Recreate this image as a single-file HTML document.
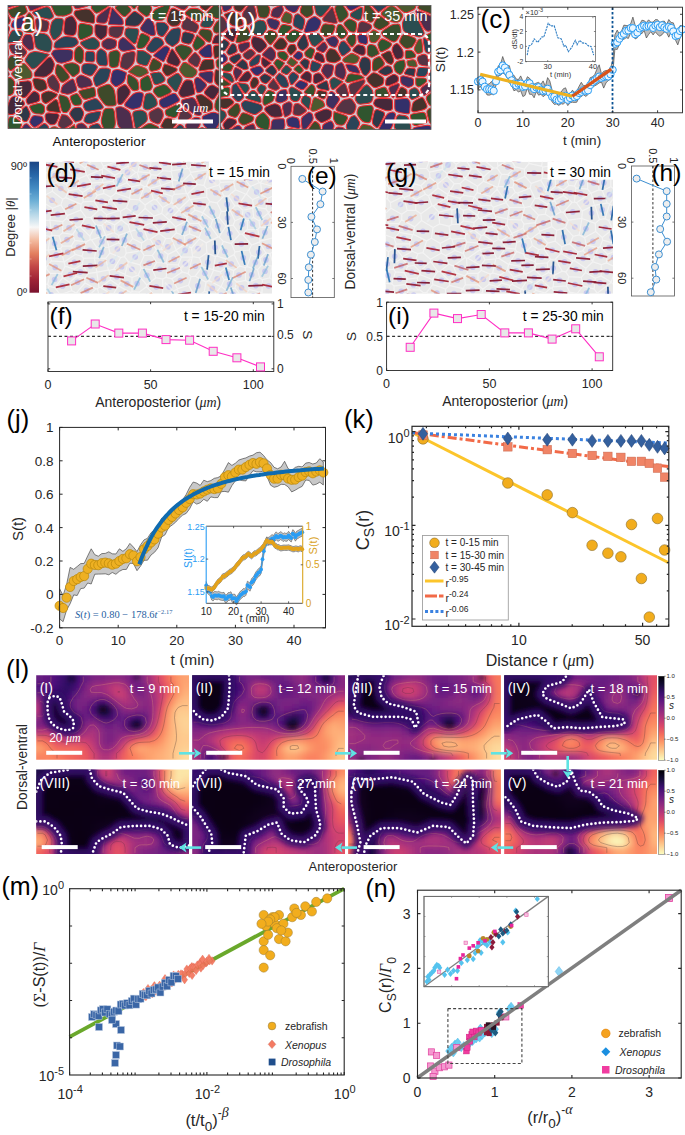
<!DOCTYPE html>
<html><head><meta charset="utf-8"><title>Figure</title>
<style>
html,body{margin:0;padding:0;background:#fff;width:685px;height:1135px;overflow:hidden}
svg{display:block}
</style></head><body>
<svg width="685" height="1135" viewBox="0 0 685 1135" font-family='"Liberation Sans", sans-serif'>
<rect width="685" height="1135" fill="#fff"/>
<clipPath id="cpa"><rect x="8" y="5.5" width="211" height="123"/></clipPath>
<g clip-path="url(#cpa)">
<rect x="8" y="5.5" width="211" height="123" fill="#d4c4cc"/>
<g stroke="#ee2a2e" stroke-width="1.05" stroke-linejoin="round"><path d="M96.1 86.3Q96.6 86.8 100 85.2L104.5 83.1Q107.9 81.5 108.8 78L110 73.3Q111 69.8 110 69.3L108.8 68.6Q107.9 68 105.4 68.1L102.1 68.1Q99.6 68.2 97.6 71.1L94.9 75.1Q92.9 78 93.5 80.2L94.3 83.1Q94.9 85.2 95.4 85.7Z" fill="#2a4458"/><path d="M92.2 83.7Q93 85.8 88.7 86.8L83.1 88Q78.9 89 77.8 85.9L76.5 81.7Q75.4 78.6 77.1 77.3L79.3 75.6Q80.9 74.3 83.8 75.7L87.7 77.4Q90.6 78.8 91.3 80.9Z" fill="#4d2e4e"/><path d="M115.9 100Q116.5 104.7 115.8 105L114.9 105.6Q114.2 106 111.6 105.9L108 105.9Q105.4 105.9 103.3 103L100.5 99.1Q98.4 96.2 98 93.8L97.6 90.6Q97.2 88.2 100.7 86.8L105.3 84.9Q108.8 83.5 110.5 85.1L112.7 87.4Q114.4 89 115 93.7Z" fill="#3e4a2a"/><path d="M93.4 74Q91.4 77 88.5 75.6L84.6 73.9Q81.7 72.5 81.8 70.4L81.8 67.7Q81.8 65.6 82.7 64.9L83.8 64Q84.7 63.4 87.7 63.5L91.7 63.7Q94.7 63.9 95.7 64.8L97.1 66.2Q98.1 67.2 96.1 70.1Z" fill="#2a4458"/><path d="M105.4 65.9Q107.9 66 107.5 61.9L107 56.4Q106.7 52.3 104.9 51.1L102.6 49.5Q100.8 48.2 99.6 49.3L97.9 50.8Q96.7 51.9 96.7 55L96.6 59.1Q96.5 62.1 97.5 63.2L98.7 64.7Q99.6 65.7 102.1 65.8Z" fill="#2a4458"/><path d="M113.6 48.5Q116 47.7 116.3 45.5L116.6 42.4Q116.8 40.2 114.3 39.4L110.8 38.4Q108.2 37.7 106.3 38.9L103.7 40.5Q101.8 41.7 101.9 43.2L101.9 45.1Q101.9 46.6 103.7 47.7L106.2 49.2Q108 50.3 110.4 49.5Z" fill="#4d2e4e"/><path d="M72.6 76.6Q72 76.5 69.1 73L65.1 68.4Q62.2 64.9 65.5 64.1L69.8 63.1Q73.1 62.3 75 63.3L77.5 64.6Q79.5 65.6 79.5 67.7L79.5 70.4Q79.5 72.5 77.9 73.8L75.7 75.5Q74 76.8 73.4 76.7Z" fill="#36502e"/><path d="M106.8 25.9Q106.6 25.7 103.5 25.3L99.3 24.8Q96.1 24.4 95.7 24.7L95.2 25.1Q94.9 25.4 94.9 28.3L94.9 32.1Q94.9 34.9 96.7 36.5L99 38.6Q100.8 40.2 102.6 38.8L105 37Q106.9 35.7 107 32.9L107.1 29.1Q107.3 26.3 107.1 26.1Z" fill="#45283a"/><path d="M55.4 60Q57 62.5 58.4 62.7L60.4 63.1Q61.8 63.4 65 62.4L69.3 61.1Q72.5 60.1 72.7 56.9L73 52.6Q73.2 49.3 67.4 49.4L59.6 49.6Q53.8 49.7 53.1 50.9L52.1 52.5Q51.4 53.6 51.5 53.8L51.5 54.1Q51.6 54.3 53.2 56.7Z" fill="#3d3060"/><path d="M87.5 99.1Q83.9 100.1 82.3 97.7L80.2 94.4Q78.6 92 78.8 91.6L79.1 91.1Q79.3 90.7 83.5 89.6L89.1 88.2Q93.3 87.1 93.8 87.5L94.5 88.1Q95 88.6 95.3 91L95.7 94.2Q96 96.6 92.4 97.6Z" fill="#3e4a2a"/><path d="M108 18.7Q106.9 23.6 103.7 23.3L99.5 22.9Q96.3 22.7 96.6 20.6L97 17.8Q97.3 15.8 101.1 13L106.1 9.4Q109.9 6.6 110.1 6.9L110.5 7.2Q110.7 7.4 109.6 12.2Z" fill="#4d2e4e"/><path d="M88.5 51.3Q85.7 51.1 85.5 54.2L85.1 58.4Q84.8 61.6 87.8 61.7L91.8 62Q94.8 62.1 94.9 59L94.9 54.9Q95 51.8 92.2 51.6Z" fill="#2a4458"/><path d="M119 26.5Q123.4 26.5 123.5 26.7L123.7 27Q123.8 27.2 123.2 29.5L122.5 32.6Q121.9 35 120.6 36L118.7 37.4Q117.4 38.5 114.8 37.7L111.4 36.6Q108.8 35.7 108.9 32.9L108.9 29.2Q109 26.4 113.3 26.4Z" fill="#553444"/><path d="M111.3 67.3Q112.2 67.8 114 67.5L116.5 67.1Q118.3 66.8 119 62.8L119.9 57.3Q120.5 53.3 119.4 52.2L117.8 50.7Q116.6 49.6 114.2 50.4L111 51.4Q108.6 52.2 108.8 56.3L109 61.8Q109.2 65.9 110.1 66.5Z" fill="#36502e"/><path d="M83.8 54.1Q84.1 50.9 82.6 49.2L80.7 47Q79.2 45.4 77.9 46.6L76.1 48.2Q74.7 49.4 74.5 52.7L74.4 57Q74.2 60.2 76.1 61.3L78.5 62.8Q80.4 63.9 81.2 63.2L82.3 62.2Q83.1 61.4 83.4 58.3Z" fill="#3e4a2a"/><path d="M119.4 49Q118.2 47.9 118.4 45.7L118.7 42.6Q118.9 40.4 120.2 39.3L122 37.8Q123.3 36.6 126.7 39.6L131.2 43.6Q134.6 46.7 134.9 47.4L135.2 48.4Q135.5 49.1 135.4 49.2L135.4 49.3Q135.3 49.3 131.3 50L126.1 50.9Q122.1 51.6 120.9 50.5Z" fill="#3d3060"/><path d="M138.3 29.6Q138 28.6 134.3 28.3L129.4 27.9Q125.8 27.6 125.3 30L124.8 33.1Q124.3 35.5 127.7 38.5L132.2 42.6Q135.5 45.6 136.6 41.5L138 35.9Q139.1 31.7 138.8 30.8Z" fill="#2b4d50"/><path d="M95.3 122.1Q98.4 121.2 99.4 118L100.7 113.7Q101.8 110.5 97.1 111.5L91 112.8Q86.4 113.8 85.5 116L84.2 118.9Q83.3 121.1 84.8 122.1L86.8 123.3Q88.3 124.3 91.3 123.4Z" fill="#2a4458"/><path d="M118.5 85.8Q116 87.4 114.2 85.8L111.9 83.6Q110.2 82 110.9 78.5L111.8 73.7Q112.5 70.2 114.4 69.9L116.9 69.5Q118.7 69.3 121 70.2L124 71.5Q126.3 72.4 126.3 72.6L126.4 72.9Q126.5 73 125.9 75.8L125 79.4Q124.4 82.1 121.8 83.7Z" fill="#33306a"/><path d="M123.1 21Q123 19.1 119.8 15.8L115.7 11.3Q112.5 7.9 112.3 7.8L112 7.7Q111.8 7.6 110.8 12.5L109.4 19Q108.4 23.9 108.6 24.1L108.8 24.3Q109 24.5 113.3 24.7L119.1 25Q123.4 25.2 123.3 23.4Z" fill="#3d3060"/><path d="M88.7 49.4Q85.9 49.2 84.3 47.7L82.1 45.6Q80.5 44.1 80.6 43.4L80.7 42.4Q80.8 41.7 84.6 40.2L89.6 38.2Q93.4 36.7 95.2 38.2L97.6 40.2Q99.4 41.7 99.5 43.2L99.5 45.2Q99.5 46.6 98.2 47.6L96.5 49Q95.1 49.9 92.4 49.7Z" fill="#2b4d50"/><path d="M62.8 93.3Q60.3 92.8 61 90.5L61.8 87.3Q62.5 85 65.3 83.2L69 80.8Q71.8 79 72.4 79L73.2 79.1Q73.8 79.1 74.8 82.3L76.1 86.4Q77 89.6 76.8 90L76.6 90.5Q76.4 90.9 74 92L70.9 93.5Q68.5 94.6 66.1 94.1Z" fill="#4d2e4e"/><path d="M55.3 70.3Q54.7 72.9 56.8 76.1L59.5 80.3Q61.5 83.5 64.3 81.7L68 79.3Q70.8 77.5 68 74L64.1 69.2Q61.2 65.6 59.8 65.2L58 64.6Q56.5 64.2 56 66.8Z" fill="#3e4a2a"/><path d="M70.2 111.9Q68.9 113.7 70.8 116.2L73.3 119.6Q75.2 122.1 75.3 122.1L75.3 122.2Q75.4 122.2 77.2 121.6L79.6 120.9Q81.5 120.4 82.3 118.1L83.4 115.1Q84.2 112.9 83.2 111.2L81.8 108.9Q80.8 107.2 78.6 107.3L75.6 107.5Q73.3 107.7 72 109.5Z" fill="#2e3848"/><path d="M121.7 57.7Q122.5 53.6 126.4 52.7L131.7 51.6Q135.6 50.7 135.2 54.4L134.7 59.3Q134.3 63 132.2 65.2L129.3 68.1Q127.2 70.3 124.9 69.3L121.9 68Q119.6 67.1 120.5 63.1Z" fill="#553444"/><path d="M92.8 32.1Q92.7 34.9 88.9 36.5L83.9 38.7Q80.2 40.4 79.5 39L78.5 37.3Q77.7 35.9 78.1 32L78.5 26.7Q78.8 22.7 83.1 23.5L88.7 24.6Q92.9 25.4 92.9 28.3Z" fill="#30552f"/><path d="M112.9 128.9Q115.8 127.2 115.3 121.5L114.7 113.9Q114.2 108.2 111.6 108.3L108 108.3Q105.4 108.3 104.7 109.1L103.8 110.1Q103.2 110.9 102.5 114.2L101.5 118.6Q100.8 121.8 102.2 125.2L104.1 129.6Q105.6 132.9 105.8 132.9L106 132.9Q106.2 132.9 109.1 131.2Z" fill="#36502e"/><path d="M94.1 22.8Q94.5 22.5 94.6 20.4L94.7 17.6Q94.8 15.5 93.1 13.4L90.9 10.6Q89.2 8.5 84.9 9.1L79.1 10.1Q74.8 10.7 74.5 11.8L74 13.1Q73.7 14.1 75.3 16.2L77.5 19Q79.1 21.1 83.4 21.8L89 22.8Q93.3 23.5 93.7 23.2Z" fill="#45322c"/><path d="M76.6 45Q78.1 43.9 78.1 43.2L78.2 42.2Q78.3 41.5 77.5 40.2L76.4 38.5Q75.6 37.2 71.9 36.9L67 36.6Q63.3 36.3 60.7 38.1L57.2 40.4Q54.6 42.1 54.4 44.1L54 46.7Q53.7 48.7 59.6 48.3L67.3 47.8Q73.1 47.5 74.6 46.4Z" fill="#2a4458"/><path d="M65.6 114.9Q67.2 115.1 69.1 117.5L71.7 120.8Q73.7 123.3 70.5 125.2L66.2 127.8Q63 129.8 61.4 128.3L59.1 126.4Q57.4 125 58.7 121.9L60.4 117.8Q61.6 114.7 61.7 114.7L61.7 114.6Q61.8 114.6 63.4 114.7Z" fill="#553444"/><path d="M125.5 20.9Q125.5 19.1 127.9 16.8L131.1 13.7Q133.5 11.4 134.1 11.4L134.9 11.3Q135.5 11.3 138.3 13.2L141.9 15.9Q144.7 17.9 142.8 20.5L140.1 23.9Q138.2 26.5 134.5 26.3L129.6 26Q125.9 25.8 125.8 25.6L125.6 25.3Q125.4 25.1 125.5 23.3Z" fill="#2e3848"/><path d="M59.6 94.6Q59.5 94.7 59.2 95.6L58.8 96.8Q58.5 97.7 59.5 102.1L60.9 107.9Q62 112.3 63.6 112.4L65.7 112.6Q67.4 112.7 68.6 110.8L70.2 108.2Q71.4 106.3 70.3 103.5L69 99.8Q67.9 97 65.5 96.3L62.3 95.3Q59.8 94.5 59.7 94.6Z" fill="#36502e"/><path d="M47.5 81.9Q46.7 79.2 48.7 77.6L51.4 75.4Q53.4 73.7 55.4 76.9L58.1 81.2Q60.1 84.4 59.6 86.8L59 90Q58.6 92.4 58.5 92.4L58.4 92.5Q58.3 92.5 55.6 91.3L52 89.5Q49.3 88.3 48.5 85.5Z" fill="#553444"/><path d="M140.4 28.7Q140 27.8 141.9 25.2L144.4 21.7Q146.2 19 147.2 18.8L148.4 18.5Q149.3 18.3 150.6 19.6L152.4 21.4Q153.8 22.7 154.4 26.4L155.1 31.3Q155.7 34.9 154.6 35.3L153 35.7Q151.8 36 148.7 34.5L144.5 32.4Q141.4 30.8 141 29.9Z" fill="#3d3060"/><path d="M138.2 6.5Q136.8 9.5 139.5 11.6L143 14.5Q145.7 16.6 146.6 16.4L147.8 16.1Q148.8 16 149.8 13.7L151.3 10.6Q152.4 8.3 150.4 5.5L147.8 1.8Q145.9 -1 144.5 -0.8L142.7 -0.6Q141.3 -0.4 139.9 2.5Z" fill="#36502e"/><path d="M129.1 4Q127.3 2 127.7 0.7L128.4 -1Q128.9 -2.3 130.9 -2.8L133.7 -3.5Q135.7 -4 136.9 -3.1L138.5 -2Q139.7 -1.1 138.4 1.9L136.7 5.8Q135.4 8.8 134.8 8.8L134 8.9Q133.3 8.9 131.5 6.8Z" fill="#30552f"/><path d="M121 106.8Q122.4 106.8 124.8 108.3L128 110.3Q130.4 111.8 131.4 117L132.7 123.9Q133.6 129 132.8 129.8L131.8 130.8Q131 131.5 129.8 131.5L128.3 131.5Q127.2 131.5 124.4 130.1L120.6 128.3Q117.8 127 117.1 121.3L116.2 113.8Q115.5 108.1 116.1 107.7L117 107.2Q117.7 106.8 119.1 106.8Z" fill="#4d2e4e"/><path d="M34.3 33.9Q33.6 34.5 34.2 38.8L35 44.5Q35.5 48.8 39.7 49.9L45.3 51.4Q49.4 52.5 50.1 51.3L51 49.7Q51.6 48.5 51.8 46.5L52 43.9Q52.2 41.9 50.7 39.5L48.7 36.3Q47.2 33.9 43.9 33.4L39.4 32.9Q36.1 32.5 35.3 33.1Z" fill="#2b4d50"/><path d="M72.1 102.9Q73.2 105.6 75.5 105.5L78.5 105.3Q80.7 105.2 81.2 104L81.8 102.4Q82.3 101.1 80.8 98.6L78.8 95.3Q77.3 92.8 74.9 93.9L71.8 95.3Q69.4 96.4 70.5 99.2Z" fill="#30552f"/><path d="M96 -0.2Q95.4 0 93.9 2.2L92 5.1Q90.5 7.4 92.2 9.4L94.6 12.2Q96.3 14.3 100.2 11.8L105.4 8.4Q109.3 5.8 109 5.2L108.7 4.5Q108.4 3.9 105.1 2.6L100.7 0.9Q97.4 -0.4 96.8 -0.3Z" fill="#30552f"/><path d="M120.9 104.4Q122.3 104.3 125 100.6L128.6 95.7Q131.3 92 129.5 89.5L127.1 86.2Q125.3 83.6 122.8 85.2L119.4 87.2Q116.8 88.8 117.1 93.5L117.4 99.8Q117.6 104.6 119 104.5Z" fill="#45283a"/><path d="M45.2 117.4Q44.8 115.7 45.4 114.8L46.2 113.5Q46.9 112.6 50.8 113L56.2 113.6Q60.2 114.1 58.8 117.1L57.1 121.2Q55.7 124.2 54.2 124.5L52.1 124.8Q50.5 125 49.2 123.8L47.4 122.3Q46 121.1 45.6 119.5Z" fill="#45283a"/><path d="M130.9 88.6Q132.6 91.1 134.6 90.7L137.3 90.2Q139.3 89.8 138.9 86.8L138.3 82.7Q137.8 79.7 134.9 77.8L130.9 75.2Q128 73.3 127.6 76.1L127.2 79.8Q126.8 82.6 128.5 85.1Z" fill="#36502e"/><path d="M169.9 6Q170.4 6.6 168.6 10.6L166.3 15.9Q164.6 19.9 161.8 20.2L158.2 20.6Q155.4 20.9 154 19.7L152 18.1Q150.6 16.9 151.8 14.6L153.4 11.6Q154.5 9.4 158.4 7.8L163.6 5.7Q167.4 4.1 167.9 4.3L168.4 4.5Q168.8 4.7 169.3 5.2Z" fill="#30552f"/><path d="M29.8 13Q30.2 13.2 31.3 14.6L32.7 16.4Q33.7 17.7 34 21.6L34.3 26.7Q34.5 30.6 33.8 31.2L32.8 32Q32 32.7 29.9 32.5L27.1 32.3Q25 32.1 24.5 31.3L23.7 30.3Q23.2 29.5 24.1 25.4L25.4 19.9Q26.3 15.7 27.1 14.8L28.1 13.5Q28.8 12.5 29.2 12.7Z" fill="#3e4a2a"/><path d="M166.2 23.7Q164.7 22.1 162 22.2L158.3 22.3Q155.5 22.4 156.1 26.1L156.9 31Q157.4 34.7 159.1 35.5L161.3 36.5Q163 37.3 165 34.4L167.6 30.5Q169.6 27.6 168.2 26Z" fill="#2a4458"/><path d="M131.8 73.8Q128.7 72.2 128.6 72L128.5 71.7Q128.4 71.6 130.7 69.5L133.7 66.8Q136 64.7 139.1 65.8L143.3 67.3Q146.4 68.4 147 69.6L147.8 71.3Q148.4 72.5 148.3 72.7L148.2 73Q148.1 73.3 145.4 74.6L141.7 76.4Q139 77.7 135.9 76Z" fill="#4c5a30"/><path d="M83.3 104.9Q82.8 106.1 83.8 107.8L85.1 110.1Q86 111.8 90.7 111.1L96.9 110.1Q101.5 109.3 102.3 108.6L103.2 107.7Q103.9 107 101.7 104.2L98.7 100.5Q96.4 97.7 92.9 99L88.1 100.8Q84.5 102.1 84 103.3Z" fill="#2a4458"/><path d="M121.1 14.6Q124.3 17.9 126.6 15.5L129.8 12.4Q132.1 10 130.2 8L127.7 5.3Q125.8 3.3 122.1 4.3L117.3 5.8Q113.6 6.9 116.8 10.2Z" fill="#36502e"/><path d="M72 35.4Q75.7 35.7 76.1 31.8L76.7 26.5Q77.1 22.6 75.6 20.4L73.7 17.4Q72.2 15.2 70 16.2L67.1 17.6Q64.9 18.6 64.5 23.4L63.9 29.7Q63.4 34.5 67.1 34.9Z" fill="#45283a"/><path d="M26.9 34.4Q24.8 34.3 23.7 36.7L22.2 40Q21 42.5 23.3 44.9L26.4 48.1Q28.7 50.6 30.4 50.1L32.6 49.4Q34.3 49 33.6 44.7L32.6 39Q31.9 34.8 29.8 34.6Z" fill="#4d2e4e"/><path d="M37.5 76.8Q34.2 76.5 34.3 75.2L34.3 73.3Q34.4 72 39 67L45.2 60.4Q49.8 55.4 51.4 57.9L53.4 61.3Q54.9 63.8 54.1 66.3L53.1 69.7Q52.3 72.3 50.2 73.8L47.4 75.8Q45.3 77.4 42 77.1Z" fill="#45283a"/><path d="M87.4 -6.1Q84.6 -8.2 80.9 -6.2L76 -3.5Q72.3 -1.5 73 1.8L73.9 6.2Q74.6 9.5 78.8 8.5L84.5 7.1Q88.7 6.1 90.2 3.9L92.3 1.1Q93.8 -1.1 91.1 -3.2Z" fill="#553444"/><path d="M42.9 117.8Q42.6 116.2 39.6 115.9L35.6 115.6Q32.6 115.3 31.5 117.4L30.1 120.2Q29 122.3 30.6 124.1L32.7 126.4Q34.3 128.2 37.1 126.2L40.8 123.6Q43.6 121.6 43.3 120Z" fill="#33306a"/><path d="M155.3 37.3Q156.4 36.9 158.1 37.6L160.4 38.6Q162.1 39.3 162.8 40.8L163.8 42.7Q164.6 44.2 160.9 47L156.1 50.9Q152.5 53.7 150.4 52.3L147.6 50.4Q145.4 49 147.6 45.8L150.5 41.6Q152.6 38.4 153.8 37.9Z" fill="#2a4458"/><path d="M143.8 33.7Q140.7 32.2 139.5 36.3L137.9 41.8Q136.7 46 136.9 46.7L137.2 47.7Q137.4 48.5 139.4 48.4L142.2 48.3Q144.2 48.2 146.3 45L149.1 40.6Q151.1 37.4 148 35.8Z" fill="#30552f"/><path d="M151.9 4.5Q153.8 7.4 157.7 5.9L162.9 4Q166.9 2.6 165.6 0.4L163.9 -2.5Q162.7 -4.6 159.2 -5.5L154.5 -6.6Q151 -7.5 149.9 -5.9L148.6 -3.7Q147.5 -2.1 149.4 0.8Z" fill="#553444"/><path d="M146.3 52.2Q144.3 50.7 142.2 50.6L139.5 50.6Q137.4 50.5 137.4 50.6L137.3 50.7Q137.2 50.8 137 54.5L136.7 59.5Q136.5 63.2 139.7 64.2L143.9 65.6Q147 66.7 148.3 63.7L150.1 59.7Q151.4 56.8 151.4 56.4L151.2 56Q151.2 55.6 149.1 54.1Z" fill="#2b4d50"/><path d="M173.8 28.5Q171.3 28.9 169.2 31.7L166.4 35.4Q164.3 38.2 165 39.7L166 41.7Q166.7 43.1 168.2 44.1L170.2 45.4Q171.7 46.4 172.1 46.4L172.7 46.4Q173.1 46.5 174.9 45.2L177.4 43.4Q179.3 42.1 179.8 38.7L180.5 34.2Q181 30.8 180.5 29.8L179.9 28.5Q179.4 27.5 177 27.9Z" fill="#2a4458"/><path d="M36 26.6Q36.4 30.4 39.7 31L44.1 31.7Q47.4 32.2 48.1 28.9L49 24.5Q49.6 21.2 45.3 20.2L39.5 18.7Q35.2 17.6 35.5 21.4Z" fill="#553444"/><path d="M126.3 101.6Q123.3 105.1 125.8 106.5L129.2 108.3Q131.7 109.7 134.5 109L138.2 108.1Q141 107.5 141.8 103.3L143 97.8Q143.8 93.6 142.6 93.1L141 92.4Q139.8 91.9 137.8 92.3L135.1 93Q133.1 93.5 130.2 97Z" fill="#33306a"/><path d="M41.4 95.8Q41.2 93.6 43.4 92.7L46.2 91.5Q48.4 90.6 51.2 91.6L54.9 92.9Q57.7 93.9 57.3 94.8L56.7 96Q56.3 96.9 53.1 99L48.9 102Q45.7 104.2 44.6 103.2L43.1 102Q42 101 41.8 98.8Z" fill="#45322c"/><path d="M87.7 129.8Q86.9 126.4 85.5 125.3L83.6 123.8Q82.1 122.7 80.3 123.2L77.9 123.9Q76 124.4 76.8 128.5L77.7 133.9Q78.5 138 81.8 138L86.3 137.8Q89.7 137.8 88.9 134.3Z" fill="#4d2e4e"/><path d="M38 66Q33.2 70.9 30.8 67.9L27.5 63.9Q25.1 60.9 25.1 60.4L25.1 59.8Q25.1 59.4 26.4 57.4L28.1 54.8Q29.4 52.9 31.1 52.4L33.3 51.7Q35 51.2 39.2 52L44.8 53.2Q49.1 54.1 49.1 54.3L49.2 54.5Q49.2 54.7 44.4 59.6Z" fill="#2b4d50"/><path d="M182.3 34.5Q182.8 31.1 186.6 32L191.6 33.3Q195.4 34.2 194 37.4L192 41.5Q190.6 44.7 187.7 44L183.9 43.1Q181.1 42.4 181.6 39Z" fill="#2e3848"/><path d="M22.6 25Q21.5 29.1 18.7 28.7L14.9 28.2Q12.1 27.8 11.8 27.1L11.3 26.1Q11 25.3 11.6 23.9L12.4 22Q13 20.6 16.6 19L21.5 17Q25.2 15.4 24.1 19.5Z" fill="#33306a"/><path d="M31 77.9Q30.5 78.5 26.4 79L20.9 79.6Q16.8 80 15.3 78.5L13.2 76.4Q11.7 74.9 11.7 74.3L11.6 73.5Q11.6 72.8 15.2 69.6L20.1 65.3Q23.7 62 26.2 65L29.4 69Q31.9 72 31.9 73.3L32 75.2Q32.1 76.5 31.6 77.1Z" fill="#4c5a30"/><path d="M26.7 12.3Q27.6 11.4 26.7 9.5L25.6 6.9Q24.8 4.9 24.3 4.7L23.6 4.3Q23.1 4.1 18.3 5.9L11.9 8.3Q7.1 10.2 7.1 10.2L7 10.2Q7 10.2 8.6 12.8L10.7 16.2Q12.3 18.8 16 17.4L21 15.7Q24.8 14.4 25.6 13.5Z" fill="#3e4a2a"/><path d="M27.6 104Q27.3 103.8 26.8 102.6L26.2 101Q25.7 99.7 28.1 96.9L31.4 93.2Q33.8 90.4 35.4 91.4L37.6 92.8Q39.2 93.8 39.5 96L39.8 99Q40 101.2 36.5 102.2L31.9 103.5Q28.5 104.5 28.1 104.3Z" fill="#45283a"/><path d="M30.8 10.9Q31.2 11.1 36.3 9L43.1 6.2Q48.1 4 48.3 3.5L48.4 2.7Q48.6 2.1 45.6 -1L41.7 -5.1Q38.7 -8.2 35.2 -4.5L30.5 0.3Q27 4 27.8 5.9L29 8.5Q29.8 10.5 30.2 10.7Z" fill="#4d2e4e"/><path d="M119.7 130.3Q116.9 129 114 130.7L110.1 132.9Q107.2 134.5 110.2 137.8L114.2 142.1Q117.1 145.3 119.9 141.7L123.6 136.9Q126.4 133.3 123.5 132Z" fill="#33306a"/><path d="M69.2 14.2Q71.4 13.4 71.7 12.3L72.1 11Q72.5 10 71.7 6.7L70.7 2.3Q69.9 -1 68.1 -2.6L65.7 -4.8Q63.8 -6.4 60 -3.7L54.8 -0.1Q51 2.6 50.9 3.2L50.7 4Q50.6 4.6 52.1 7.9L54.1 12.4Q55.6 15.8 58.1 15.9L61.5 16.1Q64 16.3 66.2 15.4Z" fill="#30552f"/><path d="M143 110.6Q141.5 109.8 138.7 110.3L134.9 111Q132 111.5 133 116.7L134.2 123.6Q135.1 128.7 136 128.6L137.1 128.5Q137.9 128.4 140.9 126.1L144.8 123.2Q147.8 121 147.4 118.5L147 115.1Q146.6 112.6 145.1 111.8Z" fill="#2b4d50"/><path d="M190.7 53.7Q192.9 51.2 192.1 49.8L190.9 48Q190.1 46.7 187.2 45.9L183.5 44.9Q180.6 44.2 178.7 45.4L176.1 46.9Q174.1 48.1 176.6 51.8L180 56.8Q182.5 60.5 183.3 60.3L184.5 60Q185.4 59.8 187.7 57.2Z" fill="#36502e"/><path d="M161.5 65.3Q162.2 63.4 159.5 61.6L155.8 59.2Q153 57.4 151.7 60.4L150 64.4Q148.7 67.4 149.2 68.7L149.9 70.3Q150.4 71.6 153.2 71L157 70.2Q159.8 69.6 160.5 67.7Z" fill="#3e4a2a"/><path d="M144.1 108.6Q142.6 107.8 143.4 103.6L144.4 98Q145.2 93.9 147 93.5L149.4 93Q151.2 92.6 152.9 94.8L155.2 97.7Q156.9 99.8 157 101.6L157.3 103.9Q157.4 105.6 154.5 107.1L150.6 109Q147.7 110.5 146.2 109.7Z" fill="#2b4d50"/><path d="M-4.3 21.1Q-3.2 22.2 0.5 22.9L5.4 23.9Q9.1 24.6 9.6 23.1L10.2 21.2Q10.7 19.7 9.2 17.1L7.2 13.6Q5.7 11 2 13.3L-2.9 16.4Q-6.6 18.8 -5.6 19.8Z" fill="#45322c"/><path d="M21.8 31.8Q21.2 31 18.4 30.6L14.6 30Q11.8 29.6 10.3 33.3L8.2 38.2Q6.7 42 7.1 42.3L7.8 42.7Q8.3 43.1 11.6 42.7L16 42.1Q19.3 41.7 20.4 39.2L22 35.9Q23.1 33.5 22.5 32.7Z" fill="#2b4d50"/><path d="M163.4 61.8Q163.2 61.9 160.4 60.1L156.6 57.8Q153.8 56.1 153.7 55.8L153.6 55.3Q153.5 55 157 52L161.8 48.1Q165.4 45.2 166.9 46.1L168.9 47.4Q170.5 48.3 168.5 52.3L165.9 57.5Q164 61.5 163.8 61.6Z" fill="#33306a"/><path d="M59.5 108.2Q60.5 112.6 60.4 112.6L60.4 112.7Q60.3 112.7 56.3 112.2L51 111.6Q47 111.2 46.9 109.5L46.8 107.3Q46.8 105.7 49.9 103.4L54 100.3Q57.2 98 58.2 102.4Z" fill="#45322c"/><path d="M62.4 29.6Q61.8 34.3 59.4 36.3L56.2 39Q53.7 41 52.4 38.5L50.7 35.1Q49.3 32.6 50 29.3L50.9 24.9Q51.6 21.6 52.8 20.6L54.4 19.3Q55.5 18.2 58 18.3L61.4 18.4Q63.9 18.4 63.3 23.2Z" fill="#2b4d50"/><path d="M71.4 126.6Q74.5 124.5 74.5 124.5L74.6 124.6Q74.7 124.6 75.3 128.7L76.2 134.2Q76.8 138.3 76.3 138.8L75.7 139.4Q75.2 139.9 71.8 139.8L67.2 139.7Q63.8 139.7 63.9 137.2L64 133.9Q64.1 131.4 67.2 129.3Z" fill="#30552f"/><path d="M25.1 49.4Q27.6 51.7 26.3 53.6L24.5 56.1Q23.2 58 19.6 56.6L14.9 54.6Q11.3 53.1 10.5 50.6L9.3 47.2Q8.5 44.6 11.8 44.4L16.2 44.2Q19.5 44 21.9 46.3Z" fill="#553444"/><path d="M156.9 96.3Q158.7 98.3 162.9 96.4L168.5 93.9Q172.8 91.9 170.5 89.4L167.5 86.1Q165.3 83.7 162.2 84.7L158.1 86.2Q155 87.3 154.3 88.5L153.4 90.2Q152.7 91.4 154.5 93.5Z" fill="#30552f"/><path d="M169.2 63.7Q165.6 62.2 167.4 58.2L169.7 52.8Q171.5 48.8 171.9 48.9L172.4 48.9Q172.9 49 175.3 52.7L178.5 57.7Q181 61.5 179.9 63.1L178.6 65.3Q177.6 67 174 65.6Z" fill="#45283a"/><path d="M112.9 5.6Q113.2 5.7 116.8 4.3L121.5 2.5Q125.1 1.2 125.6 -0.1L126.2 -1.8Q126.7 -3.1 123.9 -7.5L120.1 -13.2Q117.3 -17.5 115.3 -11.4L112.6 -3.3Q110.6 2.9 110.9 3.4L111.3 4.2Q111.5 4.8 111.8 5L112.1 5.3Q112.4 5.5 112.6 5.6Z" fill="#45283a"/><path d="M32.3 104.9Q28.8 105.8 30 108.1L31.6 111.1Q32.8 113.3 35.8 113.7L39.8 114.1Q42.8 114.5 43.4 113.5L44.2 112.2Q44.8 111.3 44.6 109.7L44.5 107.5Q44.4 105.8 43.2 105L41.6 103.8Q40.5 102.9 37 103.8Z" fill="#30552f"/><path d="M95.8 123.7Q98.8 122.7 100.4 126L102.6 130.3Q104.2 133.6 101.7 135.8L98.3 138.7Q95.8 140.9 94.4 139.8L92.6 138.5Q91.2 137.4 90.5 134L89.5 129.4Q88.8 125.9 91.8 125Z" fill="#2a4458"/><path d="M38.7 90.8Q40.4 91.7 42.6 90.8L45.5 89.6Q47.6 88.8 46.9 86L45.8 82.4Q45 79.7 41.7 79.2L37.3 78.5Q34 78.1 33.6 78.7L33 79.5Q32.5 80.1 33.2 82.6L34.1 86.1Q34.8 88.7 36.5 89.6Z" fill="#45322c"/><path d="M0.1 24.4Q-3.5 23.6 -3 28.9L-2.3 36Q-1.7 41.4 0.4 41.4L3.2 41.4Q5.3 41.4 6.7 37.6L8.5 32.6Q9.8 28.8 9.5 28L9.1 27Q8.7 26.3 5.1 25.5Z" fill="#2e3848"/><path d="M179.4 10.9Q182.9 12.6 182.9 13.3L183.1 14.4Q183.1 15.1 181.9 18.3L180.3 22.5Q179.1 25.7 176.7 25.9L173.5 26.2Q171 26.5 169.7 24.7L167.8 22.4Q166.5 20.6 167.9 16.5L169.9 11.1Q171.3 7 174.8 8.6Z" fill="#45322c"/><path d="M164.4 64Q164.2 64.1 163.5 66L162.6 68.5Q161.9 70.4 163.4 72.4L165.3 75Q166.7 77 169.8 75.2L174 72.8Q177.1 71 177.1 70.2L177.1 69Q177.1 68.2 173.5 66.9L168.6 65.1Q165 63.8 164.8 63.9Z" fill="#45322c"/><path d="M157.5 84.4Q154.4 85.6 153.2 82.1L151.7 77.5Q150.5 74 150.5 73.8L150.6 73.5Q150.7 73.2 153.5 72.8L157.4 72.2Q160.2 71.7 161.7 73.6L163.7 76.2Q165.3 78.1 165.1 79.2L164.8 80.7Q164.6 81.8 161.6 82.9Z" fill="#2b4d50"/><path d="M156.7 130.7Q158.7 127.7 158.6 127.4L158.4 126.9Q158.3 126.6 155.5 125.4L151.8 123.8Q149 122.7 146 124.8L141.9 127.6Q138.8 129.7 142.5 132.1L147.5 135.4Q151.2 137.9 151.5 137.8L151.8 137.8Q152 137.7 154 134.7Z" fill="#36502e"/><path d="M182.4 23.2Q181.3 26.5 181.9 27.4L182.6 28.7Q183.2 29.6 187 30.5L192 31.8Q195.8 32.7 195.9 32.7L196 32.6Q196.1 32.6 196.9 31.1L198 29.1Q198.8 27.5 198.6 26.6L198.3 25.4Q198 24.4 194.1 21.8L188.9 18.4Q184.9 15.8 183.8 19Z" fill="#553444"/><path d="M30 92.1Q32.4 89.3 31.9 86.6L31.2 83.1Q30.7 80.5 26.6 80.9L21.1 81.5Q17 81.9 16.6 85.5L16.1 90.3Q15.8 93.8 18.4 95.3L21.9 97.2Q24.5 98.7 26.9 95.9Z" fill="#45283a"/><path d="M212.1 33Q212.7 34.4 212 36.7L211.2 39.9Q210.5 42.2 209.6 42.2L208.4 42.1Q207.5 42 204.7 39.5L200.9 36.2Q198.1 33.7 198.9 32.2L200.1 30.2Q200.9 28.7 203.8 29.1L207.6 29.6Q210.5 29.9 211.2 31.3Z" fill="#3e4a2a"/><path d="M151.5 110.8Q148.6 112.3 149 114.8L149.6 118.1Q149.9 120.6 152.7 121.9L156.3 123.6Q159.1 124.9 160.4 122.3L162.2 118.8Q163.6 116.2 163.3 114.5L162.9 112.3Q162.6 110.7 161.3 109.6L159.6 108.3Q158.3 107.2 155.4 108.7Z" fill="#553444"/><path d="M164.6 142.4Q163 146.1 160.2 143.9L156.5 141Q153.7 138.8 155.6 135.7L158.1 131.6Q160.1 128.6 162.6 130.1L165.9 132.2Q168.4 133.7 166.8 137.4Z" fill="#33306a"/><path d="M60 129.9Q61.7 131.4 61.7 133.9L61.8 137.2Q61.9 139.7 61.7 139.9L61.4 140.2Q61.2 140.5 57.6 140.2L52.8 139.9Q49.2 139.7 48.7 139.3L48.1 138.9Q47.6 138.6 48.6 135.2L49.9 130.6Q50.8 127.2 52.4 127.1L54.5 126.8Q56 126.6 57.7 128Z" fill="#4c5a30"/><path d="M174.9 91.1Q174.1 90.8 171.9 88.2L169.1 84.8Q166.9 82.2 167.2 81.2L167.5 79.7Q167.7 78.6 170.8 76.7L174.8 74.2Q177.9 72.4 179.4 74.3L181.4 76.9Q183 78.9 181.1 82.8L178.6 88Q176.8 91.9 176 91.5Z" fill="#2b4d50"/><path d="M159.4 101.4Q159.3 99.6 163.5 97.7L169.1 95Q173.3 93 174.1 93.3L175.2 93.6Q176 93.9 177.1 95.5L178.5 97.6Q179.6 99.1 179.4 99.9L179.2 101Q179 101.7 174.5 103.8L168.6 106.7Q164.1 108.8 162.8 107.8L161 106.4Q159.7 105.4 159.6 103.7Z" fill="#33306a"/><path d="M179.6 70.2Q179.6 71 181.1 73L183.2 75.6Q184.7 77.5 187.1 77.6L190.2 77.7Q192.5 77.7 193.6 76.8L195.1 75.6Q196.2 74.7 196.5 73.9L196.9 72.7Q197.2 71.9 197 71.2L196.7 70.3Q196.4 69.6 193.3 67.4L189.1 64.4Q185.9 62.2 185 62.4L183.8 62.6Q182.9 62.7 181.9 64.4L180.6 66.6Q179.6 68.2 179.6 69.1Z" fill="#4c5a30"/><path d="M20.5 127.5Q22.9 123.3 20.2 121.3L16.7 118.7Q14.1 116.7 12.6 116.7L10.5 116.7Q9 116.7 8.4 119.8L7.7 123.9Q7.1 127.1 9.5 130.1L12.7 134.2Q15.1 137.3 17.4 133.1Z" fill="#30552f"/><path d="M170.1 131.7Q170.4 131.7 172.5 129.1L175.4 125.6Q177.6 123 177.1 122.1L176.4 120.9Q175.9 120 172.8 119.2L168.7 118.1Q165.6 117.3 164.1 119.8L162.2 123.2Q160.7 125.8 160.8 126.1L160.9 126.6Q161.1 126.9 163.6 128.4L167 130.3Q169.5 131.8 169.8 131.8Z" fill="#45322c"/><path d="M14.2 68.5Q10.7 71.8 9.1 69.7L7 66.8Q5.5 64.6 7 61.7L9.1 57.7Q10.7 54.7 14.3 56.1L19.1 57.9Q22.7 59.3 22.7 59.7L22.6 60.3Q22.6 60.8 19 64.1Z" fill="#3e4a2a"/><path d="M32.8 13.3Q31.6 12 36.7 10.1L43.6 7.4Q48.7 5.4 50.3 8.8L52.5 13.2Q54.1 16.5 52.9 17.5L51.2 18.7Q50 19.7 45.7 18.6L39.9 17.2Q35.5 16.1 34.4 14.9Z" fill="#2b4d50"/><path d="M10.5 -6.6Q13.4 -9.9 16.2 -6L19.9 -0.8Q22.7 3 17.9 4.7L11.4 6.9Q6.5 8.6 5.6 6.4L4.5 3.5Q3.6 1.4 6.5 -2Z" fill="#3d3060"/><path d="M24.5 103.5Q25 104.7 21.7 107.6L17.3 111.4Q14 114.3 12.5 114.4L10.4 114.6Q8.9 114.7 8 113.7L6.9 112.3Q6 111.3 7.3 107.4L9 102.1Q10.3 98.2 11.6 97.4L13.4 96.4Q14.7 95.6 17.3 97.1L20.8 99.1Q23.4 100.6 23.9 101.8Z" fill="#45283a"/><path d="M26.3 106.1Q26 105.8 22.7 108.7L18.3 112.6Q15 115.4 17.7 117.3L21.3 119.8Q24 121.6 25 121.6L26.3 121.5Q27.2 121.4 28.3 119.3L29.7 116.5Q30.7 114.4 29.7 112L28.2 108.9Q27.1 106.6 26.8 106.4Z" fill="#2e3848"/><path d="M212 25.6Q210.8 27.9 207.9 27.6L204 27.3Q201.1 27 200.9 26.1L200.7 24.8Q200.5 23.9 202.2 21.3L204.4 17.8Q206.1 15.1 208.8 16.7L212.4 18.8Q215 20.4 213.7 22.6Z" fill="#2b4d50"/><path d="M169.2 108Q164.8 110.2 165.2 111.9L165.6 114.1Q166 115.7 169.1 116.5L173.2 117.5Q176.4 118.3 177.6 114.7L179.2 109.9Q180.5 106.2 180.2 105.2L179.8 103.9Q179.6 102.8 175.1 105.1Z" fill="#30552f"/><path d="M195.5 50.2Q194.8 50 194 48.6L193 46.8Q192.2 45.4 193.6 42.3L195.5 38.1Q196.9 34.9 197 34.9L197.1 34.8Q197.1 34.8 200 37.3L203.7 40.7Q206.5 43.2 203.6 45.4L199.8 48.3Q197 50.5 196.3 50.3Z" fill="#30552f"/><path d="M41.7 124.8Q44.5 122.8 45.9 124L47.7 125.6Q49 126.8 48.2 130.2L47 134.7Q46.1 138.2 43.2 138.3L39.4 138.6Q36.5 138.8 36.1 138.5L35.6 138Q35.2 137.7 35.2 135.2L35.2 131.9Q35.2 129.5 38 127.5Z" fill="#2a4458"/><path d="M14.1 90Q13.6 93.6 12.3 94.3L10.5 95.3Q9.1 96 7 94.9L4.1 93.4Q1.9 92.3 1.4 89.3L0.8 85.4Q0.3 82.5 3.2 80.7L7.1 78.3Q10.1 76.5 11.6 78.1L13.6 80.1Q15.1 81.7 14.6 85.3Z" fill="#3e4a2a"/><path d="M176.8 136.7Q179 138.4 181.9 137.9L185.8 137.3Q188.7 136.8 186.9 133.4L184.6 128.8Q182.8 125.3 181.6 125L180.1 124.5Q178.9 124.1 176.8 126.7L173.8 130.2Q171.7 132.8 173.9 134.5Z" fill="#2a4458"/><path d="M31.2 127.8Q32.8 129.6 33 132L33.2 135.3Q33.4 137.8 28.3 138.3L21.5 139Q16.4 139.5 16.2 139L16.1 138.3Q16 137.8 18.5 133.7L21.8 128.2Q24.3 124.1 25.3 124L26.5 123.8Q27.5 123.7 29 125.5Z" fill="#3d3060"/><path d="M180.8 122.2Q179.6 121.9 179.2 121L178.6 119.8Q178.1 118.9 179.2 115.2L180.7 110.3Q181.8 106.7 185.3 109.5L189.9 113.3Q193.4 116.1 190.4 118.2L186.5 120.9Q183.5 123 182.3 122.6Z" fill="#553444"/><path d="M186.2 128Q184.6 124.5 187.5 122.3L191.4 119.5Q194.3 117.3 196 117.3L198.4 117.4Q200.1 117.4 200.3 119.7L200.4 122.9Q200.6 125.3 197.5 128.6L193.5 133.1Q190.5 136.4 190.3 136.3L190.1 136.3Q190 136.2 188.3 132.7Z" fill="#4d2e4e"/><path d="M180.5 96.3Q181.5 97.9 185.2 96.9L190.2 95.7Q193.9 94.7 194.2 94.3L194.7 93.8Q195 93.4 194.3 89.4L193.2 84Q192.5 79.9 190.1 79.9L187 79.8Q184.7 79.8 182.7 83.6L180.1 88.7Q178.1 92.5 179.1 94.1Z" fill="#45283a"/><path d="M9.2 74.5Q9.3 75.1 6.3 76.7L2.2 78.8Q-0.9 80.4 -2 80.2L-3.5 79.9Q-4.6 79.7 -6.6 75.8L-9.3 70.7Q-11.3 66.8 -9.5 65.9L-7.1 64.8Q-5.4 63.9 -2.7 64.5L0.9 65.4Q3.5 66.1 5.2 68.2L7.4 71Q9.1 73 9.2 73.7Z" fill="#2a4458"/><path d="M181.6 101.4Q181.4 102.2 181.8 103.2L182.3 104.5Q182.7 105.5 186.2 108.3L190.9 112.1Q194.4 114.9 196.1 115.1L198.5 115.4Q200.2 115.5 200.7 115L201.3 114.3Q201.8 113.8 199.6 108.7L196.6 102Q194.4 96.9 190.6 97.7L185.7 98.8Q181.9 99.6 181.8 100.4Z" fill="#4d2e4e"/><path d="M227.1 44.3Q227.2 44.3 227.5 42.1L227.9 39.1Q228.3 36.9 227.3 36L226.1 34.9Q225.2 34 222.1 34.3L218 34.7Q214.9 35.1 214.1 37.4L213 40.5Q212.2 42.8 212.5 43L212.8 43.4Q213 43.6 217.2 43.8L222.9 44.1Q227.1 44.3 227.1 44.3Z" fill="#45283a"/><path d="M3.2 43.8Q5.3 43.9 5.8 44.2L6.4 44.7Q6.9 45.1 7.5 47.7L8.3 51.2Q8.9 53.8 7.5 56.9L5.5 60.9Q4.1 63.9 1.4 63.3L-2.2 62.5Q-4.8 61.8 -4.5 56.7L-4 49.8Q-3.6 44.6 -3 44.4L-2.3 44Q-1.8 43.7 0.4 43.8Z" fill="#2e3848"/><path d="M186.6 11.1Q185.1 12.2 185.3 13L185.4 14Q185.6 14.8 189.6 17.2L195 20.5Q199 22.9 200.7 20.3L203 16.8Q204.7 14.2 204.6 13.9L204.5 13.5Q204.4 13.2 202.5 11.8L200 9.8Q198.1 8.4 195.7 8.4L192.5 8.4Q190 8.4 188.6 9.5Z" fill="#3e4a2a"/><path d="M196.6 77.5Q197.7 76.5 200.7 78.9L204.6 82.2Q207.6 84.6 205.9 86.8L203.6 89.7Q201.8 91.9 200.3 92.3L198.1 92.8Q196.6 93.1 195.8 89.1L194.8 83.7Q194.1 79.6 195.2 78.7Z" fill="#3d3060"/><path d="M207.7 -2.6Q204.6 -1.9 203 0.7L201 4.1Q199.4 6.7 201.3 8.2L203.8 10.1Q205.7 11.5 208.5 8.5L212.4 4.5Q215.2 1.6 215.2 -0.2L215.1 -2.5Q215.1 -4.2 211.9 -3.5Z" fill="#45322c"/><path d="M185.2 9.4Q183.8 10.7 180.3 9L175.7 6.7Q172.3 5 171.8 4.4L171.2 3.7Q170.7 3.1 173.8 -0.8L178.1 -6.2Q181.2 -10.1 183.5 -8.7L186.5 -6.9Q188.7 -5.5 188.6 -1.9L188.5 2.9Q188.4 6.5 187 7.7Z" fill="#553444"/><path d="M224.6 52.2Q223.6 54.9 221 56L217.7 57.4Q215.1 58.5 214.8 58.2L214.4 57.8Q214.1 57.5 213.8 53.8L213.3 48.8Q212.9 45.1 217.2 45.3L222.8 45.5Q227 45.7 226 48.5Z" fill="#45322c"/><path d="M190.2 3Q190 6.5 192.4 6.3L195.6 6.1Q198 5.9 199.5 3.3L201.5 -0.2Q203 -2.8 200.9 -4.4L198.2 -6.5Q196.1 -8.1 194.5 -7.3L192.4 -6.2Q190.8 -5.4 190.6 -1.8Z" fill="#2b4d50"/><path d="M200.7 94.6Q202.3 94.4 205.3 96.6L209.4 99.5Q212.5 101.8 212.6 104.1L212.8 107.2Q212.9 109.6 209.9 110.7L205.9 112.2Q202.9 113.3 200.7 108.2L197.9 101.5Q195.7 96.4 196.1 96L196.5 95.5Q196.9 95.1 198.5 94.9Z" fill="#45322c"/><path d="M213.2 60Q213.5 60.3 213.7 62.6L214 65.6Q214.2 67.9 213.9 68.3L213.5 68.7Q213.2 69.1 209 69.8L203.5 70.6Q199.3 71.3 199.2 70.6L198.9 69.6Q198.8 68.9 200 66.1L201.6 62.4Q202.8 59.5 205.7 59.5L209.6 59.4Q212.5 59.3 212.8 59.6Z" fill="#45322c"/><path d="M14.2 140.2Q14.2 140.1 14.1 139.6L13.9 138.9Q13.7 138.4 11.2 135.4L7.9 131.4Q5.4 128.4 2.8 129.3L-0.6 130.5Q-3.2 131.4 -3.7 132.1L-4.2 133Q-4.6 133.7 -3.8 136.4L-2.7 140.1Q-1.8 142.9 2.9 142.2L9.3 141.2Q14 140.5 14.1 140.4Z" fill="#45283a"/><path d="M140.2 82.5Q139.9 79.4 142.6 78L146.1 76Q148.8 74.6 150 78L151.6 82.7Q152.8 86.1 152.2 87.4L151.4 89.1Q150.8 90.4 148.9 90.7L146.5 91.1Q144.7 91.5 143.6 90.9L142 90.2Q140.8 89.6 140.5 86.6Z" fill="#30552f"/><path d="M212.1 130.4Q210.3 131.1 208.1 129.3L205.2 126.9Q203.1 125.1 202.8 122.7L202.4 119.6Q202.1 117.2 202.5 116.7L203.2 116Q203.7 115.5 206.7 114.3L210.7 112.8Q213.7 111.6 216.4 112.9L220 114.7Q222.7 116 220.8 119.8L218.4 124.9Q216.5 128.7 214.6 129.4Z" fill="#33306a"/><path d="M223 21.7Q224 22.4 224.3 25.4L224.7 29.4Q225 32.5 221.9 32.7L217.8 33.1Q214.8 33.4 214.1 32L213.3 30.2Q212.6 28.9 213.8 26.6L215.4 23.6Q216.6 21.3 217.8 20.9L219.4 20.4Q220.6 20 221.6 20.7Z" fill="#3e4a2a"/><path d="M210.8 134.7Q211 133 212.9 132.4L215.4 131.5Q217.3 130.8 218.9 132.5L220.9 134.7Q222.5 136.3 221.5 138.9L220.3 142.2Q219.3 144.7 216.7 142.9L213.2 140.5Q210.5 138.7 210.6 137Z" fill="#36502e"/><path d="M212.1 53.9Q212.5 57.7 209.6 57.6L205.7 57.4Q202.9 57.3 201.4 55.6L199.4 53.4Q197.9 51.7 200.8 49.5L204.6 46.6Q207.5 44.5 208.4 44.4L209.5 44.4Q210.4 44.4 210.7 44.7L210.9 45Q211.2 45.3 211.6 49Z" fill="#33306a"/><path d="M5.6 106.9Q4.4 110.8 2.7 110.5L0.3 110.1Q-1.5 109.8 -3.8 106.4L-6.8 101.8Q-9.1 98.4 -6.1 97.2L-2.1 95.7Q0.9 94.5 3.2 95.4L6.1 96.6Q8.4 97.6 7.2 101.5Z" fill="#30552f"/><path d="M205 90.9Q203.3 93.1 206.3 95.3L210.3 98.4Q213.3 100.7 215.4 97.3L218.3 92.8Q220.5 89.5 218.2 88.1L215.2 86.3Q213 84.9 211.8 85.1L210.2 85.5Q209.1 85.7 207.3 87.9Z" fill="#45283a"/><path d="M208.6 134.5Q208.8 132.8 206.7 130.9L203.9 128.4Q201.8 126.4 198.8 129.7L194.7 134.1Q191.6 137.4 193.3 140.5L195.5 144.5Q197.2 147.5 200.5 144.8L204.9 141.2Q208.1 138.4 208.3 136.7Z" fill="#3d3060"/><path d="M214.8 74.3Q215 70.7 215.3 70.3L215.7 69.8Q216 69.4 219.5 70.5L224.2 71.9Q227.7 72.9 227.9 74.8L228.2 77.2Q228.4 79.1 226.4 81.7L223.6 85.3Q221.5 87.9 221.5 87.9L221.5 87.9Q221.5 87.9 219.3 86.4L216.5 84.4Q214.3 82.8 214.5 79.2Z" fill="#45322c"/><path d="M218.7 18.2Q219.9 17.8 220.2 15.4L220.5 12.1Q220.8 9.7 219.4 7.5L217.5 4.6Q216.1 2.4 213.3 5.5L209.6 9.5Q206.8 12.6 206.9 12.9L207 13.3Q207.1 13.6 209.7 15.1L213.3 17.3Q215.9 18.9 217.1 18.6Z" fill="#36502e"/><path d="M194.9 52.5Q194.3 52.4 192 54.9L189 58.4Q186.8 61 189.9 63.2L194.2 66.1Q197.3 68.3 198.4 65.5L200 61.7Q201.1 58.8 199.7 57L197.8 54.7Q196.4 52.9 195.8 52.7Z" fill="#553444"/><path d="M217.4 110.9Q214.8 109.5 214.8 107.2L214.9 104.1Q215 101.7 217 98.3L219.8 93.8Q221.9 90.4 221.9 90.4L221.9 90.4Q221.9 90.4 225.2 93L229.6 96.4Q232.9 99 230.8 103.5L228.1 109.4Q226.1 113.9 225.3 113.9L224.4 114Q223.7 114 221 112.7Z" fill="#36502e"/><path d="M224.3 19.7Q225.4 20.3 228.1 19.7L231.7 18.9Q234.4 18.4 233.9 15.2L233.2 11Q232.7 7.9 229.8 8.5L226 9.4Q223.1 10 222.7 12.4L222.2 15.7Q221.8 18.1 222.9 18.8Z" fill="#2b4d50"/><path d="M226 58.5Q224.4 57.1 221.8 58L218.3 59.2Q215.7 60 216 62.3L216.3 65.4Q216.5 67.7 220 68.7L224.7 70.1Q228.2 71.2 228.8 70.5L229.5 69.5Q230.1 68.8 230 66.7L229.8 63.9Q229.7 61.8 228.1 60.4Z" fill="#30552f"/><path d="M201.6 77.8Q198.6 75.5 198.9 74.7L199.2 73.5Q199.5 72.7 203.7 72.1L209.2 71.2Q213.4 70.6 213.2 74.2L212.8 79.1Q212.6 82.7 211.4 82.9L209.8 83.1Q208.6 83.2 205.6 80.9Z" fill="#3d3060"/><path d="M222.3 133.3Q223.9 134.9 225.7 134.6L228 134.1Q229.7 133.7 229.5 129.1L229.3 123Q229 118.4 228.2 117.8L227 117Q226.2 116.4 225.4 116.4L224.5 116.5Q223.8 116.5 222.2 120.4L220.1 125.7Q218.6 129.6 220.2 131.2Z" fill="#45283a"/><path d="M223 -15.3Q225.5 -19.9 227.6 -12.1L230.4 -1.7Q232.5 6.1 232.4 6.1L232.4 6.2Q232.3 6.2 229.5 6.9L225.6 7.7Q222.7 8.4 221.2 6.3L219.2 3.5Q217.6 1.4 217.4 -0.3L217.2 -2.6Q217 -4.3 219.6 -9Z" fill="#2a4458"/></g>
</g>
<rect x="8" y="5.5" width="211" height="123" fill="none" stroke="#555" stroke-width="0.8"/>
<clipPath id="cpb"><rect x="220.5" y="5.5" width="210.5" height="124"/></clipPath>
<g clip-path="url(#cpb)">
<rect x="220.5" y="5.5" width="210.5" height="124" fill="#d4c4cc"/>
<g stroke="#ee2a2e" stroke-width="1.05" stroke-linejoin="round"><path d="M428.5 119.3Q429.3 122.7 430.4 123.5L432 124.4Q433.1 125.1 436.2 122.2L440.4 118.2Q443.6 115.3 441.9 113.1L439.6 110.3Q437.8 108.2 435.3 108.2L431.9 108.2Q429.3 108.2 428.5 109.2L427.4 110.4Q426.5 111.3 427.4 114.8Z" fill="#3e4a2a"/><path d="M423.7 125.7Q428.1 124.9 429.3 125.5L430.9 126.3Q432.1 127 432.7 129.8L433.5 133.6Q434.1 136.5 434 136.7L433.8 137Q433.7 137.3 433 137.8L432 138.5Q431.3 139 427.9 139L423.4 139.1Q420 139.1 417.8 136.6L414.9 133.3Q412.6 130.8 412.9 129.8L413.2 128.5Q413.4 127.4 417.8 126.7Z" fill="#33306a"/><path d="M410.1 123.7Q411 126.9 410.8 127.9L410.5 129.3Q410.3 130.3 409.2 130.8L407.8 131.5Q406.7 132 402.7 131.1L397.4 129.9Q393.4 129.1 394.5 124.6L396 118.8Q397.1 114.3 400.4 114.9L404.8 115.6Q408 116.2 408.9 119.4Z" fill="#2b4d50"/><path d="M426.9 119.7Q427.7 123.1 423.3 124.1L417.5 125.3Q413.2 126.3 412.3 123.1L411 118.8Q410.1 115.6 410.5 115.1L411.1 114.5Q411.6 114 415.6 113.3L421.1 112.4Q425.1 111.7 425.9 115.1Z" fill="#30552f"/><path d="M435.3 106Q437.8 106.1 438.5 103.9L439.4 101.1Q440.1 98.9 439.7 97.6L439.2 95.9Q438.8 94.6 437.6 93.2L435.9 91.4Q434.7 90.1 431.9 92.2L428.2 95Q425.4 97.1 426.6 99.7L428.2 103.2Q429.4 105.9 431.9 105.9Z" fill="#36502e"/><path d="M393 124.2Q391.7 128.6 389.3 130.3L386.1 132.5Q383.7 134.2 382.3 133.1L380.4 131.6Q379 130.4 378.9 130.1L378.7 129.7Q378.6 129.4 381.2 124.6L384.7 118.2Q387.2 113.5 389 113L391.4 112.3Q393.2 111.8 394 112.5L395.1 113.4Q396 114 394.7 118.4Z" fill="#33306a"/><path d="M420.7 110.5Q424.7 109.6 425.6 108.7L426.8 107.6Q427.7 106.7 426.4 104.1L424.7 100.6Q423.4 98 422.9 97.8L422.1 97.5Q421.6 97.2 418.9 98.6L415.4 100.4Q412.7 101.7 412.3 105L411.7 109.3Q411.3 112.5 415.3 111.7Z" fill="#45322c"/><path d="M407.1 91.7Q407.3 89.7 405.4 88.7L402.8 87.2Q400.9 86.1 399.1 89.8L396.6 94.7Q394.7 98.4 398.4 97.8L403.2 96.9Q406.9 96.3 407 94.4Z" fill="#45322c"/><path d="M422.4 86.8Q420.1 88.5 420.9 90.5L421.9 93Q422.6 94.9 423.1 95.2L423.9 95.5Q424.4 95.8 427.2 93.7L431 90.9Q433.8 88.8 433.7 88.3L433.7 87.5Q433.6 87 431.9 85.8L429.6 84.1Q427.8 82.9 425.5 84.6Z" fill="#4d2e4e"/><path d="M358.5 130.6Q357 133.4 359 135.3L361.5 137.7Q363.5 139.6 367.5 137.1L372.8 133.8Q376.8 131.3 376.7 131L376.5 130.6Q376.4 130.3 374.5 128.8L372 126.8Q370.1 125.2 367.7 124.9L364.5 124.4Q362.1 124 360.6 126.8Z" fill="#4c5a30"/><path d="M413.6 80.4Q413.6 78.3 410.5 77.5L406.4 76.4Q403.3 75.6 402.5 75.9L401.4 76.3Q400.5 76.6 400.6 78.3L400.6 80.5Q400.7 82.1 401 82.8L401.5 83.7Q401.8 84.4 403.8 85.4L406.4 86.8Q408.3 87.8 409.9 87.1L412 86.1Q413.6 85.4 413.6 83.2Z" fill="#3d3060"/><path d="M378.3 109.8Q375 108.6 374 113L372.7 118.9Q371.8 123.4 373.5 125L375.9 127.2Q377.7 128.9 380.2 124.1L383.5 117.6Q386 112.8 382.7 111.5Z" fill="#2e3848"/><path d="M391.1 98.9Q390.5 98.5 386.1 98.5L380.1 98.5Q375.6 98.4 374.9 100L373.9 102.1Q373.2 103.7 374 104.6L374.9 105.9Q375.7 106.8 379 108.1L383.4 109.8Q386.7 111.1 388.5 110.7L390.9 110.3Q392.7 109.9 392.6 106.8L392.5 102.7Q392.4 99.6 391.8 99.3Z" fill="#45283a"/><path d="M408.8 113.6Q408.4 114.1 405.1 113.5L400.8 112.7Q397.5 112.1 396.7 111.4L395.5 110.5Q394.7 109.9 394.7 106.8L394.7 102.7Q394.7 99.6 394.8 99.6L394.8 99.5Q394.9 99.5 398.5 99.1L403.4 98.5Q407.1 98 408.1 99.1L409.3 100.5Q410.3 101.5 410.2 104.8L409.9 109.1Q409.8 112.4 409.4 112.9Z" fill="#33306a"/><path d="M428.5 78.6Q428.2 77.5 429.1 74.8L430.2 71.2Q431.1 68.6 433.3 68.7L436.3 68.9Q438.5 69.1 439.1 70.7L439.9 72.8Q440.5 74.4 440.3 76L440 78.2Q439.8 79.9 438.3 81.6L436.3 83.8Q434.7 85.5 433.1 84.1L430.9 82.4Q429.3 81 428.9 80Z" fill="#2a4458"/><path d="M415.9 78Q416.1 77.9 419 78L423 78.1Q425.9 78.2 426.2 79.2L426.6 80.6Q427 81.7 424.6 83.4L421.6 85.6Q419.2 87.3 418.2 86.7L416.8 85.9Q415.7 85.3 415.7 83.2L415.7 80.4Q415.7 78.3 415.8 78.2Z" fill="#30552f"/><path d="M386.9 85.8Q387.6 86.1 390.8 84.9L395 83.3Q398.2 82.1 398.3 80.4L398.4 78.3Q398.4 76.6 397.1 75.8L395.2 74.6Q393.9 73.8 391.6 75.1L388.5 76.9Q386.2 78.2 385.9 80.2L385.6 82.9Q385.3 84.9 386 85.3Z" fill="#45283a"/><path d="M385.7 87.8Q386.3 88.2 387.6 90.9L389.3 94.5Q390.5 97.2 386.1 97.2L380.1 97.2Q375.6 97.2 375.4 95L375.1 92.1Q374.9 89.8 377.7 88.9L381.4 87.7Q384.2 86.8 384.8 87.2Z" fill="#36502e"/><path d="M426.3 67.7Q429.4 67.9 429.5 67.9L429.5 68Q429.6 68 428.5 70.6L427 74.1Q426 76.7 423 76.6L419.1 76.5Q416.1 76.4 416.6 74.2L417.2 71.1Q417.7 68.9 418.1 68.4L418.6 67.8Q419.1 67.3 422.2 67.5Z" fill="#2a4458"/><path d="M358.2 116.3Q356.5 113.9 357.1 111.7L358 108.8Q358.6 106.6 362.5 106.1L367.6 105.4Q371.5 104.9 372.1 105.9L373 107.3Q373.7 108.3 372.7 112.7L371.4 118.6Q370.5 123.1 368 122.7L364.8 122.2Q362.4 121.8 360.6 119.4Z" fill="#30552f"/><path d="M372.9 92.3Q372.7 90 370.7 88L368.2 85.3Q366.2 83.3 362.6 87.7L357.8 93.7Q354.2 98.1 355.4 100.1L357.1 102.7Q358.4 104.7 362.2 104.1L367.3 103.4Q371.2 102.8 371.8 101.2L372.7 99.1Q373.3 97.5 373.1 95.2Z" fill="#2b4d50"/><path d="M417 88.8Q418 89.4 418.9 91.3L420 93.8Q420.8 95.7 418.2 97L414.6 98.8Q411.9 100.2 411 99L409.8 97.6Q409 96.4 409.1 94.5L409.2 91.8Q409.3 89.9 410.9 89.1L413 88.1Q414.6 87.3 415.6 87.9Z" fill="#2b4d50"/><path d="M414.3 76.2Q414.4 76.1 414.8 73.8L415.3 70.8Q415.7 68.5 413.3 68.3L410 68Q407.6 67.7 406.4 69.6L404.8 72.2Q403.6 74.1 406.8 74.8L410.9 75.8Q414 76.5 414.1 76.4Z" fill="#2e3848"/><path d="M353.5 132.8Q355.3 132.4 356.8 129.7L358.9 126Q360.5 123.2 358.8 120.7L356.6 117.5Q354.9 115 353.5 115.7L351.6 116.5Q350.3 117.2 348.9 119.9L347.1 123.6Q345.7 126.3 346.8 128.5L348.4 131.4Q349.5 133.5 351.2 133.2Z" fill="#2a4458"/><path d="M383.6 82.6Q383.4 84.7 380.7 85.8L377.1 87.2Q374.4 88.3 372.4 86.4L369.7 83.8Q367.7 81.9 367.4 80.9L367 79.5Q366.8 78.5 366.8 78.4L366.8 78.1Q366.8 77.9 368.5 76.3L370.7 74.3Q372.4 72.7 373.6 72.8L375.3 73Q376.5 73.2 378.8 74.6L381.8 76.5Q384.1 77.9 383.9 79.9Z" fill="#45322c"/><path d="M396.5 72.6Q395.2 71.7 394.7 70L394 67.6Q393.5 65.9 394.3 64.6L395.5 63Q396.3 61.7 398.5 61.1L401.4 60.3Q403.6 59.7 404 60L404.5 60.5Q404.8 60.8 405 62.5L405.3 64.8Q405.5 66.6 404.5 68.6L403.2 71.3Q402.3 73.4 401.5 73.8L400.4 74.3Q399.7 74.7 398.3 73.8Z" fill="#30552f"/><path d="M346.6 132.3Q347.9 134.4 347.5 135.1L346.9 135.9Q346.5 136.5 343.6 137.3L339.8 138.3Q337 139 335.8 137.5L334.2 135.4Q333 133.9 334 131.8L335.4 128.9Q336.4 126.8 338.6 127L341.5 127.3Q343.7 127.5 345 129.6Z" fill="#4d2e4e"/><path d="M364.7 80.1Q364.5 79.1 359.6 80.7L353 82.8Q348.1 84.3 348.9 87.9L349.9 92.6Q350.7 96.1 351.5 96.5L352.4 96.9Q353.1 97.3 356.8 92.8L361.6 86.9Q365.2 82.5 365 81.5Z" fill="#553444"/><path d="M387.5 75Q385.1 76.1 382.8 74.8L379.7 73.1Q377.3 71.8 380 69.9L383.6 67.3Q386.3 65.4 387.7 65.7L389.7 66.2Q391.1 66.6 391.7 68.3L392.5 70.6Q393.1 72.4 390.7 73.5Z" fill="#2e3848"/><path d="M390.3 64.2Q391.7 64.8 392.5 63.5L393.5 61.7Q394.2 60.4 393 57.3L391.4 53.1Q390.3 50 387.6 51.3L384.2 53.1Q381.5 54.4 381.4 54.6L381.3 54.9Q381.2 55.1 382.9 57.5L385.3 60.6Q387 63 388.4 63.5Z" fill="#45322c"/><path d="M415.8 61.3Q415.1 59.4 412.5 59.7L409.2 60.2Q406.7 60.5 407 62.2L407.4 64.5Q407.7 66.3 410.2 66.5L413.4 66.9Q415.9 67.2 416.4 66.7L417 66.1Q417.4 65.7 416.7 63.8Z" fill="#4c5a30"/><path d="M382.8 66.2Q385.4 64.1 383.8 61.7L381.6 58.4Q380 55.9 377.8 57L374.8 58.5Q372.6 59.6 372.6 63L372.5 67.5Q372.5 70.9 373.7 70.9L375.4 70.9Q376.6 70.9 379.3 68.9Z" fill="#3e4a2a"/><path d="M352.1 73.8Q348.5 73.3 347.5 75.6L346.3 78.6Q345.3 80.9 345.3 81L345.3 81Q345.4 81 346.1 81.6L347 82.4Q347.7 83 352.7 81.6L359.3 79.7Q364.3 78.3 364.3 78.1L364.3 77.9Q364.3 77.7 363.3 76.9L361.8 75.8Q360.7 75 357 74.5Z" fill="#30552f"/><path d="M392.8 52.6Q391.5 49.5 392.3 48L393.3 46.1Q394.1 44.6 395.1 44.2L396.5 43.5Q397.6 43.1 399.3 45.2L401.5 48.1Q403.2 50.3 403.2 52.6L403.2 55.6Q403.2 57.9 400.9 58.4L398 59.2Q395.8 59.8 394.5 56.7Z" fill="#45283a"/><path d="M415.7 41.6Q417.3 38.9 413.1 37.3L407.4 35.1Q403.1 33.5 401.8 36.1L400.1 39.5Q398.8 42 400.7 44L403.2 46.7Q405.1 48.6 407.1 48.4L409.8 48.1Q411.9 47.9 413.5 45.2Z" fill="#3e4a2a"/><path d="M383.2 51.3Q380.6 52.7 379.6 50.2L378.3 46.8Q377.2 44.3 378.6 42.4L380.5 39.9Q381.8 38 385 39.7L389.2 41.9Q392.4 43.6 391.5 45L390.3 46.8Q389.4 48.2 386.7 49.5Z" fill="#30552f"/><path d="M347.3 119.1Q348.8 116.4 344.4 115L338.5 113Q334 111.5 334 111.5L334 111.5Q334 111.5 333.8 113.8L333.5 116.9Q333.3 119.1 334.3 120.8L335.6 123.1Q336.6 124.7 338.8 124.9L341.7 125.2Q343.9 125.4 345.4 122.7Z" fill="#36502e"/><path d="M402.4 132.5Q406.4 133.3 404.5 136.4L402 140.6Q400.1 143.8 395.5 141.5L389.3 138.5Q384.7 136.2 384.6 136L384.6 135.7Q384.5 135.5 387.1 134.1L390.5 132.2Q393 130.7 397 131.5Z" fill="#4c5a30"/><path d="M350.8 114.4Q349.3 114.9 344.9 113.5L338.9 111.7Q334.4 110.3 336.8 107.2L339.9 103.1Q342.2 100.1 344.5 99.6L347.5 98.9Q349.7 98.4 350.4 98.7L351.4 99.1Q352.1 99.4 353.4 101.4L355.2 104Q356.5 105.9 355.8 108.1L354.8 111Q354.1 113.2 352.7 113.7Z" fill="#553444"/><path d="M330.5 91.7Q330.9 91.4 331.6 91.6L332.6 91.8Q333.4 92 335.5 94.1L338.4 96.8Q340.5 98.9 338.3 102L335.4 106.2Q333.1 109.3 333.1 109.3L333.1 109.3Q333.1 109.3 331.3 108.4L328.9 107.1Q327 106.2 326.7 104.5L326.3 102.3Q326 100.7 327.1 98.2L328.5 95Q329.6 92.6 330 92.2Z" fill="#3d3060"/><path d="M379.2 53.5Q379.3 53.3 378.1 50.8L376.5 47.6Q375.3 45.1 373.6 44.9L371.3 44.5Q369.7 44.2 369 44.9L368.1 45.8Q367.4 46.5 367.3 49L367.2 52.3Q367 54.8 368.4 55.6L370.2 56.8Q371.6 57.7 373.8 56.6L376.8 55.1Q379 53.9 379.1 53.7Z" fill="#36502e"/><path d="M358.5 54.1Q361.1 55.4 362.3 55.2L364.1 54.9Q365.3 54.7 365.3 52.3L365.2 49Q365.2 46.5 363 45.8L360.1 44.9Q357.8 44.2 356.4 45.7L354.5 47.6Q353.1 49.1 353 49.7L352.8 50.5Q352.7 51.1 355.2 52.4Z" fill="#45283a"/><path d="M359.6 62.5Q358.7 64.5 359.7 67.2L361.1 70.7Q362 73.4 363 74.3L364.4 75.5Q365.4 76.4 367 74.8L369.1 72.6Q370.7 70.9 370.6 67.5L370.5 63Q370.4 59.6 369 58.8L367.2 57.7Q365.7 56.8 364.5 57.1L362.8 57.5Q361.5 57.8 360.7 59.8Z" fill="#2e3848"/><path d="M371.9 30.8Q373.3 29.3 375 30.3L377.3 31.6Q379.1 32.5 379.5 33.9L380.1 35.7Q380.6 37 379.1 38.8L377.1 41.2Q375.6 43 373.9 42.7L371.6 42.5Q369.9 42.3 369.6 39.9L369 36.7Q368.6 34.3 370 32.8Z" fill="#4c5a30"/><path d="M415.6 55.9Q416 55.2 414.8 53.7L413.2 51.7Q412 50.2 410 50.2L407.2 50.2Q405.2 50.3 405.2 52.6L405.2 55.6Q405.2 57.9 405.6 58.2L406.1 58.6Q406.4 58.9 409 58.5L412.3 58Q414.8 57.6 415.2 56.9Z" fill="#36502e"/><path d="M387.3 20.8Q391 23.2 387.8 25.4L383.4 28.2Q380.2 30.4 378.4 29.5L376.1 28.3Q374.3 27.4 374.1 26.4L373.8 25.1Q373.6 24.1 375.1 21.3L377.1 17.7Q378.7 15 378.7 15L378.7 15Q378.7 15 382.4 17.4Z" fill="#3e4a2a"/><path d="M342.8 60Q342.7 60.7 343.4 61.4L344.4 62.2Q345.1 62.9 348.6 63.1L353.3 63.4Q356.8 63.6 357.8 61.7L359.1 59.1Q360.1 57.2 357.6 55.8L354.3 54Q351.9 52.6 349.3 54.4L345.8 56.7Q343.3 58.5 343.1 59.1Z" fill="#4c5a30"/><path d="M430 58.6Q429.5 55.3 431.4 54.2L433.8 52.7Q435.6 51.5 437.5 53.5L439.9 56Q441.8 57.9 441.1 60.2L440.3 63.3Q439.6 65.7 439.3 66L438.9 66.4Q438.6 66.8 436.4 66.6L433.4 66.4Q431.2 66.3 431.2 66.2L431.1 66.2Q431.1 66.2 430.6 62.9Z" fill="#36502e"/><path d="M360.3 34.5Q357.4 34.5 357.7 36.9L358.1 40.1Q358.4 42.5 360.6 43.2L363.5 44.1Q365.7 44.8 366.4 44.2L367.3 43.2Q367.9 42.6 367.6 40.2L367.2 37Q366.9 34.6 364.1 34.6Z" fill="#33306a"/><path d="M425 54.5Q423.9 54 422.2 54.6L419.9 55.6Q418.1 56.2 417.8 57L417.4 57.9Q417 58.7 417.7 60.6L418.6 63.1Q419.3 65 422.4 65.5L426.5 66Q429.6 66.4 428.9 63.2L428.1 58.9Q427.4 55.7 426.4 55.2Z" fill="#553444"/><path d="M421.4 52.7Q423.2 52 422.7 48.1L422.1 42.8Q421.7 38.8 420.7 39L419.3 39.2Q418.3 39.4 416.9 42.3L415.1 46.1Q413.7 48.9 414.8 50.5L416.3 52.6Q417.4 54.2 419.1 53.5Z" fill="#4c5a30"/><path d="M398 38.4Q396.7 40.9 395.6 41.3L394.2 41.9Q393.1 42.3 390 40.5L386 38Q382.9 36.2 382.4 34.8L381.6 33.1Q381.1 31.8 384.3 29.6L388.6 26.7Q391.9 24.5 394.2 24.3L397.4 24Q399.8 23.7 400.2 26.4L400.8 29.9Q401.2 32.5 399.9 35Z" fill="#36502e"/><path d="M423.5 34.8Q423 35.5 422.5 35.8L421.9 36.3Q421.4 36.6 420.4 36.7L419 36.9Q418 37 413.7 35.5L408 33.5Q403.7 32.1 403.1 29.5L402.5 26Q401.9 23.4 403.1 21.1L404.6 18.1Q405.7 15.8 408.3 14.7L411.8 13.2Q414.4 12.1 417.5 18.4L421.6 26.7Q424.6 33 424.2 33.8Z" fill="#2b4d50"/><path d="M342.1 41.2Q341 41.4 340 43.5L338.7 46.3Q337.7 48.4 339.1 51L340.9 54.4Q342.3 57 344.7 55.1L348 52.6Q350.5 50.7 350.5 50.1L350.6 49.3Q350.7 48.7 348.9 46.3L346.4 43.1Q344.6 40.7 343.5 40.9Z" fill="#2a4458"/><path d="M332.4 121.9Q331.5 120.1 328.7 121.5L325.1 123.3Q322.3 124.7 322.4 127.3L322.6 130.8Q322.7 133.4 325.2 133.3L328.6 133.2Q331.2 133 332.2 130.9L333.5 128Q334.5 125.9 333.6 124.2Z" fill="#3d3060"/><path d="M316.8 86.2Q316.4 85.2 319.3 83.9L323.1 82.1Q326 80.7 326.4 80.8L326.9 80.9Q327.3 81 328 83.6L328.8 87Q329.5 89.6 329 89.9L328.5 90.4Q328 90.7 325 90L320.9 89.2Q317.9 88.6 317.4 87.6Z" fill="#2e3848"/><path d="M426.1 52.3Q425 51.8 424.4 47.9L423.5 42.6Q422.9 38.7 423.3 38.3L424 37.9Q424.5 37.5 427.6 40.6L431.8 44.7Q435 47.8 434.8 48.4L434.6 49.2Q434.5 49.7 432.7 50.9L430.3 52.5Q428.5 53.6 427.4 53.1Z" fill="#2a4458"/><path d="M310.7 84.7Q310.2 84.9 308.4 87L306 89.7Q304.2 91.8 304.3 92.1L304.4 92.6Q304.5 92.9 306.8 93.9L309.9 95.2Q312.2 96.2 312.8 95.9L313.6 95.4Q314.2 95.1 314.6 93.4L315.1 91.2Q315.5 89.5 315.2 88.4L314.7 87Q314.4 86 313.6 85.5L312.6 84.7Q311.8 84.2 311.3 84.4Z" fill="#36502e"/><path d="M312.6 123.3Q314.7 120.3 316.3 121.7L318.5 123.5Q320.1 124.9 320.3 127.5L320.7 131Q321 133.6 321 133.6L321 133.6Q321 133.6 318.5 133.9L315.3 134.3Q312.8 134.6 311.2 133.3L309.1 131.5Q307.5 130.2 309.7 127.3Z" fill="#3e4a2a"/><path d="M382.2 9.8Q378.5 12.6 378.5 12.6L378.5 12.6Q378.5 12.6 375.2 9.1L370.8 4.5Q367.6 1.1 367.6 0.9L367.6 0.6Q367.5 0.4 373.5 -0.1L381.5 -0.8Q387.5 -1.3 388.3 -0.7L389.4 0Q390.2 0.6 390.4 1.4L390.7 2.5Q390.9 3.3 387.2 6.1Z" fill="#2a4458"/><path d="M371.4 25.6Q371.1 24.6 368.6 23.6L365.2 22.1Q362.6 21.1 361.5 21.5L360 22.2Q358.9 22.6 358.4 25.6L357.7 29.6Q357.2 32.5 357.3 32.6L357.4 32.7Q357.4 32.7 360.3 32.7L364.1 32.6Q366.9 32.6 368.4 31.2L370.4 29.4Q372 28 371.7 27Z" fill="#553444"/><path d="M341.1 85.1Q343.8 82.8 344.5 83.4L345.4 84.2Q346 84.8 347 88.3L348.4 93Q349.4 96.5 347.1 96.8L344 97.3Q341.7 97.6 339.7 95.5L336.9 92.7Q334.8 90.6 337.5 88.3Z" fill="#553444"/><path d="M353.1 65Q356.6 65.5 357.9 68L359.6 71.4Q360.9 73.9 357.2 73.2L352.4 72.3Q348.7 71.6 347.6 69.3L346.1 66.2Q345 63.8 348.5 64.3Z" fill="#3d3060"/><path d="M327.2 41.8Q325.9 40 325.9 39.7L325.9 39.4Q325.9 39.1 328.4 38L331.7 36.5Q334.2 35.4 335.7 36.9L337.6 39Q339.1 40.5 338.2 42.7L337 45.5Q336.1 47.7 334.3 47.2L331.9 46.6Q330 46.1 328.8 44.3Z" fill="#3d3060"/><path d="M369.4 21.9Q371.8 23.1 373.4 20.4L375.4 16.7Q376.9 14 373.8 10.4L369.7 5.6Q366.5 2 365.9 3.2L365 4.8Q364.3 6 364.1 9.9L363.8 15.1Q363.6 19 366 20.3Z" fill="#3e4a2a"/><path d="M308.9 112.1Q309.1 112.1 310.1 112.6L311.4 113.3Q312.4 113.9 312.7 115.6L313.2 117.8Q313.5 119.5 311.4 122.4L308.5 126.4Q306.3 129.3 305.1 129.3L303.5 129.2Q302.3 129.2 302.2 129.1L302.1 129Q302.1 128.9 301.7 125.6L301.2 121.3Q300.8 118 303.2 116.2L306.3 113.8Q308.6 112.1 308.8 112.1Z" fill="#3d3060"/><path d="M324.5 64.7Q323.7 65.1 322.9 67L321.7 69.5Q320.9 71.3 322.6 73.4L324.9 76.3Q326.6 78.4 327 78.5L327.5 78.7Q327.9 78.8 329.2 77.7L331 76.2Q332.3 75.1 332.8 72.1L333.5 68.1Q334 65.1 331.6 64.7L328.5 64.1Q326.2 63.7 325.5 64.1Z" fill="#4d2e4e"/><path d="M314 98Q313.4 98.4 312.4 101.8L311.2 106.5Q310.2 109.9 311.2 110.5L312.6 111.2Q313.6 111.7 317 110.2L321.7 108.1Q325.2 106.6 324.7 105L324 102.9Q323.6 101.2 321.1 100L317.8 98.4Q315.4 97.2 314.8 97.6Z" fill="#4c5a30"/><path d="M305.1 108.5Q307.7 110.7 305.2 112.3L301.9 114.5Q299.5 116.1 297.4 115.6L294.6 115Q292.5 114.5 293 111.3L293.6 107.1Q294.1 104 295.6 103.8L297.5 103.6Q299 103.4 301.6 105.6Z" fill="#553444"/><path d="M339.6 63Q341.4 62 342 62.7L342.9 63.7Q343.6 64.4 344.4 66.9L345.6 70.1Q346.5 72.6 345.6 74.9L344.5 78Q343.7 80.3 341 78.8L337.3 76.9Q334.6 75.4 334.9 72.4L335.3 68.4Q335.6 65.3 337.3 64.3Z" fill="#4d2e4e"/><path d="M314.8 115Q314.3 113.4 317.8 111.9L322.4 109.9Q325.9 108.4 327.8 109.2L330.3 110.4Q332.2 111.3 331.8 113.5L331.2 116.5Q330.8 118.8 328 120.1L324.3 121.8Q321.5 123.1 319.9 121.8L317.6 120.1Q316 118.8 315.5 117.2Z" fill="#45283a"/><path d="M355.6 34.5Q355.6 34.4 353.8 34.4L351.5 34.4Q349.8 34.3 348.6 36L347.1 38.1Q345.9 39.7 347.7 42.2L350 45.4Q351.8 47.9 353.1 46.3L354.8 44.2Q356.1 42.7 356 40.2L355.9 37Q355.8 34.6 355.7 34.6Z" fill="#36502e"/><path d="M359.1 20Q358 20.5 355.7 19.3L352.6 17.8Q350.3 16.7 350.4 15.6L350.5 14.1Q350.7 13 354.4 10.9L359.4 8Q363.1 5.9 362.7 9.8L362.1 15Q361.7 18.9 360.6 19.4Z" fill="#2b4d50"/><path d="M330.7 86.6Q331.4 89.2 332.1 89.3L333.2 89.5Q333.9 89.6 336.6 87.3L340.3 84.2Q343 81.8 343 81.8L343 81.7Q343 81.7 340.2 80.3L336.5 78.4Q333.8 76.9 332.4 78L330.6 79.4Q329.3 80.5 329.9 83.1Z" fill="#2b4d50"/><path d="M309.1 96.8Q311.4 97.9 310.7 101.4L309.8 106.1Q309.1 109.6 309 109.6L308.8 109.6Q308.7 109.6 306.2 107.3L302.9 104.2Q300.4 101.8 301.4 99.6L302.8 96.6Q303.8 94.4 306.1 95.4Z" fill="#2b4d50"/><path d="M326.3 59.2Q326.7 61.3 329 61.9L332.1 62.6Q334.4 63.2 336.2 62.2L338.6 61Q340.3 60.1 340.5 59.4L340.7 58.5Q340.9 57.9 339.3 55.4L337.2 52.1Q335.6 49.6 333.8 49.3L331.3 48.7Q329.5 48.3 328.3 50.1L326.7 52.4Q325.5 54.2 325.9 56.3Z" fill="#45322c"/><path d="M425.6 36.1Q425.1 36.8 428.4 39.8L432.7 43.7Q436 46.7 437.7 45.4L439.9 43.6Q441.6 42.2 441.7 40.9L441.9 39.2Q442 37.9 441.2 35.5L440.2 32.4Q439.5 30.1 439.2 29.9L438.7 29.8Q438.4 29.6 434.9 31L430.2 32.9Q426.7 34.4 426.2 35.1Z" fill="#30552f"/><path d="M356.1 29.3Q355.7 32.3 353.9 32.2L351.6 32Q349.9 31.9 347.8 29.4L345 26Q342.9 23.5 344.9 21.9L347.5 19.8Q349.4 18.2 351.7 19.5L354.7 21.1Q357 22.4 356.6 25.3Z" fill="#36502e"/><path d="M364.4 2.3Q365.2 1.1 365.2 0.9L365.2 0.7Q365.2 0.5 365.1 0.4L365.1 0.3Q365.1 0.2 362.7 -0.7L359.6 -1.8Q357.3 -2.7 353.5 -1.8L348.4 -0.7Q344.6 0.1 344.2 0.8L343.7 1.8Q343.3 2.6 345.2 5.3L347.9 8.9Q349.9 11.6 353.7 9.6L358.7 6.9Q362.5 4.9 363.3 3.8Z" fill="#33306a"/><path d="M339.7 22Q338.8 22.1 337.4 17.5L335.4 11.3Q334 6.7 336.4 5.8L339.6 4.5Q342 3.5 343.8 6.3L346.3 10Q348.2 12.8 348.1 13.9L348 15.4Q348 16.5 346.1 18.1L343.5 20.3Q341.7 22 340.8 22Z" fill="#36502e"/><path d="M298.2 81.5Q300.1 79.7 302.7 80.9L306.2 82.5Q308.9 83.7 307.1 85.8L304.7 88.6Q302.9 90.7 300.2 89.2L296.6 87.1Q293.9 85.6 295.8 83.9Z" fill="#33306a"/><path d="M341.6 38.9Q340.6 39.1 339.1 37.6L337.1 35.6Q335.6 34 336.1 31.5L336.8 28.1Q337.3 25.5 337.8 25.2L338.4 24.8Q338.9 24.5 339.7 24.5L340.9 24.5Q341.7 24.5 343.7 27.1L346.3 30.6Q348.3 33.2 347 34.7L345.3 36.8Q344.1 38.3 343 38.6Z" fill="#36502e"/><path d="M401.3 10.3Q404.8 13.6 407.4 12.5L410.9 11Q413.5 9.9 414 9.4L414.8 8.6Q415.3 8 415.6 7.1L415.9 5.8Q416.2 4.8 413.6 -1.4L410.2 -9.7Q407.6 -15.9 403.1 -11.1L397.1 -4.8Q392.5 0 392.8 0.7L393.1 1.8Q393.3 2.6 396.7 5.9Z" fill="#4c5a30"/><path d="M321 42Q323.5 39.9 323.5 39.7L323.5 39.3Q323.5 39 321.9 37.2L319.9 34.7Q318.3 32.8 314.9 33.3L310.4 34Q307 34.5 308.3 37.7L310 41.8Q311.3 45 312.4 45.6L314 46.3Q315.1 46.9 317.6 44.8Z" fill="#2b4d50"/><path d="M304.9 131.7Q306.1 131.8 307.7 133.2L309.8 135Q311.4 136.4 310.7 138.4L309.9 141Q309.3 143 304.7 144.7L298.4 146.9Q293.7 148.6 296.3 143.4L299.6 136.6Q302.1 131.4 303.3 131.6Z" fill="#4c5a30"/><path d="M333 4.7Q333.1 4.7 335.5 3.7L338.7 2.4Q341.1 1.4 341.5 0.7L342 -0.3Q342.4 -1.1 341.8 -2.8L341 -5.2Q340.3 -7 338.4 -7.8L335.9 -9Q334 -9.9 332.4 -9.1L330.2 -8Q328.6 -7.1 328.6 -4.7L328.6 -1.4Q328.6 1.1 329.8 2.2L331.4 3.5Q332.6 4.6 332.7 4.6Z" fill="#33306a"/><path d="M429.5 31Q425.9 32.4 422.7 26.2L418.5 17.9Q415.3 11.7 415.8 11.1L416.5 10.3Q417.1 9.8 422.2 12.1L429.1 15.1Q434.3 17.4 435.3 20.5L436.7 24.7Q437.7 27.8 434.2 29.2Z" fill="#4d2e4e"/><path d="M299.4 121.5Q299 118.2 296.9 117.7L294.1 117Q292 116.5 290.3 117.2L288.1 118.2Q286.3 119 286.7 121.2L287.2 124.2Q287.5 126.4 291.4 127.2L296.7 128.3Q300.6 129.1 300.1 125.8Z" fill="#33306a"/><path d="M323.6 35.7Q325.2 37.6 327.6 36.3L330.9 34.7Q333.3 33.5 334 31L335 27.6Q335.7 25.1 332 24.6L327 23.9Q323.3 23.3 322.3 25.8L320.9 29Q319.9 31.4 321.5 33.3Z" fill="#3e4a2a"/><path d="M319.3 63.2Q322 64.3 321.1 66.1L319.8 68.5Q318.8 70.3 317.1 70.9L314.8 71.7Q313 72.2 312 71.4L310.6 70.3Q309.6 69.5 310.2 67L311 63.6Q311.7 61.1 312 61L312.5 60.8Q312.9 60.7 315.6 61.7Z" fill="#2a4458"/><path d="M321.8 52.2Q323.9 53 325.1 51.3L326.8 49Q328.1 47.3 327 45.4L325.5 42.9Q324.4 41 321.9 43.2L318.7 46Q316.2 48.2 316.5 48.8L316.8 49.6Q317.1 50.2 319.1 51Z" fill="#4d2e4e"/><path d="M300.8 77.6Q300.7 78.4 303.3 79.6L306.8 81.3Q309.4 82.6 309.9 82.4L310.6 82.3Q311.1 82.1 311.2 79.7L311.4 76.5Q311.6 74.1 310.5 73.3L309.1 72.2Q308.1 71.4 307.3 71.5L306.2 71.6Q305.4 71.7 304.1 72.9L302.4 74.5Q301.1 75.7 300.9 76.5Z" fill="#45283a"/><path d="M304.2 31.6Q304.3 31.8 305 32.1L306 32.5Q306.7 32.8 310.1 32.1L314.5 31.2Q317.9 30.6 318.9 28.2L320.3 24.9Q321.3 22.5 320.9 21.6L320.4 20.4Q320.1 19.6 318.4 18.5L316.2 17Q314.5 16 312.4 17.2L309.7 18.9Q307.6 20.1 306.6 23.5L305.1 27.9Q304.1 31.3 304.1 31.4Z" fill="#33306a"/><path d="M309.9 -1.2Q308.2 -2.7 309.6 -7.2L311.5 -13.1Q312.9 -17.6 316.9 -14.4L322.3 -10.2Q326.4 -7.1 326.5 -4.6L326.7 -1.3Q326.9 1.2 323 1.5L317.8 2Q314 2.3 312.2 0.8Z" fill="#3d3060"/><path d="M291.5 87.1Q290.8 87.2 290.2 87.8L289.3 88.7Q288.7 89.3 289.1 92.3L289.8 96.3Q290.2 99.3 291.3 100L292.8 101Q293.8 101.7 295.3 101.5L297.2 101.3Q298.7 101.1 299.7 98.8L301.1 95.8Q302.1 93.6 302 93.2L301.9 92.8Q301.8 92.5 299.2 90.8L295.7 88.6Q293.1 87 292.4 87Z" fill="#2b4d50"/><path d="M300.5 130.6Q300.5 130.7 298.2 135.9L295.1 142.9Q292.8 148.1 290.8 150.1L288.1 152.8Q286.2 154.8 284.6 150L282.5 143.6Q281 138.8 282.8 135.5L285.4 131.1Q287.3 127.9 291.2 128.6L296.4 129.7Q300.3 130.4 300.4 130.5Z" fill="#36502e"/><path d="M429.8 13.4Q435.1 15.4 436.9 13.3L439.3 10.4Q441.1 8.3 439.2 4.5L436.6 -0.6Q434.7 -4.4 429.8 -1.4L423.4 2.5Q418.6 5.5 418.2 6.5L417.8 7.8Q417.5 8.7 422.8 10.7Z" fill="#3e4a2a"/><path d="M314.6 6.9Q314.1 3.9 318 3.6L323.2 3.3Q327 3 328.3 4L330 5.3Q331.2 6.2 328.2 9.7L324.3 14.3Q321.3 17.7 319.6 16.6L317.4 15.1Q315.8 14 315.3 11Z" fill="#2b4d50"/><path d="M308.5 66.6Q307.9 69.1 307.1 69.1L306 69.2Q305.2 69.2 303.6 67.4L301.5 64.9Q300 63.1 300 62.9L300 62.5Q300 62.3 301.3 61L303 59.4Q304.3 58.2 306 58.9L308.2 59.9Q309.9 60.7 309.3 63.2Z" fill="#2e3848"/><path d="M302.4 3.6Q303.7 0 304.6 -0.4L305.9 -0.9Q306.9 -1.3 308.5 0.3L310.6 2.5Q312.3 4.1 312.6 7.2L313.2 11.3Q313.6 14.3 311.4 15.5L308.6 17Q306.5 18.2 304.4 16.3L301.5 13.9Q299.4 12.1 300.7 8.5Z" fill="#3e4a2a"/><path d="M298.4 77.3Q298.3 78.1 296.7 80L294.5 82.6Q292.8 84.6 292.1 84.7L291.2 84.8Q290.5 85 289.9 82.4L288.9 78.9Q288.2 76.3 289.6 74.8L291.5 72.8Q292.9 71.3 294.6 72.6L296.9 74.2Q298.6 75.4 298.5 76.2Z" fill="#2a4458"/><path d="M313.9 82.8Q313 82.3 313.2 79.8L313.5 76.6Q313.6 74.2 315.4 73.7L317.7 73Q319.5 72.5 321.3 74.5L323.6 77.3Q325.3 79.4 322.5 80.7L318.6 82.6Q315.8 83.9 314.9 83.4Z" fill="#45283a"/><path d="M394.2 22.2Q391.8 22.2 388.1 19.7L383.1 16.3Q379.4 13.8 383.1 11L388 7.2Q391.7 4.3 395.3 7.4L400.1 11.6Q403.7 14.8 402.5 17L400.9 20Q399.7 22.2 397.3 22.2Z" fill="#4c5a30"/><path d="M290 102Q288.9 101.2 286.8 102.4L284 103.9Q282 105.1 282.6 108.5L283.6 113.1Q284.3 116.5 284.6 116.7L285.1 117Q285.5 117.2 287.1 116.3L289.3 115.1Q291 114.2 291.4 111.1L292 106.9Q292.5 103.7 291.4 103Z" fill="#4d2e4e"/><path d="M283.9 119.1Q284.3 119.3 284.6 121.5L284.9 124.5Q285.2 126.8 283.5 130.1L281.3 134.7Q279.6 138 277 136.3L273.6 133.9Q271 132.2 270.8 131.8L270.6 131.4Q270.4 131.1 270.9 127.5L271.4 122.8Q271.9 119.3 275.2 119.1L279.7 118.8Q283.1 118.7 283.4 118.8Z" fill="#3d3060"/><path d="M301.9 50.2Q303.1 50.9 304.9 49.3L307.3 47.3Q309.1 45.8 308.1 42.5L306.7 38.2Q305.7 35 305 34.7L304.1 34.2Q303.4 33.9 301.4 36.8L298.8 40.7Q296.9 43.6 297.5 45.1L298.4 47.2Q299.1 48.8 300.3 49.4Z" fill="#2e3848"/><path d="M312.8 56.2Q311.9 58.4 311.6 58.5L311.1 58.7Q310.7 58.9 309.1 58.1L306.9 57Q305.3 56.2 305 55L304.7 53.5Q304.4 52.3 306.1 50.7L308.5 48.6Q310.2 47.1 311.4 47.7L312.9 48.4Q314.1 49 314.3 49.6L314.6 50.4Q314.8 51.1 313.9 53.3Z" fill="#36502e"/><path d="M290.2 71.6Q291.5 70.1 291.5 69.7L291.4 69.2Q291.4 68.8 289.8 67.5L287.7 65.7Q286.1 64.4 284.4 66.6L282 69.5Q280.3 71.6 282.3 72.7L285 74.1Q287 75.2 288.3 73.7Z" fill="#2b4d50"/><path d="M316.6 93.9Q316.2 95.6 318.6 96.9L321.8 98.6Q324.3 99.9 325.3 97.5L326.7 94.2Q327.8 91.8 324.7 91.3L320.7 90.5Q317.6 90 317.2 91.6Z" fill="#45322c"/><path d="M288.4 10.4Q286.2 9.3 285.5 7.8L284.6 5.9Q283.9 4.4 286.4 2.4L289.8 -0.3Q292.3 -2.2 295.3 -1.7L299.4 -1Q302.4 -0.5 300.9 3L298.8 7.7Q297.2 11.2 296.1 11.8L294.6 12.5Q293.5 13 291.3 11.9Z" fill="#3d3060"/><path d="M300.2 29.7Q302.7 30.9 303.5 27.5L304.6 22.9Q305.4 19.5 303.2 17.7L300.4 15.2Q298.2 13.4 297.1 13.9L295.6 14.6Q294.5 15.2 294 17.9L293.3 21.6Q292.9 24.3 293.3 25.1L293.9 26Q294.4 26.8 296.9 28Z" fill="#2a4458"/><path d="M278.7 32.4Q278.2 31 279.3 28.9L280.7 26.1Q281.7 24 284.5 24.5L288.1 25.2Q290.8 25.7 291.3 26.4L291.9 27.3Q292.4 28 289.8 30.4L286.4 33.5Q283.8 35.9 282.6 35.8L281 35.6Q279.8 35.5 279.4 34.2Z" fill="#30552f"/><path d="M286.3 38.7Q284.9 37.1 287.4 34.7L290.8 31.5Q293.3 29 295.9 30.1L299.4 31.5Q301.9 32.6 302 32.7L302.1 32.9Q302.2 33 300 35.8L297.1 39.4Q294.9 42.2 293.3 42.2L291.1 42.3Q289.5 42.3 288.1 40.8Z" fill="#30552f"/><path d="M337.1 22.8Q337.5 22.5 336.1 17.9L334.2 11.7Q332.7 7.1 332.6 7.1L332.3 7.1Q332.2 7 329.2 10.5L325.3 15.1Q322.3 18.6 322.7 19.5L323.2 20.7Q323.6 21.5 327.3 22.1L332.2 22.9Q336 23.4 336.4 23.2Z" fill="#553444"/><path d="M274.8 43.3Q272.7 45.7 274.1 47L276 48.8Q277.4 50.1 279.6 49.8L282.6 49.4Q284.8 49.1 285.7 47.5L286.9 45.3Q287.9 43.7 286.5 42.1L284.8 40Q283.4 38.3 282.3 38.1L280.7 37.9Q279.5 37.7 277.5 40.1Z" fill="#45322c"/><path d="M295.2 51.2Q296.9 49.6 296.3 48L295.6 45.9Q295 44.3 293.4 44.4L291.2 44.6Q289.6 44.7 288.7 46.3L287.5 48.5Q286.7 50.1 287.8 51.6L289.3 53.6Q290.4 55.2 290.7 55.1L291.1 55.1Q291.4 55 293 53.4Z" fill="#45322c"/><path d="M277.8 55.6Q278 57.3 280.2 58.5L283.2 60.2Q285.4 61.5 286.4 59.9L287.8 57.9Q288.9 56.4 287.7 54.9L286.2 52.9Q285 51.4 282.8 51.5L279.8 51.7Q277.6 51.8 277.7 53.4Z" fill="#30552f"/><path d="M287.3 92.5Q286.9 89.5 285.3 89.6L283.1 89.7Q281.4 89.7 280.1 90.7L278.5 91.9Q277.2 92.8 276.6 95.4L275.8 98.9Q275.3 101.5 277 102L279.2 102.7Q280.9 103.2 283.1 102.1L285.9 100.7Q288 99.6 287.7 96.6Z" fill="#3d3060"/><path d="M268.7 133Q268.8 133.3 265.7 135.8L261.6 139.1Q258.5 141.6 257.1 140.2L255.3 138.2Q253.9 136.8 254.9 134.5L256.3 131.4Q257.3 129.1 260.6 130.1L265 131.3Q268.3 132.2 268.4 132.5Z" fill="#3e4a2a"/><path d="M267.9 106.1Q265 107.2 264.9 108.2L264.7 109.5Q264.6 110.5 266.7 112.5L269.6 115.3Q271.8 117.3 275.1 117.2L279.6 117Q283 116.8 282.1 113.4L281 108.9Q280.2 105.5 278.5 104.9L276.3 104Q274.6 103.4 271.7 104.5Z" fill="#45283a"/><path d="M271.8 80.6Q273.5 78.6 273.5 78.5L273.6 78.5Q273.6 78.5 275.6 81.4L278.3 85.2Q280.2 88 278.9 88.9L277.2 89.9Q275.8 90.8 273.7 89.9L270.9 88.8Q268.7 88 268.5 87.2L268.1 86.1Q267.8 85.3 269.5 83.3Z" fill="#553444"/><path d="M297.9 72.8Q299.6 74.1 300.9 72.9L302.7 71.4Q304 70.2 302.4 68.4L300.3 66.1Q298.7 64.3 297.2 65.6L295.3 67.3Q293.9 68.6 293.9 69L294 69.5Q294 69.9 295.7 71.1Z" fill="#30552f"/><path d="M323.3 62.5Q322.6 62.9 319.9 61.7L316.3 60.2Q313.6 59 314.4 56.8L315.6 53.9Q316.4 51.7 318.4 52.6L321.1 53.8Q323.2 54.7 323.7 56.8L324.5 59.6Q325.1 61.7 324.4 62Z" fill="#45283a"/><path d="M269.9 44.6Q269.3 44.5 267.6 42.3L265.3 39.2Q263.6 36.9 265.1 34.7L267.3 31.8Q268.9 29.7 271 30.3L273.8 31.3Q275.9 31.9 276.5 33.2L277.3 35Q277.8 36.3 275.9 38.8L273.3 42.1Q271.4 44.6 270.7 44.6Z" fill="#3e4a2a"/><path d="M267.9 72.9Q265.7 71.6 265.7 70.9L265.8 70Q265.8 69.4 267.7 67.9L270.2 65.8Q272.1 64.3 273.8 66.5L276 69.4Q277.6 71.6 276.3 73L274.6 74.8Q273.3 76.1 273.2 76.1L273.1 76.1Q273.1 76.1 270.9 74.7Z" fill="#2e3848"/><path d="M261.2 113.4Q263.3 111.7 265.3 113.9L268 116.9Q270 119.1 269.6 122.6L269.1 127.3Q268.7 130.9 265.4 129.8L261.1 128.4Q257.9 127.3 257.1 125.8L256 123.8Q255.2 122.3 255.5 120.8L256 118.8Q256.3 117.3 258.4 115.6Z" fill="#30552f"/><path d="M391.3 86.1Q388.1 87.4 389.2 90.2L390.7 93.9Q391.8 96.6 392.3 97L393 97.6Q393.5 98 393.6 97.9L393.6 97.9Q393.7 97.9 395.4 94.1L397.8 89.2Q399.6 85.5 399.3 84.7L398.9 83.8Q398.6 83.1 395.4 84.4Z" fill="#4d2e4e"/><path d="M288.2 82.9Q289.1 85.4 288.5 86L287.6 86.9Q287 87.5 285.3 87.4L283.1 87.3Q281.4 87.2 279.4 84.4L276.8 80.5Q274.9 77.7 276.2 76.3L277.9 74.5Q279.2 73.2 279.3 73.1L279.4 73.1Q279.4 73.1 281.4 74.3L284 75.9Q285.9 77.1 286.9 79.6Z" fill="#2a4458"/><path d="M267 74.5Q264.7 73.2 263.1 74.4L261 76.1Q259.3 77.3 260 78.8L260.9 80.6Q261.5 82.1 263 82.7L264.9 83.5Q266.4 84.1 268.2 82.1L270.5 79.5Q272.3 77.5 270 76.2Z" fill="#2e3848"/><path d="M250 92.1Q251.5 90.5 252.6 90.6L253.9 90.6Q254.9 90.7 256.7 92.7L259 95.3Q260.7 97.3 260.9 99.1L261.1 101.5Q261.2 103.3 256.6 101.8L250.3 99.9Q245.6 98.4 245.8 97.7L246.1 96.6Q246.3 95.9 247.9 94.3Z" fill="#2b4d50"/><path d="M293.3 58.9Q291.5 57.5 291.2 57.5L290.9 57.5Q290.6 57.5 289.5 59.1L288.1 61.1Q287.1 62.6 287.1 62.8L287.1 63Q287.1 63.1 288.8 64.3L291 66Q292.6 67.2 294.1 65.9L296 64.2Q297.5 62.9 297.5 62.7L297.5 62.3Q297.5 62.1 295.7 60.7Z" fill="#4c5a30"/><path d="M264.6 95Q263.1 97.3 263 99.1L262.9 101.4Q262.9 103.2 263.3 104L263.9 105Q264.3 105.7 267.1 104.4L270.8 102.5Q273.6 101.1 274.1 98.5L274.7 95Q275.2 92.4 273.1 91.6L270.2 90.6Q268.1 89.8 266.6 92Z" fill="#30552f"/><path d="M245.9 113.3Q242.4 111.8 241.2 114L239.6 116.9Q238.3 119 238.6 120.1L238.9 121.6Q239.1 122.7 240.4 123.5L242 124.7Q243.2 125.5 246.1 124.4L249.9 122.8Q252.7 121.7 253.2 120.2L253.8 118.2Q254.2 116.8 250.6 115.3Z" fill="#3e4a2a"/><path d="M258 79.6Q257.5 78.1 256.2 77.7L254.6 77.2Q253.3 76.9 252.3 78.7L250.9 81.2Q249.8 83.1 250.3 84.6L251 86.7Q251.6 88.3 252.6 88.3L253.9 88.2Q255 88.2 256.3 86.7L258 84.6Q259.3 83 258.8 81.5Z" fill="#45322c"/><path d="M261.4 105.2Q260.9 104.5 256.2 103.1L249.9 101.3Q245.2 99.9 243.9 100.9L242.2 102.4Q240.9 103.4 241.5 105.4L242.4 108.1Q243.1 110.1 246.6 111.7L251.3 113.8Q254.8 115.3 257 113.8L259.9 111.7Q262.1 110.1 262.2 109.2L262.4 107.9Q262.5 106.9 262 106.2Z" fill="#2a4458"/><path d="M240.6 81.5Q237.5 81.4 239.7 78.7L242.5 75.1Q244.7 72.4 245.9 71.9L247.4 71.3Q248.6 70.9 249.6 72.4L251 74.5Q252 76 250.8 77.8L249.1 80.1Q247.9 81.9 244.8 81.7Z" fill="#45283a"/><path d="M283 65.5Q284.6 63.3 284.6 63.2L284.6 63Q284.6 62.8 282.4 61.6L279.4 59.9Q277.2 58.6 276.1 60L274.7 61.8Q273.7 63.1 273.7 63.1L273.7 63.2Q273.7 63.2 275.2 65.5L277.3 68.5Q278.9 70.7 278.9 70.7L279 70.7Q279.1 70.7 280.8 68.5Z" fill="#30552f"/><path d="M263.8 33.8Q262.3 36 259.6 35.5L256 34.9Q253.3 34.4 252.2 32L250.7 28.9Q249.5 26.5 252.2 24.5L255.8 21.8Q258.6 19.8 260.5 20.1L263 20.4Q264.9 20.7 265.6 23L266.5 26.2Q267.2 28.5 265.7 30.8Z" fill="#2b4d50"/><path d="M300.9 52.2Q302.1 52.8 302.4 54L302.8 55.5Q303 56.7 301.7 57.9L299.9 59.5Q298.6 60.7 296.8 59.4L294.3 57.6Q292.5 56.2 294.2 54.6L296.4 52.4Q298.1 50.8 299.3 51.4Z" fill="#33306a"/><path d="M238.6 86.8Q236.3 83.1 236.2 83.1L236 83.1Q235.8 83.1 234.9 83.7L233.7 84.4Q232.9 85 232.6 85.5L232.2 86.1Q231.9 86.6 231.8 89.5L231.7 93.4Q231.7 96.3 233 97.7L234.8 99.6Q236.1 101 237.1 101.2L238.4 101.5Q239.4 101.8 240.7 100.6L242.3 99.1Q243.5 98 243.7 97.2L243.8 96.2Q243.9 95.4 241.7 91.7Z" fill="#2a4458"/><path d="M269.9 47Q269.2 47 267.1 49.2L264.2 52.1Q262 54.3 262.2 54.7L262.4 55.2Q262.6 55.5 265.4 57.4L269.2 59.9Q272 61.8 273 60.5L274.4 58.7Q275.5 57.3 275.5 55.7L275.6 53.5Q275.6 51.8 274.3 50.4L272.6 48.5Q271.3 47.1 270.7 47.1Z" fill="#4d2e4e"/><path d="M261.6 61.7Q261.4 64 262.4 65.2L263.8 66.8Q264.8 68.1 266.7 66.6L269.2 64.6Q271.2 63.1 271.2 63.1L271.2 63Q271.2 63 268.4 61L264.7 58.4Q261.9 56.5 261.8 58.7Z" fill="#45283a"/><path d="M266.2 17.6Q265.2 18.3 263.3 18.1L260.7 17.8Q258.9 17.6 258.1 13.7L257.1 8.6Q256.3 4.8 258.1 3.5L260.6 1.7Q262.5 0.4 264.9 2.7L268 5.7Q270.4 7.9 269.9 10.3L269.2 13.5Q268.6 15.8 267.6 16.6Z" fill="#3e4a2a"/><path d="M259.5 61.4Q259.1 63.7 256.4 64.8L252.9 66.3Q250.3 67.5 249.9 65.7L249.5 63.4Q249.2 61.6 251.6 59.5L254.8 56.7Q257.2 54.5 258.1 54.7L259.2 54.8Q260.1 54.9 260.2 55.3L260.4 55.9Q260.5 56.3 260.1 58.5Z" fill="#2a4458"/><path d="M261.8 72.8Q263.4 71.5 263.4 70.9L263.3 70Q263.3 69.3 262.3 68.2L260.8 66.6Q259.8 65.4 257 66.3L253.4 67.6Q250.7 68.6 250.6 68.9L250.4 69.3Q250.3 69.7 251.4 71.2L252.9 73.1Q254 74.6 255.2 75L256.9 75.5Q258.1 75.8 259.7 74.5Z" fill="#33306a"/><path d="M251.6 42.8Q251.3 41.1 251.8 39.6L252.5 37.6Q253 36.2 255.6 36.8L259.1 37.7Q261.8 38.4 263.6 40.5L266 43.5Q267.9 45.7 265.7 47.8L262.7 50.6Q260.5 52.7 259.6 52.5L258.5 52.3Q257.6 52.1 256 50.5L253.9 48.4Q252.4 46.8 252.1 45.1Z" fill="#45283a"/><path d="M264.1 85.5Q265.6 86.1 265.8 86.9L266.2 88Q266.4 88.7 265 91.1L263.2 94.1Q261.8 96.5 260.2 94.3L258 91.5Q256.4 89.4 257.7 87.8L259.4 85.7Q260.7 84.1 262.2 84.7Z" fill="#2b4d50"/><path d="M233.5 78.8Q234.6 81.1 233.7 81.7L232.5 82.4Q231.6 82.9 228.5 80.8L224.4 77.9Q221.4 75.8 221.7 74.7L222.1 73.3Q222.4 72.2 224.9 72.6L228.3 73Q230.9 73.3 232 75.7Z" fill="#2b4d50"/><path d="M280.6 16.1Q279.3 18.6 276.6 17.9L273.1 17Q270.4 16.3 271.1 14L271.9 10.8Q272.6 8.5 275.3 7.4L278.8 6.1Q281.5 5.1 281.7 5.1L281.9 5.1Q282 5.2 282.6 6.7L283.3 8.7Q283.9 10.3 282.5 12.8Z" fill="#4d2e4e"/><path d="M236.4 80.6Q236.5 80.6 238.5 77.8L241.2 74.1Q243.2 71.3 240.8 69.9L237.5 68.1Q235 66.7 234.5 68.4L233.7 70.7Q233.1 72.4 233.9 74.9L235 78.2Q235.8 80.7 236 80.7L236.2 80.6Q236.4 80.6 236.4 80.6Z" fill="#4d2e4e"/><path d="M247.4 24.7Q248.4 25 251 22.9L254.5 20Q257.1 17.9 256.3 14.1L255.3 9Q254.5 5.2 252.9 4.9L250.8 4.4Q249.2 4.1 247 7L244.1 10.8Q241.9 13.7 242.9 16.8L244.3 20.9Q245.3 24.1 246.2 24.3Z" fill="#553444"/><path d="M234.6 126.8Q237.8 124.5 239 125.4L240.6 126.6Q241.8 127.4 242 130L242.3 133.4Q242.5 135.9 238.9 135.9L234.2 135.8Q230.6 135.7 229.6 134.6L228.3 133.2Q227.3 132.2 230.4 129.9Z" fill="#3d3060"/><path d="M241.5 68.6Q244 70 245.2 69.7L246.8 69.3Q248 69 248.1 68.7L248.2 68.2Q248.3 67.9 247.9 66.2L247.3 63.9Q246.9 62.2 245.5 61.2L243.7 59.9Q242.4 58.9 240.4 60.9L237.7 63.4Q235.7 65.3 235.7 65.4L235.8 65.4Q235.8 65.4 238.2 66.8Z" fill="#2e3848"/><path d="M241.2 52.3Q241.8 52.8 244.2 51.1L247.5 48.8Q249.9 47.2 249.8 45.4L249.5 43.1Q249.3 41.4 245.8 42.3L241.1 43.5Q237.6 44.4 238.3 46.5L239.1 49.3Q239.8 51.3 240.4 51.7Z" fill="#4d2e4e"/><path d="M250.6 124.4Q253.4 123.2 254.1 124.7L255 126.8Q255.7 128.4 254.6 130.7L253.2 133.7Q252.2 136 250 136.2L247.1 136.4Q244.9 136.5 244.8 136.3L244.5 136Q244.4 135.8 244.2 133.3L244.1 129.9Q244 127.3 246.8 126.1Z" fill="#4d2e4e"/><path d="M236.2 120.7Q236 119.6 233.7 119L230.6 118.2Q228.3 117.6 226.5 119.6L224.1 122.3Q222.3 124.4 223.3 126.3L224.6 128.9Q225.6 130.9 225.9 131L226.2 131.1Q226.5 131.2 229.6 128.8L233.7 125.6Q236.8 123.2 236.6 122.1Z" fill="#45283a"/><path d="M278.2 4.3Q281 3.5 279.2 0.8L276.9 -2.8Q275.1 -5.4 271.8 -4.7L267.5 -3.8Q264.2 -3.2 264 -2.4L263.7 -1.5Q263.5 -0.7 266 1.4L269.3 4.2Q271.8 6.4 274.6 5.5Z" fill="#33306a"/><path d="M225 118.4Q226.7 116.2 226.3 114.8L225.8 112.9Q225.4 111.5 222 110L217.4 108.2Q214 106.7 213.2 108.1L212.2 109.9Q211.4 111.3 213.1 114.3L215.2 118.4Q216.8 121.4 218.1 122L219.8 122.8Q221.1 123.4 222.8 121.2Z" fill="#2b4d50"/><path d="M221.4 98.8Q217.8 99.1 216.8 100.2L215.5 101.8Q214.5 103 214.4 103.8L214.4 104.8Q214.4 105.6 217.9 106.7L222.6 108.2Q226.2 109.3 228.7 107.2L232.2 104.5Q234.8 102.4 233.3 101.1L231.4 99.4Q229.9 98.1 226.3 98.4Z" fill="#45322c"/><path d="M274.4 29.4Q276.5 30.2 277.6 28.1L279 25.2Q280 23.1 279.6 22.4L279.1 21.4Q278.7 20.6 276.1 19.8L272.6 18.7Q270 17.9 268.9 18.6L267.5 19.5Q266.4 20.1 267.3 22.4L268.6 25.5Q269.5 27.7 271.6 28.5Z" fill="#3d3060"/><path d="M221.8 88.1Q218.2 88.7 218 91.4L217.8 94.9Q217.7 97.6 221.3 97.2L226.1 96.6Q229.7 96.2 229.8 93.3L230 89.5Q230.1 86.6 226.5 87.2Z" fill="#30552f"/><path d="M222.7 130Q223.8 131.9 221.1 134L217.5 136.7Q214.8 138.8 213.4 137.8L211.5 136.4Q210.1 135.4 209.9 133.6L209.5 131.3Q209.3 129.5 211.2 127.7L213.9 125.4Q215.8 123.6 217.1 124.2L218.8 124.9Q220.1 125.5 221.2 127.4Z" fill="#2a4458"/><path d="M239.5 106Q239 104 238 103.8L236.6 103.6Q235.6 103.4 233.2 105.6L229.9 108.6Q227.5 110.9 227.9 112.3L228.5 114.2Q228.9 115.6 231.2 116.3L234.2 117.2Q236.4 117.9 237.7 115.8L239.4 113Q240.7 110.8 240.2 108.8Z" fill="#3e4a2a"/><path d="M281.8 21.3Q282.1 22 284.8 22.6L288.4 23.4Q291.1 24 291.5 21.3L292.1 17.6Q292.5 14.8 290.4 13.7L287.5 12.2Q285.3 11 284 13.6L282.2 16.9Q280.9 19.5 281.2 20.3Z" fill="#4c5a30"/><path d="M245.1 52.4Q242.7 54 243 55L243.4 56.2Q243.7 57.1 245 58.1L246.8 59.4Q248.1 60.4 250.6 58.3L253.8 55.6Q256.3 53.5 254.6 52L252.4 49.9Q250.8 48.4 248.4 50.1Z" fill="#553444"/><path d="M242.2 25.2Q243.8 24.6 242.6 21.6L240.9 17.6Q239.6 14.6 237.5 13.5L234.7 12.2Q232.5 11.1 230.1 12.1L226.8 13.3Q224.3 14.3 224.3 14.4L224.2 14.6Q224.1 14.7 226.1 17.9L228.8 22.1Q230.7 25.3 233.1 25.7L236.2 26.2Q238.5 26.5 240.1 26Z" fill="#45322c"/><path d="M229.2 10Q231.6 8.9 232.2 5.6L233 1.3Q233.6 -2 230.1 -1.9L225.4 -1.6Q221.9 -1.5 221.5 -0.6L220.9 0.6Q220.4 1.5 221.4 4.8L222.7 9.3Q223.6 12.6 226 11.5Z" fill="#3d3060"/><path d="M232.7 67.7Q233.4 66.1 233.4 66.1L233.4 66Q233.4 66 231.9 64.9L230 63.4Q228.5 62.2 226.4 63.7L223.6 65.7Q221.5 67.2 221.8 68.4L222.2 69.9Q222.5 71 225.1 71.2L228.5 71.4Q231 71.6 231.7 70Z" fill="#36502e"/><path d="M239.8 54.3Q240.5 54.7 240.7 55.7L241.1 56.9Q241.4 57.9 239.4 59.8L236.7 62.3Q234.7 64.3 233.2 63.2L231.2 61.7Q229.8 60.6 229.7 59.5L229.7 58.1Q229.7 57.1 232.3 55.9L235.8 54.5Q238.4 53.4 239 53.8Z" fill="#2e3848"/><path d="M240.8 42.2Q237.3 43 236.8 42.7L236.1 42.2Q235.6 41.8 236.7 37.9L238.3 32.7Q239.4 28.8 241 28.1L243 27.2Q244.6 26.4 245.5 26.7L246.7 27.1Q247.6 27.3 248.7 29.8L250.1 33Q251.1 35.4 250.5 36.9L249.6 38.7Q249 40.2 245.5 41Z" fill="#3e4a2a"/><path d="M242.8 9.8Q240.5 12.6 238.4 11.6L235.6 10.3Q233.4 9.2 234 5.9L234.7 1.6Q235.3 -1.7 235.8 -2.3L236.6 -3.1Q237.1 -3.7 238.7 -3.6L240.8 -3.5Q242.3 -3.5 244 -1.5L246.3 1.2Q248 3.2 245.8 6Z" fill="#45322c"/><path d="M237.4 82.5Q237.4 82.5 240.5 82.9L244.6 83.5Q247.7 83.9 248.3 85.4L249.2 87.4Q249.8 88.9 248.4 90.7L246.5 93Q245 94.7 242.7 91.1L239.6 86.2Q237.3 82.5 237.3 82.5Z" fill="#2b4d50"/><path d="M219.1 49.5Q219.4 50.4 221 50.7L223.2 51Q224.9 51.3 226.4 48.8L228.6 45.5Q230.2 43.1 228.2 41.6L225.5 39.7Q223.6 38.3 222 41.1L219.9 44.7Q218.3 47.5 218.6 48.4Z" fill="#2e3848"/><path d="M227 28.4Q229 26.3 227.2 23.1L224.7 18.7Q222.8 15.5 219.7 16.8L215.6 18.5Q212.5 19.7 212.4 22.5L212.3 26.1Q212.2 28.9 212.4 29.1L212.5 29.4Q212.7 29.7 215.6 30.7L219.5 32.1Q222.4 33.1 224.4 31.1Z" fill="#553444"/><path d="M237.1 49.8Q237.7 51.9 235.1 53L231.7 54.5Q229.1 55.6 228.2 54.6L227.1 53.2Q226.2 52.2 227.8 49.7L229.9 46.4Q231.4 43.9 232.3 43.8L233.4 43.7Q234.2 43.7 234.6 44.1L235.3 44.6Q235.8 45 236.4 47.1Z" fill="#2e3848"/><path d="M235.3 37.5Q234.1 41.3 233.2 41.4L232.2 41.4Q231.3 41.4 229.3 40L226.7 38.1Q224.7 36.7 224.4 36.1L224 35.2Q223.7 34.5 225.8 32.4L228.4 29.7Q230.4 27.7 232.8 27.9L235.9 28.2Q238.2 28.4 237 32.3Z" fill="#45283a"/><path d="M218.5 44Q216.9 46.7 215.4 45.8L213.3 44.7Q211.7 43.8 211.2 42.5L210.6 40.7Q210.2 39.4 210.7 37L211.5 33.8Q212 31.4 214.9 32.5L218.7 34.1Q221.6 35.2 221.8 36L222.1 36.9Q222.3 37.6 220.7 40.3Z" fill="#4d2e4e"/><path d="M227.3 59.6Q227.4 60.7 225.3 62.2L222.5 64.2Q220.4 65.8 219.9 65.5L219.3 65Q218.8 64.7 217.8 62.6L216.4 59.8Q215.5 57.7 216.5 56.1L217.9 54Q219 52.5 220.6 52.8L222.8 53.3Q224.4 53.7 225.3 54.7L226.4 56.1Q227.3 57.1 227.3 58.2Z" fill="#33306a"/><path d="M216.9 50.5Q217.3 51.3 216.2 52.8L214.7 54.8Q213.6 56.4 212 56.4L209.9 56.5Q208.3 56.6 207.2 55L205.7 52.9Q204.5 51.4 206.4 49.7L208.8 47.5Q210.6 45.8 212.2 46.6L214.4 47.7Q216 48.5 216.4 49.3Z" fill="#45322c"/><path d="M219.5 68.9Q219.2 67.8 218.7 67.5L218 67.2Q217.5 66.9 214.7 68L210.9 69.4Q208 70.4 208.4 73.2L208.9 76.9Q209.2 79.7 210.4 80L212 80.3Q213.2 80.6 215 79L217.3 76.8Q219.1 75.2 219.4 74.1L219.8 72.7Q220.1 71.6 219.9 70.4Z" fill="#45322c"/><path d="M205.4 -4.7Q207.6 -7.8 210.6 -8.3L214.6 -9Q217.6 -9.5 218.3 -7.4L219.1 -4.6Q219.8 -2.5 219.3 -1.7L218.7 -0.5Q218.3 0.4 212.8 1L205.6 1.8Q200.2 2.4 202.4 -0.7Z" fill="#33306a"/><path d="M216.9 85.7Q218 87.4 221.5 86.7L226.3 85.9Q229.9 85.3 230.2 84.8L230.6 84.2Q231 83.8 227.8 81.7L223.7 79Q220.6 77 218.7 78.5L216.2 80.4Q214.3 81.9 215.4 83.6Z" fill="#3e4a2a"/><path d="M205.1 66.8Q204 65.8 205.3 63.7L207.1 61Q208.4 58.9 210 58.8L212.1 58.6Q213.7 58.6 214.7 60.7L216 63.5Q217 65.6 214.2 66.6L210.3 68Q207.5 69.1 206.5 68.1Z" fill="#4d2e4e"/><path d="M222 13.3Q222 13.5 218.9 14.8L214.8 16.5Q211.7 17.8 207 14.4L200.6 9.7Q195.8 6.2 197.2 5.3L198.9 4.2Q200.3 3.3 205.7 2.9L213 2.5Q218.4 2.1 219.5 5.4L221.1 9.8Q222.2 13 222.1 13.2Z" fill="#36502e"/></g>
</g>
<rect x="220.5" y="5.5" width="210.5" height="124" fill="none" stroke="#555" stroke-width="0.8"/>
<text x="12.5" y="30.5" font-size="25" text-anchor="start" fill="#fff">(a)</text>
<text x="213.5" y="21" font-size="14.4" text-anchor="end" fill="#fff">t = 15 min</text>
<text x="21.7" y="124.6" font-size="13.6" text-anchor="start" fill="#fff" transform="rotate(-90 21.7 124.6)">Dorsal-ventral</text>
<text x="192" y="111.5" font-size="12.5" text-anchor="middle" fill="#fff">20 <tspan font-family='"Liberation Serif", serif' font-style="italic">&#956;m</tspan></text>
<rect x="172" y="119.5" width="41" height="4" fill="#fff"/>
<text x="225.5" y="30.5" font-size="25" text-anchor="start" fill="#fff">(b)</text>
<text x="427.5" y="21" font-size="14.4" text-anchor="end" fill="#fff">t = 35 min</text>
<rect x="385" y="119.5" width="41" height="4" fill="#fff"/>
<path d="M222 34H419Q429 34 429 44V85Q429 95 419 95H232Q222 95 222 85Z" fill="none" stroke="#fff" stroke-width="2.2" stroke-dasharray="4 3"/>
<text x="99" y="145.5" font-size="13.6" text-anchor="middle" fill="#111">Anteroposterior</text>
<path d="M478 77.7 480.2 75.5 482.5 74.5 484.7 82.9 487 84.3 489.2 84 491.5 81.4 493.7 85.6 496 76.8 498.2 65.9 500.4 64.6 502.7 56.5 504.9 62.9 507.2 65.4 509.4 65.7 511.7 75.2 513.9 75.2 516.2 79 518.4 79.6 520.7 75.9 522.9 81.1 525.1 82.4 527.4 76.7 529.6 78.3 531.9 81.8 534.1 84.1 536.4 83 538.6 82.4 540.9 84.3 543.1 80.9 545.4 86.3 547.6 77.6 549.8 80.9 552.1 90.2 554.3 92.2 556.6 95.1 558.8 93.2 561.1 92 563.3 88.8 565.6 87.8 567.8 94 570 94 572.3 90.3 574.5 92.1 576.8 91.1 579 86.4 581.3 82.3 583.5 85.8 585.8 85.2 588 84.1 590.2 77.7 592.5 76.8 594.7 74.6 597 68.9 599.2 64.8 601.5 73.9 603.7 71.3 606 70.5 608.2 70.4 610.5 67.8 612.7 61 614.9 34.7 617.2 30.1 619.4 34.2 621.7 30.5 623.9 25.1 626.2 25.5 628.4 25.5 630.7 23.7 632.9 17.1 635.1 25 637.4 27.8 639.6 24.6 641.9 20.2 644.1 20.7 646.4 22.6 648.6 19.8 650.9 22.2 653.1 22.1 655.4 19.6 657.6 19.7 659.8 22.5 662.1 21.4 664.3 21.1 666.6 24.6 668.8 19.5 671.1 22.6 673.3 22.8 675.6 29.1 677.8 29.3 680 25.6 682.3 25.6 682.3 33.9 680 38.1 677.8 44.9 675.6 40.4 673.3 36.4 671.1 31.8 668.8 37.2 666.6 32.8 664.3 31.9 662.1 34.7 659.8 36.2 657.6 34.6 655.4 31.8 653.1 34.9 650.9 31.6 648.6 34.5 646.4 38 644.1 30.4 641.9 33.7 639.6 32.9 637.4 37.8 635.1 39 632.9 32.3 630.7 32.9 628.4 38.4 626.2 37.7 623.9 39.3 621.7 39.6 619.4 44.6 617.2 49.5 614.9 49 612.7 74.4 610.5 79.2 608.2 80.6 606 82.9 603.7 88.1 601.5 82.3 599.2 82.9 597 84.6 594.7 85.9 592.5 86.8 590.2 89 588 94.6 585.8 96.4 583.5 94.8 581.3 96.6 579 97.4 576.8 102.2 574.5 102.5 572.3 102.2 570 102.8 567.8 105.6 565.6 101.8 563.3 104.2 561.1 103.7 558.8 105.4 556.6 104 554.3 104.4 552.1 101.9 549.8 96.9 547.6 94.2 545.4 94.9 543.1 96.7 540.9 94.2 538.6 95.2 536.4 91.4 534.1 97.8 531.9 94.3 529.6 94.3 527.4 87.9 525.1 95.3 522.9 96.6 520.7 90.7 518.4 92.1 516.2 89.7 513.9 90.8 511.7 85.4 509.4 79.4 507.2 78.2 504.9 74.2 502.7 72.9 500.4 75.4 498.2 76 496 85.1 493.7 94.9 491.5 94.3 489.2 95.2 487 94.9 484.7 90.5 482.5 90.1 480.2 86.1 478 89.3Z" fill="#bdbdbd" stroke="#333" stroke-width="0.6"/>
<g fill="#eaf6ff" stroke="#2a9df4" stroke-width="1"><circle cx="478" cy="81.5" r="3.6"/><circle cx="480.2" cy="80.2" r="3.6"/><circle cx="482.5" cy="81.6" r="3.6"/><circle cx="484.7" cy="86.7" r="3.6"/><circle cx="487" cy="89.2" r="3.6"/><circle cx="489.2" cy="89.2" r="3.6"/><circle cx="491.5" cy="89.7" r="3.6"/><circle cx="493.7" cy="90.8" r="3.6"/><circle cx="496" cy="81.3" r="3.6"/><circle cx="498.2" cy="71.7" r="3.6"/><circle cx="500.4" cy="70.3" r="3.6"/><circle cx="502.7" cy="65.5" r="3.6"/><circle cx="504.9" cy="67.5" r="3.6"/><circle cx="507.2" cy="71.4" r="3.6"/><circle cx="509.4" cy="75" r="3.6"/><circle cx="511.7" cy="80.3" r="3.6"/><circle cx="513.9" cy="83.6" r="3.6"/><circle cx="516.2" cy="85.5" r="3.6"/><circle cx="518.4" cy="83.8" r="3.6"/><circle cx="520.7" cy="83.6" r="3.6"/><circle cx="522.9" cy="86.9" r="3.6"/><circle cx="525.1" cy="86.3" r="3.6"/><circle cx="527.4" cy="83.3" r="3.6"/><circle cx="529.6" cy="83.3" r="3.6"/><circle cx="531.9" cy="87.2" r="3.6"/><circle cx="534.1" cy="89" r="3.6"/><circle cx="536.4" cy="87.4" r="3.6"/><circle cx="538.6" cy="87.2" r="3.6"/><circle cx="540.9" cy="89.6" r="3.6"/><circle cx="543.1" cy="91" r="3.6"/><circle cx="545.4" cy="90.4" r="3.6"/><circle cx="547.6" cy="88.8" r="3.6"/><circle cx="549.8" cy="92.7" r="3.6"/><circle cx="552.1" cy="96.7" r="3.6"/><circle cx="554.3" cy="96.7" r="3.6"/><circle cx="556.6" cy="99.6" r="3.6"/><circle cx="558.8" cy="100.4" r="3.6"/><circle cx="561.1" cy="98.9" r="3.6"/><circle cx="563.3" cy="96.6" r="3.6"/><circle cx="565.6" cy="95.8" r="3.6"/><circle cx="567.8" cy="99.8" r="3.6"/><circle cx="570" cy="98" r="3.6"/><circle cx="572.3" cy="95.6" r="3.6"/><circle cx="574.5" cy="97.2" r="3.6"/><circle cx="576.8" cy="96" r="3.6"/><circle cx="579" cy="93" r="3.6"/><circle cx="581.3" cy="91.8" r="3.6"/><circle cx="583.5" cy="90.1" r="3.6"/><circle cx="585.8" cy="90.9" r="3.6"/><circle cx="588" cy="90.4" r="3.6"/><circle cx="590.2" cy="85.1" r="3.6"/><circle cx="592.5" cy="82.1" r="3.6"/><circle cx="594.7" cy="80.5" r="3.6"/><circle cx="597" cy="78.6" r="3.6"/><circle cx="599.2" cy="76.6" r="3.6"/><circle cx="601.5" cy="77.9" r="3.6"/><circle cx="603.7" cy="77" r="3.6"/><circle cx="606" cy="76.3" r="3.6"/><circle cx="608.2" cy="76.5" r="3.6"/><circle cx="610.5" cy="74.3" r="3.6"/><circle cx="612.7" cy="69.9" r="3.6"/><circle cx="614.9" cy="43.7" r="3.6"/><circle cx="617.2" cy="42.3" r="3.6"/><circle cx="619.4" cy="38.7" r="3.6"/><circle cx="621.7" cy="35.5" r="3.6"/><circle cx="623.9" cy="33.9" r="3.6"/><circle cx="626.2" cy="30.8" r="3.6"/><circle cx="628.4" cy="30.4" r="3.6"/><circle cx="630.7" cy="28" r="3.6"/><circle cx="632.9" cy="28.2" r="3.6"/><circle cx="635.1" cy="34.3" r="3.6"/><circle cx="637.4" cy="32.6" r="3.6"/><circle cx="639.6" cy="28.4" r="3.6"/><circle cx="641.9" cy="26.9" r="3.6"/><circle cx="644.1" cy="25.7" r="3.6"/><circle cx="646.4" cy="26.8" r="3.6"/><circle cx="648.6" cy="26.2" r="3.6"/><circle cx="650.9" cy="26" r="3.6"/><circle cx="653.1" cy="27.9" r="3.6"/><circle cx="655.4" cy="25.6" r="3.6"/><circle cx="657.6" cy="24.9" r="3.6"/><circle cx="659.8" cy="27.1" r="3.6"/><circle cx="662.1" cy="25.3" r="3.6"/><circle cx="664.3" cy="27.4" r="3.6"/><circle cx="666.6" cy="28.8" r="3.6"/><circle cx="668.8" cy="26.9" r="3.6"/><circle cx="671.1" cy="27.9" r="3.6"/><circle cx="673.3" cy="31.4" r="3.6"/><circle cx="675.6" cy="36" r="3.6"/><circle cx="677.8" cy="35.1" r="3.6"/><circle cx="680" cy="31" r="3.6"/><circle cx="682.3" cy="29.4" r="3.6"/></g>
<path d="M480.2 74.3L572.3 96.2" stroke="#edb120" stroke-width="3.2"/>
<path d="M572.3 96.2L611.4 69.1" stroke="#d95319" stroke-width="3.2"/>
<path d="M612.5 7.5V112.5" stroke="#0b5394" stroke-width="1.8" stroke-dasharray="2.5 2"/>
<rect x="478" y="7.2" width="204.5" height="105.6" fill="none" stroke="#262626" stroke-width="0.9"/><path d="M478 112.8v-2.5M478 7.2v2.5M522.9 112.8v-2.5M522.9 7.2v2.5M567.8 112.8v-2.5M567.8 7.2v2.5M612.7 112.8v-2.5M612.7 7.2v2.5M657.6 112.8v-2.5M657.6 7.2v2.5M478 89.9h2.5M682.5 89.9h-2.5M478 52.1h2.5M682.5 52.1h-2.5M478 14.3h2.5M682.5 14.3h-2.5" stroke="#262626" stroke-width="0.9" fill="none"/>
<text x="478" y="127" font-size="12.5" text-anchor="middle" fill="#262626">0</text>
<text x="522.9" y="127" font-size="12.5" text-anchor="middle" fill="#262626">10</text>
<text x="567.8" y="127" font-size="12.5" text-anchor="middle" fill="#262626">20</text>
<text x="612.7" y="127" font-size="12.5" text-anchor="middle" fill="#262626">30</text>
<text x="657.6" y="127" font-size="12.5" text-anchor="middle" fill="#262626">40</text>
<text x="474" y="94.4" font-size="12.5" text-anchor="end" fill="#262626">1.15</text>
<text x="474" y="56.6" font-size="12.5" text-anchor="end" fill="#262626">1.2</text>
<text x="474" y="18.8" font-size="12.5" text-anchor="end" fill="#262626">1.25</text>
<text x="582" y="144.5" font-size="13.5" text-anchor="middle" fill="#262626">t (min)</text>
<text x="444.5" y="59.5" font-size="13.5" text-anchor="middle" fill="#262626" transform="rotate(-90 444.5 59.5)">SI(t)</text>
<text x="480.5" y="27.5" font-size="26" text-anchor="start" fill="#000">(c)</text>
<rect x="525.4" y="16.6" width="70.1" height="45.1" fill="#fff"/>
<path d="M527.2 55.2L528.9 45.9L531.5 44.7L534.2 38.9L537.7 42.4L542 36.8L543.8 37.1L548.2 23.3L550.8 25.9L554.3 25.9L557.8 37.7L561.3 38.9L563.9 46.4L565.7 45.2L568.3 51.7L571.8 47.3L575.3 40.3L577.1 44.7L579.7 40.3L582.3 42.9L585.8 43.4L588.5 45.9L591.1 46.4L593.7 55.2" fill="none" stroke="#2f7ec4" stroke-width="1.1" stroke-dasharray="2.2 0.8"/>
<rect x="525.4" y="16.6" width="70.1" height="45.1" fill="none" stroke="#3a3a3a" stroke-width="0.6"/><path d="M547.7 61.7v-1.6M547.7 16.6v1.6M592.9 61.7v-1.6M592.9 16.6v1.6M525.4 16.6h1.6M595.5 16.6h-1.6M525.4 31.5h1.6M595.5 31.5h-1.6M525.4 46.4h1.6M595.5 46.4h-1.6M525.4 61.7h1.6M595.5 61.7h-1.6" stroke="#3a3a3a" stroke-width="0.6" fill="none"/>
<text x="523.4" y="19.1" font-size="6.8" text-anchor="end" fill="#333">4</text>
<text x="523.4" y="34" font-size="6.8" text-anchor="end" fill="#333">2</text>
<text x="523.4" y="48.9" font-size="6.8" text-anchor="end" fill="#333">0</text>
<text x="523.4" y="64.2" font-size="6.8" text-anchor="end" fill="#333">-2</text>
<text x="547.7" y="69" font-size="7.5" text-anchor="middle" fill="#333">30</text>
<text x="592.9" y="69" font-size="7.5" text-anchor="middle" fill="#333">40</text>
<text x="560.5" y="77" font-size="7.5" text-anchor="middle" fill="#333">t (min)</text>
<text x="516.5" y="39" font-size="7.5" text-anchor="middle" fill="#333" transform="rotate(-90 516.5 39)">dS/dt)</text>
<text x="525.5" y="14.5" font-size="7.5" fill="#333">&#215;10<tspan dy="-3" font-size="5.5">-3</tspan></text>
<linearGradient id="cbg" x1="0" y1="0" x2="0" y2="1"><stop offset="0.00" stop-color="#1a4585"/><stop offset="0.10" stop-color="#2766a7"/><stop offset="0.20" stop-color="#438ac2"/><stop offset="0.30" stop-color="#6eb0d6"/><stop offset="0.40" stop-color="#b5d7e8"/><stop offset="0.50" stop-color="#f7f7f7"/><stop offset="0.60" stop-color="#f3bba0"/><stop offset="0.70" stop-color="#e37f5f"/><stop offset="0.80" stop-color="#c24746"/><stop offset="0.90" stop-color="#9f2336"/><stop offset="1.00" stop-color="#7a122e"/></linearGradient>
<rect x="29.5" y="161.7" width="9.5" height="131" fill="url(#cbg)"/>
<path d="M29.5 178H31.5M29.5 194H31.5M29.5 210H31.5M29.5 227H31.5M29.5 243H31.5M29.5 259H31.5M29.5 276H31.5" stroke="#fff" stroke-width="0.6" opacity="0.6"/>
<text x="27" y="170" font-size="11" text-anchor="end" fill="#262626">90º</text>
<text x="27" y="296" font-size="11" text-anchor="end" fill="#262626">0º</text>
<text x="0" y="0" font-size="13" text-anchor="middle" fill="#262626" transform="translate(15 227) rotate(-90)">Degree  |<tspan font-family='"Liberation Serif", serif' font-style="italic">&#952;</tspan>|</text>
<clipPath id="cpd"><rect x="46" y="161.7" width="226" height="132"/></clipPath>
<g clip-path="url(#cpd)">
<rect x="46" y="161.7" width="226" height="132" fill="#e9e9e9"/>
<path d="M189 169 190.7 172.3 190.6 173.8 182.8 181.5 173 179.9 171.2 171.3 171.6 170.8 187.7 168.4ZM157.4 175.3 162.8 170.7 171.2 171.3 173 179.9 172.2 181.3 161 185.5 160.8 185.4ZM162.8 170.7 171.2 171.3 171.6 170.8 172.3 159 169.3 154.9 157.8 161.4ZM161 185.5 172.2 181.3 174.3 194.4 172.3 196.4 163.2 193.2ZM151.2 174.7 149.7 172.8 151.1 161 153.4 159.9 157.8 161.4 162.8 170.7 157.4 175.3ZM156.3 199.8 162.8 207.6 171.7 202.5 172.3 196.4 163.2 193.2ZM151.1 161 141.2 158.9 138.6 155.5 138.4 153.4 142.3 147.7 153.5 147.6 154.6 149.1 153.4 159.9ZM153.4 159.9 154.6 149.1 166.9 149.2 169.1 151.4 169.3 154.9 157.8 161.4ZM186.6 150.8 182.3 158.5 172.3 159 169.3 154.9 169.1 151.4 178.4 145.7 186.4 149.8ZM207.1 169.8 190.7 172.3 190.6 173.8 197.7 184.5 203.8 185.5 208.3 171.8ZM187.4 194 189.7 199.3 190.4 199.7 206.8 197.1 206.7 188.8 203.8 185.5 197.7 184.5ZM149.7 172.8 138 171.7 141.2 158.9 151.1 161ZM150.1 188.4 160.8 185.4 157.4 175.3 151.2 174.7 146.3 186.3ZM187.4 194 189.7 199.3 178.9 209.5 171.7 202.5 172.3 196.4 174.3 194.4 186.5 193.5ZM189.7 199.3 178.9 209.5 179 210 186.9 217.2 195.1 210.1 190.4 199.7ZM119 153.9 118.9 153.2 128.2 146.8 138.4 153.4 138.6 155.5 128.5 160.8ZM162.8 207.6 171.7 202.5 178.9 209.5 179 210 169.4 220.2 161.7 213.4ZM120.8 169.8 119.9 172.7 126.9 179.6 135.8 172.4 127.9 166.2ZM126.9 179.6 135.8 172.4 137.2 172.3 140.8 184.6 131 187.2 126.8 182.7ZM186.9 217.2 187 220.6 175.7 226.8 169.5 220.6 169.4 220.2 179 210ZM156.3 199.8 162.8 207.6 161.7 213.4 154.1 216.1 145.1 208.3 145.1 204.9 153.5 199.4ZM186.5 193.5 174.3 194.4 172.2 181.3 173 179.9 182.8 181.5ZM207.2 169.1 199.2 157.4 196.4 158.1 189 169 190.7 172.3 207.1 169.8ZM129.5 198.1 130.1 199.1 139.2 199.8 144.3 186.5 140.8 184.6 131 187.2ZM127.9 166.2 135.8 172.4 137.2 172.3 138 171.7 141.2 158.9 138.6 155.5 128.5 160.8ZM182.3 158.5 172.3 159 171.6 170.8 187.7 168.4ZM146.3 186.3 144.3 186.5 140.8 184.6 137.2 172.3 138 171.7 149.7 172.8 151.2 174.7ZM150.1 188.4 153.5 199.4 145.1 204.9 139.2 199.8 144.3 186.5 146.3 186.3ZM150.1 188.4 153.5 199.4 156.3 199.8 163.2 193.2 161 185.5 160.8 185.4ZM115.9 161.8 120.8 169.8 127.9 166.2 128.5 160.8 119 153.9ZM195.1 210.1 202.8 212.7 198.6 223.2 189.9 223.3 187 220.6 186.9 217.2ZM208.3 171.8 203.8 185.5 206.7 188.8 219 185 220.3 182.3 218.2 175.2ZM169.5 220.6 175.7 226.8 176.3 232.9 171.1 238.4 165.7 238.5 159.1 233.5 159 230.8ZM161.7 213.4 169.4 220.2 169.5 220.6 159 230.8 151.8 222.8 154.1 216.1ZM206.7 188.8 219 185 223.8 196.2 217.1 202.9 209.9 201.6 206.8 197.1ZM190.4 199.7 206.8 197.1 209.9 201.6 202.8 212.7 202.8 212.7 195.1 210.1ZM156.3 249.8 161.1 249 165.7 238.5 159.1 233.5 150.2 239.3ZM220.3 182.3 233.7 181.7 235.4 189.8 228.4 196.1 223.8 196.2 219 185ZM171.1 238.4 165.7 238.5 161.1 249 168.1 254.4 176.1 250.4 176.2 249.9ZM212.7 219.9 202.8 212.7 209.9 201.6 217.1 202.9 221.3 211.3 218.9 217.4ZM103.1 182.5 113 181.5 114.9 175.2 103.4 167.4 102.4 169.1 102.7 182.1ZM214.9 159.3 207.2 169.1 207.1 169.8 208.3 171.8 218.2 175.2 223.7 169.2 221.4 158.5ZM196.4 158.1 189 169 187.7 168.4 182.3 158.5 186.6 150.8ZM232.6 171.5 235.6 178.1 233.7 181.7 220.3 182.3 218.2 175.2 223.7 169.2ZM126.8 182.7 131 187.2 129.5 198.1 115.8 193.2 116.8 187.4ZM175.7 226.8 176.3 232.9 184.6 236 189.6 233.9 189.9 223.3 187 220.6ZM187.4 194 197.7 184.5 190.6 173.8 182.8 181.5 186.5 193.5ZM178.3 264.9 167.2 264.5 166.1 263 168.1 254.4 176.1 250.4 181.4 257.1ZM145.1 208.3 137.9 215.5 137.1 215.6 126.4 207.8 130.1 199.1 139.2 199.8 145.1 204.9ZM126.4 207.8 120.4 211.3 121.4 220 128.3 225.3 137.1 215.6ZM103.9 193.5 103.1 182.5 102.7 182.1 91.6 183 90.7 187.4 97.3 195.3ZM103.9 193.5 110.8 197.1 115.8 193.2 116.8 187.4 113 181.5 103.1 182.5ZM115.9 161.8 103.4 166.2 99.6 159.1 102.2 152.1 113.5 149.2 118.9 153.2 119 153.9ZM141.1 250.8 141.6 243.1 147.6 239 150.2 239.3 156.3 249.8 152.3 255.4 144.2 255.5ZM152.4 270 156.7 262.5 166.1 263 167.2 264.5 166.2 277.3 162.7 279.1 155.9 277.7ZM115.8 193.2 129.5 198.1 130.1 199.1 126.4 207.8 120.4 211.3 118.9 210.7 110.8 198.5 110.8 197.1ZM146.8 285 155.9 277.7 162.7 279.1 162.7 294 154.8 295.2 146.5 286.8ZM144.2 255.5 140 264.8 141.2 268 152.4 270 156.7 262.5 152.3 255.4ZM250.4 186.5 246.4 194.1 245.9 194.2 235.4 189.8 233.7 181.7 235.6 178.1 243.2 177ZM228.4 196.1 223.8 196.2 217.1 202.9 221.3 211.3 230.3 211.1 234.8 205.9ZM218.9 217.4 221.3 211.3 230.3 211.1 235 220.8 233.2 225.1 226 226.1ZM144.5 225.6 151.8 222.8 159 230.8 159.1 233.5 150.2 239.3 147.6 239 143.4 227.6ZM184.6 236 176.3 232.9 171.1 238.4 176.2 249.9 184.8 244.4ZM130.2 231.4 132.7 238.5 141.6 243.1 147.6 239 143.4 227.6ZM232.6 171.5 235.6 178.1 243.2 177 250.1 168.1 243.9 162.7 236.9 163.2ZM250.1 168.1 243.9 162.7 246 151.2 255.1 151.4 258.2 163.5 250.6 168.1ZM245.9 194.2 237.9 205.7 243.1 210.4 252.7 208.1 253.6 206.8 252.5 199.6 246.4 194.1ZM167.6 302.5 165.2 295.6 162.7 294 154.8 295.2 150.9 303.1 152.1 307.4 164.5 308ZM242.4 234.2 239.7 234.1 233.2 225.1 235 220.8 241.9 217.8 247.3 220.9 247.5 229.3ZM259.4 242.1 251.6 245 242.4 234.2 247.5 229.3 257.8 229.6 260 241.2ZM221.4 158.4 221.4 158.5 223.7 169.2 232.6 171.5 236.9 163.2 231.4 156.6ZM103.4 166.2 99.6 159.1 93.4 159.3 84.9 167.9 86.5 175.3 87.1 175.5 102.4 169.1 103.4 167.4ZM199 237.6 202.2 228.6 210.6 226.5 218.2 236.9 206.2 242.9 199.6 238.8ZM154.1 216.1 151.8 222.8 144.5 225.6 137.9 215.5 145.1 208.3ZM119.9 172.7 126.9 179.6 126.8 182.7 116.8 187.4 113 181.5 114.9 175.2ZM212.7 219.9 210.6 226.5 218.2 236.9 219.1 237 226 226.1 218.9 217.4ZM199.6 238.8 206.2 242.9 206.9 252.7 199.6 257.8 192.6 256.7 191.4 248ZM226 226.1 233.2 225.1 239.7 234.1 231.3 243.6 223.3 241.4 219.1 237ZM252.7 208.1 253.7 217.5 247.3 220.9 241.9 217.8 243.1 210.4ZM184.6 236 184.8 244.4 191.4 248 199.6 238.8 199 237.6 189.6 233.9ZM184.8 244.4 176.2 249.9 176.1 250.4 181.4 257.1 192.4 256.9 192.6 256.7 191.4 248ZM237.9 205.7 234.8 205.9 230.3 211.1 235 220.8 241.9 217.8 243.1 210.4ZM115.9 161.8 103.4 166.2 103.4 167.4 114.9 175.2 119.9 172.7 120.8 169.8ZM91.6 183 87.1 175.5 102.4 169.1 102.7 182.1ZM188.2 273.7 192.4 256.9 192.6 256.7 199.6 257.8 202.3 266.7 195.2 276.2 191.1 276.7ZM152.3 255.4 156.7 262.5 166.1 263 168.1 254.4 161.1 249 156.3 249.8ZM182.1 303.1 180.2 304.9 167.6 302.5 165.2 295.6 177.3 289.1ZM132.7 238.5 141.6 243.1 141.1 250.8 126.2 253.1 125.5 248ZM218.2 236.9 206.2 242.9 206.9 252.7 215.4 256.8 217.1 256.2 223.3 241.4 219.1 237ZM182.3 272 171.9 278.8 166.2 277.3 167.2 264.5 178.3 264.9ZM212.7 219.9 202.8 212.7 202.8 212.7 198.6 223.2 202.2 228.6 210.6 226.5ZM84.9 167.9 76.4 161.5 68.8 169.6 72.9 176.7 79.1 178.5 86.5 175.3ZM177.3 289.1 165.2 295.6 162.7 294 162.7 279.1 166.2 277.3 171.9 278.8 177.5 288.7ZM188.2 273.7 182.3 272 171.9 278.8 177.5 288.7 188.5 285.3 191.1 276.7ZM191.1 276.7 188.5 285.3 192.7 292.6 200.9 294.2 204.4 291.3 206 282.1 195.2 276.2ZM220.9 286.7 214.3 294.8 204.4 291.3 206 282.1 208.9 280.6ZM103.9 193.5 110.8 197.1 110.8 198.5 101.2 209.9 99.4 209.8 93.9 201.2 97.3 195.3ZM141.1 250.8 126.2 253.1 124.6 256.6 128.3 261.7 140 264.8 144.2 255.5ZM259.3 182.6 260.4 182.8 267 172.7 258.5 163.6 258.2 163.5 250.6 168.1ZM91.6 183 87.1 175.5 86.5 175.3 79.1 178.5 78.2 188.9 82.6 192.5 90.7 187.4ZM245.9 194.2 235.4 189.8 228.4 196.1 234.8 205.9 237.9 205.7ZM259.3 182.6 250.6 168.1 250.1 168.1 243.2 177 250.4 186.5ZM186.2 302.3 195.8 309 202.1 301.6 200.9 294.2 192.7 292.6ZM231.3 243.6 223.3 241.4 217.1 256.2 225.7 258.9 234.1 254.6 235 251.9ZM202.3 266.7 213.3 269.7 215.4 256.8 206.9 252.7 199.6 257.8ZM118.9 210.7 106.6 214.8 106.6 221.2 114.6 224.9 121.4 220 120.4 211.3ZM251.6 245 249.2 250 235 251.9 231.3 243.6 239.7 234.1 242.4 234.2ZM188.2 273.7 182.3 272 178.3 264.9 181.4 257.1 192.4 256.9ZM259.3 182.6 260.4 182.8 260.6 183 262.3 195.5 252.5 199.6 246.4 194.1 250.4 186.5ZM118.6 242.7 108.9 247.2 108.7 247.5 109.9 253 120.8 257.5 124.6 256.6 126.2 253.1 125.5 248ZM97.3 195.3 93.9 201.2 83.1 201.9 82.6 192.5 90.7 187.4ZM259.4 242.1 265.7 252.9 260 258.3 251.1 255.3 249.2 250 251.6 245ZM108.4 270.1 109.1 270.5 113.8 269.1 120.8 257.5 109.9 253 105.7 258.4ZM257.8 229.6 259.8 226.8 259 220.8 253.7 217.5 247.3 220.9 247.5 229.3ZM259.4 242.1 265.7 252.9 270.1 253.8 275.9 249 272.3 238.1 260 241.2ZM130.1 231.3 118.8 235.4 114.2 232.4 114.6 224.9 121.4 220 128.3 225.3ZM118.8 235.4 114.2 232.4 106.3 235.4 108.9 247.2 118.6 242.7ZM99.4 209.8 90.8 217.7 85.8 217 80.6 210.1 81.1 204.2 83.1 201.9 93.9 201.2ZM106.3 235.4 105.7 235 91.5 239.9 96.4 246.9 108.7 247.5 108.9 247.2ZM93.4 159.3 81.2 149.7 80.8 149.6 76 154.7 76.4 161.5 84.9 167.9ZM189.6 233.9 189.9 223.3 198.6 223.2 202.2 228.6 199 237.6ZM101.2 209.9 106.6 214.8 106.6 221.2 101.8 225.5 95.8 224.8 90.8 217.7 99.4 209.8ZM82.6 192.5 83.1 201.9 81.1 204.2 65.6 197.6 68.7 190.9 78.2 188.9ZM253.6 206.8 265.9 208.8 268.3 212.4 268.2 213.3 259 220.8 253.7 217.5 252.7 208.1ZM76.4 161.5 68.8 169.6 61.8 168.9 59.9 167.3 57.9 160 67 152.8 76 154.7ZM146.8 285 155.9 277.7 152.4 270 141.2 268 138.3 275.1ZM137.9 215.5 144.5 225.6 143.4 227.6 130.2 231.4 130.1 231.3 128.3 225.3 137.1 215.6ZM186.2 302.3 192.7 292.6 188.5 285.3 177.5 288.7 177.3 289.1 182.1 303.1ZM249.2 250 235 251.9 234.1 254.6 239.8 266.1 245.2 267.5 247 266.6 251.1 255.3ZM220.2 271.9 226.1 267.6 225.7 258.9 217.1 256.2 215.4 256.8 213.3 269.7 213.6 270.2ZM226.1 267.6 225.7 258.9 234.1 254.6 239.8 266.1 233.7 270.5ZM81.1 204.2 80.6 210.1 67.4 215.5 60.9 204.9 62.8 199.2 65.6 197.6ZM105.7 235 101.8 225.5 95.8 224.8 89.9 236.3 90.3 239.4 91.5 239.9ZM146.8 285 138.3 275.1 132 277.4 132 291.7 139 292.2 146.5 286.8ZM61.8 168.9 68.8 169.6 72.9 176.7 66.4 184.5 59.2 181.5ZM125.1 274.5 128.3 261.7 140 264.8 141.2 268 138.3 275.1 132 277.4 125.4 275.1ZM258.2 163.5 255.1 151.4 257.8 148.3 269.6 151.4 268.2 158.4 258.5 163.6ZM207 152.2 202.6 152.9 199.2 157.4 207.2 169.1 214.9 159.3ZM252.5 199.6 262.3 195.5 267.7 198.3 265.9 208.8 253.6 206.8ZM258.5 163.6 268.2 158.4 274.9 164.5 269.8 172.3 267 172.7ZM94.3 257.9 83.5 258.3 82 256.3 86.1 241.9 90.3 239.4 91.5 239.9 96.4 246.9 94.5 257.8ZM275.9 249 282.9 250.6 290.5 238.2 281.8 233.7 274.2 235.2 272.3 238.1ZM85.8 217 90.8 217.7 95.8 224.8 89.9 236.3 80.2 226.6ZM259.7 278 248.1 282.3 245.5 280.3 245.2 267.5 247 266.6 257.5 269.7ZM113.8 269.1 120.8 257.5 124.6 256.6 128.3 261.7 125.1 274.5ZM268.2 158.4 274.9 164.5 282 163.4 282.9 160.2 277.3 149.5 272.4 149.2 269.6 151.4ZM195.2 276.2 206 282.1 208.9 280.6 213.6 270.2 213.3 269.7 202.3 266.7ZM251.1 255.3 247 266.6 257.5 269.7 261.6 265.2 260 258.3ZM80.2 226.6 89.9 236.3 90.3 239.4 86.1 241.9 74.8 240.4 72.7 234.5 77 227.5ZM65.6 197.6 62.8 199.2 52.3 191.2 53.2 184.2 59.2 181.5 66.4 184.5 68.7 190.9ZM105.7 258.4 109.9 253 108.7 247.5 96.4 246.9 94.5 257.8ZM101.2 209.9 106.6 214.8 118.9 210.7 110.8 198.5ZM79.1 178.5 72.9 176.7 66.4 184.5 68.7 190.9 78.2 188.9ZM221.1 286.6 224.1 279.8 220.2 271.9 213.6 270.2 208.9 280.6 220.9 286.7ZM276.6 189 272.9 196 267.7 198.3 262.3 195.5 260.6 183 276.3 187.3ZM59.9 167.3 47.2 173.2 47.5 178.8 53.2 184.2 59.2 181.5 61.8 168.9ZM96.9 272.2 96.8 272.3 88.1 273.5 82.3 264.3 83.5 258.3 94.3 257.9ZM80.6 210.1 67.4 215.5 66.5 218.4 77 227.5 80.2 226.6 85.8 217ZM232.8 278 236.7 282.1 245.5 280.3 245.2 267.5 239.8 266.1 233.7 270.5ZM114.2 232.4 114.6 224.9 106.6 221.2 101.8 225.5 105.7 235 106.3 235.4ZM221.1 286.6 226.6 290.8 235 287.9 236.7 282.1 232.8 278 224.1 279.8ZM146.5 286.8 154.8 295.2 150.9 303.1 142.1 300.9 139 292.2ZM221.1 286.6 226.6 290.8 227.9 303.3 227.7 303.7 227.4 303.9 216 301.5 214.3 294.8 220.9 286.7ZM260.4 182.8 260.6 183 276.3 187.3 279.3 180.6 269.8 172.3 267 172.7ZM112.8 294.9 118.4 285.9 130.7 292.4 126.4 302.5 114.4 301.5 113.4 300.4ZM82.3 264.3 74.2 269.1 65.1 266.1 64 262 75.3 254.5 82 256.3 83.5 258.3ZM139 292.2 142.1 300.9 137.2 307.2 128 305.2 126.4 302.5 130.7 292.4 132 291.7ZM130.2 231.4 132.7 238.5 125.5 248 118.6 242.7 118.8 235.4 130.1 231.3ZM118.3 285.3 118.4 285.9 130.7 292.4 132 291.7 132 277.4 125.4 275.1ZM66.5 218.4 62.8 221.6 62.6 232.8 72.7 234.5 77 227.5ZM260 241.2 272.3 238.1 274.2 235.2 270.3 227.8 259.8 226.8 257.8 229.6ZM280 204.9 272.9 196 276.6 189 285.6 193.5 286.8 201ZM200.9 294.2 202.1 301.6 211.3 305.7 216 301.5 214.3 294.8 204.4 291.3ZM235 287.9 236.7 282.1 245.5 280.3 248.1 282.3 249.1 289.5 244 296.6 241.2 296ZM273.4 265 270.1 253.8 275.9 249 282.9 250.6 284.8 254.2 282 265.2ZM113.8 269.1 125.1 274.5 125.4 275.1 118.3 285.3 110.5 279.8 109.1 270.5ZM67.4 215.5 60.9 204.9 52.7 208.2 49.9 220.2 62.8 221.6 66.5 218.4ZM269.7 277.9 262.4 279.7 259.7 278 257.5 269.7 261.6 265.2 272.1 266ZM53.2 184.2 52.3 191.2 43.1 196.2 34.9 187.1 35.8 184.7 47.5 178.8ZM96.9 272.2 96.8 272.3 99 287.5 100.5 287.5 110.5 279.8 109.1 270.5 108.4 270.1ZM56.4 159.1 40.5 162.3 37.8 155 48.6 148.1 51.9 148.8ZM59.1 235.9 62.6 232.8 72.7 234.5 74.8 240.4 71.3 245.8 62.2 246.2ZM96.9 272.2 94.3 257.9 94.5 257.8 105.7 258.4 108.4 270.1ZM279.4 207.6 268.3 212.4 268.2 213.3 272.8 220.2 283.5 220.4 283.7 220.2 284.8 214.9ZM110.5 279.8 100.5 287.5 112.8 294.9 118.4 285.9 118.3 285.3ZM226.6 290.8 235 287.9 241.2 296 227.9 303.3ZM75.3 254.5 82 256.3 86.1 241.9 74.8 240.4 71.3 245.8ZM279.4 207.6 268.3 212.4 265.9 208.8 267.7 198.3 272.9 196 280 204.9ZM265.7 252.9 270.1 253.8 273.4 265 272.1 266 261.6 265.2 260 258.3ZM52 235.2 49.8 220.2 49.9 220.2 62.8 221.6 62.6 232.8 59.1 235.9ZM60.9 204.9 62.8 199.2 52.3 191.2 43.1 196.2 42 201.9 52.7 208.2ZM39.1 213.9 42 201.9 42 201.9 52.7 208.2 49.9 220.2 49.8 220.2 46 220.3ZM98.7 304.8 100.4 302.6 97.5 288.7 96 288.9 87.9 296.6 90.3 306 90.4 306.1ZM85.1 283 96 288.9 97.5 288.7 99 287.5 96.8 272.3 88.1 273.5 84.6 278.7ZM272.8 220.2 270.3 227.8 274.2 235.2 281.8 233.7 283.5 220.4ZM76.6 292.6 87.9 296.6 90.3 306 78.6 308.1 75.3 303.7 75.9 292.9ZM47.2 173.2 39.9 165.9 31.4 171.7 35.8 184.7 47.5 178.8ZM62.2 246.2 71.3 245.8 75.3 254.5 64 262 63.9 261.9 60.7 248.4ZM59.9 167.3 57.9 160 56.4 159.1 40.5 162.3 39.9 165.9 47.2 173.2ZM97.5 288.7 99 287.5 100.5 287.5 112.8 294.9 113.4 300.4 100.4 302.6ZM50 273.2 46.4 268.8 46.4 267 51.5 260.8 63.9 261.9 64 262 65.1 266.1 61.5 273.8ZM76.6 292.6 85.1 283 84.6 278.7 76.1 276.5 69.7 282.5 71.7 290.6 75.9 292.9ZM282 163.4 274.9 164.5 269.8 172.3 279.3 180.6 281 179.7 284.5 167.2ZM224.1 279.8 232.8 278 233.7 270.5 226.1 267.6 220.2 271.9ZM254.7 303.3 259.6 301.4 262.8 293.9 262 292.7 249.1 289.5 244 296.6 245.2 298.9ZM69.7 282.5 62.7 277.6 61.5 273.8 65.1 266.1 74.2 269.1 76.1 276.5ZM32.6 215.4 39.1 213.9 46 220.3 38 228.1 36 227.8 30.3 220ZM269.7 277.9 272.1 266 273.4 265 282 265.2 285.3 268.6 283.2 278.7 276.8 282.4ZM38 228.1 42.6 235.3 50.1 236.3 52 235.2 49.8 220.2 46 220.3ZM50.1 236.3 42.6 235.3 34.9 244.8 35.8 248.2 39 250.4 48.3 250.1ZM234.1 150.9 244.7 150 246 151.2 243.9 162.7 236.9 163.2 231.4 156.6ZM48.3 250.1 39 250.4 38.5 261.2 46.4 267 51.5 260.8 48.4 250.2ZM262 292.7 262.4 279.7 259.7 278 248.1 282.3 249.1 289.5ZM266.8 310.7 276.6 305 276.2 294.8 275.9 294.4 262.8 293.9 259.6 301.4ZM269.7 277.9 262.4 279.7 262 292.7 262.8 293.9 275.9 294.4 276.8 282.4ZM50.1 236.3 48.3 250.1 48.4 250.2 60.7 248.4 62.2 246.2 59.1 235.9 52 235.2ZM71.7 290.6 60.3 294.8 54.8 287.6 62.7 277.6 69.7 282.5ZM76.1 276.5 74.2 269.1 82.3 264.3 88.1 273.5 84.6 278.7ZM49.2 286.3 54.8 287.6 62.7 277.6 61.5 273.8 50 273.2 47.7 284.3ZM47.7 284.3 35.9 282.5 36.4 274.7 46.4 268.8 50 273.2ZM49.2 286.3 44 296.6 36.4 296.1 35.7 282.6 35.9 282.5 47.7 284.3ZM75.9 292.9 75.3 303.7 64.6 306.3 59.2 302.6 58.5 300.5 60.3 294.8 71.7 290.6ZM268.2 213.3 272.8 220.2 270.3 227.8 259.8 226.8 259 220.8ZM58.5 300.5 46.9 300.4 44 296.6 49.2 286.3 54.8 287.6 60.3 294.8ZM76.6 292.6 87.9 296.6 96 288.9 85.1 283ZM44 296.6 36.4 296.1 30.8 300.3 43 313.7 46.9 300.4ZM241.1 312.6 227.7 303.7 227.9 303.3 241.2 296 244 296.6 245.2 298.9ZM60.7 248.4 63.9 261.9 51.5 260.8 48.4 250.2ZM46.4 267 46.4 268.8 36.4 274.7 27.5 266.4 38.5 261.2Z" fill="none" stroke="#f4f4f4" stroke-width="1.2" opacity="0.9"/>
<g fill="#c9c9ef"><circle cx="180.7" cy="175" r="2.8"/><circle cx="164" cy="178.4" r="2.8"/><circle cx="165" cy="163.3" r="2.8"/><circle cx="167.9" cy="188.8" r="2.8"/><circle cx="155.4" cy="168.3" r="2.8"/><circle cx="164.1" cy="199.5" r="2.8"/><circle cx="148.2" cy="153" r="2.8"/><circle cx="160" cy="154.3" r="2.8"/><circle cx="178.6" cy="153.2" r="2.8"/><circle cx="200.2" cy="176.6" r="2.8"/><circle cx="197.8" cy="192.9" r="2.8"/><circle cx="145.2" cy="167.1" r="2.8"/><circle cx="154" cy="181.8" r="2.8"/><circle cx="179.7" cy="201" r="2.8"/><circle cx="187.5" cy="209.2" r="2.8"/><circle cx="128.7" cy="154.5" r="2.8"/><circle cx="170.5" cy="210.5" r="2.8"/><circle cx="127.5" cy="172.4" r="2.8"/><circle cx="134.1" cy="180.5" r="2.8"/><circle cx="179.1" cy="218.5" r="2.8"/><circle cx="154.6" cy="207.5" r="2.8"/><circle cx="178.7" cy="187.1" r="2.8"/><circle cx="198.5" cy="165.4" r="2.8"/><circle cx="136.9" cy="191.4" r="2.8"/><circle cx="133.8" cy="164.3" r="2.8"/><circle cx="179.1" cy="164.2" r="2.8"/><circle cx="144.2" cy="177.6" r="2.8"/><circle cx="146.6" cy="195.2" r="2.8"/><circle cx="156.9" cy="192" r="2.8"/><circle cx="122.6" cy="162.9" r="2.8"/><circle cx="194.8" cy="217.8" r="2.8"/><circle cx="211.9" cy="180.5" r="2.8"/><circle cx="167.4" cy="230.2" r="2.8"/><circle cx="159.8" cy="222.4" r="2.8"/><circle cx="215.7" cy="192.7" r="2.8"/><circle cx="199.5" cy="203.9" r="2.8"/><circle cx="158.2" cy="242.5" r="2.8"/><circle cx="226.9" cy="187.9" r="2.8"/><circle cx="167.9" cy="246.7" r="2.8"/><circle cx="212.3" cy="212" r="2.8"/><circle cx="108.1" cy="176.8" r="2.8"/><circle cx="216.4" cy="167.1" r="2.8"/><circle cx="188.8" cy="158.8" r="2.8"/><circle cx="226.4" cy="176.2" r="2.8"/><circle cx="124.1" cy="189.7" r="2.8"/><circle cx="184.5" cy="228.4" r="2.8"/><circle cx="189.4" cy="183.8" r="2.8"/><circle cx="174.1" cy="259.2" r="2.8"/><circle cx="135.6" cy="207.8" r="2.8"/><circle cx="129.2" cy="216.6" r="2.8"/><circle cx="97.8" cy="188" r="2.8"/><circle cx="109.1" cy="187.1" r="2.8"/><circle cx="110.3" cy="158.1" r="2.8"/><circle cx="149.1" cy="247.8" r="2.8"/><circle cx="159.9" cy="269.3" r="2.8"/><circle cx="120" cy="201.1" r="2.8"/><circle cx="156.3" cy="287" r="2.8"/><circle cx="149.1" cy="263.2" r="2.8"/><circle cx="242.4" cy="184.6" r="2.8"/><circle cx="227.2" cy="204.4" r="2.8"/><circle cx="227.5" cy="218" r="2.8"/><circle cx="150.5" cy="230.7" r="2.8"/><circle cx="179.5" cy="241.6" r="2.8"/><circle cx="140" cy="234.5" r="2.8"/><circle cx="240.2" cy="170" r="2.8"/><circle cx="250.4" cy="158" r="2.8"/><circle cx="245.2" cy="204.5" r="2.8"/><circle cx="158.7" cy="302.6" r="2.8"/><circle cx="242.3" cy="224.3" r="2.8"/><circle cx="252.2" cy="234.8" r="2.8"/><circle cx="229.5" cy="164.4" r="2.8"/><circle cx="92.9" cy="167.3" r="2.8"/><circle cx="207.8" cy="233.2" r="2.8"/><circle cx="145.7" cy="217.8" r="2.8"/><circle cx="119.6" cy="180.3" r="2.8"/><circle cx="217.8" cy="225.9" r="2.8"/><circle cx="198.1" cy="248.6" r="2.8"/><circle cx="229.7" cy="233.5" r="2.8"/><circle cx="247.7" cy="214.8" r="2.8"/><circle cx="190" cy="241.4" r="2.8"/><circle cx="185.1" cy="250.4" r="2.8"/><circle cx="237.4" cy="213.1" r="2.8"/><circle cx="113.9" cy="168.3" r="2.8"/><circle cx="97" cy="177.1" r="2.8"/><circle cx="195.4" cy="266.2" r="2.8"/><circle cx="160.6" cy="256" r="2.8"/><circle cx="174.5" cy="297" r="2.8"/><circle cx="133.6" cy="246.8" r="2.8"/><circle cx="215" cy="247.4" r="2.8"/><circle cx="173.6" cy="270.4" r="2.8"/><circle cx="205.1" cy="221.9" r="2.8"/><circle cx="77.4" cy="170.6" r="2.8"/><circle cx="169.1" cy="287" r="2.8"/><circle cx="180.4" cy="280.6" r="2.8"/><circle cx="197.9" cy="285.9" r="2.8"/><circle cx="212.3" cy="288.4" r="2.8"/><circle cx="101.6" cy="201.3" r="2.8"/><circle cx="135.2" cy="257" r="2.8"/><circle cx="259.5" cy="173" r="2.8"/><circle cx="83.9" cy="185.1" r="2.8"/><circle cx="236.5" cy="198.4" r="2.8"/><circle cx="250.7" cy="178.2" r="2.8"/><circle cx="194.9" cy="300.7" r="2.8"/><circle cx="224.8" cy="251.5" r="2.8"/><circle cx="207.8" cy="262.3" r="2.8"/><circle cx="113" cy="218.4" r="2.8"/><circle cx="241.4" cy="244" r="2.8"/><circle cx="185.4" cy="263.7" r="2.8"/><circle cx="256.6" cy="192" r="2.8"/><circle cx="117.4" cy="249" r="2.8"/><circle cx="89.9" cy="194.5" r="2.8"/><circle cx="258.8" cy="252.3" r="2.8"/><circle cx="112.4" cy="261.2" r="2.8"/><circle cx="252.6" cy="224" r="2.8"/><circle cx="268.5" cy="246.5" r="2.8"/><circle cx="120.2" cy="228.4" r="2.8"/><circle cx="113" cy="239.5" r="2.8"/><circle cx="90.8" cy="208.3" r="2.8"/><circle cx="102" cy="241.8" r="2.8"/><circle cx="85.5" cy="160" r="2.8"/><circle cx="194.9" cy="228.7" r="2.8"/><circle cx="100.2" cy="218.4" r="2.8"/><circle cx="75.6" cy="195.1" r="2.8"/><circle cx="259" cy="213.6" r="2.8"/><circle cx="67.1" cy="161" r="2.8"/><circle cx="146.9" cy="275.3" r="2.8"/><circle cx="136.9" cy="223.5" r="2.8"/><circle cx="184.4" cy="293.7" r="2.8"/><circle cx="243.3" cy="257.9" r="2.8"/><circle cx="220.8" cy="264.4" r="2.8"/><circle cx="231.2" cy="264" r="2.8"/><circle cx="70.8" cy="206.5" r="2.8"/><circle cx="98.6" cy="232" r="2.8"/><circle cx="137.2" cy="283.6" r="2.8"/><circle cx="65.4" cy="177.7" r="2.8"/><circle cx="131.9" cy="269.3" r="2.8"/><circle cx="262.3" cy="155" r="2.8"/><circle cx="207" cy="159.6" r="2.8"/><circle cx="260.9" cy="202.1" r="2.8"/><circle cx="267.8" cy="165.1" r="2.8"/><circle cx="89.7" cy="250.4" r="2.8"/><circle cx="280.3" cy="242.6" r="2.8"/><circle cx="88.3" cy="226.7" r="2.8"/><circle cx="251.7" cy="274.8" r="2.8"/><circle cx="121.6" cy="266.7" r="2.8"/><circle cx="275" cy="157.4" r="2.8"/><circle cx="204.8" cy="273.2" r="2.8"/><circle cx="255.4" cy="262.4" r="2.8"/><circle cx="80.3" cy="234.7" r="2.8"/><circle cx="60.8" cy="188.5" r="2.8"/><circle cx="101.5" cy="252.5" r="2.8"/><circle cx="109.6" cy="208" r="2.8"/><circle cx="73.4" cy="184.2" r="2.8"/><circle cx="217.2" cy="278.8" r="2.8"/><circle cx="266.9" cy="190.5" r="2.8"/><circle cx="55.1" cy="175.6" r="2.8"/><circle cx="90.2" cy="265.7" r="2.8"/><circle cx="76.1" cy="219.5" r="2.8"/><circle cx="239" cy="275" r="2.8"/><circle cx="108.7" cy="227.9" r="2.8"/><circle cx="229.6" cy="284.1" r="2.8"/><circle cx="146.6" cy="296.6" r="2.8"/><circle cx="221" cy="295.4" r="2.8"/><circle cx="269.8" cy="179.7" r="2.8"/><circle cx="121.3" cy="294.2" r="2.8"/><circle cx="74.4" cy="262.4" r="2.8"/><circle cx="135.9" cy="300.4" r="2.8"/><circle cx="124.4" cy="239.9" r="2.8"/><circle cx="126.9" cy="283.7" r="2.8"/><circle cx="69.1" cy="227.8" r="2.8"/><circle cx="264.9" cy="232.4" r="2.8"/><circle cx="281" cy="197.8" r="2.8"/><circle cx="208.7" cy="298.5" r="2.8"/><circle cx="241.6" cy="287.7" r="2.8"/><circle cx="277" cy="256.6" r="2.8"/><circle cx="116.8" cy="276.7" r="2.8"/><circle cx="57.8" cy="214.4" r="2.8"/><circle cx="265" cy="271.2" r="2.8"/><circle cx="44.7" cy="186.5" r="2.8"/><circle cx="103.5" cy="278.7" r="2.8"/><circle cx="48.4" cy="155.4" r="2.8"/><circle cx="67" cy="239.6" r="2.8"/><circle cx="100.9" cy="263.8" r="2.8"/><circle cx="277.3" cy="214.6" r="2.8"/><circle cx="109.8" cy="286.9" r="2.8"/><circle cx="233" cy="294.2" r="2.8"/><circle cx="78.6" cy="247.2" r="2.8"/><circle cx="272.9" cy="204.3" r="2.8"/><circle cx="265.9" cy="259.9" r="2.8"/><circle cx="56.3" cy="227.5" r="2.8"/><circle cx="52.1" cy="200.2" r="2.8"/><circle cx="45.4" cy="211.5" r="2.8"/><circle cx="94.2" cy="298" r="2.8"/><circle cx="92.2" cy="280.3" r="2.8"/><circle cx="277.1" cy="225.9" r="2.8"/><circle cx="83.1" cy="300.8" r="2.8"/><circle cx="39.6" cy="176.5" r="2.8"/><circle cx="67.6" cy="252.3" r="2.8"/><circle cx="50.5" cy="165.6" r="2.8"/><circle cx="104.3" cy="296" r="2.8"/><circle cx="55.2" cy="267.4" r="2.8"/><circle cx="77.6" cy="282.3" r="2.8"/><circle cx="277.1" cy="171.3" r="2.8"/><circle cx="227.4" cy="273.7" r="2.8"/><circle cx="253.2" cy="296.1" r="2.8"/><circle cx="70.4" cy="274.6" r="2.8"/><circle cx="37.2" cy="220.3" r="2.8"/><circle cx="276.6" cy="273.5" r="2.8"/><circle cx="45.7" cy="229.1" r="2.8"/><circle cx="43.9" cy="242.1" r="2.8"/><circle cx="239.4" cy="156" r="2.8"/><circle cx="44.3" cy="258.4" r="2.8"/><circle cx="255.8" cy="285.6" r="2.8"/><circle cx="267.9" cy="302.3" r="2.8"/><circle cx="268.6" cy="286" r="2.8"/><circle cx="54.6" cy="243.5" r="2.8"/><circle cx="62.6" cy="285.9" r="2.8"/><circle cx="80.3" cy="272.1" r="2.8"/><circle cx="54.6" cy="279.5" r="2.8"/><circle cx="43.2" cy="277.1" r="2.8"/><circle cx="41.3" cy="289.7" r="2.8"/><circle cx="67.8" cy="300" r="2.8"/><circle cx="266" cy="222.2" r="2.8"/><circle cx="51.1" cy="294.7" r="2.8"/><circle cx="86.7" cy="290.4" r="2.8"/><circle cx="40.5" cy="303.1" r="2.8"/><circle cx="238.3" cy="303.9" r="2.8"/><circle cx="56.2" cy="254.9" r="2.8"/><circle cx="37.6" cy="267.5" r="2.8"/></g>
<g stroke-width="1.75" stroke-linecap="butt"><path d="M178.7 181.4L182.6 168.5" stroke="#3d84be" opacity="0.65"/><path d="M157 177.7L171 179.2" stroke="#921d33" opacity="0.95"/><path d="M158.9 162.3L171 164.2" stroke="#9d2235" opacity="0.95"/><path d="M161 188.3L174.8 189.4" stroke="#8e1b32" opacity="0.95"/><path d="M149.3 167.8L161.5 168.9" stroke="#901c32" opacity="0.95"/><path d="M158.7 195.8L169.6 203.2" stroke="#f0af92" opacity="0.65"/><path d="M142.2 153.5L154.2 152.5" stroke="#8d1b32" opacity="0.95"/><path d="M153.1 152.7L166.8 155.9" stroke="#b12b39" opacity="0.95"/><path d="M172.5 151.8L184.7 154.6" stroke="#b02b39" opacity="0.95"/><path d="M194.7 180L205.8 173.2" stroke="#eb9f81" opacity="0.65"/><path d="M191.4 194.1L204.1 191.7" stroke="#a52637" opacity="0.95"/><path d="M139.4 165L151 169.2" stroke="#c9554c" opacity="0.65"/><path d="M148 185.8L160 177.7" stroke="#efae91" opacity="0.65"/><path d="M173.6 205L185.7 197.1" stroke="#eea78a" opacity="0.65"/><path d="M181.2 213.1L193.7 205.4" stroke="#eba082" opacity="0.65"/><path d="M121.5 156.1L135.8 152.8" stroke="#af2a39" opacity="0.95"/><path d="M165.6 215.5L175.4 205.4" stroke="#f2f4f5" opacity="0.65"/><path d="M122.1 177.2L132.9 167.6" stroke="#f7e2d7" opacity="0.65"/><path d="M128 179.7L140.2 181.4" stroke="#9c2135" opacity="0.95"/><path d="M172.2 217.2L185.9 219.9" stroke="#a82738" opacity="0.95"/><path d="M149.6 202.2L159.6 212.8" stroke="#e9f0f4" opacity="0.65"/><path d="M172.8 189.7L184.5 184.5" stroke="#d76c57" opacity="0.65"/><path d="M191.1 164.8L205.9 166" stroke="#8d1a32" opacity="0.95"/><path d="M131.5 194.2L142.3 188.7" stroke="#e07c5e" opacity="0.65"/><path d="M129.1 168.2L138.5 160.3" stroke="#f7d6c4" opacity="0.65"/><path d="M172.1 164.7L186 163.6" stroke="#8d1a32" opacity="0.95"/><path d="M138.8 180.6L149.6 174.6" stroke="#e68b6c" opacity="0.65"/><path d="M141.2 198.5L152 191.8" stroke="#eb9f81" opacity="0.65"/><path d="M151 190.6L162.8 193.3" stroke="#af2a39" opacity="0.95"/><path d="M116.2 163.4L128.9 162.4" stroke="#8d1a32" opacity="0.95"/><path d="M188.2 214.4L201.4 221.3" stroke="#e38263" opacity="0.65"/><path d="M207.1 175.9L216.7 185.1" stroke="#f7eeea" opacity="0.65"/><path d="M160.2 231.1L174.7 229.4" stroke="#961f34" opacity="0.95"/><path d="M152.8 222.8L166.8 221.9" stroke="#8a1931" opacity="0.95"/><path d="M210.4 189.4L221 196" stroke="#eb9f81" opacity="0.65"/><path d="M193.2 203.1L205.8 204.7" stroke="#982034" opacity="0.95"/><path d="M153.4 238.3L162.9 246.6" stroke="#f7ded0" opacity="0.65"/><path d="M220.6 191.6L233.2 184.1" stroke="#e99879" opacity="0.65"/><path d="M162.7 251.2L173 242.3" stroke="#f7daca" opacity="0.65"/><path d="M209.2 205.9L215.3 218.1" stroke="#6dafd5" opacity="0.65"/><path d="M101.2 175.6L115 178.1" stroke="#a52637" opacity="0.95"/><path d="M212.3 161.9L220.5 172.4" stroke="#c6e0ec" opacity="0.65"/><path d="M182.8 161.2L194.8 156.5" stroke="#ce5d50" opacity="0.65"/><path d="M220.4 176.8L232.5 175.7" stroke="#8f1b32" opacity="0.95"/><path d="M117.2 190.8L131 188.6" stroke="#a02336" opacity="0.95"/><path d="M182 235L187 221.8" stroke="#5196c8" opacity="0.65"/><path d="M183.1 183.4L195.8 184.1" stroke="#861730" opacity="0.95"/><path d="M168.5 262.1L179.6 256.2" stroke="#e48565" opacity="0.65"/><path d="M131.5 212.8L139.7 202.7" stroke="#cee3ee" opacity="0.65"/><path d="M122.7 217.4L135.7 215.8" stroke="#971f34" opacity="0.95"/><path d="M92.2 191.9L103.5 184" stroke="#f2b69a" opacity="0.65"/><path d="M102.9 188.4L115.4 185.7" stroke="#ac2938" opacity="0.95"/><path d="M104.3 157.1L116.2 159" stroke="#9f2336" opacity="0.95"/><path d="M143.3 250.5L154.8 245" stroke="#de775c" opacity="0.65"/><path d="M153.3 270.1L166.5 268.5" stroke="#951e33" opacity="0.95"/><path d="M112.8 200.6L127.3 201.6" stroke="#891931" opacity="0.95"/><path d="M149.4 285.9L163.2 288.2" stroke="#a02436" opacity="0.95"/><path d="M143.4 265.4L154.9 261" stroke="#cc594e" opacity="0.65"/><path d="M236.6 181.5L248.2 187.6" stroke="#e38262" opacity="0.65"/><path d="M226.4 197.4L228.1 211.5" stroke="#245f9f" opacity="0.95"/><path d="M227.1 211.3L227.9 224.6" stroke="#1f5191" opacity="0.95"/><path d="M143.5 229.2L157.5 232.2" stroke="#ab2838" opacity="0.95"/><path d="M172.9 238.1L186 245.1" stroke="#e58768" opacity="0.65"/><path d="M136 228.6L144 240.4" stroke="#a5cee4" opacity="0.65"/><path d="M234.9 174.7L245.5 165.3" stroke="#f7e0d3" opacity="0.65"/><path d="M243.1 158.2L257.8 157.8" stroke="#81152f" opacity="0.95"/><path d="M238.5 203.3L252 205.7" stroke="#a32536" opacity="0.95"/><path d="M153.6 298.2L163.9 306.9" stroke="#f7d6c4" opacity="0.65"/><path d="M240.6 230.2L243.9 218.4" stroke="#3880bc" opacity="0.95"/><path d="M245 233.1L259.5 236.6" stroke="#b32e3b" opacity="0.95"/><path d="M226.6 171.3L232.3 157.4" stroke="#589ccb" opacity="0.65"/><path d="M87.1 164.8L98.6 169.7" stroke="#d56855" opacity="0.65"/><path d="M204.9 227.6L210.7 238.8" stroke="#70b1d6" opacity="0.65"/><path d="M138.5 217.5L152.9 218" stroke="#83162f" opacity="0.95"/><path d="M116.5 186.3L122.8 174.2" stroke="#71b1d6" opacity="0.65"/><path d="M215.7 218.8L219.9 233" stroke="#3d85be" opacity="0.65"/><path d="M193.1 253.5L203.2 243.7" stroke="#f7efea" opacity="0.65"/><path d="M228.4 226.9L231 240.1" stroke="#2b70b0" opacity="0.95"/><path d="M243.3 209.9L252 219.6" stroke="#e2edf2" opacity="0.65"/><path d="M183.8 244.8L196.1 238" stroke="#e68c6d" opacity="0.65"/><path d="M180.9 255.5L189.2 245.3" stroke="#cee3ee" opacity="0.65"/><path d="M231.7 209.4L243 216.9" stroke="#eeaa8d" opacity="0.65"/><path d="M107.4 166.7L120.4 169.9" stroke="#b22c3a" opacity="0.95"/><path d="M90.9 176.9L103.1 177.3" stroke="#80152f" opacity="0.95"/><path d="M189.9 268.8L200.8 263.5" stroke="#dd775b" opacity="0.65"/><path d="M157.4 249.6L163.8 262.5" stroke="#6badd4" opacity="0.65"/><path d="M171.9 290.8L177.2 303.3" stroke="#5b9fcd" opacity="0.65"/><path d="M127 243.8L140.3 249.8" stroke="#d96f58" opacity="0.65"/><path d="M214.8 240.5L215.3 254.3" stroke="#1d4c8c" opacity="0.95"/><path d="M167.1 273L180.1 267.7" stroke="#d26252" opacity="0.65"/><path d="M201.9 216.2L208.3 227.6" stroke="#80b9da" opacity="0.65"/><path d="M70.1 169.4L84.8 171.8" stroke="#a02336" opacity="0.95"/><path d="M164.8 282.5L173.5 291.4" stroke="#f3f5f6" opacity="0.65"/><path d="M174.1 283.5L186.6 277.8" stroke="#da7159" opacity="0.65"/><path d="M195.7 293L200.1 278.8" stroke="#4087c0" opacity="0.65"/><path d="M207.3 284.3L217.3 292.5" stroke="#f7d3be" opacity="0.65"/><path d="M95.4 200.3L107.9 202.4" stroke="#a22436" opacity="0.95"/><path d="M130.3 262.5L140 251.4" stroke="#dae9f0" opacity="0.65"/><path d="M253.5 177.1L265.4 168.8" stroke="#f1b296" opacity="0.65"/><path d="M77 186.4L90.8 183.8" stroke="#a42537" opacity="0.95"/><path d="M231.2 193.8L241.7 202.9" stroke="#f7dbcb" opacity="0.65"/><path d="M243.8 179.7L257.6 176.7" stroke="#ac2938" opacity="0.95"/><path d="M189.2 304.1L200.6 297.3" stroke="#e9987a" opacity="0.65"/><path d="M221.9 245.4L227.8 257.5" stroke="#69acd3" opacity="0.65"/><path d="M207.1 269.6L208.6 255.1" stroke="#235b9b" opacity="0.95"/><path d="M106.4 218.6L119.7 218.3" stroke="#7e132e" opacity="0.95"/><path d="M234.7 244.2L248.1 243.8" stroke="#81152f" opacity="0.95"/><path d="M180.1 268.8L190.7 258.5" stroke="#f7f2ef" opacity="0.65"/><path d="M252.1 186.5L261.1 197.5" stroke="#cde3ee" opacity="0.65"/><path d="M112.6 253.4L122.2 244.6" stroke="#f7e5db" opacity="0.65"/><path d="M83.8 198L95.9 191.1" stroke="#e89273" opacity="0.65"/><path d="M258 258.6L259.5 246" stroke="#245f9f" opacity="0.95"/><path d="M107.6 266.7L117.2 255.7" stroke="#dae9f0" opacity="0.65"/><path d="M249.3 218.9L255.9 229.2" stroke="#9ac8e1" opacity="0.65"/><path d="M262 243.3L275.1 249.8" stroke="#e07b5e" opacity="0.65"/><path d="M116.2 233L124.1 223.8" stroke="#d8e8f0" opacity="0.65"/><path d="M106.6 239.3L119.4 239.7" stroke="#81152f" opacity="0.95"/><path d="M84.4 207.2L97.2 209.4" stroke="#a22436" opacity="0.95"/><path d="M99 247.3L104.9 236.4" stroke="#7ab6d9" opacity="0.65"/><path d="M79.6 163.4L91.3 156.5" stroke="#e99779" opacity="0.65"/><path d="M188.8 226.1L201.1 231.3" stroke="#d46654" opacity="0.65"/><path d="M93.8 218.3L106.6 218.5" stroke="#7e142f" opacity="0.95"/><path d="M68.7 194.1L82.6 196.1" stroke="#9c2135" opacity="0.95"/><path d="M255.8 207.2L262.2 220" stroke="#6dafd5" opacity="0.65"/><path d="M60.2 159.9L74 162.1" stroke="#9f2336" opacity="0.95"/><path d="M143.6 268.8L150.2 281.7" stroke="#71b1d6" opacity="0.65"/><path d="M129.5 222.1L144.2 224.9" stroke="#a72737" opacity="0.95"/><path d="M177.9 294.6L190.9 292.7" stroke="#9c2135" opacity="0.95"/><path d="M241.6 250.9L244.9 264.9" stroke="#2f78b8" opacity="0.95"/><path d="M214.8 265.6L226.8 263.3" stroke="#a62637" opacity="0.95"/><path d="M225.7 260.1L236.7 267.9" stroke="#f2b99d" opacity="0.65"/><path d="M65.2 209.3L76.4 203.7" stroke="#e17d5e" opacity="0.65"/><path d="M95.9 225.5L101.2 238.4" stroke="#579ccb" opacity="0.65"/><path d="M134.1 289.7L140.2 277.6" stroke="#6dafd5" opacity="0.65"/><path d="M58.7 177.3L72.1 178.1" stroke="#881831" opacity="0.95"/><path d="M127.3 264.7L136.6 273.8" stroke="#f7f0ed" opacity="0.65"/><path d="M256.8 152.1L267.9 157.9" stroke="#e48565" opacity="0.65"/><path d="M201.5 163.1L212.4 156.2" stroke="#eca285" opacity="0.65"/><path d="M255.3 206.1L266.4 198.1" stroke="#f3bb9f" opacity="0.65"/><path d="M260.6 166.5L274.9 163.8" stroke="#a62637" opacity="0.95"/><path d="M82.6 249.8L96.7 251" stroke="#8e1b32" opacity="0.95"/><path d="M278 248.8L282.6 236.5" stroke="#4f94c7" opacity="0.65"/><path d="M81.9 225.3L94.7 228.1" stroke="#ad2938" opacity="0.95"/><path d="M249.5 281.3L254 268.3" stroke="#488ec4" opacity="0.65"/><path d="M115.8 270.9L127.3 262.5" stroke="#f3bb9f" opacity="0.65"/><path d="M269 158L281 156.8" stroke="#911c33" opacity="0.95"/><path d="M201.4 266.9L208.1 279.5" stroke="#77b5d8" opacity="0.65"/><path d="M252.8 268.7L258 256" stroke="#589dcb" opacity="0.65"/><path d="M76.4 229.1L84.2 240.4" stroke="#a8cfe4" opacity="0.65"/><path d="M54.9 184.3L66.7 192.8" stroke="#f3ba9e" opacity="0.65"/><path d="M99.2 258.1L103.8 246.9" stroke="#599dcc" opacity="0.65"/><path d="M102.2 206.8L116.9 209.2" stroke="#a12436" opacity="0.95"/><path d="M67.8 187.8L78.9 180.6" stroke="#eda487" opacity="0.65"/><path d="M212.1 283.2L222.3 274.3" stroke="#f7ddce" opacity="0.65"/><path d="M260.3 193.7L273.5 187.3" stroke="#de795c" opacity="0.65"/><path d="M49.8 179.2L60.3 171.9" stroke="#f1b598" opacity="0.65"/><path d="M82.8 266.1L97.6 265.4" stroke="#851730" opacity="0.95"/><path d="M69.5 220L82.8 219.1" stroke="#891831" opacity="0.95"/><path d="M232.3 278.2L245.7 271.8" stroke="#dd755b" opacity="0.65"/><path d="M103.5 223.3L113.9 232.4" stroke="#f7decf" opacity="0.65"/><path d="M226.4 290.8L232.7 277.4" stroke="#65a8d1" opacity="0.65"/><path d="M141 300.4L152.1 292.8" stroke="#f0b194" opacity="0.65"/><path d="M215.3 297.8L226.7 293.1" stroke="#d26453" opacity="0.65"/><path d="M265 184.2L274.6 175.3" stroke="#f7e9e1" opacity="0.65"/><path d="M116.1 297.7L126.6 290.6" stroke="#f0b093" opacity="0.65"/><path d="M68.4 263.7L80.4 261.1" stroke="#ac2938" opacity="0.95"/><path d="M131.1 304.8L140.8 296" stroke="#f7e3d7" opacity="0.65"/><path d="M121.8 246L127 233.7" stroke="#5a9ecc" opacity="0.65"/><path d="M120.6 280.4L133.2 286.9" stroke="#e38061" opacity="0.65"/><path d="M63.5 231.2L74.6 224.3" stroke="#eba082" opacity="0.65"/><path d="M262.4 238.8L267.5 226" stroke="#559aca" opacity="0.65"/><path d="M274.3 195.3L287.6 200.3" stroke="#cc594e" opacity="0.65"/><path d="M208 305.6L209.3 291.4" stroke="#225999" opacity="0.95"/><path d="M236.1 283.2L247.1 292.1" stroke="#f7d0ba" opacity="0.65"/><path d="M273.9 250.5L280.1 262.7" stroke="#6dafd5" opacity="0.65"/><path d="M109.6 275.8L124 277.6" stroke="#981f34" opacity="0.95"/><path d="M50.7 215.1L64.9 213.6" stroke="#931d33" opacity="0.95"/><path d="M261.8 276.8L268.2 265.6" stroke="#86bddc" opacity="0.65"/><path d="M37.6 186.9L51.7 186" stroke="#881831" opacity="0.95"/><path d="M98.4 282.2L108.6 275.1" stroke="#f1b397" opacity="0.65"/><path d="M41.6 155L55.2 155.8" stroke="#871830" opacity="0.95"/><path d="M60.8 243.3L73.3 236" stroke="#e99778" opacity="0.65"/><path d="M95.4 267.6L106.3 260.1" stroke="#f1b396" opacity="0.65"/><path d="M270.6 212L284 217.2" stroke="#cd5a4f" opacity="0.65"/><path d="M103.3 286.1L116.2 287.7" stroke="#982034" opacity="0.95"/><path d="M230.8 287.4L235.3 301" stroke="#468dc3" opacity="0.65"/><path d="M72.1 250.4L85.1 244.1" stroke="#dd775c" opacity="0.65"/><path d="M265.6 203.6L280.2 204.9" stroke="#8e1b32" opacity="0.95"/><path d="M263.7 265.6L268.1 254.1" stroke="#5196c8" opacity="0.65"/><path d="M50.2 230.3L62.4 224.7" stroke="#da7259" opacity="0.65"/><path d="M46.8 195.9L57.3 204.5" stroke="#f7d1bb" opacity="0.65"/><path d="M39.2 212.4L51.6 210.7" stroke="#992034" opacity="0.95"/><path d="M88.5 300.8L99.8 295.3" stroke="#e07b5d" opacity="0.65"/><path d="M86.4 277.7L98 282.9" stroke="#d86d57" opacity="0.65"/><path d="M270.9 222.2L283.3 229.7" stroke="#eb9d7f" opacity="0.65"/><path d="M76.8 299.4L89.4 302.2" stroke="#ad2a39" opacity="0.95"/><path d="M33.4 176.4L45.9 176.6" stroke="#7d132e" opacity="0.95"/><path d="M61.7 255.5L73.6 249" stroke="#e68b6b" opacity="0.65"/><path d="M43.6 164.3L57.4 166.9" stroke="#a62637" opacity="0.95"/><path d="M99.1 300.2L109.4 291.7" stroke="#f7d1bc" opacity="0.65"/><path d="M49 264L61.4 270.8" stroke="#e5896a" opacity="0.65"/><path d="M71 285.2L84.1 279.3" stroke="#d96f58" opacity="0.65"/><path d="M271.4 167.6L282.9 175" stroke="#eda588" opacity="0.65"/><path d="M225.8 267.6L229.1 279.9" stroke="#377fbb" opacity="0.95"/><path d="M246.3 298.7L260.1 293.4" stroke="#cd5b4f" opacity="0.65"/><path d="M63.5 276.3L77.2 273" stroke="#b12b39" opacity="0.95"/><path d="M32.6 225.8L41.8 214.9" stroke="#d7e7f0" opacity="0.65"/><path d="M275.3 266.7L277.9 280.3" stroke="#2a6eae" opacity="0.95"/><path d="M39.2 227.6L52.2 230.6" stroke="#af2a39" opacity="0.95"/><path d="M38.3 246L49.5 238.2" stroke="#f1b598" opacity="0.65"/><path d="M236.8 162.9L241.9 149.1" stroke="#4e93c6" opacity="0.65"/><path d="M38.9 262.7L49.7 254.1" stroke="#f7cbb2" opacity="0.65"/><path d="M248.3 285.9L263.2 285.3" stroke="#841630" opacity="0.95"/><path d="M267.6 295.7L268.2 308.9" stroke="#1d4e8e" opacity="0.95"/><path d="M262.2 284.6L275 287.3" stroke="#ac2938" opacity="0.95"/><path d="M52.7 236.7L56.5 250.3" stroke="#3880bc" opacity="0.95"/><path d="M55.8 287.4L69.5 284.4" stroke="#ac2938" opacity="0.95"/><path d="M72.8 271.6L87.7 272.7" stroke="#8b1a31" opacity="0.95"/><path d="M51.6 285.1L57.7 274" stroke="#7cb7d9" opacity="0.65"/><path d="M36.7 280.2L49.7 274.1" stroke="#dc755b" opacity="0.65"/><path d="M35.2 285.6L47.4 293.9" stroke="#efae92" opacity="0.65"/><path d="M62.5 295L73.1 305" stroke="#f7ece6" opacity="0.65"/><path d="M261.1 226.1L270.8 218.3" stroke="#f7ccb4" opacity="0.65"/><path d="M47.2 288.7L55 300.8" stroke="#9cc9e1" opacity="0.65"/><path d="M80.6 293.1L92.9 287.6" stroke="#d76c57" opacity="0.65"/><path d="M34.9 299.1L46.1 307" stroke="#f2b79b" opacity="0.65"/><path d="M236.7 297.6L240 310.2" stroke="#337bba" opacity="0.95"/><path d="M49.1 256.4L63.4 253.4" stroke="#ab2838" opacity="0.95"/><path d="M33.5 272.3L41.7 262.8" stroke="#d9e8f0" opacity="0.65"/></g>
</g>
<rect x="209" y="161.7" width="63" height="18" fill="#fff"/>
<text x="270" y="177.2" font-size="13.8" text-anchor="end" fill="#000">t = 15 min</text>
<text x="46.5" y="182" font-size="25" text-anchor="start" fill="#000">(d)</text>
<clipPath id="cpg"><rect x="385.5" y="161.7" width="227.5" height="132"/></clipPath>
<g clip-path="url(#cpg)">
<rect x="385.5" y="161.7" width="227.5" height="132" fill="#e9e9e9"/>
<path d="M573.3 261 560.9 253.4 561.8 246.9 569.6 243.8 578.2 252.1 574.4 260.6ZM582.8 250.7 578.2 252.1 569.6 243.8 573.2 236.3 579.2 234.9 584.7 237.6 586.2 245ZM586.2 245 584.7 237.6 595.7 231.5 602.2 237.5 602.7 240.1 600 246.7 598.2 247.7ZM582.8 250.7 578.2 252.1 574.4 260.6 585.9 268.3 592.8 261.8 592.7 261ZM579.2 234.9 581.9 218.5 581.8 218.4 568.4 220.2 565.4 227.7 573.2 236.3ZM560.9 253.4 555.5 259 550.6 259.3 544 248.9 547.8 243.2 555.1 241.1 561.8 246.9ZM573.3 261 565.9 272.1 562.2 271.2 555.5 259 560.9 253.4ZM616.3 244.1 619.2 233.8 617.3 231.1 612.6 229.6 602.2 237.5 602.7 240.1ZM605 218.7 599.4 219.6 595.3 223.4 595.7 231.5 602.2 237.5 612.6 229.6 608.6 220.4ZM569.6 243.8 573.2 236.3 565.4 227.7 556.6 230.3 555.1 241.1 561.8 246.9ZM566.4 285.8 568.8 276.6 565.9 272.1 562.2 271.2 554.4 275.2 553.1 286.9ZM592.7 261 592.8 261.8 601.3 264.7 606.3 262.9 607.5 254.2 600 246.7 598.2 247.7ZM539.7 231.2 539.2 232.7 547.8 243.2 555.1 241.1 556.6 230.3 551.9 226.6ZM544 248.9 538.6 249.6 534.9 261.7 536.1 263.8 547.3 262.8 550.6 259.3ZM544 248.9 538.6 249.6 532.3 245.6 530.6 239 539.2 232.7 547.8 243.2ZM592.8 261.8 585.9 268.3 585.5 272.5 595.3 278.2 601.1 275.9 601.3 264.7ZM550.5 217.5 560.9 211.9 563.4 212.4 568.4 220.2 565.4 227.7 556.6 230.3 551.9 226.6ZM535.2 222.6 524 224.1 523 228.2 528.5 238 530.6 239 539.2 232.7 539.7 231.2ZM579.2 234.9 581.9 218.5 595.3 223.4 595.7 231.5 584.7 237.6ZM582.3 210.9 581.8 218.4 581.9 218.5 595.3 223.4 599.4 219.6 594.9 205.3 594.4 205.1ZM582.8 250.7 592.7 261 598.2 247.7 586.2 245ZM601.3 264.7 601.1 275.9 611 282 616.3 268.5 615.6 267.2 606.3 262.9ZM600 246.7 602.7 240.1 616.3 244.1 618.8 249.3 607.5 254.2ZM555.5 259 562.2 271.2 554.4 275.2 548.5 272.5 547.3 262.8 550.6 259.3ZM573.3 261 565.9 272.1 568.8 276.6 581.3 277.3 585.5 272.5 585.9 268.3 574.4 260.6ZM559.9 301.9 562.2 302.3 569.8 292.2 566.4 285.8 553.1 286.9 551.9 288ZM572.1 202.3 574.5 202 576.5 202.8 582.3 210.9 581.8 218.4 568.4 220.2 563.4 212.4ZM606.3 262.9 615.6 267.2 621.3 253.6 619.5 249.7 618.8 249.3 607.5 254.2ZM535.2 222.6 538.4 215.2 545.3 214.2 550.5 217.5 551.9 226.6 539.7 231.2ZM538.4 215.2 530.3 206.3 534.9 198.3 538.1 198.1 547.4 204.2 545.3 214.2ZM559.9 301.9 551.9 288 550.3 288.3 545.2 293 544.5 301.6 549.7 306.2ZM569.8 292.2 577.2 293.5 583 285.9 581.3 277.3 568.8 276.6 566.4 285.8ZM550.3 288.3 541.2 279.3 541.5 276.6 548.5 272.5 554.4 275.2 553.1 286.9 551.9 288ZM596.9 292.7 586.8 302 581.9 301.7 577.2 293.5 583 285.9 594.1 289.1ZM625.3 283.5 627.7 279.1 624.3 270.1 616.3 268.5 611 282 611.1 282.4 615.8 286.4ZM617.3 298.4 607.7 303 605.6 302.8 597.7 292.9 611.1 282.4 615.8 286.4ZM548.5 272.5 541.5 276.6 534.6 269.5 536.1 263.8 547.3 262.8ZM554.5 200.6 560.9 211.9 563.4 212.4 572.1 202.3 563.3 195.6 554.6 200.4ZM594.1 289.1 595.3 278.2 585.5 272.5 581.3 277.3 583 285.9ZM605 218.7 609.6 204.1 617.5 208.1 619 216.2 608.6 220.4ZM590.8 193 576.5 202.8 574.5 202 575.8 187.8 587.7 189.2ZM562.2 302.3 569.8 292.2 577.2 293.5 581.9 301.7 576.3 309.5 563.4 304.2ZM525.2 257.9 534.9 261.7 538.6 249.6 532.3 245.6 523.4 254ZM596.9 292.7 597.7 292.9 605.6 302.8 595.3 313.4 586.8 302ZM535.2 222.6 524 224.1 521.4 220 524.7 207.5 530.3 206.3 538.4 215.2ZM516.8 242.5 515.3 249.1 516.6 251.5 523.4 254 532.3 245.6 530.6 239 528.5 238ZM596.9 292.7 597.7 292.9 611.1 282.4 611 282 601.1 275.9 595.3 278.2 594.1 289.1ZM590.8 193 591.1 193.1 594.4 205.1 582.3 210.9 576.5 202.8ZM507 224.9 511.9 233.5 523 228.2 524 224.1 521.4 220 507.8 219.3ZM511.8 234 516.8 242.5 528.5 238 523 228.2 511.9 233.5ZM547 190.6 538.1 198.1 534.9 198.3 530.1 188.1 531.2 183.5 540.8 180.1ZM544.5 301.6 533 304.4 532 303.5 531.6 294 535.7 290.4 545.2 293ZM564.8 176.1 570.1 169.3 578.9 176.8 574.4 186.1 568.8 185.3ZM550.5 217.5 560.9 211.9 554.5 200.6 547.4 204.2 545.3 214.2ZM531.6 294 521.5 289.2 521.2 289.3 516.8 301.1 519.1 303.4 532 303.5ZM524.5 273.5 525.9 274.2 534.6 269.5 536.1 263.8 534.9 261.7 525.2 257.9 521.1 266.5ZM590.8 193 591.1 193.1 598.9 189.9 598.5 177.6 587.6 175.4 587.7 189.2ZM535.7 290.4 535.3 283.9 527.1 280.1 521.5 289.2 531.6 294ZM501.1 240.6 505.6 247.9 515.3 249.1 516.8 242.5 511.8 234ZM513.3 277.2 524.5 273.5 521.1 266.5 508.9 264.2 508.5 264.4 507.6 270.1ZM512.2 284.4 521.2 289.3 516.8 301.1 513.7 301.2 506.5 295.4 510 285.5ZM541.2 279.3 541.5 276.6 534.6 269.5 525.9 274.2 527.1 280.1 535.3 283.9ZM515.3 249.1 516.6 251.5 508.9 264.2 508.5 264.4 498.7 258.2 505.6 247.9ZM508.9 264.2 516.6 251.5 523.4 254 525.2 257.9 521.1 266.5ZM591.1 193.1 598.9 189.9 602.3 190.7 607.4 203 594.9 205.3 594.4 205.1ZM542.2 178.1 542.6 167.2 541.6 166.2 529.1 163.5 524.4 169.2 524.9 176.3 531.2 183.5 540.8 180.1ZM610.8 179 610.8 186.7 602.3 190.7 598.9 189.9 598.5 177.6 602.2 175.3ZM492.1 226.6 487.6 227.4 483.7 234.9 493.7 241.8 498.2 239.7 497.3 230.2ZM498.2 239.7 493.7 241.8 491.5 247 496.6 258.3 498.7 258.2 505.6 247.9 501.1 240.6ZM602.3 190.7 607.4 203 609.5 204 618.2 191.9 610.8 186.7ZM613.9 162.9 613.7 176.7 610.8 179 602.2 175.3 602.7 163.9 608.8 161.3ZM517.4 193 530.1 188.1 534.9 198.3 530.3 206.3 524.7 207.5 524.3 207.2ZM563.6 189.9 563.3 195.6 572.1 202.3 574.5 202 575.8 187.8 574.4 186.1 568.8 185.3ZM500.2 275 492.7 273 495.8 258.9 496.6 258.3 498.7 258.2 508.5 264.4 507.6 270.1ZM481.3 270.5 490.2 274.1 492.7 273 495.8 258.9 484.9 259.8 480.8 265.6ZM512.2 284.4 513.3 277.2 507.6 270.1 500.2 275 501.6 283 510 285.5ZM512.2 284.4 521.2 289.3 521.5 289.2 527.1 280.1 525.9 274.2 524.5 273.5 513.3 277.2ZM547 190.6 538.1 198.1 547.4 204.2 554.5 200.6 554.6 200.4 549.7 191.2ZM482.7 292.5 485.8 298.1 498.9 295.3 497.3 286.7 489 284.4 482.8 289.3ZM506.5 295.4 513.7 301.2 505.6 310 499.7 306.4 500.5 296.3ZM497.3 286.7 501.6 283 510 285.5 506.5 295.4 500.5 296.3 498.9 295.3ZM489 284.4 490.2 274.1 492.7 273 500.2 275 501.6 283 497.3 286.7ZM515.3 192.4 512.9 187.6 514.3 181.4 524.9 176.3 531.2 183.5 530.1 188.1 517.4 193ZM555.8 185.9 563.6 189.9 563.3 195.6 554.6 200.4 549.7 191.2ZM555.2 179.4 557.6 176.6 553.2 165.5 542.6 167.2 542.2 178.1ZM555.2 179.4 557.6 176.6 564.8 176.1 568.8 185.3 563.6 189.9 555.8 185.9ZM495.9 216.5 492.1 226.6 497.3 230.2 507 224.9 507.8 219.3 507.6 219ZM550.3 288.3 541.2 279.3 535.3 283.9 535.7 290.4 545.2 293ZM605 218.7 599.4 219.6 594.9 205.3 607.4 203 609.5 204 609.6 204.1ZM483.7 234.9 493.7 241.8 491.5 247 480.2 249.5 477.5 243.1 481.3 235.8ZM509.5 207.7 524.3 207.2 524.7 207.5 521.4 220 507.8 219.3 507.6 219ZM515.3 192.4 512.9 187.6 498.1 186.4 497.2 187.3 497 189.2 506.1 201.9ZM506.1 202.6 506.1 201.9 515.3 192.4 517.4 193 524.3 207.2 509.5 207.7ZM482.8 289.3 489 284.4 490.2 274.1 481.3 270.5 478 273.3 478 284.7ZM482.7 292.5 485.8 298.1 485.8 298.4 476.8 308.9 469.5 301.3 470.1 296.9ZM617.5 208.1 625.5 203.5 625.7 203.1 619.5 191.9 618.2 191.9 609.5 204 609.6 204.1ZM482.7 292.5 470.1 296.9 462.8 288.5 465.3 284.8 478 284.7 482.8 289.3ZM511.5 153.9 510.5 159.1 515.3 166.9 524.4 169.2 529.1 163.5 527.7 155.8 525.6 153.6 514.2 151.4ZM465.3 284.8 464.7 275.9 467.4 273.1 478 273.3 478 284.7ZM481.3 235.8 477.5 243.1 466.9 241.8 464.8 238.1 465.5 235 473.8 229.8ZM527.7 155.8 540.1 149.4 543.8 151.6 541.6 166.2 529.1 163.5ZM456.1 273 453.2 265.9 465.3 257.6 466.6 258.2 467.4 273.1 464.7 275.9ZM493 212.7 495.9 216.5 507.6 219 509.5 207.7 506.1 202.6 493.2 207.2ZM480.2 249.5 480.2 249.6 484.9 259.8 495.8 258.9 496.6 258.3 491.5 247ZM490.4 196.3 477.1 192.7 477.5 186.2 483.5 181.2 497.2 187.3 497 189.2ZM464.8 238.1 452 239.3 454.9 250.4 463.2 253.5 466.9 241.8ZM587.7 189.2 587.6 175.4 587.5 175.2 578.9 176.8 574.4 186.1 575.8 187.8ZM553.2 165.5 557.1 161.1 570.1 167.8 570.1 169.3 564.8 176.1 557.6 176.6ZM481.3 270.5 478 273.3 467.4 273.1 466.6 258.2 467.7 258.2 480.8 265.6ZM445.8 255.6 448.9 264.3 453.2 265.9 465.3 257.6 463.2 253.5 454.9 250.4ZM501.4 174.2 496.9 167.9 493.5 168 483.9 176.8 483.5 181.2 497.2 187.3 498.1 186.4ZM514.3 181.4 507.9 174.5 515.3 166.9 524.4 169.2 524.9 176.3ZM487.6 227.4 483.7 234.9 481.3 235.8 473.8 229.8 474 222.4 478.6 218.1 479.9 218.5ZM493 212.7 479.9 218.5 478.6 218.1 477.7 215.3 481.2 205.5 491.1 205 493.2 207.2ZM555.2 179.4 542.2 178.1 540.8 180.1 547 190.6 549.7 191.2 555.8 185.9ZM462.8 288.5 462.7 288.6 449.4 285.4 449.3 280.9 456.1 273 464.7 275.9 465.3 284.8ZM471.6 168.9 476 168.7 483.9 176.8 483.5 181.2 477.5 186.2 465.3 178.8 465.3 178.6ZM512.9 187.6 498.1 186.4 501.4 174.2 507.9 174.5 514.3 181.4ZM497.3 230.2 498.2 239.7 501.1 240.6 511.8 234 511.9 233.5 507 224.9ZM608.8 161.3 607.5 149.3 604.3 146.5 594.5 150.7 594.5 161.2 602.7 163.9ZM542.6 167.2 541.6 166.2 543.8 151.6 553.7 149.8 557.3 153.4 557.1 161.1 553.2 165.5ZM587.5 175.2 588.1 164.5 579.8 160.2 575.2 161.5 570.1 167.8 570.1 169.3 578.9 176.8ZM477.5 243.1 466.9 241.8 463.2 253.5 465.3 257.6 466.6 258.2 467.7 258.2 480.2 249.6 480.2 249.5ZM610.8 179 610.8 186.7 618.2 191.9 619.5 191.9 626.1 186.9 621.2 177.4 613.7 176.7ZM462.8 288.5 462.7 288.6 455.3 302.3 456.3 304.2 460.2 306.2 469.5 301.3 470.1 296.9ZM557.1 161.1 570.1 167.8 575.2 161.5 566.7 151 557.3 153.4ZM439.9 271.4 448.9 264.3 445.8 255.6 441.3 253.2 430.4 259.2 430.5 261.5 437.8 271.6ZM507.9 174.5 515.3 166.9 510.5 159.1 497.8 166.3 496.9 167.9 501.4 174.2ZM474.4 196.7 474.3 196.8 463.6 195.3 460.1 183.5 465.3 178.8 477.5 186.2 477.1 192.7ZM493 212.7 479.9 218.5 487.6 227.4 492.1 226.6 495.9 216.5ZM440.2 243.4 450.2 238.1 452 239.3 454.9 250.4 445.8 255.6 441.3 253.2ZM474 222.4 463.3 221 463.3 210.3 468.5 209 477.7 215.3 478.6 218.1ZM473.8 229.8 465.5 235 459.6 224.2 463.3 221 474 222.4ZM602.7 163.9 594.5 161.2 588.1 164.5 587.5 175.2 587.6 175.4 598.5 177.6 602.2 175.3ZM480.8 265.6 467.7 258.2 480.2 249.6 484.9 259.8ZM493.2 207.2 491.1 205 490.4 196.3 497 189.2 506.1 201.9 506.1 202.6ZM445.6 289.1 449.4 285.4 462.7 288.6 455.3 302.3 445.3 297.2ZM613.9 162.9 617.1 162.2 625.8 171 621.2 177.4 613.7 176.7ZM439.9 271.4 448.9 264.3 453.2 265.9 456.1 273 449.3 280.9ZM463.6 195.3 460.1 183.5 454.3 183.9 447.5 194.3 447.7 195.1 460.1 198.3ZM490.4 196.3 477.1 192.7 474.4 196.7 481.2 205.5 491.1 205ZM463.3 221 463.3 210.3 459.6 208 451.9 210 451.8 224.5 459.6 224.2ZM474.4 196.7 474.3 196.8 468.5 209 477.7 215.3 481.2 205.5ZM451 209.4 451.9 210 459.6 208 460.1 198.3 447.7 195.1 446.8 197.5ZM465.5 235 464.8 238.1 452 239.3 450.2 238.1 449.1 226.3 451.8 224.5 459.6 224.2ZM496.5 149.5 483.6 152.2 482.3 155.1 483.1 159.3 493.5 168 496.9 167.9 497.8 166.3ZM590.3 147.3 581.7 149.4 579.8 160.2 588.1 164.5 594.5 161.2 594.5 150.7ZM464.9 158.7 465.5 156.5 482.3 155.1 483.1 159.3 476 168.7 471.6 168.9ZM451 209.4 451.9 210 451.8 224.5 449.1 226.3 439.6 223.9 438.7 212.2ZM483.9 176.8 493.5 168 483.1 159.3 476 168.7ZM581.7 149.4 578.8 146.4 569.1 147.1 566.7 151 575.2 161.5 579.8 160.2ZM445.6 289.1 432.8 284.5 426.7 292.3 433.8 300.5 440.8 300.9 445.3 297.2ZM613.9 162.9 617.1 162.2 623.5 155.2 623.2 152.3 617.3 146.8 607.5 149.3 608.8 161.3ZM432.8 284.5 432.2 279.5 420.2 274.6 417.3 277.8 419.7 289.8 423.4 292.8 426.7 292.3ZM447 176.4 454.3 183.9 460.1 183.5 465.3 178.8 465.3 178.6 455.5 167.7 447 173.6ZM445.6 289.1 449.4 285.4 449.3 280.9 439.9 271.4 437.8 271.6 432.2 279.5 432.8 284.5ZM426.6 240.9 422.9 252.7 430.4 259.2 441.3 253.2 440.2 243.4 431.4 238.2ZM456.3 164.2 445.2 155.2 446.1 153.2 458.6 148.8 464.3 152.5 465.5 156.5 464.9 158.7ZM433.1 227.6 431.4 238.2 440.2 243.4 450.2 238.1 449.1 226.3 439.6 223.9ZM485.8 298.1 485.8 298.4 492.7 308.6 499.7 306.4 500.5 296.3 498.9 295.3ZM455.5 167.7 465.3 178.6 471.6 168.9 464.9 158.7 456.3 164.2ZM446.8 197.5 447.7 195.1 447.5 194.3 438 188 428.5 195.9 432 205.7 433.2 206.1ZM405.4 284.4 408.4 289.9 419.7 289.8 417.3 277.8 407.7 279.1ZM405.4 284.4 394 286 394.2 293.8 405.2 300.6 408.4 289.9ZM438.7 212.2 439.6 223.9 433.1 227.6 421.5 220.5 420.9 213.8 432 205.7 433.2 206.1ZM423.4 292.8 419.7 289.8 408.4 289.9 405.2 300.6 405.6 301.7 414.7 304.6 416.8 303.8ZM511.5 153.9 496.5 149.4 496.5 149.5 497.8 166.3 510.5 159.1ZM437.8 271.6 430.5 261.5 420 271.4 420.2 274.6 432.2 279.5ZM421.5 220.5 414.8 226.9 413.4 234.4 426.6 240.9 431.4 238.2 433.1 227.6ZM433.8 300.5 428.1 310.4 416.8 303.8 423.4 292.8 426.7 292.3ZM415.7 210.3 420.9 213.8 421.5 220.5 414.8 226.9 401.7 219.8 401.8 214.3 407.2 210.4ZM383.8 214.9 390.9 208.2 401.8 214.3 401.7 219.8 398.8 223.7 388.7 223.6ZM447 176.4 454.3 183.9 447.5 194.3 438 188 437.7 183.9ZM447 173.6 455.5 167.7 456.3 164.2 445.2 155.2 441.9 157.3 442.3 169.4ZM387.5 198.9 377.5 198.3 374.7 200.3 374.4 208.1 383.2 215 383.8 214.9 390.9 208.2 390.5 202.6ZM407.2 210.4 401.8 214.3 390.9 208.2 390.5 202.6 402.7 196.7 404.1 197.3ZM468.5 209 474.3 196.8 463.6 195.3 460.1 198.3 459.6 208 463.3 210.3ZM422.9 252.7 417.8 253.7 413.9 265.4 420 271.4 430.5 261.5 430.4 259.2ZM437.7 183.9 438 188 428.5 195.9 425.5 194.3 420.8 185.7 429.9 177.4ZM409.2 243.7 412.3 251.3 417.8 253.7 422.9 252.7 426.6 240.9 413.4 234.4 412.8 234.8ZM396.1 244.1 395.2 247.3 402.5 256.8 412.3 251.3 409.2 243.7ZM396.1 244.1 409.2 243.7 412.8 234.8 399.4 232.3 394.1 238.3ZM447 176.4 437.7 183.9 429.9 177.4 429.5 172.2 442.3 169.4 447 173.6ZM415.7 210.3 420.9 213.8 432 205.7 428.5 195.9 425.5 194.3 416 199.5ZM442.3 169.4 441.9 157.3 430.7 156.3 426.6 168.4 429.5 172.2ZM412.3 251.3 417.8 253.7 413.9 265.4 408 266.3 402.2 258.1 402.5 256.8ZM405.4 284.4 394 286 391.8 283.8 395.4 271.8 404.1 272.7 407.7 279.1ZM407.7 279.1 404.1 272.7 408 266.3 413.9 265.4 420 271.4 420.2 274.6 417.3 277.8ZM413.4 172.9 418.1 168.5 426.6 168.4 429.5 172.2 429.9 177.4 420.8 185.7 414.2 183.8 413.5 183ZM394.1 238.3 385.3 235 384.8 232.7 388.7 223.6 398.8 223.7 399.4 232.3ZM451 209.4 438.7 212.2 433.2 206.1 446.8 197.5ZM393.5 269.2 381.8 270.1 377.3 265.4 377.3 262.9 387.9 257.2 394.3 263.3ZM394.2 293.8 386.1 300.6 379.6 297.8 377.8 294.9 385.8 283.4 391.8 283.8 394 286ZM395.4 271.8 404.1 272.7 408 266.3 402.2 258.1 394.3 263.3 393.5 269.2ZM608.6 220.4 612.6 229.6 617.3 231.1 624.4 220.1 624.2 219.4 619 216.2ZM399.4 232.3 398.8 223.7 401.7 219.8 414.8 226.9 413.4 234.4 412.8 234.8ZM415.7 210.3 416 199.5 409.8 195.4 404.1 197.3 407.2 210.4ZM401.5 183.4 399.2 187.3 402.7 196.7 404.1 197.3 409.8 195.4 414.2 183.8 413.5 183ZM416 199.5 425.5 194.3 420.8 185.7 414.2 183.8 409.8 195.4ZM405.2 300.6 405.6 301.7 401.1 307.4 388.9 307.7 386.1 300.6 394.2 293.8ZM387.1 185.7 375.4 183.9 377.5 198.3 387.5 198.9 389.1 188.5ZM390.3 175.8 387.9 171.8 382.3 169.9 375.3 174.8 374.8 183.4 375.4 183.9 387.1 185.7ZM374 223.1 383.2 215 383.8 214.9 388.7 223.6 384.8 232.7 374.1 225ZM381.6 279 381.8 270.1 393.5 269.2 395.4 271.8 391.8 283.8 385.8 283.4ZM399.2 187.3 402.7 196.7 390.5 202.6 387.5 198.9 389.1 188.5ZM401.5 183.4 399.2 187.3 389.1 188.5 387.1 185.7 390.3 175.8 398.9 177.4ZM377.9 241.8 366.1 236.1 374.1 225 384.8 232.7 385.3 235ZM418.1 168.5 412 154.7 415.9 151.1 429.2 154.1 430.7 156.3 426.6 168.4ZM401.1 163.8 411.8 154.8 398.3 146.3 391.6 154.2 397.5 162.6ZM401.5 183.4 413.5 183 413.4 172.9 403.7 169.4 398.9 177.4ZM378.3 246.2 372.3 255.3 377.3 262.9 387.9 257.2 388.8 251.6ZM396.1 244.1 395.2 247.3 388.8 251.6 378.3 246.2 377.9 241.8 385.3 235 394.1 238.3ZM403.7 169.4 401.1 163.8 411.8 154.8 412 154.7 418.1 168.5 413.4 172.9ZM370.9 281.6 361.3 276.3 377.3 265.4 381.8 270.1 381.6 279ZM395.2 247.3 388.8 251.6 387.9 257.2 394.3 263.3 402.2 258.1 402.5 256.8ZM397.5 162.6 387.9 171.8 382.3 169.9 380.6 157 385.5 154.1 391.6 154.2ZM375.2 293.8 370.9 281.6 381.6 279 385.8 283.4 377.8 294.9ZM398.9 177.4 390.3 175.8 387.9 171.8 397.5 162.6 401.1 163.8 403.7 169.4Z" fill="none" stroke="#f4f4f4" stroke-width="1.2" opacity="0.9"/>
<g fill="#c9c9ef"><circle cx="570" cy="252.7" r="2.8"/><circle cx="578.6" cy="244" r="2.8"/><circle cx="592.9" cy="241.2" r="2.8"/><circle cx="583.1" cy="258.5" r="2.8"/><circle cx="574.8" cy="227" r="2.8"/><circle cx="552.3" cy="250.2" r="2.8"/><circle cx="564.5" cy="261.9" r="2.8"/><circle cx="612.2" cy="237.3" r="2.8"/><circle cx="605.2" cy="228" r="2.8"/><circle cx="563.8" cy="237.1" r="2.8"/><circle cx="559.5" cy="280.3" r="2.8"/><circle cx="601" cy="255.7" r="2.8"/><circle cx="547.9" cy="234.9" r="2.8"/><circle cx="541.7" cy="257" r="2.8"/><circle cx="539.7" cy="241.7" r="2.8"/><circle cx="595.5" cy="271.7" r="2.8"/><circle cx="559" cy="220.8" r="2.8"/><circle cx="530.9" cy="229.6" r="2.8"/><circle cx="585.9" cy="228.8" r="2.8"/><circle cx="591.5" cy="213.1" r="2.8"/><circle cx="590.6" cy="251.4" r="2.8"/><circle cx="606.8" cy="271.8" r="2.8"/><circle cx="609.1" cy="247.6" r="2.8"/><circle cx="553.2" cy="268.1" r="2.8"/><circle cx="575.9" cy="269.5" r="2.8"/><circle cx="560.5" cy="292.5" r="2.8"/><circle cx="572.8" cy="211.9" r="2.8"/><circle cx="613.4" cy="257.5" r="2.8"/><circle cx="543.3" cy="223.1" r="2.8"/><circle cx="541" cy="206.2" r="2.8"/><circle cx="551.5" cy="297.6" r="2.8"/><circle cx="575.1" cy="284.5" r="2.8"/><circle cx="548.3" cy="279" r="2.8"/><circle cx="586.5" cy="293.1" r="2.8"/><circle cx="621" cy="277.5" r="2.8"/><circle cx="608" cy="293.1" r="2.8"/><circle cx="542.8" cy="269.4" r="2.8"/><circle cx="562.5" cy="203" r="2.8"/><circle cx="589.7" cy="281.7" r="2.8"/><circle cx="612.4" cy="213.1" r="2.8"/><circle cx="580.5" cy="193.8" r="2.8"/><circle cx="572.1" cy="301.2" r="2.8"/><circle cx="531.9" cy="254" r="2.8"/><circle cx="595.6" cy="303.1" r="2.8"/><circle cx="529.2" cy="217" r="2.8"/><circle cx="523.9" cy="245.5" r="2.8"/><circle cx="600" cy="282.8" r="2.8"/><circle cx="586.3" cy="202.3" r="2.8"/><circle cx="515.4" cy="225.8" r="2.8"/><circle cx="520.1" cy="235.6" r="2.8"/><circle cx="540.1" cy="189.8" r="2.8"/><circle cx="538.2" cy="296.5" r="2.8"/><circle cx="572.1" cy="178.5" r="2.8"/><circle cx="552.4" cy="208.7" r="2.8"/><circle cx="525.2" cy="297.2" r="2.8"/><circle cx="527.5" cy="265.2" r="2.8"/><circle cx="593.6" cy="183" r="2.8"/><circle cx="529.9" cy="287.1" r="2.8"/><circle cx="509.2" cy="242" r="2.8"/><circle cx="516.2" cy="270.7" r="2.8"/><circle cx="513" cy="292.6" r="2.8"/><circle cx="534.3" cy="277.7" r="2.8"/><circle cx="507.7" cy="254.4" r="2.8"/><circle cx="518.1" cy="260.7" r="2.8"/><circle cx="600" cy="198.5" r="2.8"/><circle cx="534.1" cy="173.1" r="2.8"/><circle cx="603.8" cy="182.7" r="2.8"/><circle cx="491.6" cy="233.8" r="2.8"/><circle cx="498.7" cy="248.5" r="2.8"/><circle cx="609.5" cy="194.6" r="2.8"/><circle cx="608.6" cy="171.3" r="2.8"/><circle cx="525" cy="196.9" r="2.8"/><circle cx="570.2" cy="192.8" r="2.8"/><circle cx="499.2" cy="268" r="2.8"/><circle cx="488.9" cy="265.7" r="2.8"/><circle cx="506.3" cy="278.7" r="2.8"/><circle cx="519.5" cy="280.7" r="2.8"/><circle cx="546.7" cy="197.5" r="2.8"/><circle cx="492.8" cy="291.1" r="2.8"/><circle cx="505.2" cy="302.4" r="2.8"/><circle cx="503.2" cy="289.2" r="2.8"/><circle cx="495.7" cy="280.5" r="2.8"/><circle cx="520.5" cy="185" r="2.8"/><circle cx="556.7" cy="192.3" r="2.8"/><circle cx="550.7" cy="173.7" r="2.8"/><circle cx="561.5" cy="183" r="2.8"/><circle cx="498.6" cy="223.7" r="2.8"/><circle cx="541" cy="286.4" r="2.8"/><circle cx="602.2" cy="209.8" r="2.8"/><circle cx="485.4" cy="242.8" r="2.8"/><circle cx="516.1" cy="213.6" r="2.8"/><circle cx="506.4" cy="192.3" r="2.8"/><circle cx="515.7" cy="201.4" r="2.8"/><circle cx="483.3" cy="279.2" r="2.8"/><circle cx="476.3" cy="300.4" r="2.8"/><circle cx="618.4" cy="201" r="2.8"/><circle cx="472.7" cy="290.4" r="2.8"/><circle cx="518.8" cy="160.3" r="2.8"/><circle cx="472.7" cy="279.1" r="2.8"/><circle cx="473.2" cy="236.4" r="2.8"/><circle cx="537.6" cy="156.8" r="2.8"/><circle cx="461.4" cy="267.9" r="2.8"/><circle cx="501.3" cy="211.1" r="2.8"/><circle cx="487.8" cy="253.4" r="2.8"/><circle cx="487.1" cy="190.1" r="2.8"/><circle cx="459.1" cy="244.6" r="2.8"/><circle cx="581.8" cy="183.1" r="2.8"/><circle cx="560.6" cy="169.7" r="2.8"/><circle cx="472.9" cy="267.3" r="2.8"/><circle cx="454.3" cy="257.5" r="2.8"/><circle cx="492.5" cy="177.9" r="2.8"/><circle cx="515.3" cy="174.4" r="2.8"/><circle cx="480.1" cy="227.7" r="2.8"/><circle cx="484.9" cy="210.7" r="2.8"/><circle cx="549.7" cy="184.1" r="2.8"/><circle cx="457.2" cy="280.2" r="2.8"/><circle cx="475.3" cy="176.2" r="2.8"/><circle cx="507.2" cy="181.9" r="2.8"/><circle cx="503.5" cy="232.6" r="2.8"/><circle cx="601.5" cy="154.4" r="2.8"/><circle cx="548.2" cy="158.5" r="2.8"/><circle cx="579.5" cy="169.9" r="2.8"/><circle cx="471.7" cy="248.5" r="2.8"/><circle cx="617.8" cy="182.8" r="2.8"/><circle cx="463.3" cy="298.6" r="2.8"/><circle cx="566.2" cy="158.9" r="2.8"/><circle cx="440.4" cy="262.4" r="2.8"/><circle cx="507.8" cy="167" r="2.8"/><circle cx="467.6" cy="188.8" r="2.8"/><circle cx="489" cy="220" r="2.8"/><circle cx="448.5" cy="247.4" r="2.8"/><circle cx="469.2" cy="215.8" r="2.8"/><circle cx="467.7" cy="227.5" r="2.8"/><circle cx="596.1" cy="170.8" r="2.8"/><circle cx="478.1" cy="257.9" r="2.8"/><circle cx="497" cy="199.1" r="2.8"/><circle cx="454" cy="293.6" r="2.8"/><circle cx="618.8" cy="171.5" r="2.8"/><circle cx="448.8" cy="273.1" r="2.8"/><circle cx="456.7" cy="192" r="2.8"/><circle cx="484.4" cy="200" r="2.8"/><circle cx="457.5" cy="215.8" r="2.8"/><circle cx="475.1" cy="207.2" r="2.8"/><circle cx="454.1" cy="202.2" r="2.8"/><circle cx="458" cy="232.7" r="2.8"/><circle cx="491.9" cy="158.2" r="2.8"/><circle cx="587.5" cy="154.4" r="2.8"/><circle cx="474.5" cy="161.3" r="2.8"/><circle cx="446.3" cy="215.8" r="2.8"/><circle cx="483.5" cy="168.1" r="2.8"/><circle cx="574.6" cy="152.1" r="2.8"/><circle cx="436.9" cy="293.1" r="2.8"/><circle cx="614.5" cy="153.1" r="2.8"/><circle cx="423.5" cy="282.7" r="2.8"/><circle cx="455.5" cy="175.6" r="2.8"/><circle cx="441.5" cy="280.4" r="2.8"/><circle cx="433" cy="249.1" r="2.8"/><circle cx="455.3" cy="155.9" r="2.8"/><circle cx="441.6" cy="234.3" r="2.8"/><circle cx="495" cy="301.6" r="2.8"/><circle cx="463.4" cy="168.5" r="2.8"/><circle cx="438.2" cy="196.5" r="2.8"/><circle cx="413.5" cy="284.7" r="2.8"/><circle cx="401.3" cy="291.3" r="2.8"/><circle cx="431.8" cy="216.9" r="2.8"/><circle cx="413.6" cy="295" r="2.8"/><circle cx="502.3" cy="157.4" r="2.8"/><circle cx="428.2" cy="271.1" r="2.8"/><circle cx="422.9" cy="231.3" r="2.8"/><circle cx="426.1" cy="302.5" r="2.8"/><circle cx="410.7" cy="218.6" r="2.8"/><circle cx="392.7" cy="218.4" r="2.8"/><circle cx="445.9" cy="184.9" r="2.8"/><circle cx="448" cy="164.9" r="2.8"/><circle cx="380.8" cy="205.8" r="2.8"/><circle cx="400.6" cy="204.5" r="2.8"/><circle cx="465.7" cy="202.7" r="2.8"/><circle cx="420.7" cy="263.1" r="2.8"/><circle cx="429.7" cy="186.2" r="2.8"/><circle cx="416.7" cy="244" r="2.8"/><circle cx="404" cy="249.1" r="2.8"/><circle cx="403.6" cy="238.6" r="2.8"/><circle cx="438.5" cy="175.7" r="2.8"/><circle cx="421.3" cy="202.5" r="2.8"/><circle cx="436.3" cy="165.3" r="2.8"/><circle cx="409.8" cy="259.5" r="2.8"/><circle cx="399.6" cy="278.9" r="2.8"/><circle cx="411.8" cy="272.2" r="2.8"/><circle cx="421.1" cy="176.9" r="2.8"/><circle cx="392.7" cy="228.9" r="2.8"/><circle cx="444" cy="205.7" r="2.8"/><circle cx="387.2" cy="264" r="2.8"/><circle cx="387" cy="291.6" r="2.8"/><circle cx="401" cy="265.7" r="2.8"/><circle cx="616.4" cy="223" r="2.8"/><circle cx="405.6" cy="228" r="2.8"/><circle cx="410.5" cy="202.2" r="2.8"/><circle cx="406.2" cy="189.5" r="2.8"/><circle cx="416.4" cy="193.4" r="2.8"/><circle cx="395.1" cy="301.4" r="2.8"/><circle cx="381.6" cy="191.3" r="2.8"/><circle cx="383.6" cy="178.7" r="2.8"/><circle cx="382.1" cy="224.4" r="2.8"/><circle cx="388" cy="275.4" r="2.8"/><circle cx="395.3" cy="193.5" r="2.8"/><circle cx="394" cy="182.1" r="2.8"/><circle cx="376.1" cy="232.7" r="2.8"/><circle cx="420.8" cy="160.1" r="2.8"/><circle cx="401.5" cy="154.8" r="2.8"/><circle cx="405.7" cy="177" r="2.8"/><circle cx="381.9" cy="254.1" r="2.8"/><circle cx="386.8" cy="244.4" r="2.8"/><circle cx="410.1" cy="164.9" r="2.8"/><circle cx="375.3" cy="275.2" r="2.8"/><circle cx="394.7" cy="256.2" r="2.8"/><circle cx="388.8" cy="163.8" r="2.8"/><circle cx="377.7" cy="285.2" r="2.8"/><circle cx="396" cy="171.2" r="2.8"/></g>
<g stroke-width="1.75" stroke-linecap="butt"><path d="M563.2 251.4L576.9 254" stroke="#a62637" opacity="0.95"/><path d="M572.1 242.1L585.1 245.9" stroke="#bd3f42" opacity="0.65"/><path d="M587 244.6L598.8 237.8" stroke="#e79173" opacity="0.65"/><path d="M576.1 257.9L590.2 259.2" stroke="#8f1c32" opacity="0.95"/><path d="M570 222.8L579.6 231.2" stroke="#f7e0d2" opacity="0.65"/><path d="M545.2 248.4L559.5 252" stroke="#b32f3b" opacity="0.95"/><path d="M558.3 260.9L570.6 262.9" stroke="#a12436" opacity="0.95"/><path d="M610.9 230.4L613.4 244.1" stroke="#296aaa" opacity="0.95"/><path d="M598.7 227L611.6 229" stroke="#9e2235" opacity="0.95"/><path d="M562.4 230L565.1 244.1" stroke="#2a6dad" opacity="0.95"/><path d="M553.2 279.6L565.8 281" stroke="#941e33" opacity="0.95"/><path d="M594.6 254.5L607.3 256.9" stroke="#a62637" opacity="0.95"/><path d="M541.4 234.6L554.3 235.3" stroke="#861730" opacity="0.95"/><path d="M534.9 256.7L548.4 257.3" stroke="#841630" opacity="0.95"/><path d="M533.8 238.2L545.6 245.1" stroke="#e89576" opacity="0.65"/><path d="M589.3 272.1L601.8 271.3" stroke="#881831" opacity="0.95"/><path d="M552.6 218.7L565.4 222.9" stroke="#c24947" opacity="0.65"/><path d="M524.6 233.2L537.1 225.9" stroke="#e89476" opacity="0.65"/><path d="M582.8 235.2L588.9 222.5" stroke="#68aad3" opacity="0.65"/><path d="M591.3 206.7L591.8 219.5" stroke="#1d4d8d" opacity="0.95"/><path d="M584.1 255L597.1 247.7" stroke="#e79172" opacity="0.65"/><path d="M599.6 271.2L613.9 272.5" stroke="#8f1b32" opacity="0.95"/><path d="M603 248.2L615.1 247.1" stroke="#8f1c32" opacity="0.95"/><path d="M552.9 274.7L553.5 261.5" stroke="#1e4f8f" opacity="0.95"/><path d="M569.8 268.4L581.9 270.5" stroke="#a22436" opacity="0.95"/><path d="M553.7 291.9L567.3 293" stroke="#8d1a32" opacity="0.95"/><path d="M565.9 212.5L579.8 211.4" stroke="#8b1a31" opacity="0.95"/><path d="M607.9 260.9L618.9 254.2" stroke="#eb9e80" opacity="0.65"/><path d="M536.3 225.4L550.4 220.7" stroke="#c34a47" opacity="0.65"/><path d="M534.7 205.4L547.3 207.1" stroke="#9a2134" opacity="0.95"/><path d="M545.2 296.8L557.8 298.4" stroke="#971f34" opacity="0.95"/><path d="M567.9 283L582.4 286" stroke="#aa2838" opacity="0.95"/><path d="M543 284L553.7 274" stroke="#f7e8e0" opacity="0.65"/><path d="M583.7 298.4L589.3 287.7" stroke="#72b2d7" opacity="0.65"/><path d="M614.4 277.2L627.6 277.8" stroke="#851730" opacity="0.95"/><path d="M607.9 286.7L608.2 299.5" stroke="#1c4b8b" opacity="0.95"/><path d="M535.8 269.6L549.8 269.2" stroke="#81152f" opacity="0.95"/><path d="M556.1 205.7L568.9 200.2" stroke="#d56855" opacity="0.65"/><path d="M583.1 281.2L596.4 282.2" stroke="#8b1931" opacity="0.95"/><path d="M611.3 220.4L613.5 205.7" stroke="#2765a5" opacity="0.95"/><path d="M573.6 192.5L587.3 195.1" stroke="#a62637" opacity="0.95"/><path d="M566 303.7L578.3 298.7" stroke="#d16152" opacity="0.65"/><path d="M524.9 252.7L538.9 255.4" stroke="#a72737" opacity="0.95"/><path d="M595.5 295.8L595.7 310.3" stroke="#1b4888" opacity="0.95"/><path d="M523.3 214.6L535.1 219.5" stroke="#d36553" opacity="0.65"/><path d="M522.1 238.5L525.6 252.5" stroke="#317ab9" opacity="0.95"/><path d="M593.7 282.4L606.3 283.3" stroke="#8b1931" opacity="0.95"/><path d="M580.9 207.4L591.7 197.3" stroke="#f7eae3" opacity="0.65"/><path d="M510.6 221.3L520.3 230.4" stroke="#f7e8e0" opacity="0.65"/><path d="M513.5 237.9L526.6 233.3" stroke="#c64f49" opacity="0.65"/><path d="M535.4 185.8L544.8 193.7" stroke="#f7d7c4" opacity="0.65"/><path d="M532.3 293.2L544.2 299.9" stroke="#e79071" opacity="0.65"/><path d="M565.9 177.9L578.3 179" stroke="#8e1b32" opacity="0.95"/><path d="M550.2 201.8L554.7 215.6" stroke="#448bc2" opacity="0.65"/><path d="M525.1 303.9L525.2 290.5" stroke="#1a4686" opacity="0.95"/><path d="M521.3 265.3L533.7 265.1" stroke="#7e142f" opacity="0.95"/><path d="M587.7 181.2L599.4 184.7" stroke="#bd3f43" opacity="0.65"/><path d="M526 292L533.9 282.3" stroke="#cee3ee" opacity="0.65"/><path d="M502.7 242.4L515.7 241.7" stroke="#861730" opacity="0.95"/><path d="M509.7 269.6L522.7 271.8" stroke="#a22436" opacity="0.95"/><path d="M506.3 291.4L519.8 293.9" stroke="#a62637" opacity="0.95"/><path d="M526.9 277.3L541.7 278.2" stroke="#871830" opacity="0.95"/><path d="M501.3 256.6L514.1 252.3" stroke="#c34a47" opacity="0.65"/><path d="M511.2 260.9L525 260.5" stroke="#81152f" opacity="0.95"/><path d="M593.8 198.6L606.2 198.5" stroke="#7b122e" opacity="0.95"/><path d="M527.1 172.9L541.2 173.2" stroke="#7f142f" opacity="0.95"/><path d="M602.5 189.8L605.1 175.6" stroke="#296bab" opacity="0.95"/><path d="M485.6 233.1L497.7 234.4" stroke="#911d33" opacity="0.95"/><path d="M492.2 248.4L505.2 248.6" stroke="#7d132e" opacity="0.95"/><path d="M605 199.9L614 189.3" stroke="#d7e8f0" opacity="0.65"/><path d="M601.9 170.9L615.4 171.7" stroke="#881831" opacity="0.95"/><path d="M518.8 197.4L531.3 196.4" stroke="#8d1a32" opacity="0.95"/><path d="M562.9 191.9L577.4 193.8" stroke="#992034" opacity="0.95"/><path d="M492.7 264.6L505.7 271.4" stroke="#e48465" opacity="0.65"/><path d="M481.9 265.4L495.8 266" stroke="#851730" opacity="0.95"/><path d="M499.3 276.9L513.3 280.4" stroke="#b32e3b" opacity="0.95"/><path d="M512 281.1L527 280.3" stroke="#871830" opacity="0.95"/><path d="M540 196.2L553.4 198.9" stroke="#a92838" opacity="0.95"/><path d="M486 290.9L499.5 291.4" stroke="#82162f" opacity="0.95"/><path d="M498.1 301.5L512.3 303.2" stroke="#961f34" opacity="0.95"/><path d="M496.5 288.8L509.9 289.6" stroke="#881831" opacity="0.95"/><path d="M489.6 280.9L501.9 280.1" stroke="#881831" opacity="0.95"/><path d="M514.3 181.9L526.6 188.1" stroke="#e17e5f" opacity="0.65"/><path d="M550.7 191.9L562.8 192.6" stroke="#871830" opacity="0.95"/><path d="M543.8 172.3L557.6 175" stroke="#a72737" opacity="0.95"/><path d="M556.2 186L566.8 180" stroke="#e78e6f" opacity="0.65"/><path d="M492.2 222.7L505.1 224.6" stroke="#9c2135" opacity="0.95"/><path d="M534.8 285.3L547.1 287.6" stroke="#a62637" opacity="0.95"/><path d="M600.8 203.9L603.5 215.8" stroke="#2d74b4" opacity="0.95"/><path d="M478.2 241.9L492.7 243.7" stroke="#961f34" opacity="0.95"/><path d="M509.8 216L522.4 211.2" stroke="#cd5a4e" opacity="0.65"/><path d="M505.1 198.5L507.6 186.1" stroke="#2b6eae" opacity="0.95"/><path d="M509.5 199.6L521.9 203.3" stroke="#bd3f42" opacity="0.65"/><path d="M477.9 283.9L488.8 274.5" stroke="#f7dbcb" opacity="0.65"/><path d="M470.4 303.5L482.1 297.3" stroke="#e48767" opacity="0.65"/><path d="M617.5 207.4L619.3 194.7" stroke="#2662a2" opacity="0.95"/><path d="M465.8 290.7L479.6 290.1" stroke="#851730" opacity="0.95"/><path d="M512.4 160.9L525.2 159.7" stroke="#901c32" opacity="0.95"/><path d="M466.4 275.9L478.9 282.4" stroke="#e48363" opacity="0.65"/><path d="M467.9 232L478.6 240.8" stroke="#f7d4c0" opacity="0.65"/><path d="M532.4 161.9L542.7 151.8" stroke="#f7f4f2" opacity="0.65"/><path d="M454.4 265.7L468.4 270" stroke="#bf4344" opacity="0.65"/><path d="M495 213.4L507.6 208.9" stroke="#c7514a" opacity="0.65"/><path d="M481.8 253.7L493.9 253.1" stroke="#851730" opacity="0.95"/><path d="M481.2 193.6L493 186.5" stroke="#ea997b" opacity="0.65"/><path d="M452.8 246.6L465.4 242.7" stroke="#bf4344" opacity="0.65"/><path d="M579.5 189.4L584.1 176.7" stroke="#4d92c6" opacity="0.65"/><path d="M554.2 169.9L567.1 169.6" stroke="#7f142f" opacity="0.95"/><path d="M466.2 267.7L479.5 266.9" stroke="#881831" opacity="0.95"/><path d="M447.7 257.8L460.9 257.3" stroke="#82152f" opacity="0.95"/><path d="M487.3 180.9L497.7 175" stroke="#e79173" opacity="0.65"/><path d="M510 177.5L520.7 171.3" stroke="#e99678" opacity="0.65"/><path d="M473 228.3L487.2 227.2" stroke="#8b1a31" opacity="0.95"/><path d="M477.8 210L492 211.3" stroke="#8e1b32" opacity="0.95"/><path d="M547.7 191.2L551.6 177" stroke="#3880bc" opacity="0.95"/><path d="M451.3 282.4L463 277.9" stroke="#ce5c4f" opacity="0.65"/><path d="M468.9 175.3L481.7 177.1" stroke="#9a2034" opacity="0.95"/><path d="M504.4 187.7L510 176.2" stroke="#69acd4" opacity="0.65"/><path d="M497.3 228.9L509.7 236.4" stroke="#eb9c7e" opacity="0.65"/><path d="M594.6 154.3L608.3 154.5" stroke="#7e132e" opacity="0.95"/><path d="M542.6 155.4L553.8 161.6" stroke="#e68d6e" opacity="0.65"/><path d="M577.7 162.9L581.2 176.8" stroke="#327ab9" opacity="0.95"/><path d="M464.9 251.2L478.5 245.8" stroke="#cf5e51" opacity="0.65"/><path d="M615.2 188.8L620.4 176.9" stroke="#5fa3cf" opacity="0.65"/><path d="M457.3 299.1L469.3 298.1" stroke="#8e1b32" opacity="0.95"/><path d="M559.3 157.7L573.1 160.2" stroke="#a42537" opacity="0.95"/><path d="M433.3 261.5L447.4 263.3" stroke="#982034" opacity="0.95"/><path d="M501.8 164.8L513.7 169.3" stroke="#cc594e" opacity="0.65"/><path d="M461.6 187.5L473.5 190.1" stroke="#ad2939" opacity="0.95"/><path d="M482.8 220.2L495.3 219.9" stroke="#7e142f" opacity="0.95"/><path d="M441.9 248L455 246.7" stroke="#901c32" opacity="0.95"/><path d="M463.1 215.6L475.2 216" stroke="#81152f" opacity="0.95"/><path d="M460.5 225.8L474.8 229.2" stroke="#b12b39" opacity="0.95"/><path d="M593.4 176.9L598.7 164.7" stroke="#5ca0cd" opacity="0.65"/><path d="M473.6 262.4L482.6 253.5" stroke="#f7f3f1" opacity="0.65"/><path d="M490.9 198.3L503.1 199.9" stroke="#992034" opacity="0.95"/><path d="M446.8 293.7L461.3 293.5" stroke="#7d132e" opacity="0.95"/><path d="M618.2 178.6L619.5 164.4" stroke="#215797" opacity="0.95"/><path d="M441.6 271.3L456.1 274.8" stroke="#b22d3a" opacity="0.95"/><path d="M450.1 191.1L463.3 192.9" stroke="#9b2135" opacity="0.95"/><path d="M478.3 199.3L490.5 200.8" stroke="#961f34" opacity="0.95"/><path d="M457.1 208.4L457.9 223.2" stroke="#1f5191" opacity="0.95"/><path d="M468.1 205.5L482.2 208.9" stroke="#b12b39" opacity="0.95"/><path d="M447.9 201.2L460.3 203.2" stroke="#a02336" opacity="0.95"/><path d="M451.1 231.4L464.9 234.1" stroke="#a62637" opacity="0.95"/><path d="M486.1 156.7L497.7 159.7" stroke="#b5313c" opacity="0.95"/><path d="M580.3 154.7L594.7 154.1" stroke="#831630" opacity="0.95"/><path d="M468.8 159L480.2 163.6" stroke="#d06051" opacity="0.65"/><path d="M439 215L453.5 216.5" stroke="#921d33" opacity="0.95"/><path d="M476.4 166.8L490.6 169.5" stroke="#a52637" opacity="0.95"/><path d="M567.3 150.9L581.8 153.3" stroke="#a02336" opacity="0.95"/><path d="M431.1 290.1L442.6 296.1" stroke="#e48364" opacity="0.65"/><path d="M612.2 159.3L616.9 146.8" stroke="#4e94c7" opacity="0.65"/><path d="M417.1 282.5L429.8 282.8" stroke="#7e142f" opacity="0.95"/><path d="M448.3 174.5L462.7 176.7" stroke="#9e2235" opacity="0.95"/><path d="M434.2 279.3L448.7 281.5" stroke="#9e2235" opacity="0.95"/><path d="M426.4 247.9L439.7 250.3" stroke="#a42537" opacity="0.95"/><path d="M449.7 158.1L461 153.7" stroke="#ce5d50" opacity="0.65"/><path d="M434.9 233.4L448.3 235.2" stroke="#982034" opacity="0.95"/><path d="M487.8 300.4L502.1 302.8" stroke="#a12436" opacity="0.95"/><path d="M457.3 168L469.5 169.1" stroke="#901c32" opacity="0.95"/><path d="M432.3 195.2L444.1 197.8" stroke="#ad2a39" opacity="0.95"/><path d="M406.3 283.8L420.6 285.6" stroke="#971f34" opacity="0.95"/><path d="M395.5 293.3L407.2 289.3" stroke="#c54d49" opacity="0.65"/><path d="M427.1 221.7L436.4 212" stroke="#eef2f5" opacity="0.65"/><path d="M406.7 294.5L420.4 295.5" stroke="#8a1931" opacity="0.95"/><path d="M495.7 157.4L508.9 157.4" stroke="#7a122e" opacity="0.95"/><path d="M421.4 270.6L435.1 271.7" stroke="#8d1a32" opacity="0.95"/><path d="M416.7 231.2L429.2 231.3" stroke="#7c122e" opacity="0.95"/><path d="M419.6 300L432.6 305" stroke="#cd5a4e" opacity="0.65"/><path d="M405 222.1L416.5 215" stroke="#eca183" opacity="0.65"/><path d="M386.9 220.3L398.6 216.6" stroke="#c14645" opacity="0.65"/><path d="M441.3 180.5L450.6 189.3" stroke="#f7ece7" opacity="0.65"/><path d="M443.8 170.1L452.2 159.6" stroke="#cae2ed" opacity="0.65"/><path d="M375.2 202.4L386.4 209.1" stroke="#ea997b" opacity="0.65"/><path d="M396 209.6L405.1 199.4" stroke="#deebf1" opacity="0.65"/><path d="M458.4 202.6L473 202.8" stroke="#7d132e" opacity="0.95"/><path d="M414.7 263L426.7 263.3" stroke="#80152f" opacity="0.95"/><path d="M423.1 189.7L436.2 182.7" stroke="#e58868" opacity="0.65"/><path d="M410.6 247.3L422.9 240.6" stroke="#e68b6b" opacity="0.65"/><path d="M397 248.6L411 249.6" stroke="#8a1931" opacity="0.95"/><path d="M396.4 237.1L410.8 240.1" stroke="#ac2938" opacity="0.95"/><path d="M434.4 180.5L442.6 170.8" stroke="#d2e5ef" opacity="0.65"/><path d="M414.6 203L428.1 202" stroke="#8a1931" opacity="0.95"/><path d="M430.2 167.4L442.4 163.2" stroke="#c54d49" opacity="0.65"/><path d="M403.2 258.6L416.5 260.3" stroke="#971f34" opacity="0.95"/><path d="M393.5 278.6L405.8 279.1" stroke="#83162f" opacity="0.95"/><path d="M404.7 270.6L418.8 273.8" stroke="#b02b39" opacity="0.95"/><path d="M415.4 174.1L426.9 179.6" stroke="#dc755b" opacity="0.65"/><path d="M386.3 227.7L399.1 230.1" stroke="#a62637" opacity="0.95"/><path d="M437.7 204.2L450.4 207.2" stroke="#b22c3a" opacity="0.95"/><path d="M386.4 270.8L388 257.2" stroke="#245f9f" opacity="0.95"/><path d="M379.9 291.1L394 292.1" stroke="#891931" opacity="0.95"/><path d="M394.2 267.8L407.7 263.7" stroke="#bd4043" opacity="0.65"/><path d="M614.3 215.9L618.5 230.1" stroke="#3d84be" opacity="0.65"/><path d="M398.6 225.9L412.6 230.1" stroke="#bd3f42" opacity="0.65"/><path d="M403.5 201.2L417.5 203.1" stroke="#9a2034" opacity="0.95"/><path d="M399.1 188.7L413.3 190.2" stroke="#921d33" opacity="0.95"/><path d="M410.5 196.6L422.2 190.1" stroke="#e78e6f" opacity="0.65"/><path d="M394.2 308.3L396 294.4" stroke="#2560a0" opacity="0.95"/><path d="M375.2 190.2L388.1 192.5" stroke="#a42537" opacity="0.95"/><path d="M377.2 181.6L390.1 175.9" stroke="#d76c57" opacity="0.65"/><path d="M375.8 223.4L388.3 225.4" stroke="#a02336" opacity="0.95"/><path d="M386.4 268.5L389.7 282.2" stroke="#2f78b8" opacity="0.95"/><path d="M388.3 192.9L402.4 194.2" stroke="#901c32" opacity="0.95"/><path d="M388.2 184.1L399.8 180.2" stroke="#c44b48" opacity="0.65"/><path d="M371.8 228.4L380.3 237" stroke="#f4f5f6" opacity="0.65"/><path d="M413.7 159.7L427.9 160.6" stroke="#881831" opacity="0.95"/><path d="M395.3 154.5L407.8 155.2" stroke="#871830" opacity="0.95"/><path d="M399.8 180.4L411.6 173.7" stroke="#e79173" opacity="0.65"/><path d="M380.7 261.5L383.1 246.8" stroke="#2868a8" opacity="0.95"/><path d="M380 242.3L393.6 246.6" stroke="#c14645" opacity="0.65"/><path d="M404 165.1L416.1 164.6" stroke="#841730" opacity="0.95"/><path d="M368.9 274.3L381.7 276" stroke="#9a2034" opacity="0.95"/><path d="M394.4 263.3L394.9 249.1" stroke="#1d4c8c" opacity="0.95"/><path d="M382.3 164.2L395.3 163.3" stroke="#8b1a31" opacity="0.95"/><path d="M371.2 285.6L384.2 284.8" stroke="#881831" opacity="0.95"/><path d="M390.1 170L401.9 172.5" stroke="#ab2838" opacity="0.95"/></g>
</g>
<rect x="547.5" y="161.7" width="65.5" height="18" fill="#fff"/>
<text x="611" y="177.2" font-size="13.8" text-anchor="end" fill="#000">t = 30 min</text>
<text x="386" y="182" font-size="25" text-anchor="start" fill="#000">(g)</text>
<rect x="291" y="166.3" width="43.3" height="131.3" fill="none" stroke="#555" stroke-width="0.8"/><path d="M312.6 297.6v-2M312.6 166.3v2M291 222.4h2M334.3 222.4h-2M291 278.5h2M334.3 278.5h-2" stroke="#555" stroke-width="0.8" fill="none"/>
<path d="M312.6 166.3V297.6" stroke="#333" stroke-width="1" stroke-dasharray="2.5 2"/>
<path d="M302.3 178.9L322.6 191.5L320.4 204.2L311.4 216.8L317 229.4L314.8 242L310.9 254.7L308.8 267.3L308.3 279.9L308.3 292.5" fill="none" stroke="#3d8fd1" stroke-width="1"/>
<g fill="#eeeeee" stroke="#3d8fd1" stroke-width="1"><circle cx="302.3" cy="178.9" r="3.5"/><circle cx="322.6" cy="191.5" r="3.5"/><circle cx="320.4" cy="204.2" r="3.5"/><circle cx="311.4" cy="216.8" r="3.5"/><circle cx="317" cy="229.4" r="3.5"/><circle cx="314.8" cy="242" r="3.5"/><circle cx="310.9" cy="254.7" r="3.5"/><circle cx="308.8" cy="267.3" r="3.5"/><circle cx="308.3" cy="279.9" r="3.5"/><circle cx="308.3" cy="292.5" r="3.5"/></g>
<text x="287" y="163.8" font-size="11" text-anchor="end" fill="#262626" transform="rotate(90 287 163.8)">0</text>
<text x="308.6" y="163.8" font-size="11" text-anchor="end" fill="#262626" transform="rotate(90 308.6 163.8)">0.5</text>
<text x="330.3" y="163.8" font-size="11" text-anchor="end" fill="#262626" transform="rotate(90 330.3 163.8)">1</text>
<text x="277.5" y="166.3" font-size="11" text-anchor="middle" fill="#262626" transform="rotate(90 277.5 166.3)">0</text>
<text x="277.5" y="222.4" font-size="11" text-anchor="middle" fill="#262626" transform="rotate(90 277.5 222.4)">30</text>
<text x="277.5" y="278.5" font-size="11" text-anchor="middle" fill="#262626" transform="rotate(90 277.5 278.5)">60</text>
<text x="306.8" y="184.3" font-size="24.5" text-anchor="start" fill="#000">(e)</text>
<rect x="631.4" y="166" width="43" height="130" fill="none" stroke="#555" stroke-width="0.8"/><path d="M652.9 296v-2M652.9 166v2M631.4 222.1h2M674.4 222.1h-2M631.4 278.2h2M674.4 278.2h-2" stroke="#555" stroke-width="0.8" fill="none"/>
<path d="M652.9 166V296" stroke="#333" stroke-width="1" stroke-dasharray="2.5 2"/>
<path d="M636.6 178.6L666.7 191.2L666.7 203.9L666.7 216.5L660.2 229.1L667.1 241.7L658.9 254.4L655 267L656.3 279.6L650.8 292.2" fill="none" stroke="#3d8fd1" stroke-width="1"/>
<g fill="#eeeeee" stroke="#3d8fd1" stroke-width="1"><circle cx="636.6" cy="178.6" r="3.5"/><circle cx="666.7" cy="191.2" r="3.5"/><circle cx="666.7" cy="203.9" r="3.5"/><circle cx="666.7" cy="216.5" r="3.5"/><circle cx="660.2" cy="229.1" r="3.5"/><circle cx="667.1" cy="241.7" r="3.5"/><circle cx="658.9" cy="254.4" r="3.5"/><circle cx="655" cy="267" r="3.5"/><circle cx="656.3" cy="279.6" r="3.5"/><circle cx="650.8" cy="292.2" r="3.5"/></g>
<text x="627.4" y="163.5" font-size="11" text-anchor="end" fill="#262626" transform="rotate(90 627.4 163.5)">0</text>
<text x="648.9" y="163.5" font-size="11" text-anchor="end" fill="#262626" transform="rotate(90 648.9 163.5)">0.5</text>
<text x="670.4" y="163.5" font-size="11" text-anchor="end" fill="#262626" transform="rotate(90 670.4 163.5)">1</text>
<text x="617.9" y="166" font-size="11" text-anchor="middle" fill="#262626" transform="rotate(90 617.9 166)">0</text>
<text x="617.9" y="222.1" font-size="11" text-anchor="middle" fill="#262626" transform="rotate(90 617.9 222.1)">30</text>
<text x="617.9" y="278.2" font-size="11" text-anchor="middle" fill="#262626" transform="rotate(90 617.9 278.2)">60</text>
<text x="651.4" y="180.5" font-size="24.5" text-anchor="start" fill="#000">(h)</text>
<rect x="48" y="302" width="225.8" height="69.5" fill="none" stroke="#262626" stroke-width="0.9"/><path d="M48 371.5v-2.2M48 302v2.2M150.6 371.5v-2.2M150.6 302v2.2M253.3 371.5v-2.2M253.3 302v2.2M48 368.8h2.2M273.8 368.8h-2.2M48 336.4h2.2M273.8 336.4h-2.2M48 303.9h2.2M273.8 303.9h-2.2" stroke="#262626" stroke-width="0.9" fill="none"/>
<path d="M48 336.4H273.8" stroke="#333" stroke-width="1.2" stroke-dasharray="3 2.5"/>
<path d="M71.6 340.9L95.2 324L118.8 333.1L142.4 333.1L166 339.6L189.6 340.2L213.2 351.3L236.9 357.8L260.5 366.9" fill="none" stroke="#ff2ec4" stroke-width="1.1"/>
<g fill="#e8e8e8" stroke="#ff2ec4" stroke-width="1"><rect x="67.6" y="336.9" width="8" height="8"/><rect x="91.2" y="320" width="8" height="8"/><rect x="114.8" y="329.1" width="8" height="8"/><rect x="138.4" y="329.1" width="8" height="8"/><rect x="162" y="335.6" width="8" height="8"/><rect x="185.6" y="336.2" width="8" height="8"/><rect x="209.2" y="347.3" width="8" height="8"/><rect x="232.9" y="353.8" width="8" height="8"/><rect x="256.5" y="362.9" width="8" height="8"/></g>
<text x="48" y="388.5" font-size="12.5" text-anchor="middle" fill="#262626">0</text>
<text x="150.6" y="388.5" font-size="12.5" text-anchor="middle" fill="#262626">50</text>
<text x="253.3" y="388.5" font-size="12.5" text-anchor="middle" fill="#262626">100</text>
<text x="158.2" y="406.5" font-size="14" text-anchor="middle" fill="#262626">Anteroposterior (<tspan font-family='"Liberation Serif", serif' font-style="italic">&#956;m</tspan>)</text>
<text x="264.8" y="320.5" font-size="13.8" text-anchor="end" fill="#000">t = 15-20 min</text>
<text x="49.5" y="324" font-size="24.5" text-anchor="start" fill="#000">(f)</text>
<text x="277" y="308" font-size="12" text-anchor="start" fill="#262626">1</text>
<text x="277" y="339" font-size="12" text-anchor="start" fill="#262626">0.5</text>
<text x="277" y="373" font-size="12" text-anchor="start" fill="#262626">0</text>
<text x="302.5" y="334.7" font-size="13.5" text-anchor="middle" fill="#262626" transform="rotate(90 302.5 334.7)">S</text>
<rect x="386.6" y="302.2" width="226.1" height="68.3" fill="none" stroke="#262626" stroke-width="0.9"/><path d="M386.6 370.5v-2.2M386.6 302.2v2.2M489.4 370.5v-2.2M489.4 302.2v2.2M592.1 370.5v-2.2M592.1 302.2v2.2M386.6 370.5h2.2M612.7 370.5h-2.2M386.6 336.4h2.2M612.7 336.4h-2.2M386.6 302.2h2.2M612.7 302.2h-2.2" stroke="#262626" stroke-width="0.9" fill="none"/>
<path d="M386.6 336.4H612.7" stroke="#333" stroke-width="1.2" stroke-dasharray="3 2.5"/>
<path d="M410.2 347.3L433.9 313.1L457.5 318.6L481.2 314.5L504.8 332.9L528.4 332.9L552.1 339.1L575.7 328.8L599.3 356.8" fill="none" stroke="#ff2ec4" stroke-width="1.1"/>
<g fill="#e8e8e8" stroke="#ff2ec4" stroke-width="1"><rect x="406.2" y="343.3" width="8" height="8"/><rect x="429.9" y="309.1" width="8" height="8"/><rect x="453.5" y="314.6" width="8" height="8"/><rect x="477.2" y="310.5" width="8" height="8"/><rect x="500.8" y="328.9" width="8" height="8"/><rect x="524.4" y="328.9" width="8" height="8"/><rect x="548.1" y="335.1" width="8" height="8"/><rect x="571.7" y="324.8" width="8" height="8"/><rect x="595.3" y="352.8" width="8" height="8"/></g>
<text x="386.6" y="387.5" font-size="12.5" text-anchor="middle" fill="#262626">0</text>
<text x="489.4" y="387.5" font-size="12.5" text-anchor="middle" fill="#262626">50</text>
<text x="592.1" y="387.5" font-size="12.5" text-anchor="middle" fill="#262626">100</text>
<text x="505.2" y="405.5" font-size="14" text-anchor="middle" fill="#262626">Anteroposterior (<tspan font-family='"Liberation Serif", serif' font-style="italic">&#956;m</tspan>)</text>
<text x="603.7" y="320.7" font-size="13.8" text-anchor="end" fill="#000">t = 25-30 min</text>
<text x="388.1" y="324.2" font-size="24.5" text-anchor="start" fill="#000">(i)</text>
<text x="383" y="307" font-size="12" text-anchor="end" fill="#262626">1</text>
<text x="383" y="340.5" font-size="12" text-anchor="end" fill="#262626">0.5</text>
<text x="383" y="374.5" font-size="12" text-anchor="end" fill="#262626">0</text>
<text x="355.5" y="336.5" font-size="13.5" text-anchor="middle" fill="#262626" transform="rotate(-90 355.5 336.5)">S</text>
<text x="0" y="0" font-size="13.8" text-anchor="middle" fill="#262626" transform="translate(355 231.5) rotate(-90)">Dorsal-ventral (<tspan font-family='"Liberation Serif", serif' font-style="italic">&#956;m</tspan>)</text>
<path d="M59.6 588.8 63.1 595.4 66.6 584.5 70.1 567.4 73.7 569.3 77.2 566.5 80.7 563.6 84.2 563.4 87.7 555.9 91.2 548.8 94.8 554.7 98.3 556.2 101.8 553.6 105.3 553.4 108.8 551.8 112.3 553.8 115.9 554 119.4 548.8 122.9 551.3 126.4 548.7 129.9 543.4 133.4 547.1 137 551.6 140.5 544.9 144 539.9 147.5 538.3 151 532.7 154.5 530 158 525.7 161.6 518.3 165.1 517.5 168.6 510.9 172.1 508.8 175.6 504.9 179.1 502.2 182.7 499.7 186.2 494.4 189.7 487.3 193.2 482 196.7 483.1 200.2 485.4 203.8 480.2 207.3 481.7 210.8 480.6 214.3 478.3 217.8 477.6 221.3 475.7 224.9 469.2 228.4 462.6 231.9 465.4 235.4 463.2 238.9 460 242.4 458.8 245.9 457.9 249.5 456.1 253 455.1 256.5 452.7 260 452.2 263.5 455.4 267 459.9 270.6 462.6 274.1 467.3 277.6 468.8 281.1 467 284.6 461.3 288.1 468.6 291.7 470.7 295.2 467.4 298.7 466.3 302.2 466.9 305.7 463.1 309.2 462.5 312.8 464 316.3 463 319.8 458.7 323.3 462 323.3 485 319.8 482.2 316.3 484.2 312.8 485.1 309.2 480.4 305.7 480 302.2 486.3 298.7 488.1 295.2 490.2 291.7 491.9 288.1 486.8 284.6 484.5 281.1 484.3 277.6 486.4 274.1 487.3 270.6 485.2 267 476.5 263.5 471 260 471.9 256.5 471.8 253 470.7 249.5 475.4 245.9 480.9 242.4 480.6 238.9 479.8 235.4 480.8 231.9 485.6 228.4 492.2 224.9 491.4 221.3 491.7 217.8 497.6 214.3 497.6 210.8 496.9 207.3 501.3 203.8 499.3 200.2 502.8 196.7 504.1 193.2 501.8 189.7 508.7 186.2 513.4 182.7 515.1 179.1 518.3 175.6 522.2 172.1 525.1 168.6 527.5 165.1 534.7 161.6 537 158 547.9 154.5 552.3 151 555 147.5 560.2 144 560.3 140.5 566.2 137 570.7 133.4 563.5 129.9 563.2 126.4 569.4 122.9 569.5 119.4 571.3 115.9 574.3 112.3 572.5 108.8 574.8 105.3 573.8 101.8 574 98.3 574.1 94.8 574.2 91.2 584 87.7 583 84.2 588.1 80.7 588.6 77.2 595.5 73.7 594.9 70.1 603.8 66.6 610.1 63.1 621.7 59.6 618.9Z" fill="#c8c8c8" stroke="#333" stroke-width="0.6"/>
<g fill="#eeb022" stroke="#b8860b" stroke-width="0.7"><circle cx="59.6" cy="605.8" r="4.6"/><circle cx="63.1" cy="608" r="4.6"/><circle cx="66.6" cy="597.7" r="4.6"/><circle cx="70.1" cy="587" r="4.6"/><circle cx="73.7" cy="581" r="4.6"/><circle cx="77.2" cy="579.2" r="4.6"/><circle cx="80.7" cy="576.9" r="4.6"/><circle cx="84.2" cy="576.1" r="4.6"/><circle cx="87.7" cy="568.9" r="4.6"/><circle cx="91.2" cy="563.7" r="4.6"/><circle cx="94.8" cy="564.9" r="4.6"/><circle cx="98.3" cy="565.2" r="4.6"/><circle cx="101.8" cy="563.2" r="4.6"/><circle cx="105.3" cy="562.6" r="4.6"/><circle cx="108.8" cy="563.3" r="4.6"/><circle cx="112.3" cy="564.7" r="4.6"/><circle cx="115.9" cy="563.7" r="4.6"/><circle cx="119.4" cy="561" r="4.6"/><circle cx="122.9" cy="558.9" r="4.6"/><circle cx="126.4" cy="558.3" r="4.6"/><circle cx="129.9" cy="554.2" r="4.6"/><circle cx="133.4" cy="555.5" r="4.6"/><circle cx="137" cy="561.3" r="4.6"/><circle cx="140.5" cy="557.1" r="4.6"/><circle cx="144" cy="549.3" r="4.6"/><circle cx="147.5" cy="546" r="4.6"/><circle cx="151" cy="542.5" r="4.6"/><circle cx="154.5" cy="539.4" r="4.6"/><circle cx="158" cy="533.7" r="4.6"/><circle cx="161.6" cy="527.5" r="4.6"/><circle cx="165.1" cy="525.6" r="4.6"/><circle cx="168.6" cy="519.9" r="4.6"/><circle cx="172.1" cy="516.9" r="4.6"/><circle cx="175.6" cy="513.5" r="4.6"/><circle cx="179.1" cy="510" r="4.6"/><circle cx="182.7" cy="507.4" r="4.6"/><circle cx="186.2" cy="502.8" r="4.6"/><circle cx="189.7" cy="499" r="4.6"/><circle cx="193.2" cy="494.2" r="4.6"/><circle cx="196.7" cy="494.5" r="4.6"/><circle cx="200.2" cy="493.6" r="4.6"/><circle cx="203.8" cy="491.4" r="4.6"/><circle cx="207.3" cy="489.7" r="4.6"/><circle cx="210.8" cy="488.4" r="4.6"/><circle cx="214.3" cy="489.1" r="4.6"/><circle cx="217.8" cy="488.3" r="4.6"/><circle cx="221.3" cy="483.8" r="4.6"/><circle cx="224.9" cy="477.1" r="4.6"/><circle cx="228.4" cy="475.2" r="4.6"/><circle cx="231.9" cy="476.5" r="4.6"/><circle cx="235.4" cy="472.5" r="4.6"/><circle cx="238.9" cy="469.6" r="4.6"/><circle cx="242.4" cy="469.6" r="4.6"/><circle cx="245.9" cy="467.1" r="4.6"/><circle cx="249.5" cy="464.8" r="4.6"/><circle cx="253" cy="463" r="4.6"/><circle cx="256.5" cy="463.8" r="4.6"/><circle cx="260" cy="462.2" r="4.6"/><circle cx="263.5" cy="463.3" r="4.6"/><circle cx="267" cy="468.5" r="4.6"/><circle cx="270.6" cy="474.9" r="4.6"/><circle cx="274.1" cy="478.7" r="4.6"/><circle cx="277.6" cy="478.7" r="4.6"/><circle cx="281.1" cy="474.7" r="4.6"/><circle cx="284.6" cy="475.3" r="4.6"/><circle cx="288.1" cy="478.6" r="4.6"/><circle cx="291.7" cy="479.8" r="4.6"/><circle cx="295.2" cy="479.6" r="4.6"/><circle cx="298.7" cy="477.1" r="4.6"/><circle cx="302.2" cy="475.7" r="4.6"/><circle cx="305.7" cy="472.1" r="4.6"/><circle cx="309.2" cy="471.4" r="4.6"/><circle cx="312.8" cy="473.3" r="4.6"/><circle cx="316.3" cy="471.6" r="4.6"/><circle cx="319.8" cy="470.3" r="4.6"/><circle cx="323.3" cy="472.5" r="4.6"/></g>
<path d="M139.3 564.3L142.2 556.5L145.2 549.5L148.1 543.3L151 537.6L153.9 532.5L156.9 527.9L159.8 523.8L162.7 519.9L165.7 516.4L168.6 513.3L171.5 510.3L174.5 507.6L177.4 505.1L180.3 502.8L183.2 500.7L186.2 498.7L189.1 496.9L192 495.2L195 493.6L197.9 492.1L200.8 490.7L203.8 489.4L206.7 488.2L209.6 487L212.5 485.9L215.5 484.9L218.4 484L221.3 483.1L224.3 482.2L227.2 481.4L230.1 480.7L233.1 479.9L236 479.3L238.9 478.6L241.8 478L244.8 477.4L247.7 476.9L250.6 476.3L253.6 475.8L256.5 475.3L259.4 474.9L262.4 474.4L265.3 474L268.2 473.6L271.1 473.2L274.1 472.9L277 472.5L279.9 472.2L282.9 471.9L285.8 471.6L288.7 471.3L291.7 471L294.6 470.7L297.5 470.4L300.4 470.2L303.4 469.9L306.3 469.7L309.2 469.5L312.2 469.3L315.1 469.1L318 468.9L321 468.7L323.9 468.5" fill="none" stroke="#0f6bb0" stroke-width="4"/>
<rect x="59.6" y="427.4" width="265.9" height="200.4" fill="none" stroke="#262626" stroke-width="1"/><path d="M59.6 627.8v-3M59.6 427.4v3M118.2 627.8v-3M118.2 427.4v3M176.8 627.8v-3M176.8 427.4v3M235.4 627.8v-3M235.4 427.4v3M294 627.8v-3M294 427.4v3M59.6 627.8h3M325.5 627.8h-3M59.6 594.4h3M325.5 594.4h-3M59.6 561h3M325.5 561h-3M59.6 527.6h3M325.5 527.6h-3M59.6 494.2h3M325.5 494.2h-3M59.6 460.8h3M325.5 460.8h-3M59.6 427.4h3M325.5 427.4h-3" stroke="#262626" stroke-width="1" fill="none"/>
<text x="59.6" y="644.8" font-size="13.5" text-anchor="middle" fill="#262626">0</text>
<text x="118.2" y="644.8" font-size="13.5" text-anchor="middle" fill="#262626">10</text>
<text x="176.8" y="644.8" font-size="13.5" text-anchor="middle" fill="#262626">20</text>
<text x="235.4" y="644.8" font-size="13.5" text-anchor="middle" fill="#262626">30</text>
<text x="294" y="644.8" font-size="13.5" text-anchor="middle" fill="#262626">40</text>
<text x="53.6" y="632.8" font-size="13.5" text-anchor="end" fill="#262626">-0.2</text>
<text x="53.6" y="599.4" font-size="13.5" text-anchor="end" fill="#262626">0</text>
<text x="53.6" y="566" font-size="13.5" text-anchor="end" fill="#262626">0.2</text>
<text x="53.6" y="532.6" font-size="13.5" text-anchor="end" fill="#262626">0.4</text>
<text x="53.6" y="499.2" font-size="13.5" text-anchor="end" fill="#262626">0.6</text>
<text x="53.6" y="465.8" font-size="13.5" text-anchor="end" fill="#262626">0.8</text>
<text x="53.6" y="432.4" font-size="13.5" text-anchor="end" fill="#262626">1</text>
<text x="192.5" y="665" font-size="15.5" text-anchor="middle" fill="#262626">t (min)</text>
<text x="23" y="529" font-size="15" text-anchor="middle" fill="#262626" transform="rotate(-90 23 529)">S(t)</text>
<text x="6.5" y="428" font-size="25.5" text-anchor="start" fill="#000">(j)</text>
<text x="75" y="617.5" font-size="10.5" fill="#1f5f9f" font-family='"Liberation Serif", serif'><tspan font-style="italic">S</tspan>(<tspan font-style="italic">t</tspan>) = 0.80 &#8722; 178.6<tspan font-style="italic">t</tspan><tspan dy="-4" font-size="6.5">&#8722;2.17</tspan></text>
<rect x="206.2" y="526.2" width="96.5" height="77.1" fill="#fff"/>
<path d="M206.2 581.6 207.6 585.7 208.9 586.8 210.3 587.9 211.7 592.2 213.1 593.1 214.4 591.4 215.8 591.6 217.2 591.9 218.6 591.3 219.9 592 221.3 592.4 222.7 592.6 224 592.3 225.4 595 226.8 594.6 228.2 592.6 229.5 592.5 230.9 591.7 232.3 594.6 233.6 594.2 235 594.3 236.4 597.2 237.8 595 239.1 593 240.5 591.1 241.9 590.2 243.3 588.6 244.6 588.7 246 587.3 247.4 581.2 248.7 582.1 250.1 583.3 251.5 578.6 252.9 577.3 254.2 575.4 255.6 572.3 257 570.5 258.4 568.7 259.7 568 261.1 565.6 262.5 555.2 263.8 547.3 265.2 540.8 266.6 536.9 268 537.6 269.3 536.9 270.7 535.7 272.1 534.5 273.5 535.6 274.8 533.4 276.2 531.8 277.6 533.4 278.9 533.2 280.3 531.7 281.7 532.3 283.1 533.7 284.4 532.8 285.8 533.4 287.2 533.3 288.6 531.3 289.9 533.1 291.3 534.1 292.7 529.7 294 530.6 295.4 533.3 296.8 531.1 298.2 530.5 299.5 529.6 300.9 528.9 302.3 528.2 302.3 536.1 300.9 536.8 299.5 537.5 298.2 538.4 296.8 539 295.4 541.2 294 538.5 292.7 537.6 291.3 542 289.9 541 288.6 539.2 287.2 541.2 285.8 541.3 284.4 540.7 283.1 541.6 281.7 540.2 280.3 539.6 278.9 541.1 277.6 541.2 276.2 539.7 274.8 541.3 273.5 543.5 272.1 542.4 270.7 543.6 269.3 544.8 268 545.5 266.6 544.8 265.2 548.7 263.8 555.2 262.5 563.1 261.1 573.5 259.7 575.9 258.4 576.6 257 578.4 255.6 580.2 254.2 583.3 252.9 585.2 251.5 586.5 250.1 591.2 248.7 590 247.4 589.1 246 595.2 244.6 596.6 243.3 596.5 241.9 598.1 240.5 599 239.1 600.9 237.8 602.9 236.4 605.1 235 602.2 233.6 602.1 232.3 602.5 230.9 599.6 229.5 600.4 228.2 600.5 226.8 602.5 225.4 602.9 224 600.2 222.7 600.5 221.3 600.3 219.9 599.9 218.6 599.2 217.2 599.8 215.8 599.5 214.4 599.3 213.1 601 211.7 600.1 210.3 595.8 208.9 594.7 207.6 593.6 206.2 589.5Z" fill="#c0c0c0" stroke="#444" stroke-width="0.5"/>
<path d="M206.2 585.5L207.6 589.7L208.9 590.8L210.3 591.9L211.7 596.1L213.1 597L214.4 595.4L215.8 595.5L217.2 595.8L218.6 595.2L219.9 595.9L221.3 596.3L222.7 596.5L224 596.2L225.4 598.9L226.8 598.6L228.2 596.5L229.5 596.5L230.9 595.6L232.3 598.5L233.6 598.2L235 598.3L236.4 601.2L237.8 598.9L239.1 597L240.5 595L241.9 594.1L243.3 592.6L244.6 592.6L246 591.3L247.4 585.1L248.7 586.1L250.1 587.2L251.5 582.5L252.9 581.3L254.2 579.4L255.6 576.2L257 574.4L258.4 572.6L259.7 572L261.1 569.5L262.5 559.2L263.8 551.2L265.2 544.8L266.6 540.9L268 541.6L269.3 540.8L270.7 539.6L272.1 538.5L273.5 539.6L274.8 537.3L276.2 535.8L277.6 537.3L278.9 537.1L280.3 535.6L281.7 536.2L283.1 537.7L284.4 536.8L285.8 537.3L287.2 537.2L288.6 535.3L289.9 537L291.3 538.1L292.7 533.6L294 534.6L295.4 537.2L296.8 535.1L298.2 534.4L299.5 533.5L300.9 532.8L302.3 532.2" fill="none" stroke="#2a9df4" stroke-width="1"/>
<g fill="#2a9df4"><circle cx="206.2" cy="585.5" r="1.9"/><circle cx="207.6" cy="589.7" r="1.9"/><circle cx="208.9" cy="590.8" r="1.9"/><circle cx="210.3" cy="591.9" r="1.9"/><circle cx="211.7" cy="596.1" r="1.9"/><circle cx="213.1" cy="597" r="1.9"/><circle cx="214.4" cy="595.4" r="1.9"/><circle cx="215.8" cy="595.5" r="1.9"/><circle cx="217.2" cy="595.8" r="1.9"/><circle cx="218.6" cy="595.2" r="1.9"/><circle cx="219.9" cy="595.9" r="1.9"/><circle cx="221.3" cy="596.3" r="1.9"/><circle cx="222.7" cy="596.5" r="1.9"/><circle cx="224" cy="596.2" r="1.9"/><circle cx="225.4" cy="598.9" r="1.9"/><circle cx="226.8" cy="598.6" r="1.9"/><circle cx="228.2" cy="596.5" r="1.9"/><circle cx="229.5" cy="596.5" r="1.9"/><circle cx="230.9" cy="595.6" r="1.9"/><circle cx="232.3" cy="598.5" r="1.9"/><circle cx="233.6" cy="598.2" r="1.9"/><circle cx="235" cy="598.3" r="1.9"/><circle cx="236.4" cy="601.2" r="1.9"/><circle cx="237.8" cy="598.9" r="1.9"/><circle cx="239.1" cy="597" r="1.9"/><circle cx="240.5" cy="595" r="1.9"/><circle cx="241.9" cy="594.1" r="1.9"/><circle cx="243.3" cy="592.6" r="1.9"/><circle cx="244.6" cy="592.6" r="1.9"/><circle cx="246" cy="591.3" r="1.9"/><circle cx="247.4" cy="585.1" r="1.9"/><circle cx="248.7" cy="586.1" r="1.9"/><circle cx="250.1" cy="587.2" r="1.9"/><circle cx="251.5" cy="582.5" r="1.9"/><circle cx="252.9" cy="581.3" r="1.9"/><circle cx="254.2" cy="579.4" r="1.9"/><circle cx="255.6" cy="576.2" r="1.9"/><circle cx="257" cy="574.4" r="1.9"/><circle cx="258.4" cy="572.6" r="1.9"/><circle cx="259.7" cy="572" r="1.9"/><circle cx="261.1" cy="569.5" r="1.9"/><circle cx="262.5" cy="559.2" r="1.9"/><circle cx="263.8" cy="551.2" r="1.9"/><circle cx="265.2" cy="544.8" r="1.9"/><circle cx="266.6" cy="540.9" r="1.9"/><circle cx="268" cy="541.6" r="1.9"/><circle cx="269.3" cy="540.8" r="1.9"/><circle cx="270.7" cy="539.6" r="1.9"/><circle cx="272.1" cy="538.5" r="1.9"/><circle cx="273.5" cy="539.6" r="1.9"/><circle cx="274.8" cy="537.3" r="1.9"/><circle cx="276.2" cy="535.8" r="1.9"/><circle cx="277.6" cy="537.3" r="1.9"/><circle cx="278.9" cy="537.1" r="1.9"/><circle cx="280.3" cy="535.6" r="1.9"/><circle cx="281.7" cy="536.2" r="1.9"/><circle cx="283.1" cy="537.7" r="1.9"/><circle cx="284.4" cy="536.8" r="1.9"/><circle cx="285.8" cy="537.3" r="1.9"/><circle cx="287.2" cy="537.2" r="1.9"/><circle cx="288.6" cy="535.3" r="1.9"/><circle cx="289.9" cy="537" r="1.9"/><circle cx="291.3" cy="538.1" r="1.9"/><circle cx="292.7" cy="533.6" r="1.9"/><circle cx="294" cy="534.6" r="1.9"/><circle cx="295.4" cy="537.2" r="1.9"/><circle cx="296.8" cy="535.1" r="1.9"/><circle cx="298.2" cy="534.4" r="1.9"/><circle cx="299.5" cy="533.5" r="1.9"/><circle cx="300.9" cy="532.8" r="1.9"/><circle cx="302.3" cy="532.2" r="1.9"/></g>
<path d="M206.2 585.2 207.6 585.6 208.9 585.5 210.3 586.4 211.7 587 213.1 585.6 214.4 584.5 215.8 582.3 217.2 580.1 218.6 578.5 219.9 577.8 221.3 576 222.7 573.8 224 573.6 225.4 572.8 226.8 571.6 228.2 570.7 229.5 569.2 230.9 568.7 232.3 567.6 233.6 566.4 235 564.9 236.4 562.7 237.8 561.3 239.1 559.8 240.5 557.9 241.9 556 243.3 554.8 244.6 554.4 246 553.6 247.4 551.8 248.7 551.3 250.1 552.4 251.5 553.5 252.9 552.4 254.2 550.8 255.6 550.7 257 549.7 258.4 548.4 259.7 547.6 261.1 546.4 262.5 544.5 263.8 542.9 265.2 540.2 266.6 537.6 268 538.8 269.3 539.3 270.7 539.5 272.1 539.2 273.5 540.9 274.8 542.8 276.2 543.4 277.6 544.5 278.9 544.6 280.3 545.5 281.7 545.5 283.1 545.1 284.4 545 285.8 545.1 287.2 545 288.6 544.8 289.9 545.3 291.3 545.8 292.7 546.4 294 546.5 295.4 545.9 296.8 546 298.2 546.6 299.5 545.9 300.9 545.7 302.3 546.5 302.3 551.9 300.9 551.1 299.5 551.3 298.2 552 296.8 551.4 295.4 551.3 294 551.9 292.7 551.8 291.3 551.2 289.9 550.7 288.6 550.2 287.2 550.4 285.8 550.5 284.4 550.4 283.1 550.5 281.7 550.9 280.3 550.9 278.9 550 277.6 549.9 276.2 548.8 274.8 548.2 273.5 546.3 272.1 544.6 270.7 544.9 269.3 544.7 268 544.2 266.6 543 265.2 545.6 263.8 548.3 262.5 549.9 261.1 551.8 259.7 553 258.4 553.8 257 555.1 255.6 556.1 254.2 556.1 252.9 557.8 251.5 558.9 250.1 557.8 248.7 556.7 247.4 557.1 246 559 244.6 559.8 243.3 560.2 241.9 561.4 240.5 563.3 239.1 565.2 237.8 566.7 236.4 568.1 235 570.3 233.6 571.8 232.3 573 230.9 574.1 229.5 574.6 228.2 576.1 226.8 577 225.4 578.2 224 579 222.7 579.2 221.3 581.4 219.9 583.2 218.6 583.9 217.2 585.5 215.8 587.7 214.4 589.9 213.1 591 211.7 592.4 210.3 591.8 208.9 590.9 207.6 591 206.2 590.6Z" fill="#c0c0c0" stroke="#444" stroke-width="0.5"/>
<path d="M206.2 587.9L207.6 588.3L208.9 588.2L210.3 589.1L211.7 589.7L213.1 588.3L214.4 587.2L215.8 585L217.2 582.8L218.6 581.2L219.9 580.5L221.3 578.7L222.7 576.5L224 576.3L225.4 575.5L226.8 574.3L228.2 573.4L229.5 571.9L230.9 571.4L232.3 570.3L233.6 569.1L235 567.6L236.4 565.4L237.8 564L239.1 562.5L240.5 560.6L241.9 558.7L243.3 557.5L244.6 557.1L246 556.3L247.4 554.5L248.7 554L250.1 555.1L251.5 556.2L252.9 555.1L254.2 553.5L255.6 553.4L257 552.4L258.4 551.1L259.7 550.3L261.1 549.1L262.5 547.2L263.8 545.6L265.2 542.9L266.6 540.3L268 541.5L269.3 542L270.7 542.2L272.1 541.9L273.5 543.6L274.8 545.5L276.2 546.1L277.6 547.2L278.9 547.3L280.3 548.2L281.7 548.2L283.1 547.8L284.4 547.7L285.8 547.8L287.2 547.7L288.6 547.5L289.9 548L291.3 548.5L292.7 549.1L294 549.2L295.4 548.6L296.8 548.7L298.2 549.3L299.5 548.6L300.9 548.4L302.3 549.2" fill="none" stroke="#e3a21a" stroke-width="1"/>
<g fill="#e3a21a"><circle cx="206.2" cy="587.9" r="1.9"/><circle cx="207.6" cy="588.3" r="1.9"/><circle cx="208.9" cy="588.2" r="1.9"/><circle cx="210.3" cy="589.1" r="1.9"/><circle cx="211.7" cy="589.7" r="1.9"/><circle cx="213.1" cy="588.3" r="1.9"/><circle cx="214.4" cy="587.2" r="1.9"/><circle cx="215.8" cy="585" r="1.9"/><circle cx="217.2" cy="582.8" r="1.9"/><circle cx="218.6" cy="581.2" r="1.9"/><circle cx="219.9" cy="580.5" r="1.9"/><circle cx="221.3" cy="578.7" r="1.9"/><circle cx="222.7" cy="576.5" r="1.9"/><circle cx="224" cy="576.3" r="1.9"/><circle cx="225.4" cy="575.5" r="1.9"/><circle cx="226.8" cy="574.3" r="1.9"/><circle cx="228.2" cy="573.4" r="1.9"/><circle cx="229.5" cy="571.9" r="1.9"/><circle cx="230.9" cy="571.4" r="1.9"/><circle cx="232.3" cy="570.3" r="1.9"/><circle cx="233.6" cy="569.1" r="1.9"/><circle cx="235" cy="567.6" r="1.9"/><circle cx="236.4" cy="565.4" r="1.9"/><circle cx="237.8" cy="564" r="1.9"/><circle cx="239.1" cy="562.5" r="1.9"/><circle cx="240.5" cy="560.6" r="1.9"/><circle cx="241.9" cy="558.7" r="1.9"/><circle cx="243.3" cy="557.5" r="1.9"/><circle cx="244.6" cy="557.1" r="1.9"/><circle cx="246" cy="556.3" r="1.9"/><circle cx="247.4" cy="554.5" r="1.9"/><circle cx="248.7" cy="554" r="1.9"/><circle cx="250.1" cy="555.1" r="1.9"/><circle cx="251.5" cy="556.2" r="1.9"/><circle cx="252.9" cy="555.1" r="1.9"/><circle cx="254.2" cy="553.5" r="1.9"/><circle cx="255.6" cy="553.4" r="1.9"/><circle cx="257" cy="552.4" r="1.9"/><circle cx="258.4" cy="551.1" r="1.9"/><circle cx="259.7" cy="550.3" r="1.9"/><circle cx="261.1" cy="549.1" r="1.9"/><circle cx="262.5" cy="547.2" r="1.9"/><circle cx="263.8" cy="545.6" r="1.9"/><circle cx="265.2" cy="542.9" r="1.9"/><circle cx="266.6" cy="540.3" r="1.9"/><circle cx="268" cy="541.5" r="1.9"/><circle cx="269.3" cy="542" r="1.9"/><circle cx="270.7" cy="542.2" r="1.9"/><circle cx="272.1" cy="541.9" r="1.9"/><circle cx="273.5" cy="543.6" r="1.9"/><circle cx="274.8" cy="545.5" r="1.9"/><circle cx="276.2" cy="546.1" r="1.9"/><circle cx="277.6" cy="547.2" r="1.9"/><circle cx="278.9" cy="547.3" r="1.9"/><circle cx="280.3" cy="548.2" r="1.9"/><circle cx="281.7" cy="548.2" r="1.9"/><circle cx="283.1" cy="547.8" r="1.9"/><circle cx="284.4" cy="547.7" r="1.9"/><circle cx="285.8" cy="547.8" r="1.9"/><circle cx="287.2" cy="547.7" r="1.9"/><circle cx="288.6" cy="547.5" r="1.9"/><circle cx="289.9" cy="548" r="1.9"/><circle cx="291.3" cy="548.5" r="1.9"/><circle cx="292.7" cy="549.1" r="1.9"/><circle cx="294" cy="549.2" r="1.9"/><circle cx="295.4" cy="548.6" r="1.9"/><circle cx="296.8" cy="548.7" r="1.9"/><circle cx="298.2" cy="549.3" r="1.9"/><circle cx="299.5" cy="548.6" r="1.9"/><circle cx="300.9" cy="548.4" r="1.9"/><circle cx="302.3" cy="549.2" r="1.9"/></g>
<path d="M206.2 526.2H302.7" stroke="#262626" stroke-width="0.8"/>
<path d="M206.2 603.3H302.7" stroke="#262626" stroke-width="0.8"/>
<path d="M206.2 526.2V603.3" stroke="#2a9df4" stroke-width="1.1"/>
<path d="M302.7 526.2V603.3" stroke="#daa520" stroke-width="1.1"/>
<path d="M233.6 603.3v-2M233.6 526.2v2M261.1 603.3v-2M261.1 526.2v2M288.6 603.3v-2M288.6 526.2v2M206.2 592h2M206.2 559.1h2M302.7 564.8h-2" stroke="#262626" stroke-width="0.7"/>
<text x="204.7" y="529.5" font-size="9" text-anchor="end" fill="#2a9df4">1.25</text>
<text x="204.7" y="562.4" font-size="9" text-anchor="end" fill="#2a9df4">1.2</text>
<text x="204.7" y="595.3" font-size="9" text-anchor="end" fill="#2a9df4">1.15</text>
<text x="305.7" y="529.7" font-size="10" text-anchor="start" fill="#d9a21b">1</text>
<text x="305.7" y="568.2" font-size="10" text-anchor="start" fill="#d9a21b">0.5</text>
<text x="305.7" y="606.8" font-size="10" text-anchor="start" fill="#d9a21b">0</text>
<text x="206.2" y="614.8" font-size="10" text-anchor="middle" fill="#262626">10</text>
<text x="233.6" y="614.8" font-size="10" text-anchor="middle" fill="#262626">20</text>
<text x="261.1" y="614.8" font-size="10" text-anchor="middle" fill="#262626">30</text>
<text x="288.6" y="614.8" font-size="10" text-anchor="middle" fill="#262626">40</text>
<text x="254.5" y="622" font-size="10.5" text-anchor="middle" fill="#262626">t (min)</text>
<text x="191.5" y="558" font-size="10.5" text-anchor="middle" fill="#2a9df4" transform="rotate(-90 191.5 558)">SI(t)</text>
<text x="317" y="545.5" font-size="11" text-anchor="middle" fill="#d9a21b" transform="rotate(-90 317 545.5)">S(t)</text>
<path d="M412 432.5L668.2 562.5" stroke="#fcc52b" stroke-width="3"/>
<path d="M412 432.5L668.2 466.5" stroke="#f26a48" stroke-width="3" stroke-dasharray="9 3 3 3"/>
<path d="M412 433L668.2 443" stroke="#3b82e0" stroke-width="3" stroke-dasharray="3 3"/>
<g fill="#f2ad1d" stroke="#8a6d2a" stroke-width="0.6"><circle cx="423" cy="438.9" r="5.3"/><circle cx="507.8" cy="483" r="5.3"/><circle cx="547.2" cy="494.9" r="5.3"/><circle cx="572.4" cy="512.6" r="5.3"/><circle cx="592.1" cy="545.3" r="5.3"/><circle cx="607.9" cy="553.2" r="5.3"/><circle cx="620.9" cy="556.8" r="5.3"/><circle cx="631.5" cy="524.5" r="5.3"/><circle cx="641.4" cy="578.5" r="5.3"/><circle cx="649.3" cy="617.1" r="5.3"/><circle cx="657.5" cy="518.5" r="5.3"/><circle cx="664.6" cy="550" r="5.3"/></g>
<g fill="#f08466" stroke="#c9654a" stroke-width="0.5"><rect x="418.8" y="430.8" width="8.5" height="8.5"/><rect x="503.6" y="442.6" width="8.5" height="8.5"/><rect x="543" y="445.4" width="8.5" height="8.5"/><rect x="568.1" y="449.2" width="8.5" height="8.5"/><rect x="587.9" y="451.2" width="8.5" height="8.5"/><rect x="603.6" y="452.1" width="8.5" height="8.5"/><rect x="616.6" y="453.1" width="8.5" height="8.5"/><rect x="627.2" y="457.1" width="8.5" height="8.5"/><rect x="637.1" y="457.1" width="8.5" height="8.5"/><rect x="645" y="459.1" width="8.5" height="8.5"/><rect x="653.2" y="463.9" width="8.5" height="8.5"/><rect x="660.4" y="472.9" width="8.5" height="8.5"/></g>
<g fill="#34609e" stroke="#223f6e" stroke-width="0.5"><path d="M423 427.3l4.6 6.5l-4.6 6.5l-4.6 -6.5z"/><path d="M507.8 432l4.6 6.5l-4.6 6.5l-4.6 -6.5z"/><path d="M547.2 433.2l4.6 6.5l-4.6 6.5l-4.6 -6.5z"/><path d="M572.4 433.2l4.6 6.5l-4.6 6.5l-4.6 -6.5z"/><path d="M592.1 434.4l4.6 6.5l-4.6 6.5l-4.6 -6.5z"/><path d="M607.9 434.4l4.6 6.5l-4.6 6.5l-4.6 -6.5z"/><path d="M620.9 434.4l4.6 6.5l-4.6 6.5l-4.6 -6.5z"/><path d="M631.5 434.4l4.6 6.5l-4.6 6.5l-4.6 -6.5z"/><path d="M641.4 434.4l4.6 6.5l-4.6 6.5l-4.6 -6.5z"/><path d="M649.3 438.3l4.6 6.5l-4.6 6.5l-4.6 -6.5z"/><path d="M657.5 440.3l4.6 6.5l-4.6 6.5l-4.6 -6.5z"/><path d="M664.6 441.9l4.6 6.5l-4.6 6.5l-4.6 -6.5z"/></g>
<rect x="422.5" y="535.5" width="85.8" height="84.5" fill="#fff" stroke="#a0a0a0" stroke-width="0.9"/>
<circle cx="434.5" cy="542.8" r="4.8" fill="#f2ad1d" stroke="#8a6d2a" stroke-width="0.6"/>
<rect x="430.7" y="551.2" width="7.6" height="7.6" fill="#f08466" stroke="#c9654a" stroke-width="0.5"/>
<path d="M434.5 561.2l4.6 6l-4.6 6l-4.6 -6z" fill="#34609e" stroke="#223f6e" stroke-width="0.5"/>
<path d="M425 581H443.5" stroke="#fcc52b" stroke-width="3"/>
<path d="M425 596H437M439 596H443.5" stroke="#f26a48" stroke-width="3"/>
<path d="M425 611.5H443.5" stroke="#3b82e0" stroke-width="3" stroke-dasharray="3 2.2"/>
<text x="445.5" y="546" font-size="10" text-anchor="start" fill="#262626">t = 0-15 min</text>
<text x="445.5" y="558.5" font-size="10" text-anchor="start" fill="#262626">t = 15-30 min</text>
<text x="445.5" y="571" font-size="10" text-anchor="start" fill="#262626">t = 30-45 min</text>
<text x="445.5" y="586.5" font-size="10.5" fill="#262626">r<tspan dy="-5" font-size="8.5">-0.95</tspan></text>
<text x="445.5" y="601.5" font-size="10.5" fill="#262626">r<tspan dy="-5" font-size="8.5">-0.24</tspan></text>
<text x="445.5" y="617" font-size="10.5" fill="#262626">r<tspan dy="-5" font-size="8.5">-0.06</tspan></text>
<rect x="412" y="426.3" width="256.8" height="200" fill="none" stroke="#262626" stroke-width="1.2"/><path d="M518.9 626.3v-3.5M518.9 426.3v3.5M642.6 626.3v-3.5M642.6 426.3v3.5M412 431.6h3.5M668.8 431.6h-3.5M412 525.3h3.5M668.8 525.3h-3.5M412 619h3.5M668.8 619h-3.5M426.4 626.3v-2M426.4 426.3v2M448.5 626.3v-2M448.5 426.3v2M465.6 626.3v-2M465.6 426.3v2M479.6 626.3v-2M479.6 426.3v2M491.5 626.3v-2M491.5 426.3v2M501.8 626.3v-2M501.8 426.3v2M510.8 626.3v-2M510.8 426.3v2M572.2 626.3v-2M572.2 426.3v2M603.4 626.3v-2M603.4 426.3v2M625.5 626.3v-2M625.5 426.3v2M656.6 626.3v-2M656.6 426.3v2M668.5 626.3v-2M668.5 426.3v2M412 590.8h2M668.8 590.8h-2M412 574.3h2M668.8 574.3h-2M412 562.6h2M668.8 562.6h-2M412 553.5h2M668.8 553.5h-2M412 546.1h2M668.8 546.1h-2M412 539.8h2M668.8 539.8h-2M412 534.4h2M668.8 534.4h-2M412 529.6h2M668.8 529.6h-2M412 497.1h2M668.8 497.1h-2M412 480.6h2M668.8 480.6h-2M412 468.9h2M668.8 468.9h-2M412 459.8h2M668.8 459.8h-2M412 452.4h2M668.8 452.4h-2M412 446.1h2M668.8 446.1h-2M412 440.7h2M668.8 440.7h-2M412 435.9h2M668.8 435.9h-2" stroke="#262626" stroke-width="1.2" fill="none"/>
<text x="518.9" y="645" font-size="14" text-anchor="middle" fill="#262626">10</text>
<text x="642.6" y="645" font-size="14" text-anchor="middle" fill="#262626">50</text>
<text x="409.5" y="442.6" font-size="14" text-anchor="end" fill="#262626">10<tspan dy="-6" font-size="11">0</tspan></text>
<text x="409.5" y="536.3" font-size="14" text-anchor="end" fill="#262626">10<tspan dy="-6" font-size="11">-1</tspan></text>
<text x="409.5" y="630" font-size="14" text-anchor="end" fill="#262626">10<tspan dy="-6" font-size="11">-2</tspan></text>
<text x="540" y="666" font-size="16" text-anchor="middle" fill="#262626">Distance r (<tspan font-family='"Liberation Serif", serif' font-style="italic">&#956;</tspan>m)</text>
<text x="0" y="0" font-size="18" text-anchor="middle" fill="#262626" transform="translate(369 530) rotate(-90)">C<tspan dy="5" font-size="14">S</tspan><tspan dy="-5">(r)</tspan></text>
<text x="344" y="428" font-size="25.5" text-anchor="start" fill="#000">(k)</text>
<filter id="hb" x="-10%" y="-10%" width="120%" height="120%"><feGaussianBlur stdDeviation="3"/></filter><filter id="hb2" x="-10%" y="-10%" width="120%" height="120%"><feGaussianBlur stdDeviation="2.5"/></filter>
<clipPath id="cl0"><rect x="36.2" y="675.3" width="152.8" height="84.5"/></clipPath>
<g clip-path="url(#cl0)"><g filter="url(#hb)"><path fill="#661a80" d="M28.6 667.6h8.1v8.2h-8.1z"/><path fill="#661a80" d="M36.2 667.6h8.1v8.2h-8.1z"/><path fill="#61187f" d="M43.8 667.6h8.1v8.2h-8.1z"/><path fill="#4d117a" d="M51.5 667.6h8.1v8.2h-8.1z"/><path fill="#370f6c" d="M59.1 667.6h8.1v8.2h-8.1z"/><path fill="#2f1062" d="M66.8 667.6h8.1v8.2h-8.1z"/><path fill="#430f75" d="M74.4 667.6h8.1v8.2h-8.1z"/><path fill="#651a80" d="M82 667.6h8.1v8.2h-8.1z"/><path fill="#792281" d="M89.7 667.6h8.1v8.2h-8.1z"/><path fill="#7c2381" d="M97.3 667.6h8.1v8.2h-8.1z"/><path fill="#812581" d="M105 667.6h8.1v8.2h-8.1z"/><path fill="#892881" d="M112.6 667.6h8.1v8.2h-8.1z"/><path fill="#822581" d="M120.2 667.6h8.1v8.2h-8.1z"/><path fill="#731f81" d="M127.9 667.6h8.1v8.2h-8.1z"/><path fill="#772181" d="M135.5 667.6h8.1v8.2h-8.1z"/><path fill="#952c80" d="M143.2 667.6h8.1v8.2h-8.1z"/><path fill="#c03a75" d="M150.8 667.6h8.1v8.2h-8.1z"/><path fill="#e65162" d="M158.4 667.6h8.1v8.2h-8.1z"/><path fill="#f8755c" d="M166.1 667.6h8.1v8.2h-8.1z"/><path fill="#fd9768" d="M173.7 667.6h8.1v8.2h-8.1z"/><path fill="#fda26f" d="M181.4 667.6h8.1v8.2h-8.1z"/><path fill="#fda26f" d="M189 667.6h8.1v8.2h-8.1z"/><path fill="#661a80" d="M28.6 675.3h8.1v8.2h-8.1z"/><path fill="#661a80" d="M36.2 675.3h8.1v8.2h-8.1z"/><path fill="#61187f" d="M43.8 675.3h8.1v8.2h-8.1z"/><path fill="#4d117a" d="M51.5 675.3h8.1v8.2h-8.1z"/><path fill="#370f6c" d="M59.1 675.3h8.1v8.2h-8.1z"/><path fill="#2f1062" d="M66.8 675.3h8.1v8.2h-8.1z"/><path fill="#430f75" d="M74.4 675.3h8.1v8.2h-8.1z"/><path fill="#651a80" d="M82 675.3h8.1v8.2h-8.1z"/><path fill="#792281" d="M89.7 675.3h8.1v8.2h-8.1z"/><path fill="#7c2381" d="M97.3 675.3h8.1v8.2h-8.1z"/><path fill="#812581" d="M105 675.3h8.1v8.2h-8.1z"/><path fill="#892881" d="M112.6 675.3h8.1v8.2h-8.1z"/><path fill="#822581" d="M120.2 675.3h8.1v8.2h-8.1z"/><path fill="#731f81" d="M127.9 675.3h8.1v8.2h-8.1z"/><path fill="#772181" d="M135.5 675.3h8.1v8.2h-8.1z"/><path fill="#952c80" d="M143.2 675.3h8.1v8.2h-8.1z"/><path fill="#c03a75" d="M150.8 675.3h8.1v8.2h-8.1z"/><path fill="#e65162" d="M158.4 675.3h8.1v8.2h-8.1z"/><path fill="#f8755c" d="M166.1 675.3h8.1v8.2h-8.1z"/><path fill="#fd9768" d="M173.7 675.3h8.1v8.2h-8.1z"/><path fill="#fda26f" d="M181.4 675.3h8.1v8.2h-8.1z"/><path fill="#fda26f" d="M189 675.3h8.1v8.2h-8.1z"/><path fill="#4b1079" d="M28.6 683h8.1v8.2h-8.1z"/><path fill="#4b1079" d="M36.2 683h8.1v8.2h-8.1z"/><path fill="#52127c" d="M43.8 683h8.1v8.2h-8.1z"/><path fill="#4a1079" d="M51.5 683h8.1v8.2h-8.1z"/><path fill="#341068" d="M59.1 683h8.1v8.2h-8.1z"/><path fill="#2b115e" d="M66.8 683h8.1v8.2h-8.1z"/><path fill="#4a1079" d="M74.4 683h8.1v8.2h-8.1z"/><path fill="#7c2381" d="M82 683h8.1v8.2h-8.1z"/><path fill="#9a2d7f" d="M89.7 683h8.1v8.2h-8.1z"/><path fill="#a12f7e" d="M97.3 683h8.1v8.2h-8.1z"/><path fill="#b3357a" d="M105 683h8.1v8.2h-8.1z"/><path fill="#c53c74" d="M112.6 683h8.1v8.2h-8.1z"/><path fill="#b0347b" d="M120.2 683h8.1v8.2h-8.1z"/><path fill="#7a2281" d="M127.9 683h8.1v8.2h-8.1z"/><path fill="#691c80" d="M135.5 683h8.1v8.2h-8.1z"/><path fill="#892881" d="M143.2 683h8.1v8.2h-8.1z"/><path fill="#b53679" d="M150.8 683h8.1v8.2h-8.1z"/><path fill="#d7456b" d="M158.4 683h8.1v8.2h-8.1z"/><path fill="#f1615c" d="M166.1 683h8.1v8.2h-8.1z"/><path fill="#fc8e63" d="M173.7 683h8.1v8.2h-8.1z"/><path fill="#fea873" d="M181.4 683h8.1v8.2h-8.1z"/><path fill="#fea873" d="M189 683h8.1v8.2h-8.1z"/><path fill="#651a80" d="M28.6 690.7h8.1v8.2h-8.1z"/><path fill="#651a80" d="M36.2 690.7h8.1v8.2h-8.1z"/><path fill="#4d117a" d="M43.8 690.7h8.1v8.2h-8.1z"/><path fill="#321067" d="M51.5 690.7h8.1v8.2h-8.1z"/><path fill="#2f1062" d="M59.1 690.7h8.1v8.2h-8.1z"/><path fill="#420f74" d="M66.8 690.7h8.1v8.2h-8.1z"/><path fill="#651a80" d="M74.4 690.7h8.1v8.2h-8.1z"/><path fill="#852681" d="M82 690.7h8.1v8.2h-8.1z"/><path fill="#8f2a80" d="M89.7 690.7h8.1v8.2h-8.1z"/><path fill="#892881" d="M97.3 690.7h8.1v8.2h-8.1z"/><path fill="#a12f7e" d="M105 690.7h8.1v8.2h-8.1z"/><path fill="#ca3e72" d="M112.6 690.7h8.1v8.2h-8.1z"/><path fill="#c63c73" d="M120.2 690.7h8.1v8.2h-8.1z"/><path fill="#952c80" d="M127.9 690.7h8.1v8.2h-8.1z"/><path fill="#772181" d="M135.5 690.7h8.1v8.2h-8.1z"/><path fill="#852681" d="M143.2 690.7h8.1v8.2h-8.1z"/><path fill="#a7317d" d="M150.8 690.7h8.1v8.2h-8.1z"/><path fill="#d0416f" d="M158.4 690.7h8.1v8.2h-8.1z"/><path fill="#f1615c" d="M166.1 690.7h8.1v8.2h-8.1z"/><path fill="#fd9768" d="M173.7 690.7h8.1v8.2h-8.1z"/><path fill="#feb37b" d="M181.4 690.7h8.1v8.2h-8.1z"/><path fill="#feb37b" d="M189 690.7h8.1v8.2h-8.1z"/><path fill="#9c2e7f" d="M28.6 698.3h8.1v8.2h-8.1z"/><path fill="#9c2e7f" d="M36.2 698.3h8.1v8.2h-8.1z"/><path fill="#57147d" d="M43.8 698.3h8.1v8.2h-8.1z"/><path fill="#1a1041" d="M51.5 698.3h8.1v8.2h-8.1z"/><path fill="#281159" d="M59.1 698.3h8.1v8.2h-8.1z"/><path fill="#5a157e" d="M66.8 698.3h8.1v8.2h-8.1z"/><path fill="#7a2281" d="M74.4 698.3h8.1v8.2h-8.1z"/><path fill="#7a2281" d="M82 698.3h8.1v8.2h-8.1z"/><path fill="#5d177e" d="M89.7 698.3h8.1v8.2h-8.1z"/><path fill="#3c0f71" d="M97.3 698.3h8.1v8.2h-8.1z"/><path fill="#52127c" d="M105 698.3h8.1v8.2h-8.1z"/><path fill="#8f2a80" d="M112.6 698.3h8.1v8.2h-8.1z"/><path fill="#b1357a" d="M120.2 698.3h8.1v8.2h-8.1z"/><path fill="#a6317d" d="M127.9 698.3h8.1v8.2h-8.1z"/><path fill="#8f2a80" d="M135.5 698.3h8.1v8.2h-8.1z"/><path fill="#872781" d="M143.2 698.3h8.1v8.2h-8.1z"/><path fill="#a12f7e" d="M150.8 698.3h8.1v8.2h-8.1z"/><path fill="#d7456b" d="M158.4 698.3h8.1v8.2h-8.1z"/><path fill="#fa7f5e" d="M166.1 698.3h8.1v8.2h-8.1z"/><path fill="#feb179" d="M173.7 698.3h8.1v8.2h-8.1z"/><path fill="#febe83" d="M181.4 698.3h8.1v8.2h-8.1z"/><path fill="#febe83" d="M189 698.3h8.1v8.2h-8.1z"/><path fill="#b63679" d="M28.6 706h8.1v8.2h-8.1z"/><path fill="#b63679" d="M36.2 706h8.1v8.2h-8.1z"/><path fill="#61187f" d="M43.8 706h8.1v8.2h-8.1z"/><path fill="#140d35" d="M51.5 706h8.1v8.2h-8.1z"/><path fill="#1f114b" d="M59.1 706h8.1v8.2h-8.1z"/><path fill="#53137c" d="M66.8 706h8.1v8.2h-8.1z"/><path fill="#742081" d="M74.4 706h8.1v8.2h-8.1z"/><path fill="#6c1d80" d="M82 706h8.1v8.2h-8.1z"/><path fill="#3e0f72" d="M89.7 706h8.1v8.2h-8.1z"/><path fill="#0a0722" d="M97.3 706h8.1v8.2h-8.1z"/><path fill="#150e38" d="M105 706h8.1v8.2h-8.1z"/><path fill="#57147d" d="M112.6 706h8.1v8.2h-8.1z"/><path fill="#872781" d="M120.2 706h8.1v8.2h-8.1z"/><path fill="#912a80" d="M127.9 706h8.1v8.2h-8.1z"/><path fill="#852681" d="M135.5 706h8.1v8.2h-8.1z"/><path fill="#7e2481" d="M143.2 706h8.1v8.2h-8.1z"/><path fill="#a12f7e" d="M150.8 706h8.1v8.2h-8.1z"/><path fill="#e65162" d="M158.4 706h8.1v8.2h-8.1z"/><path fill="#fd9b6a" d="M166.1 706h8.1v8.2h-8.1z"/><path fill="#fec78b" d="M173.7 706h8.1v8.2h-8.1z"/><path fill="#fec78b" d="M181.4 706h8.1v8.2h-8.1z"/><path fill="#fec78b" d="M189 706h8.1v8.2h-8.1z"/><path fill="#8c2980" d="M28.6 713.7h8.1v8.2h-8.1z"/><path fill="#8c2980" d="M36.2 713.7h8.1v8.2h-8.1z"/><path fill="#661a80" d="M43.8 713.7h8.1v8.2h-8.1z"/><path fill="#2b115e" d="M51.5 713.7h8.1v8.2h-8.1z"/><path fill="#160e3a" d="M59.1 713.7h8.1v8.2h-8.1z"/><path fill="#1e1049" d="M66.8 713.7h8.1v8.2h-8.1z"/><path fill="#470f77" d="M74.4 713.7h8.1v8.2h-8.1z"/><path fill="#6c1d80" d="M82 713.7h8.1v8.2h-8.1z"/><path fill="#63197f" d="M89.7 713.7h8.1v8.2h-8.1z"/><path fill="#341068" d="M97.3 713.7h8.1v8.2h-8.1z"/><path fill="#301065" d="M105 713.7h8.1v8.2h-8.1z"/><path fill="#5b167e" d="M112.6 713.7h8.1v8.2h-8.1z"/><path fill="#651a80" d="M120.2 713.7h8.1v8.2h-8.1z"/><path fill="#481078" d="M127.9 713.7h8.1v8.2h-8.1z"/><path fill="#3e0f72" d="M135.5 713.7h8.1v8.2h-8.1z"/><path fill="#651a80" d="M143.2 713.7h8.1v8.2h-8.1z"/><path fill="#a9327c" d="M150.8 713.7h8.1v8.2h-8.1z"/><path fill="#ef5e5d" d="M158.4 713.7h8.1v8.2h-8.1z"/><path fill="#fea671" d="M166.1 713.7h8.1v8.2h-8.1z"/><path fill="#fdcd90" d="M173.7 713.7h8.1v8.2h-8.1z"/><path fill="#fdd193" d="M181.4 713.7h8.1v8.2h-8.1z"/><path fill="#fdd193" d="M189 713.7h8.1v8.2h-8.1z"/><path fill="#731f81" d="M28.6 721.4h8.1v8.2h-8.1z"/><path fill="#731f81" d="M36.2 721.4h8.1v8.2h-8.1z"/><path fill="#7e2481" d="M43.8 721.4h8.1v8.2h-8.1z"/><path fill="#61187f" d="M51.5 721.4h8.1v8.2h-8.1z"/><path fill="#2a115c" d="M59.1 721.4h8.1v8.2h-8.1z"/><path fill="#09071f" d="M66.8 721.4h8.1v8.2h-8.1z"/><path fill="#2f1062" d="M74.4 721.4h8.1v8.2h-8.1z"/><path fill="#7f2481" d="M82 721.4h8.1v8.2h-8.1z"/><path fill="#972c7f" d="M89.7 721.4h8.1v8.2h-8.1z"/><path fill="#772181" d="M97.3 721.4h8.1v8.2h-8.1z"/><path fill="#691c80" d="M105 721.4h8.1v8.2h-8.1z"/><path fill="#772181" d="M112.6 721.4h8.1v8.2h-8.1z"/><path fill="#5d177e" d="M120.2 721.4h8.1v8.2h-8.1z"/><path fill="#1f114b" d="M127.9 721.4h8.1v8.2h-8.1z"/><path fill="#1e1049" d="M135.5 721.4h8.1v8.2h-8.1z"/><path fill="#691c80" d="M143.2 721.4h8.1v8.2h-8.1z"/><path fill="#c23a75" d="M150.8 721.4h8.1v8.2h-8.1z"/><path fill="#f66e5b" d="M158.4 721.4h8.1v8.2h-8.1z"/><path fill="#fea873" d="M166.1 721.4h8.1v8.2h-8.1z"/><path fill="#fec98d" d="M173.7 721.4h8.1v8.2h-8.1z"/><path fill="#fdd295" d="M181.4 721.4h8.1v8.2h-8.1z"/><path fill="#fdd295" d="M189 721.4h8.1v8.2h-8.1z"/><path fill="#b63679" d="M28.6 729.1h8.1v8.2h-8.1z"/><path fill="#b63679" d="M36.2 729.1h8.1v8.2h-8.1z"/><path fill="#bb3877" d="M43.8 729.1h8.1v8.2h-8.1z"/><path fill="#a12f7e" d="M51.5 729.1h8.1v8.2h-8.1z"/><path fill="#731f81" d="M59.1 729.1h8.1v8.2h-8.1z"/><path fill="#57147d" d="M66.8 729.1h8.1v8.2h-8.1z"/><path fill="#6e1e81" d="M74.4 729.1h8.1v8.2h-8.1z"/><path fill="#a3307e" d="M82 729.1h8.1v8.2h-8.1z"/><path fill="#ae347b" d="M89.7 729.1h8.1v8.2h-8.1z"/><path fill="#8c2980" d="M97.3 729.1h8.1v8.2h-8.1z"/><path fill="#792281" d="M105 729.1h8.1v8.2h-8.1z"/><path fill="#812581" d="M112.6 729.1h8.1v8.2h-8.1z"/><path fill="#7e2481" d="M120.2 729.1h8.1v8.2h-8.1z"/><path fill="#6e1e81" d="M127.9 729.1h8.1v8.2h-8.1z"/><path fill="#7e2481" d="M135.5 729.1h8.1v8.2h-8.1z"/><path fill="#b0347b" d="M143.2 729.1h8.1v8.2h-8.1z"/><path fill="#e65162" d="M150.8 729.1h8.1v8.2h-8.1z"/><path fill="#fa825f" d="M158.4 729.1h8.1v8.2h-8.1z"/><path fill="#feac75" d="M166.1 729.1h8.1v8.2h-8.1z"/><path fill="#fec689" d="M173.7 729.1h8.1v8.2h-8.1z"/><path fill="#fdcd90" d="M181.4 729.1h8.1v8.2h-8.1z"/><path fill="#fdcd90" d="M189 729.1h8.1v8.2h-8.1z"/><path fill="#f9795c" d="M28.6 736.8h8.1v8.2h-8.1z"/><path fill="#f9795c" d="M36.2 736.8h8.1v8.2h-8.1z"/><path fill="#f1615c" d="M43.8 736.8h8.1v8.2h-8.1z"/><path fill="#da4769" d="M51.5 736.8h8.1v8.2h-8.1z"/><path fill="#c83d72" d="M59.1 736.8h8.1v8.2h-8.1z"/><path fill="#c23a75" d="M66.8 736.8h8.1v8.2h-8.1z"/><path fill="#c63c73" d="M74.4 736.8h8.1v8.2h-8.1z"/><path fill="#ca3e72" d="M82 736.8h8.1v8.2h-8.1z"/><path fill="#b53679" d="M89.7 736.8h8.1v8.2h-8.1z"/><path fill="#8c2980" d="M97.3 736.8h8.1v8.2h-8.1z"/><path fill="#772181" d="M105 736.8h8.1v8.2h-8.1z"/><path fill="#872781" d="M112.6 736.8h8.1v8.2h-8.1z"/><path fill="#b3357a" d="M120.2 736.8h8.1v8.2h-8.1z"/><path fill="#de4a67" d="M127.9 736.8h8.1v8.2h-8.1z"/><path fill="#f1615c" d="M135.5 736.8h8.1v8.2h-8.1z"/><path fill="#f56c5b" d="M143.2 736.8h8.1v8.2h-8.1z"/><path fill="#f97b5d" d="M150.8 736.8h8.1v8.2h-8.1z"/><path fill="#fd9768" d="M158.4 736.8h8.1v8.2h-8.1z"/><path fill="#feb37b" d="M166.1 736.8h8.1v8.2h-8.1z"/><path fill="#fec689" d="M173.7 736.8h8.1v8.2h-8.1z"/><path fill="#fec98d" d="M181.4 736.8h8.1v8.2h-8.1z"/><path fill="#fec98d" d="M189 736.8h8.1v8.2h-8.1z"/><path fill="#fda26f" d="M28.6 744.4h8.1v8.2h-8.1z"/><path fill="#fda26f" d="M36.2 744.4h8.1v8.2h-8.1z"/><path fill="#fb8861" d="M43.8 744.4h8.1v8.2h-8.1z"/><path fill="#f56c5b" d="M51.5 744.4h8.1v8.2h-8.1z"/><path fill="#f3675b" d="M59.1 744.4h8.1v8.2h-8.1z"/><path fill="#f4685b" d="M66.8 744.4h8.1v8.2h-8.1z"/><path fill="#f2635c" d="M74.4 744.4h8.1v8.2h-8.1z"/><path fill="#e65162" d="M82 744.4h8.1v8.2h-8.1z"/><path fill="#c33b74" d="M89.7 744.4h8.1v8.2h-8.1z"/><path fill="#972c7f" d="M97.3 744.4h8.1v8.2h-8.1z"/><path fill="#8a2881" d="M105 744.4h8.1v8.2h-8.1z"/><path fill="#ab337c" d="M112.6 744.4h8.1v8.2h-8.1z"/><path fill="#e24d65" d="M120.2 744.4h8.1v8.2h-8.1z"/><path fill="#fb8861" d="M127.9 744.4h8.1v8.2h-8.1z"/><path fill="#fea671" d="M135.5 744.4h8.1v8.2h-8.1z"/><path fill="#fda26f" d="M143.2 744.4h8.1v8.2h-8.1z"/><path fill="#fd9f6c" d="M150.8 744.4h8.1v8.2h-8.1z"/><path fill="#fea873" d="M158.4 744.4h8.1v8.2h-8.1z"/><path fill="#feb97f" d="M166.1 744.4h8.1v8.2h-8.1z"/><path fill="#fec98d" d="M173.7 744.4h8.1v8.2h-8.1z"/><path fill="#fdcf92" d="M181.4 744.4h8.1v8.2h-8.1z"/><path fill="#fdcf92" d="M189 744.4h8.1v8.2h-8.1z"/><path fill="#fa825f" d="M28.6 752.1h8.1v8.2h-8.1z"/><path fill="#fa825f" d="M36.2 752.1h8.1v8.2h-8.1z"/><path fill="#fb8460" d="M43.8 752.1h8.1v8.2h-8.1z"/><path fill="#f97d5d" d="M51.5 752.1h8.1v8.2h-8.1z"/><path fill="#f7715b" d="M59.1 752.1h8.1v8.2h-8.1z"/><path fill="#f3675b" d="M66.8 752.1h8.1v8.2h-8.1z"/><path fill="#f0605d" d="M74.4 752.1h8.1v8.2h-8.1z"/><path fill="#ed595f" d="M82 752.1h8.1v8.2h-8.1z"/><path fill="#d7456b" d="M89.7 752.1h8.1v8.2h-8.1z"/><path fill="#b1357a" d="M97.3 752.1h8.1v8.2h-8.1z"/><path fill="#b0347b" d="M105 752.1h8.1v8.2h-8.1z"/><path fill="#d4436d" d="M112.6 752.1h8.1v8.2h-8.1z"/><path fill="#f0605d" d="M120.2 752.1h8.1v8.2h-8.1z"/><path fill="#f9795c" d="M127.9 752.1h8.1v8.2h-8.1z"/><path fill="#fc8c63" d="M135.5 752.1h8.1v8.2h-8.1z"/><path fill="#fd9d6b" d="M143.2 752.1h8.1v8.2h-8.1z"/><path fill="#fea873" d="M150.8 752.1h8.1v8.2h-8.1z"/><path fill="#feb179" d="M158.4 752.1h8.1v8.2h-8.1z"/><path fill="#febc82" d="M166.1 752.1h8.1v8.2h-8.1z"/><path fill="#fdcf92" d="M173.7 752.1h8.1v8.2h-8.1z"/><path fill="#fddc9d" d="M181.4 752.1h8.1v8.2h-8.1z"/><path fill="#fddc9d" d="M189 752.1h8.1v8.2h-8.1z"/><path fill="#fa825f" d="M28.6 759.8h8.1v8.2h-8.1z"/><path fill="#fa825f" d="M36.2 759.8h8.1v8.2h-8.1z"/><path fill="#fb8460" d="M43.8 759.8h8.1v8.2h-8.1z"/><path fill="#f97d5d" d="M51.5 759.8h8.1v8.2h-8.1z"/><path fill="#f7715b" d="M59.1 759.8h8.1v8.2h-8.1z"/><path fill="#f3675b" d="M66.8 759.8h8.1v8.2h-8.1z"/><path fill="#f0605d" d="M74.4 759.8h8.1v8.2h-8.1z"/><path fill="#ed595f" d="M82 759.8h8.1v8.2h-8.1z"/><path fill="#d7456b" d="M89.7 759.8h8.1v8.2h-8.1z"/><path fill="#b1357a" d="M97.3 759.8h8.1v8.2h-8.1z"/><path fill="#b0347b" d="M105 759.8h8.1v8.2h-8.1z"/><path fill="#d4436d" d="M112.6 759.8h8.1v8.2h-8.1z"/><path fill="#f0605d" d="M120.2 759.8h8.1v8.2h-8.1z"/><path fill="#f9795c" d="M127.9 759.8h8.1v8.2h-8.1z"/><path fill="#fc8c63" d="M135.5 759.8h8.1v8.2h-8.1z"/><path fill="#fd9d6b" d="M143.2 759.8h8.1v8.2h-8.1z"/><path fill="#fea873" d="M150.8 759.8h8.1v8.2h-8.1z"/><path fill="#feb179" d="M158.4 759.8h8.1v8.2h-8.1z"/><path fill="#febc82" d="M166.1 759.8h8.1v8.2h-8.1z"/><path fill="#fdcf92" d="M173.7 759.8h8.1v8.2h-8.1z"/><path fill="#fddc9d" d="M181.4 759.8h8.1v8.2h-8.1z"/><path fill="#fddc9d" d="M189 759.8h8.1v8.2h-8.1z"/></g>
<path d="M187.7 705.6L182.6 705.6L178.4 707.3L176.3 709.9L175 712.6L174.5 717.5L175 722.5L175.5 725.2L176.1 730.4L176.5 735.5L176.3 740.6L175 745.7L174.3 748.3L173 753.4L173 758.5" fill="none" stroke="#3a2a30" stroke-width="0.55" opacity="0.55"/>
<path d="M170.9 676.6L170.9 681.7L173.2 684.3L174.9 689.4L173.6 694.5L172.3 697.1L169.9 701.5L168.4 704.7L167.3 707.3L166 712.4L165.1 717.5L164.7 720.1L163.7 725.2L162.3 730.2L161.2 732.9L159.7 735.5L157.2 738.7L154.4 740.6L149.5 742L144.4 742.2L139.3 742.5L136 743.2L131.7 745.6L130 748.3L131.7 752.9L132.6 756M57 758.5L57 753.4L53.2 750.8L50.5 748.3L48.7 745.7L46.6 743.2L42.6 740.9L37.5 740.9" fill="none" stroke="#3a2a30" stroke-width="0.55" opacity="0.5"/>
<path d="M158.4 676.6L158.4 681.7L159.7 684.3L162.3 688.7L163.1 691.9L162.7 697.1L162.2 699.6L161.2 704.7L160.2 709.9L159.7 712.4L158.7 717.5L157.4 722.7L156.5 725.2L154.6 729.1L152.1 732.6L149.5 734.7L147 736L141.9 737.5L139 738L134.2 739L129.5 740.6L126.6 742.6L124.1 745.6L122.1 748.3L119.6 750.8L116.4 753.4L116.4 758.5M119.8 691.9L117.8 691.9L119.8 691.9M94.1 758.5L94.1 753.4L92.2 750.8L90.4 748.3L88.4 745L85.9 742.8L80.8 742L75.7 742.1L70.6 742.3L65.5 742.2L60.4 741.5L57.4 740.6L52.8 738.2L50.2 736.8L46.1 735.5L42.6 735.3L37.5 735.3" fill="none" stroke="#4a2a40" stroke-width="0.55" opacity="0.45"/>
<path d="M147.2 676.6L147.2 681.7L149.1 686.8L149.8 689.4L151 694.5L152.1 699.2L152.6 702.2L153 707.3L153 712.4L152.7 717.5L152.1 721L150.8 725.2L149.4 727.8L147 730.6L143.5 732.9L139.3 734.4L134.2 735.3L131.7 735.5L126.6 736.1L121.6 738L119.4 740.6L117.6 743.2L115.7 745.7L112.5 748.3L108.8 749.9L103.7 749.7L101.1 747.8L99.3 743.2L99.3 738L99.2 732.9L98.6 730.4L96 726.8L93.5 725L90.1 725.2L87.7 727.8L85.9 730.5L83.3 733.5L80.4 735.5L75.7 737.1L70.6 737.4L65.5 736.8L61.6 735.5L57.8 733.4L55.3 731.7L52.8 730.1L47.7 728.7L42.6 730.1L37.5 730.1M136.6 707.3L137.9 704.7L136.8 702L134.2 698.8L131.7 694.7L130.4 691.9L129.2 689.2L126.6 685.5L124.1 683.9L119 682.8L113.9 682.9L108.8 683.7L105.2 684.3L101.1 685L96 685.6L91.9 686.8L90.2 689.4L91 692.2L96 692.6L101.1 692.5L106.2 694.1L108.8 695.6L111.3 697.5L114.2 699.6L117.5 702.2L120.7 704.7L124.1 707.2L126.6 708.4L131.7 708.9L136.6 707.3M37.5 716.2L42.6 716.2L44.7 712.4L44.9 707.3L43.1 702.2L40 701.4" fill="none" stroke="#f0a878" stroke-width="0.55" opacity="0.5"/>
<path d="M37.5 683.7L42.6 683.7L47.7 684.3L50.9 681.7L50.9 676.6M83.3 676.6L83.3 681.7L80.8 686.4L79.4 689.4L77.9 691.9L75.7 694.8L73.1 697.7L70.6 702.1L70.1 704.7L70.6 707.8L73.1 711.5L75.7 713.3L78.6 715L81.4 717.5L82.5 722.7L81 727.8L79 730.4L75.7 732.5L73.1 733.1L68.9 732.9L65.5 731.9L62.6 730.4L59.4 727.8L56.6 725.2L53.5 722.7L50.5 720.1L49 717.5L48.3 712.4L48 707.3L47.7 703.7L47.2 699.6L45.5 694.5L42.6 692.7L37.5 692.7M106.2 723L103.7 722.5L98.9 720.1L96 718.2L93.5 716.3L91 713.5L89.7 709.9L91 706.1L93.5 702.8L96 701L100.1 699.6L103.7 699.5L106.2 700.2L109.8 702.2L113 704.7L115.2 707.3L116.8 709.9L117.6 715L116.2 717.5L113.4 720.1L108.8 722.5L106.2 723M139.3 730.7L134.2 731.6L129.2 730.7L126.6 729L124.5 725.2L124.8 720.1L127.3 717.5L131.7 715.9L136.8 715L141.9 715.3L145.3 717.5L146.4 722.7L144.4 727.1L141.9 729.4L139.3 730.7" fill="none" stroke="#e8a070" stroke-width="0.55" opacity="0.5"/>
<g fill="#0a0418" opacity="0.9" filter="url(#hb2)"><path d="M49.6 697.4 55.2 695.8 59.6 697.4 61.9 704 64.1 711.7 69.7 716.1 74.1 721.6 73 728.3 67.4 730.5 58.5 728.3 51.8 723.8 48.5 717.2 47.4 708.4 47.8 700.7 49.6 697.4Z" stroke="#36106a" stroke-width="11" stroke-linejoin="round"/><ellipse cx="103.1" cy="709.5" rx="3.6" ry="3.1"/><ellipse cx="136.6" cy="724.3" rx="4" ry="2.6"/><ellipse cx="71.9" cy="678.6" rx="3.1" ry="2.2"/><ellipse cx="136.6" cy="677.1" rx="2.7" ry="1.8"/></g>
<path d="M49.6 697.4L55.2 695.8L59.6 697.4L61.9 704L64.1 711.7L69.7 716.1L74.1 721.6L73 728.3L67.4 730.5L58.5 728.3L51.8 723.8L48.5 717.2L47.4 708.4L47.8 700.7L49.6 697.4" fill="none" stroke="#fff" stroke-width="2.7" stroke-linecap="round" stroke-linejoin="round" stroke-dasharray="0 4.2"/>
</g>
<text x="39.7" y="693.3" font-size="14" text-anchor="start" fill="#fff">(I)</text>
<text x="180" y="693.3" font-size="13" text-anchor="end" fill="#fff">t = 9 min</text>
<rect x="46.2" y="750.8" width="36" height="4" fill="#fff"/>
<clipPath id="cl1"><rect x="192.2" y="675.3" width="152.8" height="84.5"/></clipPath>
<g clip-path="url(#cl1)"><g filter="url(#hb)"><path fill="#0d0a28" d="M184.6 667.6h8.1v8.2h-8.1z"/><path fill="#0d0a28" d="M192.2 667.6h8.1v8.2h-8.1z"/><path fill="#09071f" d="M199.8 667.6h8.1v8.2h-8.1z"/><path fill="#060519" d="M207.5 667.6h8.1v8.2h-8.1z"/><path fill="#08061d" d="M215.1 667.6h8.1v8.2h-8.1z"/><path fill="#1a1041" d="M222.8 667.6h8.1v8.2h-8.1z"/><path fill="#3c0f71" d="M230.4 667.6h8.1v8.2h-8.1z"/><path fill="#651a80" d="M238 667.6h8.1v8.2h-8.1z"/><path fill="#772181" d="M245.7 667.6h8.1v8.2h-8.1z"/><path fill="#762181" d="M253.3 667.6h8.1v8.2h-8.1z"/><path fill="#6c1d80" d="M261 667.6h8.1v8.2h-8.1z"/><path fill="#661a80" d="M268.6 667.6h8.1v8.2h-8.1z"/><path fill="#691c80" d="M276.2 667.6h8.1v8.2h-8.1z"/><path fill="#742081" d="M283.9 667.6h8.1v8.2h-8.1z"/><path fill="#852681" d="M291.5 667.6h8.1v8.2h-8.1z"/><path fill="#8f2a80" d="M299.2 667.6h8.1v8.2h-8.1z"/><path fill="#772181" d="M306.8 667.6h8.1v8.2h-8.1z"/><path fill="#4a1079" d="M314.4 667.6h8.1v8.2h-8.1z"/><path fill="#2b115e" d="M322.1 667.6h8.1v8.2h-8.1z"/><path fill="#52127c" d="M329.7 667.6h8.1v8.2h-8.1z"/><path fill="#892881" d="M337.4 667.6h8.1v8.2h-8.1z"/><path fill="#892881" d="M345 667.6h8.1v8.2h-8.1z"/><path fill="#0d0a28" d="M184.6 675.3h8.1v8.2h-8.1z"/><path fill="#0d0a28" d="M192.2 675.3h8.1v8.2h-8.1z"/><path fill="#09071f" d="M199.8 675.3h8.1v8.2h-8.1z"/><path fill="#060519" d="M207.5 675.3h8.1v8.2h-8.1z"/><path fill="#08061d" d="M215.1 675.3h8.1v8.2h-8.1z"/><path fill="#1a1041" d="M222.8 675.3h8.1v8.2h-8.1z"/><path fill="#3c0f71" d="M230.4 675.3h8.1v8.2h-8.1z"/><path fill="#651a80" d="M238 675.3h8.1v8.2h-8.1z"/><path fill="#772181" d="M245.7 675.3h8.1v8.2h-8.1z"/><path fill="#762181" d="M253.3 675.3h8.1v8.2h-8.1z"/><path fill="#6c1d80" d="M261 675.3h8.1v8.2h-8.1z"/><path fill="#661a80" d="M268.6 675.3h8.1v8.2h-8.1z"/><path fill="#691c80" d="M276.2 675.3h8.1v8.2h-8.1z"/><path fill="#742081" d="M283.9 675.3h8.1v8.2h-8.1z"/><path fill="#852681" d="M291.5 675.3h8.1v8.2h-8.1z"/><path fill="#8f2a80" d="M299.2 675.3h8.1v8.2h-8.1z"/><path fill="#772181" d="M306.8 675.3h8.1v8.2h-8.1z"/><path fill="#4a1079" d="M314.4 675.3h8.1v8.2h-8.1z"/><path fill="#2b115e" d="M322.1 675.3h8.1v8.2h-8.1z"/><path fill="#52127c" d="M329.7 675.3h8.1v8.2h-8.1z"/><path fill="#892881" d="M337.4 675.3h8.1v8.2h-8.1z"/><path fill="#892881" d="M345 675.3h8.1v8.2h-8.1z"/><path fill="#160e3a" d="M184.6 683h8.1v8.2h-8.1z"/><path fill="#160e3a" d="M192.2 683h8.1v8.2h-8.1z"/><path fill="#07051b" d="M199.8 683h8.1v8.2h-8.1z"/><path fill="#040313" d="M207.5 683h8.1v8.2h-8.1z"/><path fill="#09071f" d="M215.1 683h8.1v8.2h-8.1z"/><path fill="#1e1049" d="M222.8 683h8.1v8.2h-8.1z"/><path fill="#321067" d="M230.4 683h8.1v8.2h-8.1z"/><path fill="#4d117a" d="M238 683h8.1v8.2h-8.1z"/><path fill="#822581" d="M245.7 683h8.1v8.2h-8.1z"/><path fill="#bb3877" d="M253.3 683h8.1v8.2h-8.1z"/><path fill="#bb3877" d="M261 683h8.1v8.2h-8.1z"/><path fill="#852681" d="M268.6 683h8.1v8.2h-8.1z"/><path fill="#5e177f" d="M276.2 683h8.1v8.2h-8.1z"/><path fill="#5e177f" d="M283.9 683h8.1v8.2h-8.1z"/><path fill="#742081" d="M291.5 683h8.1v8.2h-8.1z"/><path fill="#872781" d="M299.2 683h8.1v8.2h-8.1z"/><path fill="#852681" d="M306.8 683h8.1v8.2h-8.1z"/><path fill="#6f1e81" d="M314.4 683h8.1v8.2h-8.1z"/><path fill="#5e177f" d="M322.1 683h8.1v8.2h-8.1z"/><path fill="#6c1d80" d="M329.7 683h8.1v8.2h-8.1z"/><path fill="#872781" d="M337.4 683h8.1v8.2h-8.1z"/><path fill="#872781" d="M345 683h8.1v8.2h-8.1z"/><path fill="#140d35" d="M184.6 690.7h8.1v8.2h-8.1z"/><path fill="#140d35" d="M192.2 690.7h8.1v8.2h-8.1z"/><path fill="#030311" d="M199.8 690.7h8.1v8.2h-8.1z"/><path fill="#010007" d="M207.5 690.7h8.1v8.2h-8.1z"/><path fill="#07051b" d="M215.1 690.7h8.1v8.2h-8.1z"/><path fill="#221150" d="M222.8 690.7h8.1v8.2h-8.1z"/><path fill="#3e0f72" d="M230.4 690.7h8.1v8.2h-8.1z"/><path fill="#58157e" d="M238 690.7h8.1v8.2h-8.1z"/><path fill="#852681" d="M245.7 690.7h8.1v8.2h-8.1z"/><path fill="#b63679" d="M253.3 690.7h8.1v8.2h-8.1z"/><path fill="#b53679" d="M261 690.7h8.1v8.2h-8.1z"/><path fill="#872781" d="M268.6 690.7h8.1v8.2h-8.1z"/><path fill="#661a80" d="M276.2 690.7h8.1v8.2h-8.1z"/><path fill="#661a80" d="M283.9 690.7h8.1v8.2h-8.1z"/><path fill="#731f81" d="M291.5 690.7h8.1v8.2h-8.1z"/><path fill="#7e2481" d="M299.2 690.7h8.1v8.2h-8.1z"/><path fill="#822581" d="M306.8 690.7h8.1v8.2h-8.1z"/><path fill="#842681" d="M314.4 690.7h8.1v8.2h-8.1z"/><path fill="#892881" d="M322.1 690.7h8.1v8.2h-8.1z"/><path fill="#992d7f" d="M329.7 690.7h8.1v8.2h-8.1z"/><path fill="#a7317d" d="M337.4 690.7h8.1v8.2h-8.1z"/><path fill="#a7317d" d="M345 690.7h8.1v8.2h-8.1z"/><path fill="#0c0926" d="M184.6 698.3h8.1v8.2h-8.1z"/><path fill="#0c0926" d="M192.2 698.3h8.1v8.2h-8.1z"/><path fill="#030311" d="M199.8 698.3h8.1v8.2h-8.1z"/><path fill="#000006" d="M207.5 698.3h8.1v8.2h-8.1z"/><path fill="#050417" d="M215.1 698.3h8.1v8.2h-8.1z"/><path fill="#281159" d="M222.8 698.3h8.1v8.2h-8.1z"/><path fill="#5a157e" d="M230.4 698.3h8.1v8.2h-8.1z"/><path fill="#7f2481" d="M238 698.3h8.1v8.2h-8.1z"/><path fill="#7f2481" d="M245.7 698.3h8.1v8.2h-8.1z"/><path fill="#651a80" d="M253.3 698.3h8.1v8.2h-8.1z"/><path fill="#58157e" d="M261 698.3h8.1v8.2h-8.1z"/><path fill="#661a80" d="M268.6 698.3h8.1v8.2h-8.1z"/><path fill="#772181" d="M276.2 698.3h8.1v8.2h-8.1z"/><path fill="#7e2481" d="M283.9 698.3h8.1v8.2h-8.1z"/><path fill="#792281" d="M291.5 698.3h8.1v8.2h-8.1z"/><path fill="#6f1e81" d="M299.2 698.3h8.1v8.2h-8.1z"/><path fill="#711f81" d="M306.8 698.3h8.1v8.2h-8.1z"/><path fill="#812581" d="M314.4 698.3h8.1v8.2h-8.1z"/><path fill="#9f2f7e" d="M322.1 698.3h8.1v8.2h-8.1z"/><path fill="#c63c73" d="M329.7 698.3h8.1v8.2h-8.1z"/><path fill="#dc4869" d="M337.4 698.3h8.1v8.2h-8.1z"/><path fill="#dc4869" d="M345 698.3h8.1v8.2h-8.1z"/><path fill="#1b1044" d="M184.6 706h8.1v8.2h-8.1z"/><path fill="#1b1044" d="M192.2 706h8.1v8.2h-8.1z"/><path fill="#0a0722" d="M199.8 706h8.1v8.2h-8.1z"/><path fill="#040415" d="M207.5 706h8.1v8.2h-8.1z"/><path fill="#0a0722" d="M215.1 706h8.1v8.2h-8.1z"/><path fill="#301065" d="M222.8 706h8.1v8.2h-8.1z"/><path fill="#6c1d80" d="M230.4 706h8.1v8.2h-8.1z"/><path fill="#972c7f" d="M238 706h8.1v8.2h-8.1z"/><path fill="#772181" d="M245.7 706h8.1v8.2h-8.1z"/><path fill="#1f114b" d="M253.3 706h8.1v8.2h-8.1z"/><path fill="#0a0722" d="M261 706h8.1v8.2h-8.1z"/><path fill="#4a1079" d="M268.6 706h8.1v8.2h-8.1z"/><path fill="#762181" d="M276.2 706h8.1v8.2h-8.1z"/><path fill="#731f81" d="M283.9 706h8.1v8.2h-8.1z"/><path fill="#61187f" d="M291.5 706h8.1v8.2h-8.1z"/><path fill="#58157e" d="M299.2 706h8.1v8.2h-8.1z"/><path fill="#661a80" d="M306.8 706h8.1v8.2h-8.1z"/><path fill="#8d2980" d="M314.4 706h8.1v8.2h-8.1z"/><path fill="#c23a75" d="M322.1 706h8.1v8.2h-8.1z"/><path fill="#ee5b5e" d="M329.7 706h8.1v8.2h-8.1z"/><path fill="#f7735c" d="M337.4 706h8.1v8.2h-8.1z"/><path fill="#f7735c" d="M345 706h8.1v8.2h-8.1z"/><path fill="#400f73" d="M184.6 713.7h8.1v8.2h-8.1z"/><path fill="#400f73" d="M192.2 713.7h8.1v8.2h-8.1z"/><path fill="#301065" d="M199.8 713.7h8.1v8.2h-8.1z"/><path fill="#231152" d="M207.5 713.7h8.1v8.2h-8.1z"/><path fill="#2a115c" d="M215.1 713.7h8.1v8.2h-8.1z"/><path fill="#450f76" d="M222.8 713.7h8.1v8.2h-8.1z"/><path fill="#6c1d80" d="M230.4 713.7h8.1v8.2h-8.1z"/><path fill="#8a2881" d="M238 713.7h8.1v8.2h-8.1z"/><path fill="#762181" d="M245.7 713.7h8.1v8.2h-8.1z"/><path fill="#3c0f71" d="M253.3 713.7h8.1v8.2h-8.1z"/><path fill="#2f1062" d="M261 713.7h8.1v8.2h-8.1z"/><path fill="#52127c" d="M268.6 713.7h8.1v8.2h-8.1z"/><path fill="#55137d" d="M276.2 713.7h8.1v8.2h-8.1z"/><path fill="#2d1060" d="M283.9 713.7h8.1v8.2h-8.1z"/><path fill="#1b1044" d="M291.5 713.7h8.1v8.2h-8.1z"/><path fill="#370f6c" d="M299.2 713.7h8.1v8.2h-8.1z"/><path fill="#742081" d="M306.8 713.7h8.1v8.2h-8.1z"/><path fill="#bd3977" d="M314.4 713.7h8.1v8.2h-8.1z"/><path fill="#f1615c" d="M322.1 713.7h8.1v8.2h-8.1z"/><path fill="#fc8c63" d="M329.7 713.7h8.1v8.2h-8.1z"/><path fill="#fc9366" d="M337.4 713.7h8.1v8.2h-8.1z"/><path fill="#fc9366" d="M345 713.7h8.1v8.2h-8.1z"/><path fill="#691c80" d="M184.6 721.4h8.1v8.2h-8.1z"/><path fill="#691c80" d="M192.2 721.4h8.1v8.2h-8.1z"/><path fill="#63197f" d="M199.8 721.4h8.1v8.2h-8.1z"/><path fill="#5e177f" d="M207.5 721.4h8.1v8.2h-8.1z"/><path fill="#63197f" d="M215.1 721.4h8.1v8.2h-8.1z"/><path fill="#6f1e81" d="M222.8 721.4h8.1v8.2h-8.1z"/><path fill="#7c2381" d="M230.4 721.4h8.1v8.2h-8.1z"/><path fill="#872781" d="M238 721.4h8.1v8.2h-8.1z"/><path fill="#8a2881" d="M245.7 721.4h8.1v8.2h-8.1z"/><path fill="#852681" d="M253.3 721.4h8.1v8.2h-8.1z"/><path fill="#822581" d="M261 721.4h8.1v8.2h-8.1z"/><path fill="#792281" d="M268.6 721.4h8.1v8.2h-8.1z"/><path fill="#4f117b" d="M276.2 721.4h8.1v8.2h-8.1z"/><path fill="#160e3a" d="M283.9 721.4h8.1v8.2h-8.1z"/><path fill="#0c0926" d="M291.5 721.4h8.1v8.2h-8.1z"/><path fill="#4d117a" d="M299.2 721.4h8.1v8.2h-8.1z"/><path fill="#a3307e" d="M306.8 721.4h8.1v8.2h-8.1z"/><path fill="#ed595f" d="M314.4 721.4h8.1v8.2h-8.1z"/><path fill="#fd9768" d="M322.1 721.4h8.1v8.2h-8.1z"/><path fill="#feac75" d="M329.7 721.4h8.1v8.2h-8.1z"/><path fill="#fda26f" d="M337.4 721.4h8.1v8.2h-8.1z"/><path fill="#fda26f" d="M345 721.4h8.1v8.2h-8.1z"/><path fill="#852681" d="M184.6 729.1h8.1v8.2h-8.1z"/><path fill="#852681" d="M192.2 729.1h8.1v8.2h-8.1z"/><path fill="#8c2980" d="M199.8 729.1h8.1v8.2h-8.1z"/><path fill="#992d7f" d="M207.5 729.1h8.1v8.2h-8.1z"/><path fill="#a7317d" d="M215.1 729.1h8.1v8.2h-8.1z"/><path fill="#b53679" d="M222.8 729.1h8.1v8.2h-8.1z"/><path fill="#bb3877" d="M230.4 729.1h8.1v8.2h-8.1z"/><path fill="#bd3977" d="M238 729.1h8.1v8.2h-8.1z"/><path fill="#b93778" d="M245.7 729.1h8.1v8.2h-8.1z"/><path fill="#b53679" d="M253.3 729.1h8.1v8.2h-8.1z"/><path fill="#b0347b" d="M261 729.1h8.1v8.2h-8.1z"/><path fill="#a7317d" d="M268.6 729.1h8.1v8.2h-8.1z"/><path fill="#972c7f" d="M276.2 729.1h8.1v8.2h-8.1z"/><path fill="#872781" d="M283.9 729.1h8.1v8.2h-8.1z"/><path fill="#912a80" d="M291.5 729.1h8.1v8.2h-8.1z"/><path fill="#b83778" d="M299.2 729.1h8.1v8.2h-8.1z"/><path fill="#e44e64" d="M306.8 729.1h8.1v8.2h-8.1z"/><path fill="#f97b5d" d="M314.4 729.1h8.1v8.2h-8.1z"/><path fill="#fd9f6c" d="M322.1 729.1h8.1v8.2h-8.1z"/><path fill="#feaf78" d="M329.7 729.1h8.1v8.2h-8.1z"/><path fill="#feaf78" d="M337.4 729.1h8.1v8.2h-8.1z"/><path fill="#feaf78" d="M345 729.1h8.1v8.2h-8.1z"/><path fill="#972c7f" d="M184.6 736.8h8.1v8.2h-8.1z"/><path fill="#972c7f" d="M192.2 736.8h8.1v8.2h-8.1z"/><path fill="#9e2e7e" d="M199.8 736.8h8.1v8.2h-8.1z"/><path fill="#b53679" d="M207.5 736.8h8.1v8.2h-8.1z"/><path fill="#d1426e" d="M215.1 736.8h8.1v8.2h-8.1z"/><path fill="#e75262" d="M222.8 736.8h8.1v8.2h-8.1z"/><path fill="#f1615c" d="M230.4 736.8h8.1v8.2h-8.1z"/><path fill="#f2635c" d="M238 736.8h8.1v8.2h-8.1z"/><path fill="#e55063" d="M245.7 736.8h8.1v8.2h-8.1z"/><path fill="#cb3e71" d="M253.3 736.8h8.1v8.2h-8.1z"/><path fill="#c23a75" d="M261 736.8h8.1v8.2h-8.1z"/><path fill="#d4436d" d="M268.6 736.8h8.1v8.2h-8.1z"/><path fill="#ee5b5e" d="M276.2 736.8h8.1v8.2h-8.1z"/><path fill="#f97b5d" d="M283.9 736.8h8.1v8.2h-8.1z"/><path fill="#fc8c63" d="M291.5 736.8h8.1v8.2h-8.1z"/><path fill="#fc8e63" d="M299.2 736.8h8.1v8.2h-8.1z"/><path fill="#fb8861" d="M306.8 736.8h8.1v8.2h-8.1z"/><path fill="#fb8861" d="M314.4 736.8h8.1v8.2h-8.1z"/><path fill="#fc9265" d="M322.1 736.8h8.1v8.2h-8.1z"/><path fill="#fea873" d="M329.7 736.8h8.1v8.2h-8.1z"/><path fill="#feb97f" d="M337.4 736.8h8.1v8.2h-8.1z"/><path fill="#feb97f" d="M345 736.8h8.1v8.2h-8.1z"/><path fill="#a3307e" d="M184.6 744.4h8.1v8.2h-8.1z"/><path fill="#a3307e" d="M192.2 744.4h8.1v8.2h-8.1z"/><path fill="#872781" d="M199.8 744.4h8.1v8.2h-8.1z"/><path fill="#892881" d="M207.5 744.4h8.1v8.2h-8.1z"/><path fill="#b63679" d="M215.1 744.4h8.1v8.2h-8.1z"/><path fill="#ea5560" d="M222.8 744.4h8.1v8.2h-8.1z"/><path fill="#f97b5d" d="M230.4 744.4h8.1v8.2h-8.1z"/><path fill="#fa805e" d="M238 744.4h8.1v8.2h-8.1z"/><path fill="#f1615c" d="M245.7 744.4h8.1v8.2h-8.1z"/><path fill="#d4436d" d="M253.3 744.4h8.1v8.2h-8.1z"/><path fill="#ce4070" d="M261 744.4h8.1v8.2h-8.1z"/><path fill="#ed595f" d="M268.6 744.4h8.1v8.2h-8.1z"/><path fill="#fc9366" d="M276.2 744.4h8.1v8.2h-8.1z"/><path fill="#fec085" d="M283.9 744.4h8.1v8.2h-8.1z"/><path fill="#fecb8e" d="M291.5 744.4h8.1v8.2h-8.1z"/><path fill="#feb57c" d="M299.2 744.4h8.1v8.2h-8.1z"/><path fill="#fd9969" d="M306.8 744.4h8.1v8.2h-8.1z"/><path fill="#fb8861" d="M314.4 744.4h8.1v8.2h-8.1z"/><path fill="#fc8c63" d="M322.1 744.4h8.1v8.2h-8.1z"/><path fill="#feaa74" d="M329.7 744.4h8.1v8.2h-8.1z"/><path fill="#fec286" d="M337.4 744.4h8.1v8.2h-8.1z"/><path fill="#fec286" d="M345 744.4h8.1v8.2h-8.1z"/><path fill="#a9327c" d="M184.6 752.1h8.1v8.2h-8.1z"/><path fill="#a9327c" d="M192.2 752.1h8.1v8.2h-8.1z"/><path fill="#61187f" d="M199.8 752.1h8.1v8.2h-8.1z"/><path fill="#390f6e" d="M207.5 752.1h8.1v8.2h-8.1z"/><path fill="#731f81" d="M215.1 752.1h8.1v8.2h-8.1z"/><path fill="#c83d72" d="M222.8 752.1h8.1v8.2h-8.1z"/><path fill="#f1615c" d="M230.4 752.1h8.1v8.2h-8.1z"/><path fill="#f56a5b" d="M238 752.1h8.1v8.2h-8.1z"/><path fill="#eb5660" d="M245.7 752.1h8.1v8.2h-8.1z"/><path fill="#d7456b" d="M253.3 752.1h8.1v8.2h-8.1z"/><path fill="#da4769" d="M261 752.1h8.1v8.2h-8.1z"/><path fill="#f2635c" d="M268.6 752.1h8.1v8.2h-8.1z"/><path fill="#fb8a62" d="M276.2 752.1h8.1v8.2h-8.1z"/><path fill="#fda16e" d="M283.9 752.1h8.1v8.2h-8.1z"/><path fill="#fd9f6c" d="M291.5 752.1h8.1v8.2h-8.1z"/><path fill="#fc8c63" d="M299.2 752.1h8.1v8.2h-8.1z"/><path fill="#fa7f5e" d="M306.8 752.1h8.1v8.2h-8.1z"/><path fill="#fb8460" d="M314.4 752.1h8.1v8.2h-8.1z"/><path fill="#fd9969" d="M322.1 752.1h8.1v8.2h-8.1z"/><path fill="#feb77d" d="M329.7 752.1h8.1v8.2h-8.1z"/><path fill="#fec98d" d="M337.4 752.1h8.1v8.2h-8.1z"/><path fill="#fec98d" d="M345 752.1h8.1v8.2h-8.1z"/><path fill="#a9327c" d="M184.6 759.8h8.1v8.2h-8.1z"/><path fill="#a9327c" d="M192.2 759.8h8.1v8.2h-8.1z"/><path fill="#61187f" d="M199.8 759.8h8.1v8.2h-8.1z"/><path fill="#390f6e" d="M207.5 759.8h8.1v8.2h-8.1z"/><path fill="#731f81" d="M215.1 759.8h8.1v8.2h-8.1z"/><path fill="#c83d72" d="M222.8 759.8h8.1v8.2h-8.1z"/><path fill="#f1615c" d="M230.4 759.8h8.1v8.2h-8.1z"/><path fill="#f56a5b" d="M238 759.8h8.1v8.2h-8.1z"/><path fill="#eb5660" d="M245.7 759.8h8.1v8.2h-8.1z"/><path fill="#d7456b" d="M253.3 759.8h8.1v8.2h-8.1z"/><path fill="#da4769" d="M261 759.8h8.1v8.2h-8.1z"/><path fill="#f2635c" d="M268.6 759.8h8.1v8.2h-8.1z"/><path fill="#fb8a62" d="M276.2 759.8h8.1v8.2h-8.1z"/><path fill="#fda16e" d="M283.9 759.8h8.1v8.2h-8.1z"/><path fill="#fd9f6c" d="M291.5 759.8h8.1v8.2h-8.1z"/><path fill="#fc8c63" d="M299.2 759.8h8.1v8.2h-8.1z"/><path fill="#fa7f5e" d="M306.8 759.8h8.1v8.2h-8.1z"/><path fill="#fb8460" d="M314.4 759.8h8.1v8.2h-8.1z"/><path fill="#fd9969" d="M322.1 759.8h8.1v8.2h-8.1z"/><path fill="#feb77d" d="M329.7 759.8h8.1v8.2h-8.1z"/><path fill="#fec98d" d="M337.4 759.8h8.1v8.2h-8.1z"/><path fill="#fec98d" d="M345 759.8h8.1v8.2h-8.1z"/></g>
<path d="M298.8 748.3L297.6 745.7L292.8 745.4L290.2 746.4L290.2 749.4L295.3 749.5L298.8 748.3M343.7 748.4L338.6 748.4L336.1 753.2L336 756" fill="none" stroke="#3a2a30" stroke-width="0.55" opacity="0.55"/>
<path d="M343.7 711.2L338.6 711.2L336.1 712.5L333.3 715L329.8 717.5L326.6 720.1L324 722.7L322.1 725.2L320.7 727.8L318.3 732.9L316.7 735.5L313.2 737.9L310.6 738.6L305.5 739.1L300.4 739.4L295.3 739.7L290.2 740.2L287.7 740.6L282.6 742.4L280.1 744.1L277.5 747.3L276.5 750.8L276.9 756M243.9 748.3L241.9 745.1L236.8 744.8L234.3 748.3L239.3 750.6L243.9 748.3" fill="none" stroke="#3a2a30" stroke-width="0.55" opacity="0.5"/>
<path d="M343.7 701L338.6 701L335.9 702.2L333.2 704.7L330.9 707.3L328.4 710.1L325.9 712.7L323.4 715.1L320.8 717.6L318.3 720.6L315.7 724.3L313.4 727.8L311.1 730.4L308.1 732.7L305.5 733.9L300.4 735.4L297.9 735.9L292.8 736.5L287.7 736.9L282.6 737.4L278.6 738L275 739.2L272.4 740.6L269.8 743.2L267.3 747.1L264.8 750.6L262.2 752.8L258 750.8L257.1 748.2L255.9 743.2L254.6 740.6L251.8 738L247 736.2L241.9 735.6L236.8 735.5L231.7 735.9L226.6 736.9L223.1 738L219.8 740.6L220.7 745.7L222.9 748.3L225.6 750.8L227.9 753.4L227.9 758.5" fill="none" stroke="#4a2a40" stroke-width="0.55" opacity="0.45"/>
<path d="M266.2 697.1L269.9 694.8L271.2 691.9L270.3 686.8L267.3 684.9L264.8 684.1L259.7 683.7L255.1 684.3L252 686.5L251.3 689.4L251.8 694.5L254 697.1L257.1 697.8L262.2 697.8L266.2 697.1M343.7 691.2L338.6 691.2L336.1 692.4L332.5 694.5L328.4 696.8L325.9 699L323.8 702.2L322.6 704.7L320.8 708L318.3 711.8L315.9 715L314.2 717.5L312.6 720.1L310.6 723.5L308.1 727L305.5 729.3L303 730.9L297.9 732.7L295.3 733.2L290.2 733.7L285.2 733.6L280.5 732.9L277.5 732.1L272.9 730.4L269.9 729.1L264.8 727.9L262.2 727.7L257.1 727.5L252 727.4L247 727.6L244.4 727.8L239.3 728.3L234.2 728.8L229.1 729.4L224 730.1L221.5 730.4L216.4 731.3L211.3 732.5L208.8 733.2L204.2 735.5L201.7 738L198.6 740.1L193.5 740.1M243.5 712.4L244.7 709.9L241.9 709L241.8 712.4L243.5 712.4M200.3 758.5L200.3 753.4L201.1 749L203 745.7L206.2 745.3L208.8 746L213.8 748.1L216.4 749.3L219 750.8L222.1 753.4L222.1 758.5" fill="none" stroke="#f0a878" stroke-width="0.55" opacity="0.5"/>
<path d="M239.6 676.6L239.6 681.7L242.4 684.3L244.4 689.4L242.1 694.5L239.3 696.9L236.8 698.9L234.2 702.1L233 704.7L231.8 709.9L231.6 712.4L230.9 717.5L229.1 720.4L225 722.7L221.5 723.6L216.4 724.3L211.3 724.6L206.2 724.3L201.1 722.8L198.6 722.2L193.5 722.2M334.1 676.6L334.1 681.7L332.9 684.3L328.4 686.4L323.4 686L319.1 684.3L315.7 681.7L315.7 676.6M285.2 689.6L282.4 689.4L285.2 688.9L285.2 689.6M269.9 720.2L264.8 721.3L259.7 721.2L256.2 720.1L253.3 717.5L252 712.8L252 711.7L252.8 707.3L254.6 704.6L259.7 702.4L262.2 702.1L266 702.2L269.9 703L272.4 705L274.3 709.9L274.9 715L272.4 719.2L269.9 720.2M292.8 730.6L287.7 730.4L285.2 729.8L281 727.8L278.6 725.2L277.5 722.7L277.5 718.8L280.1 716.6L283.2 715L287.7 713.2L290.2 712.4L295.3 710.9L300.4 709.9L303 709.6L305.5 710L307.8 715L306.8 720.1L305.5 723.1L303 726.4L300.4 728.3L295.3 730.2L292.8 730.6M204.3 758.5L204.3 753.4L208.8 751.1L213.8 752.1L216.4 756" fill="none" stroke="#e8a070" stroke-width="0.55" opacity="0.5"/>
<g fill="#0a0418" opacity="0.9" filter="url(#hb2)"><path d="M229 675.3 229.7 684.1 229 697.4 227.9 708.4 221.2 717.2 212.3 720.5 203.4 719.4 195.5 713.9 192.2 708.4 192.2 675.3Z" stroke="#36106a" stroke-width="11" stroke-linejoin="round"/><ellipse cx="263.6" cy="711.7" rx="3.1" ry="3.5"/><ellipse cx="292.6" cy="726" rx="4.5" ry="2.6"/><ellipse cx="326" cy="678.6" rx="2.7" ry="2.2"/><ellipse cx="223.4" cy="757.4" rx="3.1" ry="2.2"/></g>
<path d="M229 675.3L229.7 684.1L229 697.4L227.9 708.4L221.2 717.2L212.3 720.5L203.4 719.4L195.5 713.9L192.2 708.4" fill="none" stroke="#fff" stroke-width="2.7" stroke-linecap="round" stroke-linejoin="round" stroke-dasharray="0 4.2"/>
</g>
<text x="195.7" y="693.3" font-size="14" text-anchor="start" fill="#fff">(II)</text>
<text x="336" y="693.3" font-size="13" text-anchor="end" fill="#fff">t = 12 min</text>
<rect x="206.2" y="750.8" width="36" height="4" fill="#fff"/>
<clipPath id="cl2"><rect x="348.1" y="675.3" width="152.8" height="84.5"/></clipPath>
<g clip-path="url(#cl2)"><g filter="url(#hb)"><path fill="#281159" d="M340.5 667.6h8.1v8.2h-8.1z"/><path fill="#281159" d="M348.1 667.6h8.1v8.2h-8.1z"/><path fill="#08061d" d="M355.7 667.6h8.1v8.2h-8.1z"/><path fill="#02020d" d="M363.4 667.6h8.1v8.2h-8.1z"/><path fill="#180f3f" d="M371 667.6h8.1v8.2h-8.1z"/><path fill="#470f77" d="M378.7 667.6h8.1v8.2h-8.1z"/><path fill="#681b80" d="M386.3 667.6h8.1v8.2h-8.1z"/><path fill="#762181" d="M393.9 667.6h8.1v8.2h-8.1z"/><path fill="#852681" d="M401.6 667.6h8.1v8.2h-8.1z"/><path fill="#922b80" d="M409.2 667.6h8.1v8.2h-8.1z"/><path fill="#8d2980" d="M416.9 667.6h8.1v8.2h-8.1z"/><path fill="#7a2281" d="M424.5 667.6h8.1v8.2h-8.1z"/><path fill="#6e1e81" d="M432.1 667.6h8.1v8.2h-8.1z"/><path fill="#6f1e81" d="M439.8 667.6h8.1v8.2h-8.1z"/><path fill="#742081" d="M447.4 667.6h8.1v8.2h-8.1z"/><path fill="#792281" d="M455.1 667.6h8.1v8.2h-8.1z"/><path fill="#842681" d="M462.7 667.6h8.1v8.2h-8.1z"/><path fill="#992d7f" d="M470.3 667.6h8.1v8.2h-8.1z"/><path fill="#be3976" d="M478 667.6h8.1v8.2h-8.1z"/><path fill="#eb5660" d="M485.6 667.6h8.1v8.2h-8.1z"/><path fill="#f8775c" d="M493.3 667.6h8.1v8.2h-8.1z"/><path fill="#f8775c" d="M500.9 667.6h8.1v8.2h-8.1z"/><path fill="#281159" d="M340.5 675.3h8.1v8.2h-8.1z"/><path fill="#281159" d="M348.1 675.3h8.1v8.2h-8.1z"/><path fill="#08061d" d="M355.7 675.3h8.1v8.2h-8.1z"/><path fill="#02020d" d="M363.4 675.3h8.1v8.2h-8.1z"/><path fill="#180f3f" d="M371 675.3h8.1v8.2h-8.1z"/><path fill="#470f77" d="M378.7 675.3h8.1v8.2h-8.1z"/><path fill="#681b80" d="M386.3 675.3h8.1v8.2h-8.1z"/><path fill="#762181" d="M393.9 675.3h8.1v8.2h-8.1z"/><path fill="#852681" d="M401.6 675.3h8.1v8.2h-8.1z"/><path fill="#922b80" d="M409.2 675.3h8.1v8.2h-8.1z"/><path fill="#8d2980" d="M416.9 675.3h8.1v8.2h-8.1z"/><path fill="#7a2281" d="M424.5 675.3h8.1v8.2h-8.1z"/><path fill="#6e1e81" d="M432.1 675.3h8.1v8.2h-8.1z"/><path fill="#6f1e81" d="M439.8 675.3h8.1v8.2h-8.1z"/><path fill="#742081" d="M447.4 675.3h8.1v8.2h-8.1z"/><path fill="#792281" d="M455.1 675.3h8.1v8.2h-8.1z"/><path fill="#842681" d="M462.7 675.3h8.1v8.2h-8.1z"/><path fill="#992d7f" d="M470.3 675.3h8.1v8.2h-8.1z"/><path fill="#be3976" d="M478 675.3h8.1v8.2h-8.1z"/><path fill="#eb5660" d="M485.6 675.3h8.1v8.2h-8.1z"/><path fill="#f8775c" d="M493.3 675.3h8.1v8.2h-8.1z"/><path fill="#f8775c" d="M500.9 675.3h8.1v8.2h-8.1z"/><path fill="#481078" d="M340.5 683h8.1v8.2h-8.1z"/><path fill="#481078" d="M348.1 683h8.1v8.2h-8.1z"/><path fill="#20114d" d="M355.7 683h8.1v8.2h-8.1z"/><path fill="#07051b" d="M363.4 683h8.1v8.2h-8.1z"/><path fill="#1a1041" d="M371 683h8.1v8.2h-8.1z"/><path fill="#4b1079" d="M378.7 683h8.1v8.2h-8.1z"/><path fill="#852681" d="M386.3 683h8.1v8.2h-8.1z"/><path fill="#b63679" d="M393.9 683h8.1v8.2h-8.1z"/><path fill="#d0416f" d="M401.6 683h8.1v8.2h-8.1z"/><path fill="#cd3f70" d="M409.2 683h8.1v8.2h-8.1z"/><path fill="#b3357a" d="M416.9 683h8.1v8.2h-8.1z"/><path fill="#8c2980" d="M424.5 683h8.1v8.2h-8.1z"/><path fill="#6b1c80" d="M432.1 683h8.1v8.2h-8.1z"/><path fill="#5b167e" d="M439.8 683h8.1v8.2h-8.1z"/><path fill="#651a80" d="M447.4 683h8.1v8.2h-8.1z"/><path fill="#7a2281" d="M455.1 683h8.1v8.2h-8.1z"/><path fill="#7c2381" d="M462.7 683h8.1v8.2h-8.1z"/><path fill="#6f1e81" d="M470.3 683h8.1v8.2h-8.1z"/><path fill="#7e2481" d="M478 683h8.1v8.2h-8.1z"/><path fill="#cb3e71" d="M485.6 683h8.1v8.2h-8.1z"/><path fill="#f8775c" d="M493.3 683h8.1v8.2h-8.1z"/><path fill="#f8775c" d="M500.9 683h8.1v8.2h-8.1z"/><path fill="#3e0f72" d="M340.5 690.7h8.1v8.2h-8.1z"/><path fill="#3e0f72" d="M348.1 690.7h8.1v8.2h-8.1z"/><path fill="#1a1041" d="M355.7 690.7h8.1v8.2h-8.1z"/><path fill="#02020f" d="M363.4 690.7h8.1v8.2h-8.1z"/><path fill="#09071f" d="M371 690.7h8.1v8.2h-8.1z"/><path fill="#370f6c" d="M378.7 690.7h8.1v8.2h-8.1z"/><path fill="#772181" d="M386.3 690.7h8.1v8.2h-8.1z"/><path fill="#b1357a" d="M393.9 690.7h8.1v8.2h-8.1z"/><path fill="#ce4070" d="M401.6 690.7h8.1v8.2h-8.1z"/><path fill="#cb3e71" d="M409.2 690.7h8.1v8.2h-8.1z"/><path fill="#b1357a" d="M416.9 690.7h8.1v8.2h-8.1z"/><path fill="#8d2980" d="M424.5 690.7h8.1v8.2h-8.1z"/><path fill="#711f81" d="M432.1 690.7h8.1v8.2h-8.1z"/><path fill="#661a80" d="M439.8 690.7h8.1v8.2h-8.1z"/><path fill="#731f81" d="M447.4 690.7h8.1v8.2h-8.1z"/><path fill="#852681" d="M455.1 690.7h8.1v8.2h-8.1z"/><path fill="#7e2481" d="M462.7 690.7h8.1v8.2h-8.1z"/><path fill="#63197f" d="M470.3 690.7h8.1v8.2h-8.1z"/><path fill="#691c80" d="M478 690.7h8.1v8.2h-8.1z"/><path fill="#c03a75" d="M485.6 690.7h8.1v8.2h-8.1z"/><path fill="#f8775c" d="M493.3 690.7h8.1v8.2h-8.1z"/><path fill="#f8775c" d="M500.9 690.7h8.1v8.2h-8.1z"/><path fill="#180f3f" d="M340.5 698.3h8.1v8.2h-8.1z"/><path fill="#180f3f" d="M348.1 698.3h8.1v8.2h-8.1z"/><path fill="#030311" d="M355.7 698.3h8.1v8.2h-8.1z"/><path fill="#000003" d="M363.4 698.3h8.1v8.2h-8.1z"/><path fill="#02020d" d="M371 698.3h8.1v8.2h-8.1z"/><path fill="#1b1044" d="M378.7 698.3h8.1v8.2h-8.1z"/><path fill="#450f76" d="M386.3 698.3h8.1v8.2h-8.1z"/><path fill="#651a80" d="M393.9 698.3h8.1v8.2h-8.1z"/><path fill="#792281" d="M401.6 698.3h8.1v8.2h-8.1z"/><path fill="#822581" d="M409.2 698.3h8.1v8.2h-8.1z"/><path fill="#7f2481" d="M416.9 698.3h8.1v8.2h-8.1z"/><path fill="#792281" d="M424.5 698.3h8.1v8.2h-8.1z"/><path fill="#772181" d="M432.1 698.3h8.1v8.2h-8.1z"/><path fill="#7f2481" d="M439.8 698.3h8.1v8.2h-8.1z"/><path fill="#872781" d="M447.4 698.3h8.1v8.2h-8.1z"/><path fill="#8c2980" d="M455.1 698.3h8.1v8.2h-8.1z"/><path fill="#872781" d="M462.7 698.3h8.1v8.2h-8.1z"/><path fill="#822581" d="M470.3 698.3h8.1v8.2h-8.1z"/><path fill="#992d7f" d="M478 698.3h8.1v8.2h-8.1z"/><path fill="#da4769" d="M485.6 698.3h8.1v8.2h-8.1z"/><path fill="#f97b5d" d="M493.3 698.3h8.1v8.2h-8.1z"/><path fill="#f97b5d" d="M500.9 698.3h8.1v8.2h-8.1z"/><path fill="#0c0926" d="M340.5 706h8.1v8.2h-8.1z"/><path fill="#0c0926" d="M348.1 706h8.1v8.2h-8.1z"/><path fill="#02020f" d="M355.7 706h8.1v8.2h-8.1z"/><path fill="#000006" d="M363.4 706h8.1v8.2h-8.1z"/><path fill="#040313" d="M371 706h8.1v8.2h-8.1z"/><path fill="#160e3a" d="M378.7 706h8.1v8.2h-8.1z"/><path fill="#1f114b" d="M386.3 706h8.1v8.2h-8.1z"/><path fill="#1f114b" d="M393.9 706h8.1v8.2h-8.1z"/><path fill="#221150" d="M401.6 706h8.1v8.2h-8.1z"/><path fill="#2f1062" d="M409.2 706h8.1v8.2h-8.1z"/><path fill="#470f77" d="M416.9 706h8.1v8.2h-8.1z"/><path fill="#5e177f" d="M424.5 706h8.1v8.2h-8.1z"/><path fill="#6e1e81" d="M432.1 706h8.1v8.2h-8.1z"/><path fill="#762181" d="M439.8 706h8.1v8.2h-8.1z"/><path fill="#762181" d="M447.4 706h8.1v8.2h-8.1z"/><path fill="#792281" d="M455.1 706h8.1v8.2h-8.1z"/><path fill="#892881" d="M462.7 706h8.1v8.2h-8.1z"/><path fill="#a7317d" d="M470.3 706h8.1v8.2h-8.1z"/><path fill="#d1426e" d="M478 706h8.1v8.2h-8.1z"/><path fill="#f3675b" d="M485.6 706h8.1v8.2h-8.1z"/><path fill="#fa825f" d="M493.3 706h8.1v8.2h-8.1z"/><path fill="#fa825f" d="M500.9 706h8.1v8.2h-8.1z"/><path fill="#481078" d="M340.5 713.7h8.1v8.2h-8.1z"/><path fill="#481078" d="M348.1 713.7h8.1v8.2h-8.1z"/><path fill="#370f6c" d="M355.7 713.7h8.1v8.2h-8.1z"/><path fill="#2a115c" d="M363.4 713.7h8.1v8.2h-8.1z"/><path fill="#2d1060" d="M371 713.7h8.1v8.2h-8.1z"/><path fill="#370f6c" d="M378.7 713.7h8.1v8.2h-8.1z"/><path fill="#390f6e" d="M386.3 713.7h8.1v8.2h-8.1z"/><path fill="#2d1060" d="M393.9 713.7h8.1v8.2h-8.1z"/><path fill="#1f114b" d="M401.6 713.7h8.1v8.2h-8.1z"/><path fill="#180f3f" d="M409.2 713.7h8.1v8.2h-8.1z"/><path fill="#2d1060" d="M416.9 713.7h8.1v8.2h-8.1z"/><path fill="#52127c" d="M424.5 713.7h8.1v8.2h-8.1z"/><path fill="#52127c" d="M432.1 713.7h8.1v8.2h-8.1z"/><path fill="#2f1062" d="M439.8 713.7h8.1v8.2h-8.1z"/><path fill="#251155" d="M447.4 713.7h8.1v8.2h-8.1z"/><path fill="#4a1079" d="M455.1 713.7h8.1v8.2h-8.1z"/><path fill="#812581" d="M462.7 713.7h8.1v8.2h-8.1z"/><path fill="#b93778" d="M470.3 713.7h8.1v8.2h-8.1z"/><path fill="#e85461" d="M478 713.7h8.1v8.2h-8.1z"/><path fill="#fa7f5e" d="M485.6 713.7h8.1v8.2h-8.1z"/><path fill="#fc9064" d="M493.3 713.7h8.1v8.2h-8.1z"/><path fill="#fc9064" d="M500.9 713.7h8.1v8.2h-8.1z"/><path fill="#8c2980" d="M340.5 721.4h8.1v8.2h-8.1z"/><path fill="#8c2980" d="M348.1 721.4h8.1v8.2h-8.1z"/><path fill="#7f2481" d="M355.7 721.4h8.1v8.2h-8.1z"/><path fill="#6e1e81" d="M363.4 721.4h8.1v8.2h-8.1z"/><path fill="#681b80" d="M371 721.4h8.1v8.2h-8.1z"/><path fill="#681b80" d="M378.7 721.4h8.1v8.2h-8.1z"/><path fill="#6b1c80" d="M386.3 721.4h8.1v8.2h-8.1z"/><path fill="#681b80" d="M393.9 721.4h8.1v8.2h-8.1z"/><path fill="#52127c" d="M401.6 721.4h8.1v8.2h-8.1z"/><path fill="#370f6c" d="M409.2 721.4h8.1v8.2h-8.1z"/><path fill="#4b1079" d="M416.9 721.4h8.1v8.2h-8.1z"/><path fill="#731f81" d="M424.5 721.4h8.1v8.2h-8.1z"/><path fill="#661a80" d="M432.1 721.4h8.1v8.2h-8.1z"/><path fill="#281159" d="M439.8 721.4h8.1v8.2h-8.1z"/><path fill="#1a1041" d="M447.4 721.4h8.1v8.2h-8.1z"/><path fill="#53137c" d="M455.1 721.4h8.1v8.2h-8.1z"/><path fill="#992d7f" d="M462.7 721.4h8.1v8.2h-8.1z"/><path fill="#d3426d" d="M470.3 721.4h8.1v8.2h-8.1z"/><path fill="#f4685b" d="M478 721.4h8.1v8.2h-8.1z"/><path fill="#fc9265" d="M485.6 721.4h8.1v8.2h-8.1z"/><path fill="#fda470" d="M493.3 721.4h8.1v8.2h-8.1z"/><path fill="#fda470" d="M500.9 721.4h8.1v8.2h-8.1z"/><path fill="#a3307e" d="M340.5 729.1h8.1v8.2h-8.1z"/><path fill="#a3307e" d="M348.1 729.1h8.1v8.2h-8.1z"/><path fill="#9a2d7f" d="M355.7 729.1h8.1v8.2h-8.1z"/><path fill="#8f2a80" d="M363.4 729.1h8.1v8.2h-8.1z"/><path fill="#892881" d="M371 729.1h8.1v8.2h-8.1z"/><path fill="#872781" d="M378.7 729.1h8.1v8.2h-8.1z"/><path fill="#8a2881" d="M386.3 729.1h8.1v8.2h-8.1z"/><path fill="#8a2881" d="M393.9 729.1h8.1v8.2h-8.1z"/><path fill="#7c2381" d="M401.6 729.1h8.1v8.2h-8.1z"/><path fill="#6f1e81" d="M409.2 729.1h8.1v8.2h-8.1z"/><path fill="#8c2980" d="M416.9 729.1h8.1v8.2h-8.1z"/><path fill="#c53c74" d="M424.5 729.1h8.1v8.2h-8.1z"/><path fill="#d4436d" d="M432.1 729.1h8.1v8.2h-8.1z"/><path fill="#be3976" d="M439.8 729.1h8.1v8.2h-8.1z"/><path fill="#b3357a" d="M447.4 729.1h8.1v8.2h-8.1z"/><path fill="#ca3e72" d="M455.1 729.1h8.1v8.2h-8.1z"/><path fill="#e55063" d="M462.7 729.1h8.1v8.2h-8.1z"/><path fill="#f66e5b" d="M470.3 729.1h8.1v8.2h-8.1z"/><path fill="#fc8e63" d="M478 729.1h8.1v8.2h-8.1z"/><path fill="#feac75" d="M485.6 729.1h8.1v8.2h-8.1z"/><path fill="#febb80" d="M493.3 729.1h8.1v8.2h-8.1z"/><path fill="#febb80" d="M500.9 729.1h8.1v8.2h-8.1z"/><path fill="#9c2e7f" d="M340.5 736.8h8.1v8.2h-8.1z"/><path fill="#9c2e7f" d="M348.1 736.8h8.1v8.2h-8.1z"/><path fill="#972c7f" d="M355.7 736.8h8.1v8.2h-8.1z"/><path fill="#942b80" d="M363.4 736.8h8.1v8.2h-8.1z"/><path fill="#942b80" d="M371 736.8h8.1v8.2h-8.1z"/><path fill="#942b80" d="M378.7 736.8h8.1v8.2h-8.1z"/><path fill="#952c80" d="M386.3 736.8h8.1v8.2h-8.1z"/><path fill="#972c7f" d="M393.9 736.8h8.1v8.2h-8.1z"/><path fill="#922b80" d="M401.6 736.8h8.1v8.2h-8.1z"/><path fill="#972c7f" d="M409.2 736.8h8.1v8.2h-8.1z"/><path fill="#c03a75" d="M416.9 736.8h8.1v8.2h-8.1z"/><path fill="#f3655c" d="M424.5 736.8h8.1v8.2h-8.1z"/><path fill="#fd9d6b" d="M432.1 736.8h8.1v8.2h-8.1z"/><path fill="#feb37b" d="M439.8 736.8h8.1v8.2h-8.1z"/><path fill="#feb37b" d="M447.4 736.8h8.1v8.2h-8.1z"/><path fill="#fea671" d="M455.1 736.8h8.1v8.2h-8.1z"/><path fill="#fd9f6c" d="M462.7 736.8h8.1v8.2h-8.1z"/><path fill="#fda470" d="M470.3 736.8h8.1v8.2h-8.1z"/><path fill="#feb37b" d="M478 736.8h8.1v8.2h-8.1z"/><path fill="#fec488" d="M485.6 736.8h8.1v8.2h-8.1z"/><path fill="#fdcd90" d="M493.3 736.8h8.1v8.2h-8.1z"/><path fill="#fdcd90" d="M500.9 736.8h8.1v8.2h-8.1z"/><path fill="#912a80" d="M340.5 744.4h8.1v8.2h-8.1z"/><path fill="#912a80" d="M348.1 744.4h8.1v8.2h-8.1z"/><path fill="#892881" d="M355.7 744.4h8.1v8.2h-8.1z"/><path fill="#852681" d="M363.4 744.4h8.1v8.2h-8.1z"/><path fill="#8c2980" d="M371 744.4h8.1v8.2h-8.1z"/><path fill="#942b80" d="M378.7 744.4h8.1v8.2h-8.1z"/><path fill="#952c80" d="M386.3 744.4h8.1v8.2h-8.1z"/><path fill="#912a80" d="M393.9 744.4h8.1v8.2h-8.1z"/><path fill="#8a2881" d="M401.6 744.4h8.1v8.2h-8.1z"/><path fill="#8f2a80" d="M409.2 744.4h8.1v8.2h-8.1z"/><path fill="#b0347b" d="M416.9 744.4h8.1v8.2h-8.1z"/><path fill="#e14c66" d="M424.5 744.4h8.1v8.2h-8.1z"/><path fill="#fa7f5e" d="M432.1 744.4h8.1v8.2h-8.1z"/><path fill="#feaa74" d="M439.8 744.4h8.1v8.2h-8.1z"/><path fill="#feb77d" d="M447.4 744.4h8.1v8.2h-8.1z"/><path fill="#feaf78" d="M455.1 744.4h8.1v8.2h-8.1z"/><path fill="#feaa74" d="M462.7 744.4h8.1v8.2h-8.1z"/><path fill="#feaf78" d="M470.3 744.4h8.1v8.2h-8.1z"/><path fill="#febe83" d="M478 744.4h8.1v8.2h-8.1z"/><path fill="#fdd193" d="M485.6 744.4h8.1v8.2h-8.1z"/><path fill="#fdda9c" d="M493.3 744.4h8.1v8.2h-8.1z"/><path fill="#fdda9c" d="M500.9 744.4h8.1v8.2h-8.1z"/><path fill="#942b80" d="M340.5 752.1h8.1v8.2h-8.1z"/><path fill="#942b80" d="M348.1 752.1h8.1v8.2h-8.1z"/><path fill="#822581" d="M355.7 752.1h8.1v8.2h-8.1z"/><path fill="#792281" d="M363.4 752.1h8.1v8.2h-8.1z"/><path fill="#822581" d="M371 752.1h8.1v8.2h-8.1z"/><path fill="#912a80" d="M378.7 752.1h8.1v8.2h-8.1z"/><path fill="#922b80" d="M386.3 752.1h8.1v8.2h-8.1z"/><path fill="#852681" d="M393.9 752.1h8.1v8.2h-8.1z"/><path fill="#731f81" d="M401.6 752.1h8.1v8.2h-8.1z"/><path fill="#661a80" d="M409.2 752.1h8.1v8.2h-8.1z"/><path fill="#6c1d80" d="M416.9 752.1h8.1v8.2h-8.1z"/><path fill="#852681" d="M424.5 752.1h8.1v8.2h-8.1z"/><path fill="#9f2f7e" d="M432.1 752.1h8.1v8.2h-8.1z"/><path fill="#b3357a" d="M439.8 752.1h8.1v8.2h-8.1z"/><path fill="#cd3f70" d="M447.4 752.1h8.1v8.2h-8.1z"/><path fill="#e85461" d="M455.1 752.1h8.1v8.2h-8.1z"/><path fill="#f7735c" d="M462.7 752.1h8.1v8.2h-8.1z"/><path fill="#fc9366" d="M470.3 752.1h8.1v8.2h-8.1z"/><path fill="#feb179" d="M478 752.1h8.1v8.2h-8.1z"/><path fill="#fdcd90" d="M485.6 752.1h8.1v8.2h-8.1z"/><path fill="#fddc9d" d="M493.3 752.1h8.1v8.2h-8.1z"/><path fill="#fddc9d" d="M500.9 752.1h8.1v8.2h-8.1z"/><path fill="#942b80" d="M340.5 759.8h8.1v8.2h-8.1z"/><path fill="#942b80" d="M348.1 759.8h8.1v8.2h-8.1z"/><path fill="#822581" d="M355.7 759.8h8.1v8.2h-8.1z"/><path fill="#792281" d="M363.4 759.8h8.1v8.2h-8.1z"/><path fill="#822581" d="M371 759.8h8.1v8.2h-8.1z"/><path fill="#912a80" d="M378.7 759.8h8.1v8.2h-8.1z"/><path fill="#922b80" d="M386.3 759.8h8.1v8.2h-8.1z"/><path fill="#852681" d="M393.9 759.8h8.1v8.2h-8.1z"/><path fill="#731f81" d="M401.6 759.8h8.1v8.2h-8.1z"/><path fill="#661a80" d="M409.2 759.8h8.1v8.2h-8.1z"/><path fill="#6c1d80" d="M416.9 759.8h8.1v8.2h-8.1z"/><path fill="#852681" d="M424.5 759.8h8.1v8.2h-8.1z"/><path fill="#9f2f7e" d="M432.1 759.8h8.1v8.2h-8.1z"/><path fill="#b3357a" d="M439.8 759.8h8.1v8.2h-8.1z"/><path fill="#cd3f70" d="M447.4 759.8h8.1v8.2h-8.1z"/><path fill="#e85461" d="M455.1 759.8h8.1v8.2h-8.1z"/><path fill="#f7735c" d="M462.7 759.8h8.1v8.2h-8.1z"/><path fill="#fc9366" d="M470.3 759.8h8.1v8.2h-8.1z"/><path fill="#feb179" d="M478 759.8h8.1v8.2h-8.1z"/><path fill="#fdcd90" d="M485.6 759.8h8.1v8.2h-8.1z"/><path fill="#fddc9d" d="M493.3 759.8h8.1v8.2h-8.1z"/><path fill="#fddc9d" d="M500.9 759.8h8.1v8.2h-8.1z"/></g>
<path d="M499.6 736.2L494.5 736.2L491.5 738L488.7 740.6L485.9 743.2L484 745.7L484.3 749.1L486.6 753.4L486.6 758.5M457.4 745.7L455.7 743.2L451.2 742.2L446.1 742L441.9 743.2L443.6 746.1L448.7 747L453.8 746.7L457.4 745.7" fill="none" stroke="#3a2a30" stroke-width="0.55" opacity="0.55"/>
<path d="M499.6 703.5L494.5 703.5L493.9 707.3L492 710.8L489.9 715L488.7 717.5L486.9 721.6L485.1 725.2L483.3 727.8L480.7 730.4L477.2 732.9L474.2 734.5L471.6 735.5L466.5 736.8L461.4 737.4L456.3 737.5L451.2 737.4L446.1 737.3L441.1 737.1L436 737.4L433.4 738.3L430.9 740.7L430.9 744.4L433.4 747.1L436 748.5L441.1 749.6L446.1 750.4L451.2 750.8L453.8 751L458.9 751.4L464 752.1L468.4 753.4L468.4 758.5" fill="none" stroke="#3a2a30" stroke-width="0.55" opacity="0.5"/>
<path d="M485.5 676.6L485.5 681.7L488.6 684.3L490 686.8L490.6 691.9L490.2 697.1L489.4 700.6L487.2 704.7L484.9 707.3L482.2 709.9L480.1 712.4L478.8 715L477 720.1L476 722.7L474.2 725.5L471.6 728L468.1 730.4L464 732.2L461.4 733L456.3 734L451.2 734.4L446.1 734.3L441.1 733.6L436.3 732.9L433.4 732.8L430.9 733.3L427 735.5L424.6 738L423.2 740.6L423.2 744.9L425.8 747.8L428.3 749.1L433.4 750.8L436 751.3L441.1 752L446.1 752.6L451.2 753.1L453 756M413.8 691.9L413 688.5L407.9 687.4L402.9 688.7L402.3 691.9L405.4 693.4L410.5 693.5L413.8 691.9" fill="none" stroke="#4a2a40" stroke-width="0.55" opacity="0.45"/>
<path d="M473.2 676.6L473.2 681.7L476.7 683L480.4 684.3L484.3 686.2L486.6 689.4L487 691.9L486.8 694.5L484.4 699.6L481.8 701.9L479.3 703.4L476.4 704.7L472 707.3L470.2 709.9L469.6 715L469.1 719.3L468 722.7L466.3 725.2L463.3 727.8L458.9 730L456.3 730.9L451.2 731.7L446.1 731.6L441.1 730.6L438.5 729.8L433.4 728.2L428.3 728.8L425.4 730.4L422 732.9L418.9 735.5L415.7 738L413 740.1L410.5 742.5L410.5 744.2L413 746.7L415.6 748.4L420.7 750.3L423.2 751.2L428.3 752.5L433 753.4L433 758.5M419.1 699.6L423.2 697.9L425.8 695.6L427.3 691.9L426.5 686.8L423.9 684.3L420.7 682.7L415.6 681.9L410.5 682.2L405.4 682.8L400.3 683.5L396.9 684.3L392.7 686.7L391.8 689.4L392.7 692.5L395.2 695.8L397.8 697.6L402.9 699.5L405.4 700L410.5 700.4L415.6 700.2L419.1 699.6M349.4 743.7L354.5 743.7L357 742.8L362 740.6L364.7 738.8L364.8 735.5L362.5 732.9L359.6 730.4L357 728.3L354.5 727.3L349.4 727.3M390 748.3L392.7 746.2L395.2 744.4L398.1 743.2L397.8 740.1L392.7 740L389.5 740.6L385 742.3L383.1 745.7L385 748.4L390 748.3" fill="none" stroke="#f0a878" stroke-width="0.55" opacity="0.5"/>
<path d="M386.2 676.6L386.2 681.7L384.7 684.3L384.6 689.4L385.4 691.9L387.6 696.2L390.1 699.3L392.7 701.1L395.2 702.4L400.3 703.8L405.4 704.7L407.9 705.1L413 705.8L418.1 706.6L421.6 707.3L425.8 709.2L428.3 711.6L430.8 715L433.4 716.5L436.3 715L441.1 713.7L446.1 713.1L451.2 713L456.3 713.8L458.9 715L461.4 718.6L461.4 721.9L459.6 725.2L456.3 727.4L453.8 728.4L448.7 729.1L443.6 728.2L441.1 727.2L437.7 725.2L434.9 722.7L432.6 720.1L429.8 720.1L426.3 722.7L423.2 725.2L420.7 727.1L418.1 728.7L413 729.8L407.9 728.1L405.4 726.6L402.9 725.1L397.8 723.3L394 722.7L390.1 722.4L385 722.5L382.5 722.7L377.4 723L372.3 723L368.8 722.7L364.7 722.1L359.6 720.8L357 719.8L351.9 719.2" fill="none" stroke="#e8a070" stroke-width="0.55" opacity="0.5"/>
<g fill="#0a0418" opacity="0.9" filter="url(#hb2)"><path d="M358.1 675.3 357 684.1 354.8 697.4 353.7 706.2 358.1 712.8 372.6 716.8 401.6 716.8 411.7 719.4 415 727.8 418.4 722.7 416.1 711.7 403.9 707.3 388.3 703.5 381.6 697.4 379.3 686.3 383.8 675.3Z" stroke="#36106a" stroke-width="11" stroke-linejoin="round"/><ellipse cx="449.6" cy="724.9" rx="3.6" ry="2.2"/><ellipse cx="481.9" cy="677.5" rx="2.7" ry="2.2"/><ellipse cx="432.9" cy="759.8" rx="2.7" ry="1.8"/><ellipse cx="361.5" cy="759.8" rx="2.7" ry="1.8"/></g>
<path d="M358.1 675.3L357 684.1L354.8 697.4L353.7 706.2L358.1 712.8L372.6 716.8L401.6 716.8L411.7 719.4L415 727.8L418.4 722.7L416.1 711.7L403.9 707.3L388.3 703.5L381.6 697.4L379.3 686.3L383.8 675.3" fill="none" stroke="#fff" stroke-width="2.7" stroke-linecap="round" stroke-linejoin="round" stroke-dasharray="0 4.2"/>
</g>
<text x="351.6" y="693.3" font-size="14" text-anchor="start" fill="#fff">(III)</text>
<text x="491.9" y="693.3" font-size="13" text-anchor="end" fill="#fff">t = 15 min</text>
<rect x="363.6" y="750.8" width="36" height="4" fill="#fff"/>
<clipPath id="cl3"><rect x="504.2" y="675.3" width="152.8" height="84.5"/></clipPath>
<g clip-path="url(#cl3)"><g filter="url(#hb)"><path fill="#0d0a28" d="M496.6 667.6h8.1v8.2h-8.1z"/><path fill="#0d0a28" d="M504.2 667.6h8.1v8.2h-8.1z"/><path fill="#0c0926" d="M511.8 667.6h8.1v8.2h-8.1z"/><path fill="#0c0926" d="M519.5 667.6h8.1v8.2h-8.1z"/><path fill="#150e38" d="M527.1 667.6h8.1v8.2h-8.1z"/><path fill="#1f114b" d="M534.8 667.6h8.1v8.2h-8.1z"/><path fill="#341068" d="M542.4 667.6h8.1v8.2h-8.1z"/><path fill="#4f117b" d="M550 667.6h8.1v8.2h-8.1z"/><path fill="#63197f" d="M557.7 667.6h8.1v8.2h-8.1z"/><path fill="#6e1e81" d="M565.3 667.6h8.1v8.2h-8.1z"/><path fill="#731f81" d="M573 667.6h8.1v8.2h-8.1z"/><path fill="#731f81" d="M580.6 667.6h8.1v8.2h-8.1z"/><path fill="#6e1e81" d="M588.2 667.6h8.1v8.2h-8.1z"/><path fill="#681b80" d="M595.9 667.6h8.1v8.2h-8.1z"/><path fill="#681b80" d="M603.5 667.6h8.1v8.2h-8.1z"/><path fill="#6e1e81" d="M611.2 667.6h8.1v8.2h-8.1z"/><path fill="#742081" d="M618.8 667.6h8.1v8.2h-8.1z"/><path fill="#7f2481" d="M626.4 667.6h8.1v8.2h-8.1z"/><path fill="#952c80" d="M634.1 667.6h8.1v8.2h-8.1z"/><path fill="#c63c73" d="M641.7 667.6h8.1v8.2h-8.1z"/><path fill="#e55063" d="M649.4 667.6h8.1v8.2h-8.1z"/><path fill="#e55063" d="M657 667.6h8.1v8.2h-8.1z"/><path fill="#0d0a28" d="M496.6 675.3h8.1v8.2h-8.1z"/><path fill="#0d0a28" d="M504.2 675.3h8.1v8.2h-8.1z"/><path fill="#0c0926" d="M511.8 675.3h8.1v8.2h-8.1z"/><path fill="#0c0926" d="M519.5 675.3h8.1v8.2h-8.1z"/><path fill="#150e38" d="M527.1 675.3h8.1v8.2h-8.1z"/><path fill="#1f114b" d="M534.8 675.3h8.1v8.2h-8.1z"/><path fill="#341068" d="M542.4 675.3h8.1v8.2h-8.1z"/><path fill="#4f117b" d="M550 675.3h8.1v8.2h-8.1z"/><path fill="#63197f" d="M557.7 675.3h8.1v8.2h-8.1z"/><path fill="#6e1e81" d="M565.3 675.3h8.1v8.2h-8.1z"/><path fill="#731f81" d="M573 675.3h8.1v8.2h-8.1z"/><path fill="#731f81" d="M580.6 675.3h8.1v8.2h-8.1z"/><path fill="#6e1e81" d="M588.2 675.3h8.1v8.2h-8.1z"/><path fill="#681b80" d="M595.9 675.3h8.1v8.2h-8.1z"/><path fill="#681b80" d="M603.5 675.3h8.1v8.2h-8.1z"/><path fill="#6e1e81" d="M611.2 675.3h8.1v8.2h-8.1z"/><path fill="#742081" d="M618.8 675.3h8.1v8.2h-8.1z"/><path fill="#7f2481" d="M626.4 675.3h8.1v8.2h-8.1z"/><path fill="#952c80" d="M634.1 675.3h8.1v8.2h-8.1z"/><path fill="#c63c73" d="M641.7 675.3h8.1v8.2h-8.1z"/><path fill="#e55063" d="M649.4 675.3h8.1v8.2h-8.1z"/><path fill="#e55063" d="M657 675.3h8.1v8.2h-8.1z"/><path fill="#180f3f" d="M496.6 683h8.1v8.2h-8.1z"/><path fill="#180f3f" d="M504.2 683h8.1v8.2h-8.1z"/><path fill="#1e1049" d="M511.8 683h8.1v8.2h-8.1z"/><path fill="#1e1049" d="M519.5 683h8.1v8.2h-8.1z"/><path fill="#1a1041" d="M527.1 683h8.1v8.2h-8.1z"/><path fill="#231152" d="M534.8 683h8.1v8.2h-8.1z"/><path fill="#4d117a" d="M542.4 683h8.1v8.2h-8.1z"/><path fill="#852681" d="M550 683h8.1v8.2h-8.1z"/><path fill="#ab337c" d="M557.7 683h8.1v8.2h-8.1z"/><path fill="#b0347b" d="M565.3 683h8.1v8.2h-8.1z"/><path fill="#a6317d" d="M573 683h8.1v8.2h-8.1z"/><path fill="#942b80" d="M580.6 683h8.1v8.2h-8.1z"/><path fill="#7a2281" d="M588.2 683h8.1v8.2h-8.1z"/><path fill="#661a80" d="M595.9 683h8.1v8.2h-8.1z"/><path fill="#6c1d80" d="M603.5 683h8.1v8.2h-8.1z"/><path fill="#842681" d="M611.2 683h8.1v8.2h-8.1z"/><path fill="#822581" d="M618.8 683h8.1v8.2h-8.1z"/><path fill="#691c80" d="M626.4 683h8.1v8.2h-8.1z"/><path fill="#691c80" d="M634.1 683h8.1v8.2h-8.1z"/><path fill="#ab337c" d="M641.7 683h8.1v8.2h-8.1z"/><path fill="#ea5560" d="M649.4 683h8.1v8.2h-8.1z"/><path fill="#ea5560" d="M657 683h8.1v8.2h-8.1z"/><path fill="#150e38" d="M496.6 690.7h8.1v8.2h-8.1z"/><path fill="#150e38" d="M504.2 690.7h8.1v8.2h-8.1z"/><path fill="#1c1046" d="M511.8 690.7h8.1v8.2h-8.1z"/><path fill="#1f114b" d="M519.5 690.7h8.1v8.2h-8.1z"/><path fill="#1c1046" d="M527.1 690.7h8.1v8.2h-8.1z"/><path fill="#261157" d="M534.8 690.7h8.1v8.2h-8.1z"/><path fill="#50127b" d="M542.4 690.7h8.1v8.2h-8.1z"/><path fill="#892881" d="M550 690.7h8.1v8.2h-8.1z"/><path fill="#b1357a" d="M557.7 690.7h8.1v8.2h-8.1z"/><path fill="#b93778" d="M565.3 690.7h8.1v8.2h-8.1z"/><path fill="#a9327c" d="M573 690.7h8.1v8.2h-8.1z"/><path fill="#8a2881" d="M580.6 690.7h8.1v8.2h-8.1z"/><path fill="#6f1e81" d="M588.2 690.7h8.1v8.2h-8.1z"/><path fill="#681b80" d="M595.9 690.7h8.1v8.2h-8.1z"/><path fill="#7e2481" d="M603.5 690.7h8.1v8.2h-8.1z"/><path fill="#9a2d7f" d="M611.2 690.7h8.1v8.2h-8.1z"/><path fill="#912a80" d="M618.8 690.7h8.1v8.2h-8.1z"/><path fill="#661a80" d="M626.4 690.7h8.1v8.2h-8.1z"/><path fill="#57147d" d="M634.1 690.7h8.1v8.2h-8.1z"/><path fill="#a4307d" d="M641.7 690.7h8.1v8.2h-8.1z"/><path fill="#f0605d" d="M649.4 690.7h8.1v8.2h-8.1z"/><path fill="#f0605d" d="M657 690.7h8.1v8.2h-8.1z"/><path fill="#09071f" d="M496.6 698.3h8.1v8.2h-8.1z"/><path fill="#09071f" d="M504.2 698.3h8.1v8.2h-8.1z"/><path fill="#0c0926" d="M511.8 698.3h8.1v8.2h-8.1z"/><path fill="#170f3c" d="M519.5 698.3h8.1v8.2h-8.1z"/><path fill="#1c1046" d="M527.1 698.3h8.1v8.2h-8.1z"/><path fill="#251155" d="M534.8 698.3h8.1v8.2h-8.1z"/><path fill="#350f6a" d="M542.4 698.3h8.1v8.2h-8.1z"/><path fill="#4b1079" d="M550 698.3h8.1v8.2h-8.1z"/><path fill="#651a80" d="M557.7 698.3h8.1v8.2h-8.1z"/><path fill="#772181" d="M565.3 698.3h8.1v8.2h-8.1z"/><path fill="#6e1e81" d="M573 698.3h8.1v8.2h-8.1z"/><path fill="#53137c" d="M580.6 698.3h8.1v8.2h-8.1z"/><path fill="#4b1079" d="M588.2 698.3h8.1v8.2h-8.1z"/><path fill="#63197f" d="M595.9 698.3h8.1v8.2h-8.1z"/><path fill="#842681" d="M603.5 698.3h8.1v8.2h-8.1z"/><path fill="#992d7f" d="M611.2 698.3h8.1v8.2h-8.1z"/><path fill="#912a80" d="M618.8 698.3h8.1v8.2h-8.1z"/><path fill="#762181" d="M626.4 698.3h8.1v8.2h-8.1z"/><path fill="#762181" d="M634.1 698.3h8.1v8.2h-8.1z"/><path fill="#be3976" d="M641.7 698.3h8.1v8.2h-8.1z"/><path fill="#f56c5b" d="M649.4 698.3h8.1v8.2h-8.1z"/><path fill="#f56c5b" d="M657 698.3h8.1v8.2h-8.1z"/><path fill="#0c0926" d="M496.6 706h8.1v8.2h-8.1z"/><path fill="#0c0926" d="M504.2 706h8.1v8.2h-8.1z"/><path fill="#0c0926" d="M511.8 706h8.1v8.2h-8.1z"/><path fill="#170f3c" d="M519.5 706h8.1v8.2h-8.1z"/><path fill="#1f114b" d="M527.1 706h8.1v8.2h-8.1z"/><path fill="#221150" d="M534.8 706h8.1v8.2h-8.1z"/><path fill="#150e38" d="M542.4 706h8.1v8.2h-8.1z"/><path fill="#040415" d="M550 706h8.1v8.2h-8.1z"/><path fill="#060519" d="M557.7 706h8.1v8.2h-8.1z"/><path fill="#1c1046" d="M565.3 706h8.1v8.2h-8.1z"/><path fill="#1f114b" d="M573 706h8.1v8.2h-8.1z"/><path fill="#150e38" d="M580.6 706h8.1v8.2h-8.1z"/><path fill="#1f114b" d="M588.2 706h8.1v8.2h-8.1z"/><path fill="#4b1079" d="M595.9 706h8.1v8.2h-8.1z"/><path fill="#6b1c80" d="M603.5 706h8.1v8.2h-8.1z"/><path fill="#742081" d="M611.2 706h8.1v8.2h-8.1z"/><path fill="#772181" d="M618.8 706h8.1v8.2h-8.1z"/><path fill="#842681" d="M626.4 706h8.1v8.2h-8.1z"/><path fill="#a4307d" d="M634.1 706h8.1v8.2h-8.1z"/><path fill="#e14c66" d="M641.7 706h8.1v8.2h-8.1z"/><path fill="#f8775c" d="M649.4 706h8.1v8.2h-8.1z"/><path fill="#f8775c" d="M657 706h8.1v8.2h-8.1z"/><path fill="#301065" d="M496.6 713.7h8.1v8.2h-8.1z"/><path fill="#301065" d="M504.2 713.7h8.1v8.2h-8.1z"/><path fill="#2f1062" d="M511.8 713.7h8.1v8.2h-8.1z"/><path fill="#2f1062" d="M519.5 713.7h8.1v8.2h-8.1z"/><path fill="#2d1060" d="M527.1 713.7h8.1v8.2h-8.1z"/><path fill="#20114d" d="M534.8 713.7h8.1v8.2h-8.1z"/><path fill="#060519" d="M542.4 713.7h8.1v8.2h-8.1z"/><path fill="#000003" d="M550 713.7h8.1v8.2h-8.1z"/><path fill="#000003" d="M557.7 713.7h8.1v8.2h-8.1z"/><path fill="#000004" d="M565.3 713.7h8.1v8.2h-8.1z"/><path fill="#02020d" d="M573 713.7h8.1v8.2h-8.1z"/><path fill="#02020f" d="M580.6 713.7h8.1v8.2h-8.1z"/><path fill="#08061d" d="M588.2 713.7h8.1v8.2h-8.1z"/><path fill="#1f114b" d="M595.9 713.7h8.1v8.2h-8.1z"/><path fill="#2b115e" d="M603.5 713.7h8.1v8.2h-8.1z"/><path fill="#2f1062" d="M611.2 713.7h8.1v8.2h-8.1z"/><path fill="#4b1079" d="M618.8 713.7h8.1v8.2h-8.1z"/><path fill="#842681" d="M626.4 713.7h8.1v8.2h-8.1z"/><path fill="#c63c73" d="M634.1 713.7h8.1v8.2h-8.1z"/><path fill="#f3675b" d="M641.7 713.7h8.1v8.2h-8.1z"/><path fill="#fa805e" d="M649.4 713.7h8.1v8.2h-8.1z"/><path fill="#fa805e" d="M657 713.7h8.1v8.2h-8.1z"/><path fill="#5e177f" d="M496.6 721.4h8.1v8.2h-8.1z"/><path fill="#5e177f" d="M504.2 721.4h8.1v8.2h-8.1z"/><path fill="#5d177e" d="M511.8 721.4h8.1v8.2h-8.1z"/><path fill="#57147d" d="M519.5 721.4h8.1v8.2h-8.1z"/><path fill="#4b1079" d="M527.1 721.4h8.1v8.2h-8.1z"/><path fill="#370f6c" d="M534.8 721.4h8.1v8.2h-8.1z"/><path fill="#20114d" d="M542.4 721.4h8.1v8.2h-8.1z"/><path fill="#0c0926" d="M550 721.4h8.1v8.2h-8.1z"/><path fill="#0c0926" d="M557.7 721.4h8.1v8.2h-8.1z"/><path fill="#1f114b" d="M565.3 721.4h8.1v8.2h-8.1z"/><path fill="#261157" d="M573 721.4h8.1v8.2h-8.1z"/><path fill="#221150" d="M580.6 721.4h8.1v8.2h-8.1z"/><path fill="#231152" d="M588.2 721.4h8.1v8.2h-8.1z"/><path fill="#2b115e" d="M595.9 721.4h8.1v8.2h-8.1z"/><path fill="#2d1060" d="M603.5 721.4h8.1v8.2h-8.1z"/><path fill="#2f1062" d="M611.2 721.4h8.1v8.2h-8.1z"/><path fill="#52127c" d="M618.8 721.4h8.1v8.2h-8.1z"/><path fill="#922b80" d="M626.4 721.4h8.1v8.2h-8.1z"/><path fill="#d9466a" d="M634.1 721.4h8.1v8.2h-8.1z"/><path fill="#f97b5d" d="M641.7 721.4h8.1v8.2h-8.1z"/><path fill="#fc9064" d="M649.4 721.4h8.1v8.2h-8.1z"/><path fill="#fc9064" d="M657 721.4h8.1v8.2h-8.1z"/><path fill="#7e2481" d="M496.6 729.1h8.1v8.2h-8.1z"/><path fill="#7e2481" d="M504.2 729.1h8.1v8.2h-8.1z"/><path fill="#792281" d="M511.8 729.1h8.1v8.2h-8.1z"/><path fill="#762181" d="M519.5 729.1h8.1v8.2h-8.1z"/><path fill="#742081" d="M527.1 729.1h8.1v8.2h-8.1z"/><path fill="#742081" d="M534.8 729.1h8.1v8.2h-8.1z"/><path fill="#742081" d="M542.4 729.1h8.1v8.2h-8.1z"/><path fill="#792281" d="M550 729.1h8.1v8.2h-8.1z"/><path fill="#922b80" d="M557.7 729.1h8.1v8.2h-8.1z"/><path fill="#b0347b" d="M565.3 729.1h8.1v8.2h-8.1z"/><path fill="#ac337b" d="M573 729.1h8.1v8.2h-8.1z"/><path fill="#8c2980" d="M580.6 729.1h8.1v8.2h-8.1z"/><path fill="#852681" d="M588.2 729.1h8.1v8.2h-8.1z"/><path fill="#9f2f7e" d="M595.9 729.1h8.1v8.2h-8.1z"/><path fill="#b3357a" d="M603.5 729.1h8.1v8.2h-8.1z"/><path fill="#b63679" d="M611.2 729.1h8.1v8.2h-8.1z"/><path fill="#b93778" d="M618.8 729.1h8.1v8.2h-8.1z"/><path fill="#ca3e72" d="M626.4 729.1h8.1v8.2h-8.1z"/><path fill="#e55063" d="M634.1 729.1h8.1v8.2h-8.1z"/><path fill="#fa805e" d="M641.7 729.1h8.1v8.2h-8.1z"/><path fill="#fda470" d="M649.4 729.1h8.1v8.2h-8.1z"/><path fill="#fda470" d="M657 729.1h8.1v8.2h-8.1z"/><path fill="#9a2d7f" d="M496.6 736.8h8.1v8.2h-8.1z"/><path fill="#9a2d7f" d="M504.2 736.8h8.1v8.2h-8.1z"/><path fill="#8c2980" d="M511.8 736.8h8.1v8.2h-8.1z"/><path fill="#872781" d="M519.5 736.8h8.1v8.2h-8.1z"/><path fill="#952c80" d="M527.1 736.8h8.1v8.2h-8.1z"/><path fill="#ac337b" d="M534.8 736.8h8.1v8.2h-8.1z"/><path fill="#c23a75" d="M542.4 736.8h8.1v8.2h-8.1z"/><path fill="#d6446c" d="M550 736.8h8.1v8.2h-8.1z"/><path fill="#f2635c" d="M557.7 736.8h8.1v8.2h-8.1z"/><path fill="#fc8c63" d="M565.3 736.8h8.1v8.2h-8.1z"/><path fill="#fa7f5e" d="M573 736.8h8.1v8.2h-8.1z"/><path fill="#e55063" d="M580.6 736.8h8.1v8.2h-8.1z"/><path fill="#e14c66" d="M588.2 736.8h8.1v8.2h-8.1z"/><path fill="#f9795c" d="M595.9 736.8h8.1v8.2h-8.1z"/><path fill="#fda470" d="M603.5 736.8h8.1v8.2h-8.1z"/><path fill="#fea873" d="M611.2 736.8h8.1v8.2h-8.1z"/><path fill="#fc9064" d="M618.8 736.8h8.1v8.2h-8.1z"/><path fill="#f56c5b" d="M626.4 736.8h8.1v8.2h-8.1z"/><path fill="#f0605d" d="M634.1 736.8h8.1v8.2h-8.1z"/><path fill="#fc8c63" d="M641.7 736.8h8.1v8.2h-8.1z"/><path fill="#febc82" d="M649.4 736.8h8.1v8.2h-8.1z"/><path fill="#febc82" d="M657 736.8h8.1v8.2h-8.1z"/><path fill="#bb3877" d="M496.6 744.4h8.1v8.2h-8.1z"/><path fill="#bb3877" d="M504.2 744.4h8.1v8.2h-8.1z"/><path fill="#9f2f7e" d="M511.8 744.4h8.1v8.2h-8.1z"/><path fill="#892881" d="M519.5 744.4h8.1v8.2h-8.1z"/><path fill="#972c7f" d="M527.1 744.4h8.1v8.2h-8.1z"/><path fill="#b53679" d="M534.8 744.4h8.1v8.2h-8.1z"/><path fill="#d1426e" d="M542.4 744.4h8.1v8.2h-8.1z"/><path fill="#e55063" d="M550 744.4h8.1v8.2h-8.1z"/><path fill="#f3675b" d="M557.7 744.4h8.1v8.2h-8.1z"/><path fill="#f97b5d" d="M565.3 744.4h8.1v8.2h-8.1z"/><path fill="#f7735c" d="M573 744.4h8.1v8.2h-8.1z"/><path fill="#ef5e5d" d="M580.6 744.4h8.1v8.2h-8.1z"/><path fill="#f3675b" d="M588.2 744.4h8.1v8.2h-8.1z"/><path fill="#fd9567" d="M595.9 744.4h8.1v8.2h-8.1z"/><path fill="#febb80" d="M603.5 744.4h8.1v8.2h-8.1z"/><path fill="#fec488" d="M611.2 744.4h8.1v8.2h-8.1z"/><path fill="#feb37b" d="M618.8 744.4h8.1v8.2h-8.1z"/><path fill="#fc9366" d="M626.4 744.4h8.1v8.2h-8.1z"/><path fill="#fb8460" d="M634.1 744.4h8.1v8.2h-8.1z"/><path fill="#fea873" d="M641.7 744.4h8.1v8.2h-8.1z"/><path fill="#fdd295" d="M649.4 744.4h8.1v8.2h-8.1z"/><path fill="#fdd295" d="M657 744.4h8.1v8.2h-8.1z"/><path fill="#d4436d" d="M496.6 752.1h8.1v8.2h-8.1z"/><path fill="#d4436d" d="M504.2 752.1h8.1v8.2h-8.1z"/><path fill="#ac337b" d="M511.8 752.1h8.1v8.2h-8.1z"/><path fill="#822581" d="M519.5 752.1h8.1v8.2h-8.1z"/><path fill="#7f2481" d="M527.1 752.1h8.1v8.2h-8.1z"/><path fill="#922b80" d="M534.8 752.1h8.1v8.2h-8.1z"/><path fill="#a9327c" d="M542.4 752.1h8.1v8.2h-8.1z"/><path fill="#b63679" d="M550 752.1h8.1v8.2h-8.1z"/><path fill="#ae347b" d="M557.7 752.1h8.1v8.2h-8.1z"/><path fill="#9f2f7e" d="M565.3 752.1h8.1v8.2h-8.1z"/><path fill="#a7317d" d="M573 752.1h8.1v8.2h-8.1z"/><path fill="#c53c74" d="M580.6 752.1h8.1v8.2h-8.1z"/><path fill="#dd4968" d="M588.2 752.1h8.1v8.2h-8.1z"/><path fill="#e85461" d="M595.9 752.1h8.1v8.2h-8.1z"/><path fill="#f0605d" d="M603.5 752.1h8.1v8.2h-8.1z"/><path fill="#f6705b" d="M611.2 752.1h8.1v8.2h-8.1z"/><path fill="#fa7f5e" d="M618.8 752.1h8.1v8.2h-8.1z"/><path fill="#fc8e63" d="M626.4 752.1h8.1v8.2h-8.1z"/><path fill="#fda470" d="M634.1 752.1h8.1v8.2h-8.1z"/><path fill="#fec689" d="M641.7 752.1h8.1v8.2h-8.1z"/><path fill="#fddc9d" d="M649.4 752.1h8.1v8.2h-8.1z"/><path fill="#fddc9d" d="M657 752.1h8.1v8.2h-8.1z"/><path fill="#d4436d" d="M496.6 759.8h8.1v8.2h-8.1z"/><path fill="#d4436d" d="M504.2 759.8h8.1v8.2h-8.1z"/><path fill="#ac337b" d="M511.8 759.8h8.1v8.2h-8.1z"/><path fill="#822581" d="M519.5 759.8h8.1v8.2h-8.1z"/><path fill="#7f2481" d="M527.1 759.8h8.1v8.2h-8.1z"/><path fill="#922b80" d="M534.8 759.8h8.1v8.2h-8.1z"/><path fill="#a9327c" d="M542.4 759.8h8.1v8.2h-8.1z"/><path fill="#b63679" d="M550 759.8h8.1v8.2h-8.1z"/><path fill="#ae347b" d="M557.7 759.8h8.1v8.2h-8.1z"/><path fill="#9f2f7e" d="M565.3 759.8h8.1v8.2h-8.1z"/><path fill="#a7317d" d="M573 759.8h8.1v8.2h-8.1z"/><path fill="#c53c74" d="M580.6 759.8h8.1v8.2h-8.1z"/><path fill="#dd4968" d="M588.2 759.8h8.1v8.2h-8.1z"/><path fill="#e85461" d="M595.9 759.8h8.1v8.2h-8.1z"/><path fill="#f0605d" d="M603.5 759.8h8.1v8.2h-8.1z"/><path fill="#f6705b" d="M611.2 759.8h8.1v8.2h-8.1z"/><path fill="#fa7f5e" d="M618.8 759.8h8.1v8.2h-8.1z"/><path fill="#fc8e63" d="M626.4 759.8h8.1v8.2h-8.1z"/><path fill="#fda470" d="M634.1 759.8h8.1v8.2h-8.1z"/><path fill="#fec689" d="M641.7 759.8h8.1v8.2h-8.1z"/><path fill="#fddc9d" d="M649.4 759.8h8.1v8.2h-8.1z"/><path fill="#fddc9d" d="M657 759.8h8.1v8.2h-8.1z"/></g>
<path d="M616.2 748.3L619.4 745.7L615.1 743.2L612.4 743L609.8 743.2L606.5 745.7L609.9 747.8L612.4 748.3L616.2 748.3M655.7 742.9L650.6 742.9L649.5 745.7L648.1 748.6L645.5 753L645.1 756" fill="none" stroke="#3a2a30" stroke-width="0.55" opacity="0.55"/>
<path d="M655.7 713L650.6 713L648.7 717.5L647.5 720.1L645.7 725.2L645.2 727.8L644.8 732.9L644.2 738L643 743L640.7 745.7L637.9 746.6L634.6 745.7L631.1 743.2L627.7 741L625.2 739.9L620.1 738.5L617.3 738L612.4 737.8L607.3 738L604.8 738.6L599.9 740.6L597.2 742.9L595.3 745.7L597.2 749.3L600.5 750.8L604.8 751.7L609.9 752.3L615 752.8L620.1 753.4L620.4 756M573.5 748.3L576.8 747.5L579.9 745.7L579.3 742.8L576.8 740.3L571.7 739L566.6 740.1L564 741.8L562.3 745.7L566.6 747.8L569.1 748.3L573.5 748.3" fill="none" stroke="#3a2a30" stroke-width="0.55" opacity="0.5"/>
<path d="M647.2 676.6L647.2 681.7L648 686.8L648 691.9L647.6 697.1L646.8 702.2L645.5 706.7L644 709.9L642.4 712.4L640.4 715.8L638.7 720.1L637.9 722.8L636.6 727.8L635.4 730.8L632.8 733.4L627.7 734.6L622.6 734.6L617.5 734.5L612.4 734.4L607.3 734.6L602.2 735.3L599.7 736.1L594.7 738L592.1 739.2L587 739.6L583.5 738L579.3 736.2L576.8 735.3L571.7 734.7L566.6 735.4L564 736.1L559.1 738L556.4 739.3L553.1 740.6L548.8 742.8L546.2 745.3L546.2 746.3L548.8 748.9L553.9 750.6L556.4 751L561.5 751.3L566.6 751.3L571.7 751.3L576.8 751.3L581.9 751.6L587 752.9L588.3 756M510.6 758.5L510.6 753.4L505.5 753.4" fill="none" stroke="#4a2a40" stroke-width="0.55" opacity="0.45"/>
<path d="M637.8 676.6L637.8 681.7L640.4 683.1L643 685.3L644.6 689.4L644.7 694.5L643.5 699.6L642.4 702.2L640.4 704.9L637.9 707.4L635.2 709.9L632.8 715L632.4 717.5L631.6 722.7L630.3 726L627.7 728.7L624.2 730.4L620.1 731.1L615 731.4L609.9 731.4L604.8 731.6L599.7 732.3L597.2 732.9L592.1 734.1L587 734.2L581.9 732.9L579.3 732.2L574.2 731.5L569.1 731.6L564 732.5L561.5 733.2L556.4 734.5L551.3 735.4L548.8 735.7L543.7 736.3L538.6 737.2L535.5 738L531.2 740.6L529.5 743.2L530.7 748.3L533.5 750.3L536 751.7L539.7 753.4L539.7 758.5M577.8 697.1L581.7 694.5L584 691.9L584.9 689.4L583.5 686.8L579.3 685.5L574.2 684.8L569.1 684.7L564 684.9L559 685.9L556.4 686.9L554.5 691.9L556.4 695L559.6 697.1L564 698.5L569.1 699.2L574.2 698.5L577.8 697.1M620.4 702.2L621.7 697.1L620.1 692L617.5 691.1L615 692.4L612.4 696.8L612.2 699.6L613.4 702.2L617.5 703.4L620.4 702.2M518.7 758.5L518.7 753.4L518.2 750.8L516.3 745.7L514.8 743.2L512.6 740.6L508 739.4" fill="none" stroke="#f0a878" stroke-width="0.55" opacity="0.5"/>
<path d="M557.4 676.6L557.4 681.7L553.9 682.6L550.3 684.3L547.8 686.8L546.9 691.9L548.8 697L551.3 699.4L553.9 700.7L558.2 702.2L561.5 703L566.6 704.2L569.8 704.7L574.2 704.8L576.8 704.2L581.9 702.4L584.4 701.4L589.5 699.9L592.1 699.6L594.6 700L597.2 702.2L599.7 706.1L602.2 709.6L604.8 711.3L608.9 712.4L612.4 712.8L617.5 713.2L622.6 715L624.8 717.5L625.5 720.1L625.2 722.8L622.6 726L618 727.8L615 728.1L609.9 728.2L604.8 728.3L599.7 728.6L594.6 729.3L589.5 729.8L584.4 729.4L579.3 728.6L574.2 728.2L569.1 728.5L564 729.3L559 730.2L556.4 730.5L551.3 730.8L546.2 730.6L543.6 730.4L538.6 729.6L533.5 728.7L530 727.8L525.8 726.5L520.8 725.2L518.2 724.8L513.1 724.5L508 724.4M637.9 695.6L633.1 694.5L632.6 691.9L634.3 689.4L636.7 689.4L638.7 691.9L637.9 695.6" fill="none" stroke="#e8a070" stroke-width="0.55" opacity="0.5"/>
<g fill="#0a0418" opacity="0.9" filter="url(#hb2)"><path d="M504.2 727.1 507.5 726 517.6 719.4 531 716.1 537.7 715 546.6 721.6 553.3 728.3 566.7 727.1 582.3 728.3 597.9 727.1 615.7 726 624.7 723.8 623.5 719.4 613.5 718.3 602.3 717.2 593.4 701.8 589 689.6 580 704 571.1 708.4 557.7 702.9 546.6 698.5 542.1 694.1 546.6 686.3 562.2 681.9 566.7 675.3 504.2 675.3Z" stroke="#36106a" stroke-width="11" stroke-linejoin="round"/><ellipse cx="555.5" cy="717.2" rx="3.1" ry="5.7"/><ellipse cx="522" cy="704" rx="1.8" ry="2.2"/><ellipse cx="638" cy="693" rx="1.8" ry="2.6"/><ellipse cx="589" cy="717.2" rx="1.1" ry="3.5"/></g>
<path d="M507.5 726L517.6 719.4L531 716.1L537.7 715L546.6 721.6L553.3 728.3L566.7 727.1L582.3 728.3L597.9 727.1L615.7 726L624.7 723.8L623.5 719.4L613.5 718.3L602.3 717.2L593.4 701.8L589 689.6L580 704L571.1 708.4L557.7 702.9L546.6 698.5L542.1 694.1L546.6 686.3L562.2 681.9L566.7 675.3" fill="none" stroke="#fff" stroke-width="2.7" stroke-linecap="round" stroke-linejoin="round" stroke-dasharray="0 4.2"/>
</g>
<text x="507.7" y="693.3" font-size="14" text-anchor="start" fill="#fff">(IV)</text>
<text x="648" y="693.3" font-size="13" text-anchor="end" fill="#fff">t = 18 min</text>
<rect x="521.2" y="750.8" width="36" height="4" fill="#fff"/>
<clipPath id="cl4"><rect x="36.2" y="769.6" width="152.8" height="84.5"/></clipPath>
<g clip-path="url(#cl4)"><g filter="url(#hb)"><path fill="#1c1046" d="M28.6 761.9h8.1v8.2h-8.1z"/><path fill="#1c1046" d="M36.2 761.9h8.1v8.2h-8.1z"/><path fill="#170f3c" d="M43.8 761.9h8.1v8.2h-8.1z"/><path fill="#120d33" d="M51.5 761.9h8.1v8.2h-8.1z"/><path fill="#140d35" d="M59.1 761.9h8.1v8.2h-8.1z"/><path fill="#140d35" d="M66.8 761.9h8.1v8.2h-8.1z"/><path fill="#0b0824" d="M74.4 761.9h8.1v8.2h-8.1z"/><path fill="#1a1041" d="M82 761.9h8.1v8.2h-8.1z"/><path fill="#63197f" d="M89.7 761.9h8.1v8.2h-8.1z"/><path fill="#be3976" d="M97.3 761.9h8.1v8.2h-8.1z"/><path fill="#d0416f" d="M105 761.9h8.1v8.2h-8.1z"/><path fill="#992d7f" d="M112.6 761.9h8.1v8.2h-8.1z"/><path fill="#6f1e81" d="M120.2 761.9h8.1v8.2h-8.1z"/><path fill="#6f1e81" d="M127.9 761.9h8.1v8.2h-8.1z"/><path fill="#6e1e81" d="M135.5 761.9h8.1v8.2h-8.1z"/><path fill="#6e1e81" d="M143.2 761.9h8.1v8.2h-8.1z"/><path fill="#9c2e7f" d="M150.8 761.9h8.1v8.2h-8.1z"/><path fill="#ee5d5d" d="M158.4 761.9h8.1v8.2h-8.1z"/><path fill="#feb97f" d="M166.1 761.9h8.1v8.2h-8.1z"/><path fill="#fce6a8" d="M173.7 761.9h8.1v8.2h-8.1z"/><path fill="#fce5a6" d="M181.4 761.9h8.1v8.2h-8.1z"/><path fill="#fce5a6" d="M189 761.9h8.1v8.2h-8.1z"/><path fill="#1c1046" d="M28.6 769.6h8.1v8.2h-8.1z"/><path fill="#1c1046" d="M36.2 769.6h8.1v8.2h-8.1z"/><path fill="#170f3c" d="M43.8 769.6h8.1v8.2h-8.1z"/><path fill="#120d33" d="M51.5 769.6h8.1v8.2h-8.1z"/><path fill="#140d35" d="M59.1 769.6h8.1v8.2h-8.1z"/><path fill="#140d35" d="M66.8 769.6h8.1v8.2h-8.1z"/><path fill="#0b0824" d="M74.4 769.6h8.1v8.2h-8.1z"/><path fill="#1a1041" d="M82 769.6h8.1v8.2h-8.1z"/><path fill="#63197f" d="M89.7 769.6h8.1v8.2h-8.1z"/><path fill="#be3976" d="M97.3 769.6h8.1v8.2h-8.1z"/><path fill="#d0416f" d="M105 769.6h8.1v8.2h-8.1z"/><path fill="#992d7f" d="M112.6 769.6h8.1v8.2h-8.1z"/><path fill="#6f1e81" d="M120.2 769.6h8.1v8.2h-8.1z"/><path fill="#6f1e81" d="M127.9 769.6h8.1v8.2h-8.1z"/><path fill="#6e1e81" d="M135.5 769.6h8.1v8.2h-8.1z"/><path fill="#6e1e81" d="M143.2 769.6h8.1v8.2h-8.1z"/><path fill="#9c2e7f" d="M150.8 769.6h8.1v8.2h-8.1z"/><path fill="#ee5d5d" d="M158.4 769.6h8.1v8.2h-8.1z"/><path fill="#feb97f" d="M166.1 769.6h8.1v8.2h-8.1z"/><path fill="#fce6a8" d="M173.7 769.6h8.1v8.2h-8.1z"/><path fill="#fce5a6" d="M181.4 769.6h8.1v8.2h-8.1z"/><path fill="#fce5a6" d="M189 769.6h8.1v8.2h-8.1z"/><path fill="#0c0926" d="M28.6 777.3h8.1v8.2h-8.1z"/><path fill="#0c0926" d="M36.2 777.3h8.1v8.2h-8.1z"/><path fill="#07051b" d="M43.8 777.3h8.1v8.2h-8.1z"/><path fill="#040415" d="M51.5 777.3h8.1v8.2h-8.1z"/><path fill="#08061d" d="M59.1 777.3h8.1v8.2h-8.1z"/><path fill="#0d0a28" d="M66.8 777.3h8.1v8.2h-8.1z"/><path fill="#0b0824" d="M74.4 777.3h8.1v8.2h-8.1z"/><path fill="#140d35" d="M82 777.3h8.1v8.2h-8.1z"/><path fill="#420f74" d="M89.7 777.3h8.1v8.2h-8.1z"/><path fill="#8a2881" d="M97.3 777.3h8.1v8.2h-8.1z"/><path fill="#ae347b" d="M105 777.3h8.1v8.2h-8.1z"/><path fill="#a6317d" d="M112.6 777.3h8.1v8.2h-8.1z"/><path fill="#912a80" d="M120.2 777.3h8.1v8.2h-8.1z"/><path fill="#7e2481" d="M127.9 777.3h8.1v8.2h-8.1z"/><path fill="#61187f" d="M135.5 777.3h8.1v8.2h-8.1z"/><path fill="#52127c" d="M143.2 777.3h8.1v8.2h-8.1z"/><path fill="#872781" d="M150.8 777.3h8.1v8.2h-8.1z"/><path fill="#ed595f" d="M158.4 777.3h8.1v8.2h-8.1z"/><path fill="#fec286" d="M166.1 777.3h8.1v8.2h-8.1z"/><path fill="#fce8aa" d="M173.7 777.3h8.1v8.2h-8.1z"/><path fill="#fdd89a" d="M181.4 777.3h8.1v8.2h-8.1z"/><path fill="#fdd89a" d="M189 777.3h8.1v8.2h-8.1z"/><path fill="#07051b" d="M28.6 785h8.1v8.2h-8.1z"/><path fill="#07051b" d="M36.2 785h8.1v8.2h-8.1z"/><path fill="#02020f" d="M43.8 785h8.1v8.2h-8.1z"/><path fill="#01010b" d="M51.5 785h8.1v8.2h-8.1z"/><path fill="#040313" d="M59.1 785h8.1v8.2h-8.1z"/><path fill="#08061d" d="M66.8 785h8.1v8.2h-8.1z"/><path fill="#07051b" d="M74.4 785h8.1v8.2h-8.1z"/><path fill="#050417" d="M82 785h8.1v8.2h-8.1z"/><path fill="#180f3f" d="M89.7 785h8.1v8.2h-8.1z"/><path fill="#470f77" d="M97.3 785h8.1v8.2h-8.1z"/><path fill="#6f1e81" d="M105 785h8.1v8.2h-8.1z"/><path fill="#852681" d="M112.6 785h8.1v8.2h-8.1z"/><path fill="#8a2881" d="M120.2 785h8.1v8.2h-8.1z"/><path fill="#7e2481" d="M127.9 785h8.1v8.2h-8.1z"/><path fill="#651a80" d="M135.5 785h8.1v8.2h-8.1z"/><path fill="#55137d" d="M143.2 785h8.1v8.2h-8.1z"/><path fill="#7f2481" d="M150.8 785h8.1v8.2h-8.1z"/><path fill="#da4769" d="M158.4 785h8.1v8.2h-8.1z"/><path fill="#fd9d6b" d="M166.1 785h8.1v8.2h-8.1z"/><path fill="#fec78b" d="M173.7 785h8.1v8.2h-8.1z"/><path fill="#febe83" d="M181.4 785h8.1v8.2h-8.1z"/><path fill="#febe83" d="M189 785h8.1v8.2h-8.1z"/><path fill="#050417" d="M28.6 792.6h8.1v8.2h-8.1z"/><path fill="#050417" d="M36.2 792.6h8.1v8.2h-8.1z"/><path fill="#02020f" d="M43.8 792.6h8.1v8.2h-8.1z"/><path fill="#01010b" d="M51.5 792.6h8.1v8.2h-8.1z"/><path fill="#01010b" d="M59.1 792.6h8.1v8.2h-8.1z"/><path fill="#02020f" d="M66.8 792.6h8.1v8.2h-8.1z"/><path fill="#02020d" d="M74.4 792.6h8.1v8.2h-8.1z"/><path fill="#02020d" d="M82 792.6h8.1v8.2h-8.1z"/><path fill="#060519" d="M89.7 792.6h8.1v8.2h-8.1z"/><path fill="#1b1044" d="M97.3 792.6h8.1v8.2h-8.1z"/><path fill="#301065" d="M105 792.6h8.1v8.2h-8.1z"/><path fill="#420f74" d="M112.6 792.6h8.1v8.2h-8.1z"/><path fill="#53137c" d="M120.2 792.6h8.1v8.2h-8.1z"/><path fill="#661a80" d="M127.9 792.6h8.1v8.2h-8.1z"/><path fill="#6c1d80" d="M135.5 792.6h8.1v8.2h-8.1z"/><path fill="#6e1e81" d="M143.2 792.6h8.1v8.2h-8.1z"/><path fill="#842681" d="M150.8 792.6h8.1v8.2h-8.1z"/><path fill="#b3357a" d="M158.4 792.6h8.1v8.2h-8.1z"/><path fill="#e55063" d="M166.1 792.6h8.1v8.2h-8.1z"/><path fill="#fa825f" d="M173.7 792.6h8.1v8.2h-8.1z"/><path fill="#fd9969" d="M181.4 792.6h8.1v8.2h-8.1z"/><path fill="#fd9969" d="M189 792.6h8.1v8.2h-8.1z"/><path fill="#02020f" d="M28.6 800.3h8.1v8.2h-8.1z"/><path fill="#02020f" d="M36.2 800.3h8.1v8.2h-8.1z"/><path fill="#01010b" d="M43.8 800.3h8.1v8.2h-8.1z"/><path fill="#010007" d="M51.5 800.3h8.1v8.2h-8.1z"/><path fill="#000006" d="M59.1 800.3h8.1v8.2h-8.1z"/><path fill="#000006" d="M66.8 800.3h8.1v8.2h-8.1z"/><path fill="#000006" d="M74.4 800.3h8.1v8.2h-8.1z"/><path fill="#010109" d="M82 800.3h8.1v8.2h-8.1z"/><path fill="#030311" d="M89.7 800.3h8.1v8.2h-8.1z"/><path fill="#07051b" d="M97.3 800.3h8.1v8.2h-8.1z"/><path fill="#060519" d="M105 800.3h8.1v8.2h-8.1z"/><path fill="#050417" d="M112.6 800.3h8.1v8.2h-8.1z"/><path fill="#160e3a" d="M120.2 800.3h8.1v8.2h-8.1z"/><path fill="#3e0f72" d="M127.9 800.3h8.1v8.2h-8.1z"/><path fill="#60187f" d="M135.5 800.3h8.1v8.2h-8.1z"/><path fill="#6f1e81" d="M143.2 800.3h8.1v8.2h-8.1z"/><path fill="#772181" d="M150.8 800.3h8.1v8.2h-8.1z"/><path fill="#822581" d="M158.4 800.3h8.1v8.2h-8.1z"/><path fill="#9e2e7e" d="M166.1 800.3h8.1v8.2h-8.1z"/><path fill="#d6446c" d="M173.7 800.3h8.1v8.2h-8.1z"/><path fill="#f3675b" d="M181.4 800.3h8.1v8.2h-8.1z"/><path fill="#f3675b" d="M189 800.3h8.1v8.2h-8.1z"/><path fill="#000003" d="M28.6 808h8.1v8.2h-8.1z"/><path fill="#000003" d="M36.2 808h8.1v8.2h-8.1z"/><path fill="#000003" d="M43.8 808h8.1v8.2h-8.1z"/><path fill="#000003" d="M51.5 808h8.1v8.2h-8.1z"/><path fill="#000003" d="M59.1 808h8.1v8.2h-8.1z"/><path fill="#000006" d="M66.8 808h8.1v8.2h-8.1z"/><path fill="#01010b" d="M74.4 808h8.1v8.2h-8.1z"/><path fill="#030311" d="M82 808h8.1v8.2h-8.1z"/><path fill="#040313" d="M89.7 808h8.1v8.2h-8.1z"/><path fill="#02020f" d="M97.3 808h8.1v8.2h-8.1z"/><path fill="#010109" d="M105 808h8.1v8.2h-8.1z"/><path fill="#000006" d="M112.6 808h8.1v8.2h-8.1z"/><path fill="#040313" d="M120.2 808h8.1v8.2h-8.1z"/><path fill="#180f3f" d="M127.9 808h8.1v8.2h-8.1z"/><path fill="#2d1060" d="M135.5 808h8.1v8.2h-8.1z"/><path fill="#3b0f6f" d="M143.2 808h8.1v8.2h-8.1z"/><path fill="#470f77" d="M150.8 808h8.1v8.2h-8.1z"/><path fill="#57147d" d="M158.4 808h8.1v8.2h-8.1z"/><path fill="#742081" d="M166.1 808h8.1v8.2h-8.1z"/><path fill="#a7317d" d="M173.7 808h8.1v8.2h-8.1z"/><path fill="#ca3e72" d="M181.4 808h8.1v8.2h-8.1z"/><path fill="#ca3e72" d="M189 808h8.1v8.2h-8.1z"/><path fill="#180f3f" d="M28.6 815.7h8.1v8.2h-8.1z"/><path fill="#180f3f" d="M36.2 815.7h8.1v8.2h-8.1z"/><path fill="#09071f" d="M43.8 815.7h8.1v8.2h-8.1z"/><path fill="#01010b" d="M51.5 815.7h8.1v8.2h-8.1z"/><path fill="#010007" d="M59.1 815.7h8.1v8.2h-8.1z"/><path fill="#010109" d="M66.8 815.7h8.1v8.2h-8.1z"/><path fill="#030311" d="M74.4 815.7h8.1v8.2h-8.1z"/><path fill="#050417" d="M82 815.7h8.1v8.2h-8.1z"/><path fill="#07051b" d="M89.7 815.7h8.1v8.2h-8.1z"/><path fill="#07051b" d="M97.3 815.7h8.1v8.2h-8.1z"/><path fill="#09071f" d="M105 815.7h8.1v8.2h-8.1z"/><path fill="#140d35" d="M112.6 815.7h8.1v8.2h-8.1z"/><path fill="#160e3a" d="M120.2 815.7h8.1v8.2h-8.1z"/><path fill="#140d35" d="M127.9 815.7h8.1v8.2h-8.1z"/><path fill="#140d35" d="M135.5 815.7h8.1v8.2h-8.1z"/><path fill="#170f3c" d="M143.2 815.7h8.1v8.2h-8.1z"/><path fill="#251155" d="M150.8 815.7h8.1v8.2h-8.1z"/><path fill="#3e0f72" d="M158.4 815.7h8.1v8.2h-8.1z"/><path fill="#5d177e" d="M166.1 815.7h8.1v8.2h-8.1z"/><path fill="#7e2481" d="M173.7 815.7h8.1v8.2h-8.1z"/><path fill="#8f2a80" d="M181.4 815.7h8.1v8.2h-8.1z"/><path fill="#8f2a80" d="M189 815.7h8.1v8.2h-8.1z"/><path fill="#a9327c" d="M28.6 823.4h8.1v8.2h-8.1z"/><path fill="#a9327c" d="M36.2 823.4h8.1v8.2h-8.1z"/><path fill="#7e2481" d="M43.8 823.4h8.1v8.2h-8.1z"/><path fill="#390f6e" d="M51.5 823.4h8.1v8.2h-8.1z"/><path fill="#0d0a28" d="M59.1 823.4h8.1v8.2h-8.1z"/><path fill="#040313" d="M66.8 823.4h8.1v8.2h-8.1z"/><path fill="#02020d" d="M74.4 823.4h8.1v8.2h-8.1z"/><path fill="#040313" d="M82 823.4h8.1v8.2h-8.1z"/><path fill="#0c0926" d="M89.7 823.4h8.1v8.2h-8.1z"/><path fill="#281159" d="M97.3 823.4h8.1v8.2h-8.1z"/><path fill="#470f77" d="M105 823.4h8.1v8.2h-8.1z"/><path fill="#5a157e" d="M112.6 823.4h8.1v8.2h-8.1z"/><path fill="#57147d" d="M120.2 823.4h8.1v8.2h-8.1z"/><path fill="#450f76" d="M127.9 823.4h8.1v8.2h-8.1z"/><path fill="#3e0f72" d="M135.5 823.4h8.1v8.2h-8.1z"/><path fill="#470f77" d="M143.2 823.4h8.1v8.2h-8.1z"/><path fill="#481078" d="M150.8 823.4h8.1v8.2h-8.1z"/><path fill="#3e0f72" d="M158.4 823.4h8.1v8.2h-8.1z"/><path fill="#3b0f6f" d="M166.1 823.4h8.1v8.2h-8.1z"/><path fill="#4b1079" d="M173.7 823.4h8.1v8.2h-8.1z"/><path fill="#5e177f" d="M181.4 823.4h8.1v8.2h-8.1z"/><path fill="#5e177f" d="M189 823.4h8.1v8.2h-8.1z"/><path fill="#fc9366" d="M28.6 831.1h8.1v8.2h-8.1z"/><path fill="#fc9366" d="M36.2 831.1h8.1v8.2h-8.1z"/><path fill="#e85461" d="M43.8 831.1h8.1v8.2h-8.1z"/><path fill="#852681" d="M51.5 831.1h8.1v8.2h-8.1z"/><path fill="#370f6c" d="M59.1 831.1h8.1v8.2h-8.1z"/><path fill="#07051b" d="M66.8 831.1h8.1v8.2h-8.1z"/><path fill="#000004" d="M74.4 831.1h8.1v8.2h-8.1z"/><path fill="#010109" d="M82 831.1h8.1v8.2h-8.1z"/><path fill="#1b1044" d="M89.7 831.1h8.1v8.2h-8.1z"/><path fill="#58157e" d="M97.3 831.1h8.1v8.2h-8.1z"/><path fill="#8a2881" d="M105 831.1h8.1v8.2h-8.1z"/><path fill="#a4307d" d="M112.6 831.1h8.1v8.2h-8.1z"/><path fill="#9e2e7e" d="M120.2 831.1h8.1v8.2h-8.1z"/><path fill="#872781" d="M127.9 831.1h8.1v8.2h-8.1z"/><path fill="#822581" d="M135.5 831.1h8.1v8.2h-8.1z"/><path fill="#8d2980" d="M143.2 831.1h8.1v8.2h-8.1z"/><path fill="#7e2481" d="M150.8 831.1h8.1v8.2h-8.1z"/><path fill="#50127b" d="M158.4 831.1h8.1v8.2h-8.1z"/><path fill="#231152" d="M166.1 831.1h8.1v8.2h-8.1z"/><path fill="#2a115c" d="M173.7 831.1h8.1v8.2h-8.1z"/><path fill="#4f117b" d="M181.4 831.1h8.1v8.2h-8.1z"/><path fill="#4f117b" d="M189 831.1h8.1v8.2h-8.1z"/><path fill="#feaf78" d="M28.6 838.7h8.1v8.2h-8.1z"/><path fill="#feaf78" d="M36.2 838.7h8.1v8.2h-8.1z"/><path fill="#f8775c" d="M43.8 838.7h8.1v8.2h-8.1z"/><path fill="#ac337b" d="M51.5 838.7h8.1v8.2h-8.1z"/><path fill="#53137c" d="M59.1 838.7h8.1v8.2h-8.1z"/><path fill="#0b0824" d="M66.8 838.7h8.1v8.2h-8.1z"/><path fill="#000003" d="M74.4 838.7h8.1v8.2h-8.1z"/><path fill="#000003" d="M82 838.7h8.1v8.2h-8.1z"/><path fill="#231152" d="M89.7 838.7h8.1v8.2h-8.1z"/><path fill="#792281" d="M97.3 838.7h8.1v8.2h-8.1z"/><path fill="#be3976" d="M105 838.7h8.1v8.2h-8.1z"/><path fill="#da4769" d="M112.6 838.7h8.1v8.2h-8.1z"/><path fill="#d0416f" d="M120.2 838.7h8.1v8.2h-8.1z"/><path fill="#ae347b" d="M127.9 838.7h8.1v8.2h-8.1z"/><path fill="#9f2f7e" d="M135.5 838.7h8.1v8.2h-8.1z"/><path fill="#a4307d" d="M143.2 838.7h8.1v8.2h-8.1z"/><path fill="#912a80" d="M150.8 838.7h8.1v8.2h-8.1z"/><path fill="#63197f" d="M158.4 838.7h8.1v8.2h-8.1z"/><path fill="#3b0f6f" d="M166.1 838.7h8.1v8.2h-8.1z"/><path fill="#4b1079" d="M173.7 838.7h8.1v8.2h-8.1z"/><path fill="#742081" d="M181.4 838.7h8.1v8.2h-8.1z"/><path fill="#742081" d="M189 838.7h8.1v8.2h-8.1z"/><path fill="#f2635c" d="M28.6 846.4h8.1v8.2h-8.1z"/><path fill="#f2635c" d="M36.2 846.4h8.1v8.2h-8.1z"/><path fill="#e24d65" d="M43.8 846.4h8.1v8.2h-8.1z"/><path fill="#a3307e" d="M51.5 846.4h8.1v8.2h-8.1z"/><path fill="#57147d" d="M59.1 846.4h8.1v8.2h-8.1z"/><path fill="#120d33" d="M66.8 846.4h8.1v8.2h-8.1z"/><path fill="#000003" d="M74.4 846.4h8.1v8.2h-8.1z"/><path fill="#000004" d="M82 846.4h8.1v8.2h-8.1z"/><path fill="#261157" d="M89.7 846.4h8.1v8.2h-8.1z"/><path fill="#812581" d="M97.3 846.4h8.1v8.2h-8.1z"/><path fill="#ca3e72" d="M105 846.4h8.1v8.2h-8.1z"/><path fill="#e65162" d="M112.6 846.4h8.1v8.2h-8.1z"/><path fill="#d9466a" d="M120.2 846.4h8.1v8.2h-8.1z"/><path fill="#a9327c" d="M127.9 846.4h8.1v8.2h-8.1z"/><path fill="#872781" d="M135.5 846.4h8.1v8.2h-8.1z"/><path fill="#7f2481" d="M143.2 846.4h8.1v8.2h-8.1z"/><path fill="#772181" d="M150.8 846.4h8.1v8.2h-8.1z"/><path fill="#691c80" d="M158.4 846.4h8.1v8.2h-8.1z"/><path fill="#681b80" d="M166.1 846.4h8.1v8.2h-8.1z"/><path fill="#872781" d="M173.7 846.4h8.1v8.2h-8.1z"/><path fill="#a9327c" d="M181.4 846.4h8.1v8.2h-8.1z"/><path fill="#a9327c" d="M189 846.4h8.1v8.2h-8.1z"/><path fill="#f2635c" d="M28.6 854.1h8.1v8.2h-8.1z"/><path fill="#f2635c" d="M36.2 854.1h8.1v8.2h-8.1z"/><path fill="#e24d65" d="M43.8 854.1h8.1v8.2h-8.1z"/><path fill="#a3307e" d="M51.5 854.1h8.1v8.2h-8.1z"/><path fill="#57147d" d="M59.1 854.1h8.1v8.2h-8.1z"/><path fill="#120d33" d="M66.8 854.1h8.1v8.2h-8.1z"/><path fill="#000003" d="M74.4 854.1h8.1v8.2h-8.1z"/><path fill="#000004" d="M82 854.1h8.1v8.2h-8.1z"/><path fill="#261157" d="M89.7 854.1h8.1v8.2h-8.1z"/><path fill="#812581" d="M97.3 854.1h8.1v8.2h-8.1z"/><path fill="#ca3e72" d="M105 854.1h8.1v8.2h-8.1z"/><path fill="#e65162" d="M112.6 854.1h8.1v8.2h-8.1z"/><path fill="#d9466a" d="M120.2 854.1h8.1v8.2h-8.1z"/><path fill="#a9327c" d="M127.9 854.1h8.1v8.2h-8.1z"/><path fill="#872781" d="M135.5 854.1h8.1v8.2h-8.1z"/><path fill="#7f2481" d="M143.2 854.1h8.1v8.2h-8.1z"/><path fill="#772181" d="M150.8 854.1h8.1v8.2h-8.1z"/><path fill="#691c80" d="M158.4 854.1h8.1v8.2h-8.1z"/><path fill="#681b80" d="M166.1 854.1h8.1v8.2h-8.1z"/><path fill="#872781" d="M173.7 854.1h8.1v8.2h-8.1z"/><path fill="#a9327c" d="M181.4 854.1h8.1v8.2h-8.1z"/><path fill="#a9327c" d="M189 854.1h8.1v8.2h-8.1z"/></g>
<path d="M171.1 770.9L171.1 776L170 781.1L172.1 786.2L175 788.5L177.5 789.4L180.6 788.8L185.2 787.6" fill="none" stroke="#3a2a30" stroke-width="0.55" opacity="0.55"/>
<path d="M164.7 770.9L164.7 776L164.5 781.1L164.9 783.7L166.9 788.8L169 791.4L172.1 793.9L175 795.7L177.5 797.3L180.1 799.5L185.2 801.3M37.5 846.2L42.6 846.2L45.6 845.1L47.5 840L45.2 834.9L42.6 833.3L37.5 833.3" fill="none" stroke="#3a2a30" stroke-width="0.55" opacity="0.5"/>
<path d="M105.7 770.9L105.7 776L106.8 776L106.8 770.9M159.5 770.9L159.5 776L159.8 778.6L160.5 783.7L161.7 788.8L162.7 791.4L164.8 794.4L167.4 796.7L170.8 799L174.6 801.6L177.2 804.2L179 806.7L181.1 809.3L185.2 810.4M49.7 852.8L49.7 847.7L51.6 845.1L51.9 840L50.2 836.2L47.7 832.8L45.1 830.4L42.6 829.4L37.5 829.4M125.1 852.8L125.1 847.7L124.1 843.8L121.5 841.8L116.4 841.3L113.4 842.6L111.1 845.1L110.5 850.3" fill="none" stroke="#4a2a40" stroke-width="0.55" opacity="0.45"/>
<path d="M97.5 770.9L97.5 776L99.5 778.6L102.8 781.1L106.2 783.1L108.8 784.1L113.9 785.6L116.7 786.2L121.5 786.3L124.1 784.2L124.1 783.4L121.5 780.9L118.6 778.6L116.7 773.4M153.9 770.9L153.9 776L155 778.6L156.2 783.7L156.7 788.8L157.2 793.5L157.9 796.5L159.7 799.1L163.4 801.6L167.4 803.6L169.9 805.2L172.4 807.6L175 811.3L177 814.4L179.3 817L182.6 818.5L187.7 818.5M56.6 852.8L56.6 847.7L57.1 842.6L55.5 837.5L54 834.9L51.9 832.3L49.1 829.8L45.4 827.2L42.6 826.3L37.5 826.3M135 852.8L135 847.7L139.1 845.1L141.9 844.8L147 844.9L152.1 843.8L153.8 840L152.1 837.3L147 836.2L141.9 837.3L139.3 838.3L134.2 838.2L131.7 837.1L126.7 834.9L124.1 834L119 833.2L113.9 834L111.3 834.9L107.4 837.5L105.2 840L103.7 843.4L103.1 847.7L103.1 852.8M187.7 845.8L182.6 845.8L179.3 847.7L179.3 852.8" fill="none" stroke="#f0a878" stroke-width="0.55" opacity="0.5"/>
<path d="M92.7 770.9L92.7 776L94 778.6L96 781.2L98.6 784L101.1 786.3L104.3 788.8L108.5 791.4L111.3 792.5L116 793.9L119 794.6L124.1 795.8L126.6 796.6L131.6 799L134.2 801.2L136.8 803.5L139.3 805.4L141.9 806.7L147 808.1L152.1 808.9L154.8 809.3L159.7 810.3L163 811.9L165.6 814.4L167.4 817L169.9 820.3L172.4 822.2L176.9 824.7L180.1 826.8L182.6 828.6L187.7 828.6M147 790.2L142.7 788.8L141.3 786.2L141.6 781.1L144.4 779.5L149.3 781.1L150.2 783.7L149.5 788L147 790.2M62.7 852.8L62.7 847.7L62.4 842.6L60.8 837.5L59.4 834.9L57.4 832.3L54.8 829.8L51.4 827.2L47.7 825.1L45.1 823.8L40 823.2M187.7 838.4L182.6 838.4L180.1 841.2L177.5 843.7L174.3 845.1L169.9 846L166.1 845.1L163.7 842.6L162.3 838.7L160.8 834.9L159.1 832.3L155.1 829.8L152.1 829.1L147 829.1L141.9 829.8L139.3 830.1L134.2 830L131.7 829.5L126.6 828.1L121.8 827.2L119 827.1L116.4 827.3L111.3 828.4L107.8 829.8L103.7 832.3L101.3 834.9L99.8 837.5L98.6 840.9L97.8 845.1L97.7 850.3" fill="none" stroke="#e8a070" stroke-width="0.55" opacity="0.5"/>
<g fill="#0a0418" opacity="0.9" filter="url(#hb2)"><path d="M36.2 791.7 40.7 780.6 49.6 772.9 69.7 769.6 89.7 769.6 92 778.4 98.7 786.1 109.8 789.5 123.2 792.8 129.9 800.5 136.6 808.2 147.7 811.5 161.1 813.7 170 817 179 821.4 189 825.9 189 845.7 179 847.9 170 844.6 167.8 835.8 161.1 829.2 150 825.9 134.3 825.9 121 827 112 833.6 103.1 838 96.4 842.4 92 854.5 60.7 854.5 61.9 844.6 60.7 835.8 54 827 45.1 821.4 36.2 821.4Z" stroke="#36106a" stroke-width="11" stroke-linejoin="round"/><ellipse cx="175.6" cy="835.8" rx="4.9" ry="2.2"/></g>
<path d="M89.7 769.6L92 778.4L98.7 786.1L109.8 789.5L123.2 792.8L129.9 800.5L136.6 808.2L147.7 811.5L161.1 813.7L170 817L179 821.4L189 825.9M189 845.7L179 847.9L170 844.6L167.8 835.8L161.1 829.2L150 825.9L134.3 825.9L121 827L112 833.6L103.1 838L96.4 842.4L92 854.5M36.2 821.4L45.1 821.4L54 827L60.7 835.8L61.9 844.6L60.7 854.5M36.2 791.7L40.7 780.6L49.6 772.9L69.7 769.6" fill="none" stroke="#fff" stroke-width="2.7" stroke-linecap="round" stroke-linejoin="round" stroke-dasharray="0 4.2"/>
</g>
<text x="39.7" y="787.6" font-size="14" text-anchor="start" fill="#fff">(VIII)</text>
<text x="180" y="787.6" font-size="13" text-anchor="end" fill="#fff">t = 30 min</text>
<rect x="41.7" y="845.1" width="36" height="4" fill="#fff"/>
<clipPath id="cl5"><rect x="192.2" y="769.6" width="152.8" height="84.5"/></clipPath>
<g clip-path="url(#cl5)"><g filter="url(#hb)"><path fill="#350f6a" d="M184.6 761.9h8.1v8.2h-8.1z"/><path fill="#350f6a" d="M192.2 761.9h8.1v8.2h-8.1z"/><path fill="#2d1060" d="M199.8 761.9h8.1v8.2h-8.1z"/><path fill="#20114d" d="M207.5 761.9h8.1v8.2h-8.1z"/><path fill="#1b1044" d="M215.1 761.9h8.1v8.2h-8.1z"/><path fill="#1f114b" d="M222.8 761.9h8.1v8.2h-8.1z"/><path fill="#350f6a" d="M230.4 761.9h8.1v8.2h-8.1z"/><path fill="#52127c" d="M238 761.9h8.1v8.2h-8.1z"/><path fill="#5e177f" d="M245.7 761.9h8.1v8.2h-8.1z"/><path fill="#60187f" d="M253.3 761.9h8.1v8.2h-8.1z"/><path fill="#711f81" d="M261 761.9h8.1v8.2h-8.1z"/><path fill="#8c2980" d="M268.6 761.9h8.1v8.2h-8.1z"/><path fill="#912a80" d="M276.2 761.9h8.1v8.2h-8.1z"/><path fill="#7c2381" d="M283.9 761.9h8.1v8.2h-8.1z"/><path fill="#691c80" d="M291.5 761.9h8.1v8.2h-8.1z"/><path fill="#651a80" d="M299.2 761.9h8.1v8.2h-8.1z"/><path fill="#6b1c80" d="M306.8 761.9h8.1v8.2h-8.1z"/><path fill="#812581" d="M314.4 761.9h8.1v8.2h-8.1z"/><path fill="#ac337b" d="M322.1 761.9h8.1v8.2h-8.1z"/><path fill="#ee5b5e" d="M329.7 761.9h8.1v8.2h-8.1z"/><path fill="#fc8e63" d="M337.4 761.9h8.1v8.2h-8.1z"/><path fill="#fc8e63" d="M345 761.9h8.1v8.2h-8.1z"/><path fill="#350f6a" d="M184.6 769.6h8.1v8.2h-8.1z"/><path fill="#350f6a" d="M192.2 769.6h8.1v8.2h-8.1z"/><path fill="#2d1060" d="M199.8 769.6h8.1v8.2h-8.1z"/><path fill="#20114d" d="M207.5 769.6h8.1v8.2h-8.1z"/><path fill="#1b1044" d="M215.1 769.6h8.1v8.2h-8.1z"/><path fill="#1f114b" d="M222.8 769.6h8.1v8.2h-8.1z"/><path fill="#350f6a" d="M230.4 769.6h8.1v8.2h-8.1z"/><path fill="#52127c" d="M238 769.6h8.1v8.2h-8.1z"/><path fill="#5e177f" d="M245.7 769.6h8.1v8.2h-8.1z"/><path fill="#60187f" d="M253.3 769.6h8.1v8.2h-8.1z"/><path fill="#711f81" d="M261 769.6h8.1v8.2h-8.1z"/><path fill="#8c2980" d="M268.6 769.6h8.1v8.2h-8.1z"/><path fill="#912a80" d="M276.2 769.6h8.1v8.2h-8.1z"/><path fill="#7c2381" d="M283.9 769.6h8.1v8.2h-8.1z"/><path fill="#691c80" d="M291.5 769.6h8.1v8.2h-8.1z"/><path fill="#651a80" d="M299.2 769.6h8.1v8.2h-8.1z"/><path fill="#6b1c80" d="M306.8 769.6h8.1v8.2h-8.1z"/><path fill="#812581" d="M314.4 769.6h8.1v8.2h-8.1z"/><path fill="#ac337b" d="M322.1 769.6h8.1v8.2h-8.1z"/><path fill="#ee5b5e" d="M329.7 769.6h8.1v8.2h-8.1z"/><path fill="#fc8e63" d="M337.4 769.6h8.1v8.2h-8.1z"/><path fill="#fc8e63" d="M345 769.6h8.1v8.2h-8.1z"/><path fill="#301065" d="M184.6 777.3h8.1v8.2h-8.1z"/><path fill="#301065" d="M192.2 777.3h8.1v8.2h-8.1z"/><path fill="#221150" d="M199.8 777.3h8.1v8.2h-8.1z"/><path fill="#0c0926" d="M207.5 777.3h8.1v8.2h-8.1z"/><path fill="#09071f" d="M215.1 777.3h8.1v8.2h-8.1z"/><path fill="#0b0824" d="M222.8 777.3h8.1v8.2h-8.1z"/><path fill="#180f3f" d="M230.4 777.3h8.1v8.2h-8.1z"/><path fill="#251155" d="M238 777.3h8.1v8.2h-8.1z"/><path fill="#301065" d="M245.7 777.3h8.1v8.2h-8.1z"/><path fill="#3e0f72" d="M253.3 777.3h8.1v8.2h-8.1z"/><path fill="#55137d" d="M261 777.3h8.1v8.2h-8.1z"/><path fill="#762181" d="M268.6 777.3h8.1v8.2h-8.1z"/><path fill="#9e2e7e" d="M276.2 777.3h8.1v8.2h-8.1z"/><path fill="#b1357a" d="M283.9 777.3h8.1v8.2h-8.1z"/><path fill="#8a2881" d="M291.5 777.3h8.1v8.2h-8.1z"/><path fill="#3b0f6f" d="M299.2 777.3h8.1v8.2h-8.1z"/><path fill="#1e1049" d="M306.8 777.3h8.1v8.2h-8.1z"/><path fill="#58157e" d="M314.4 777.3h8.1v8.2h-8.1z"/><path fill="#bb3877" d="M322.1 777.3h8.1v8.2h-8.1z"/><path fill="#fb8660" d="M329.7 777.3h8.1v8.2h-8.1z"/><path fill="#feb179" d="M337.4 777.3h8.1v8.2h-8.1z"/><path fill="#feb179" d="M345 777.3h8.1v8.2h-8.1z"/><path fill="#180f3f" d="M184.6 785h8.1v8.2h-8.1z"/><path fill="#180f3f" d="M192.2 785h8.1v8.2h-8.1z"/><path fill="#0a0722" d="M199.8 785h8.1v8.2h-8.1z"/><path fill="#040313" d="M207.5 785h8.1v8.2h-8.1z"/><path fill="#02020f" d="M215.1 785h8.1v8.2h-8.1z"/><path fill="#02020f" d="M222.8 785h8.1v8.2h-8.1z"/><path fill="#030311" d="M230.4 785h8.1v8.2h-8.1z"/><path fill="#030311" d="M238 785h8.1v8.2h-8.1z"/><path fill="#050417" d="M245.7 785h8.1v8.2h-8.1z"/><path fill="#0c0926" d="M253.3 785h8.1v8.2h-8.1z"/><path fill="#251155" d="M261 785h8.1v8.2h-8.1z"/><path fill="#50127b" d="M268.6 785h8.1v8.2h-8.1z"/><path fill="#912a80" d="M276.2 785h8.1v8.2h-8.1z"/><path fill="#c63c73" d="M283.9 785h8.1v8.2h-8.1z"/><path fill="#a12f7e" d="M291.5 785h8.1v8.2h-8.1z"/><path fill="#321067" d="M299.2 785h8.1v8.2h-8.1z"/><path fill="#050417" d="M306.8 785h8.1v8.2h-8.1z"/><path fill="#450f76" d="M314.4 785h8.1v8.2h-8.1z"/><path fill="#bb3877" d="M322.1 785h8.1v8.2h-8.1z"/><path fill="#fc9265" d="M329.7 785h8.1v8.2h-8.1z"/><path fill="#febb80" d="M337.4 785h8.1v8.2h-8.1z"/><path fill="#febb80" d="M345 785h8.1v8.2h-8.1z"/><path fill="#040313" d="M184.6 792.6h8.1v8.2h-8.1z"/><path fill="#040313" d="M192.2 792.6h8.1v8.2h-8.1z"/><path fill="#02020f" d="M199.8 792.6h8.1v8.2h-8.1z"/><path fill="#010109" d="M207.5 792.6h8.1v8.2h-8.1z"/><path fill="#010007" d="M215.1 792.6h8.1v8.2h-8.1z"/><path fill="#010007" d="M222.8 792.6h8.1v8.2h-8.1z"/><path fill="#000006" d="M230.4 792.6h8.1v8.2h-8.1z"/><path fill="#000004" d="M238 792.6h8.1v8.2h-8.1z"/><path fill="#000004" d="M245.7 792.6h8.1v8.2h-8.1z"/><path fill="#01010b" d="M253.3 792.6h8.1v8.2h-8.1z"/><path fill="#0a0722" d="M261 792.6h8.1v8.2h-8.1z"/><path fill="#321067" d="M268.6 792.6h8.1v8.2h-8.1z"/><path fill="#711f81" d="M276.2 792.6h8.1v8.2h-8.1z"/><path fill="#a4307d" d="M283.9 792.6h8.1v8.2h-8.1z"/><path fill="#922b80" d="M291.5 792.6h8.1v8.2h-8.1z"/><path fill="#4d117a" d="M299.2 792.6h8.1v8.2h-8.1z"/><path fill="#2a115c" d="M306.8 792.6h8.1v8.2h-8.1z"/><path fill="#55137d" d="M314.4 792.6h8.1v8.2h-8.1z"/><path fill="#ab337c" d="M322.1 792.6h8.1v8.2h-8.1z"/><path fill="#f6705b" d="M329.7 792.6h8.1v8.2h-8.1z"/><path fill="#fda16e" d="M337.4 792.6h8.1v8.2h-8.1z"/><path fill="#fda16e" d="M345 792.6h8.1v8.2h-8.1z"/><path fill="#050417" d="M184.6 800.3h8.1v8.2h-8.1z"/><path fill="#050417" d="M192.2 800.3h8.1v8.2h-8.1z"/><path fill="#02020f" d="M199.8 800.3h8.1v8.2h-8.1z"/><path fill="#010007" d="M207.5 800.3h8.1v8.2h-8.1z"/><path fill="#000006" d="M215.1 800.3h8.1v8.2h-8.1z"/><path fill="#000006" d="M222.8 800.3h8.1v8.2h-8.1z"/><path fill="#000006" d="M230.4 800.3h8.1v8.2h-8.1z"/><path fill="#000006" d="M238 800.3h8.1v8.2h-8.1z"/><path fill="#000006" d="M245.7 800.3h8.1v8.2h-8.1z"/><path fill="#02020f" d="M253.3 800.3h8.1v8.2h-8.1z"/><path fill="#0c0926" d="M261 800.3h8.1v8.2h-8.1z"/><path fill="#2f1062" d="M268.6 800.3h8.1v8.2h-8.1z"/><path fill="#53137c" d="M276.2 800.3h8.1v8.2h-8.1z"/><path fill="#691c80" d="M283.9 800.3h8.1v8.2h-8.1z"/><path fill="#681b80" d="M291.5 800.3h8.1v8.2h-8.1z"/><path fill="#55137d" d="M299.2 800.3h8.1v8.2h-8.1z"/><path fill="#50127b" d="M306.8 800.3h8.1v8.2h-8.1z"/><path fill="#661a80" d="M314.4 800.3h8.1v8.2h-8.1z"/><path fill="#9a2d7f" d="M322.1 800.3h8.1v8.2h-8.1z"/><path fill="#e24d65" d="M329.7 800.3h8.1v8.2h-8.1z"/><path fill="#f97b5d" d="M337.4 800.3h8.1v8.2h-8.1z"/><path fill="#f97b5d" d="M345 800.3h8.1v8.2h-8.1z"/><path fill="#321067" d="M184.6 808h8.1v8.2h-8.1z"/><path fill="#321067" d="M192.2 808h8.1v8.2h-8.1z"/><path fill="#170f3c" d="M199.8 808h8.1v8.2h-8.1z"/><path fill="#01010b" d="M207.5 808h8.1v8.2h-8.1z"/><path fill="#000003" d="M215.1 808h8.1v8.2h-8.1z"/><path fill="#000006" d="M222.8 808h8.1v8.2h-8.1z"/><path fill="#010007" d="M230.4 808h8.1v8.2h-8.1z"/><path fill="#010007" d="M238 808h8.1v8.2h-8.1z"/><path fill="#040415" d="M245.7 808h8.1v8.2h-8.1z"/><path fill="#1a1041" d="M253.3 808h8.1v8.2h-8.1z"/><path fill="#370f6c" d="M261 808h8.1v8.2h-8.1z"/><path fill="#4d117a" d="M268.6 808h8.1v8.2h-8.1z"/><path fill="#4b1079" d="M276.2 808h8.1v8.2h-8.1z"/><path fill="#341068" d="M283.9 808h8.1v8.2h-8.1z"/><path fill="#221150" d="M291.5 808h8.1v8.2h-8.1z"/><path fill="#231152" d="M299.2 808h8.1v8.2h-8.1z"/><path fill="#3b0f6f" d="M306.8 808h8.1v8.2h-8.1z"/><path fill="#61187f" d="M314.4 808h8.1v8.2h-8.1z"/><path fill="#992d7f" d="M322.1 808h8.1v8.2h-8.1z"/><path fill="#da4769" d="M329.7 808h8.1v8.2h-8.1z"/><path fill="#f3655c" d="M337.4 808h8.1v8.2h-8.1z"/><path fill="#f3655c" d="M345 808h8.1v8.2h-8.1z"/><path fill="#691c80" d="M184.6 815.7h8.1v8.2h-8.1z"/><path fill="#691c80" d="M192.2 815.7h8.1v8.2h-8.1z"/><path fill="#3e0f72" d="M199.8 815.7h8.1v8.2h-8.1z"/><path fill="#08061d" d="M207.5 815.7h8.1v8.2h-8.1z"/><path fill="#010007" d="M215.1 815.7h8.1v8.2h-8.1z"/><path fill="#000004" d="M222.8 815.7h8.1v8.2h-8.1z"/><path fill="#010007" d="M230.4 815.7h8.1v8.2h-8.1z"/><path fill="#030311" d="M238 815.7h8.1v8.2h-8.1z"/><path fill="#160e3a" d="M245.7 815.7h8.1v8.2h-8.1z"/><path fill="#3c0f71" d="M253.3 815.7h8.1v8.2h-8.1z"/><path fill="#61187f" d="M261 815.7h8.1v8.2h-8.1z"/><path fill="#6f1e81" d="M268.6 815.7h8.1v8.2h-8.1z"/><path fill="#55137d" d="M276.2 815.7h8.1v8.2h-8.1z"/><path fill="#1b1044" d="M283.9 815.7h8.1v8.2h-8.1z"/><path fill="#010109" d="M291.5 815.7h8.1v8.2h-8.1z"/><path fill="#010109" d="M299.2 815.7h8.1v8.2h-8.1z"/><path fill="#1a1041" d="M306.8 815.7h8.1v8.2h-8.1z"/><path fill="#5b167e" d="M314.4 815.7h8.1v8.2h-8.1z"/><path fill="#9f2f7e" d="M322.1 815.7h8.1v8.2h-8.1z"/><path fill="#da4769" d="M329.7 815.7h8.1v8.2h-8.1z"/><path fill="#ec585f" d="M337.4 815.7h8.1v8.2h-8.1z"/><path fill="#ec585f" d="M345 815.7h8.1v8.2h-8.1z"/><path fill="#7c2381" d="M184.6 823.4h8.1v8.2h-8.1z"/><path fill="#7c2381" d="M192.2 823.4h8.1v8.2h-8.1z"/><path fill="#60187f" d="M199.8 823.4h8.1v8.2h-8.1z"/><path fill="#2a115c" d="M207.5 823.4h8.1v8.2h-8.1z"/><path fill="#060519" d="M215.1 823.4h8.1v8.2h-8.1z"/><path fill="#000006" d="M222.8 823.4h8.1v8.2h-8.1z"/><path fill="#01010b" d="M230.4 823.4h8.1v8.2h-8.1z"/><path fill="#0c0926" d="M238 823.4h8.1v8.2h-8.1z"/><path fill="#2f1062" d="M245.7 823.4h8.1v8.2h-8.1z"/><path fill="#50127b" d="M253.3 823.4h8.1v8.2h-8.1z"/><path fill="#6e1e81" d="M261 823.4h8.1v8.2h-8.1z"/><path fill="#7f2481" d="M268.6 823.4h8.1v8.2h-8.1z"/><path fill="#661a80" d="M276.2 823.4h8.1v8.2h-8.1z"/><path fill="#2a115c" d="M283.9 823.4h8.1v8.2h-8.1z"/><path fill="#040415" d="M291.5 823.4h8.1v8.2h-8.1z"/><path fill="#040415" d="M299.2 823.4h8.1v8.2h-8.1z"/><path fill="#261157" d="M306.8 823.4h8.1v8.2h-8.1z"/><path fill="#681b80" d="M314.4 823.4h8.1v8.2h-8.1z"/><path fill="#a7317d" d="M322.1 823.4h8.1v8.2h-8.1z"/><path fill="#d4436d" d="M329.7 823.4h8.1v8.2h-8.1z"/><path fill="#de4a67" d="M337.4 823.4h8.1v8.2h-8.1z"/><path fill="#de4a67" d="M345 823.4h8.1v8.2h-8.1z"/><path fill="#7c2381" d="M184.6 831.1h8.1v8.2h-8.1z"/><path fill="#7c2381" d="M192.2 831.1h8.1v8.2h-8.1z"/><path fill="#6e1e81" d="M199.8 831.1h8.1v8.2h-8.1z"/><path fill="#450f76" d="M207.5 831.1h8.1v8.2h-8.1z"/><path fill="#1a1041" d="M215.1 831.1h8.1v8.2h-8.1z"/><path fill="#040415" d="M222.8 831.1h8.1v8.2h-8.1z"/><path fill="#08061d" d="M230.4 831.1h8.1v8.2h-8.1z"/><path fill="#281159" d="M238 831.1h8.1v8.2h-8.1z"/><path fill="#4a1079" d="M245.7 831.1h8.1v8.2h-8.1z"/><path fill="#5e177f" d="M253.3 831.1h8.1v8.2h-8.1z"/><path fill="#792281" d="M261 831.1h8.1v8.2h-8.1z"/><path fill="#8d2980" d="M268.6 831.1h8.1v8.2h-8.1z"/><path fill="#822581" d="M276.2 831.1h8.1v8.2h-8.1z"/><path fill="#5a157e" d="M283.9 831.1h8.1v8.2h-8.1z"/><path fill="#3b0f6f" d="M291.5 831.1h8.1v8.2h-8.1z"/><path fill="#3b0f6f" d="M299.2 831.1h8.1v8.2h-8.1z"/><path fill="#57147d" d="M306.8 831.1h8.1v8.2h-8.1z"/><path fill="#812581" d="M314.4 831.1h8.1v8.2h-8.1z"/><path fill="#ac337b" d="M322.1 831.1h8.1v8.2h-8.1z"/><path fill="#cb3e71" d="M329.7 831.1h8.1v8.2h-8.1z"/><path fill="#d1426e" d="M337.4 831.1h8.1v8.2h-8.1z"/><path fill="#d1426e" d="M345 831.1h8.1v8.2h-8.1z"/><path fill="#7e2481" d="M184.6 838.7h8.1v8.2h-8.1z"/><path fill="#7e2481" d="M192.2 838.7h8.1v8.2h-8.1z"/><path fill="#60187f" d="M199.8 838.7h8.1v8.2h-8.1z"/><path fill="#390f6e" d="M207.5 838.7h8.1v8.2h-8.1z"/><path fill="#2b115e" d="M215.1 838.7h8.1v8.2h-8.1z"/><path fill="#2d1060" d="M222.8 838.7h8.1v8.2h-8.1z"/><path fill="#341068" d="M230.4 838.7h8.1v8.2h-8.1z"/><path fill="#430f75" d="M238 838.7h8.1v8.2h-8.1z"/><path fill="#5d177e" d="M245.7 838.7h8.1v8.2h-8.1z"/><path fill="#7f2481" d="M253.3 838.7h8.1v8.2h-8.1z"/><path fill="#9f2f7e" d="M261 838.7h8.1v8.2h-8.1z"/><path fill="#b3357a" d="M268.6 838.7h8.1v8.2h-8.1z"/><path fill="#ae347b" d="M276.2 838.7h8.1v8.2h-8.1z"/><path fill="#9a2d7f" d="M283.9 838.7h8.1v8.2h-8.1z"/><path fill="#8a2881" d="M291.5 838.7h8.1v8.2h-8.1z"/><path fill="#872781" d="M299.2 838.7h8.1v8.2h-8.1z"/><path fill="#8a2881" d="M306.8 838.7h8.1v8.2h-8.1z"/><path fill="#972c7f" d="M314.4 838.7h8.1v8.2h-8.1z"/><path fill="#ab337c" d="M322.1 838.7h8.1v8.2h-8.1z"/><path fill="#c63c73" d="M329.7 838.7h8.1v8.2h-8.1z"/><path fill="#d7456b" d="M337.4 838.7h8.1v8.2h-8.1z"/><path fill="#d7456b" d="M345 838.7h8.1v8.2h-8.1z"/><path fill="#892881" d="M184.6 846.4h8.1v8.2h-8.1z"/><path fill="#892881" d="M192.2 846.4h8.1v8.2h-8.1z"/><path fill="#450f76" d="M199.8 846.4h8.1v8.2h-8.1z"/><path fill="#160e3a" d="M207.5 846.4h8.1v8.2h-8.1z"/><path fill="#2f1062" d="M215.1 846.4h8.1v8.2h-8.1z"/><path fill="#5d177e" d="M222.8 846.4h8.1v8.2h-8.1z"/><path fill="#61187f" d="M230.4 846.4h8.1v8.2h-8.1z"/><path fill="#4d117a" d="M238 846.4h8.1v8.2h-8.1z"/><path fill="#63197f" d="M245.7 846.4h8.1v8.2h-8.1z"/><path fill="#a3307e" d="M253.3 846.4h8.1v8.2h-8.1z"/><path fill="#d0416f" d="M261 846.4h8.1v8.2h-8.1z"/><path fill="#d7456b" d="M268.6 846.4h8.1v8.2h-8.1z"/><path fill="#d0416f" d="M276.2 846.4h8.1v8.2h-8.1z"/><path fill="#c53c74" d="M283.9 846.4h8.1v8.2h-8.1z"/><path fill="#b93778" d="M291.5 846.4h8.1v8.2h-8.1z"/><path fill="#b0347b" d="M299.2 846.4h8.1v8.2h-8.1z"/><path fill="#a4307d" d="M306.8 846.4h8.1v8.2h-8.1z"/><path fill="#9c2e7f" d="M314.4 846.4h8.1v8.2h-8.1z"/><path fill="#a6317d" d="M322.1 846.4h8.1v8.2h-8.1z"/><path fill="#ca3e72" d="M329.7 846.4h8.1v8.2h-8.1z"/><path fill="#e55063" d="M337.4 846.4h8.1v8.2h-8.1z"/><path fill="#e55063" d="M345 846.4h8.1v8.2h-8.1z"/><path fill="#892881" d="M184.6 854.1h8.1v8.2h-8.1z"/><path fill="#892881" d="M192.2 854.1h8.1v8.2h-8.1z"/><path fill="#450f76" d="M199.8 854.1h8.1v8.2h-8.1z"/><path fill="#160e3a" d="M207.5 854.1h8.1v8.2h-8.1z"/><path fill="#2f1062" d="M215.1 854.1h8.1v8.2h-8.1z"/><path fill="#5d177e" d="M222.8 854.1h8.1v8.2h-8.1z"/><path fill="#61187f" d="M230.4 854.1h8.1v8.2h-8.1z"/><path fill="#4d117a" d="M238 854.1h8.1v8.2h-8.1z"/><path fill="#63197f" d="M245.7 854.1h8.1v8.2h-8.1z"/><path fill="#a3307e" d="M253.3 854.1h8.1v8.2h-8.1z"/><path fill="#d0416f" d="M261 854.1h8.1v8.2h-8.1z"/><path fill="#d7456b" d="M268.6 854.1h8.1v8.2h-8.1z"/><path fill="#d0416f" d="M276.2 854.1h8.1v8.2h-8.1z"/><path fill="#c53c74" d="M283.9 854.1h8.1v8.2h-8.1z"/><path fill="#b93778" d="M291.5 854.1h8.1v8.2h-8.1z"/><path fill="#b0347b" d="M299.2 854.1h8.1v8.2h-8.1z"/><path fill="#a4307d" d="M306.8 854.1h8.1v8.2h-8.1z"/><path fill="#9c2e7f" d="M314.4 854.1h8.1v8.2h-8.1z"/><path fill="#a6317d" d="M322.1 854.1h8.1v8.2h-8.1z"/><path fill="#ca3e72" d="M329.7 854.1h8.1v8.2h-8.1z"/><path fill="#e55063" d="M337.4 854.1h8.1v8.2h-8.1z"/><path fill="#e55063" d="M345 854.1h8.1v8.2h-8.1z"/></g>
<path d="M336.1 770.9L336.1 776L334.4 778.6L332.7 781.1L331.7 786.2L332.5 791.4L333.5 794.4L335.5 799L337 801.6L341.2 804" fill="none" stroke="#3a2a30" stroke-width="0.55" opacity="0.5"/>
<path d="M330.4 770.9L330.4 776L328.4 779.3L327.4 783.7L327.5 788.8L328.4 793.9L329.2 796.5L331 801.3L331.9 804.2L332.8 809.3L332.7 814.4L332.5 819.5L332.9 824.7L333.5 827.6L336.1 832L338.6 833.1L343.7 833.1M343.7 840.8L338.6 840.8L336.1 843.8L334.9 847.7L334.9 852.8M276.2 852.8L276.2 847.7L272.4 847.2L267.3 847.6L266.8 850.3" fill="none" stroke="#4a2a40" stroke-width="0.55" opacity="0.45"/>
<path d="M322.5 770.9L322.5 776L323.2 781.1L323.4 784.2L323.6 788.8L324 793.9L324.6 799L325.4 804.2L325.8 809.3L325.4 814.4L324.8 819.5L324.1 824.7L323.4 829.2L322.7 832.3L321.1 837.5L319.9 840L318 842.6L313.2 844.4L308.1 844.4L303 844.2L297.9 843.9L292.8 843.3L289.5 842.6L285.2 841.1L282.6 840L277.6 837.5L275 836.7L272 837.5L267.3 840L264.8 841.2L262.2 842.6L257.8 845.1L255.7 847.7L255.7 852.8M294.8 796.5L295.8 793.9L296.1 788.8L295.3 783.8L293.9 781.1L290.2 779L287.7 778.4L282.6 777.7L278.8 778.6L279.1 783.7L280.1 787.2L281.6 791.4L282.9 793.9L285.2 796.7L290.2 799L294.8 796.5" fill="none" stroke="#f0a878" stroke-width="0.55" opacity="0.5"/>
<path d="M245.3 770.9L245.3 776L249.5 776.6L254.6 776.9L259.7 777.9L262.2 779.1L265.9 781.1L269.5 783.7L271.9 786.2L273.7 788.8L275.1 791.4L277.3 796.5L278.4 799L280.1 802.1L282.6 804.8L287.7 806.2L292.8 806.1L297.9 805.3L301.1 804.2L302.3 799L301.2 793.9L300.4 789.3L300.1 786.2L300 781.1L300.8 778.6L305.5 776.9L310.6 777.2L315.5 778.6L318.3 781L319.2 783.7L319.7 788.8L319.2 793.9L318.3 798L316.4 801.6L314.9 804.2L315.7 809.2L316.8 811.9L318 817L317.9 822.1L316.6 827.2L315.5 829.8L313.2 833.1L310.6 835.3L305.6 837.5L303 838L297.9 838.2L293.2 837.5L290.2 836.4L287.7 834.8L285.1 832.3L282.6 828.5L280.9 824.7L280.1 821.9L278.1 817L275.1 814.4L272.4 814.3L269.9 814.9L265.8 817L262.9 819.5L261.3 822.1L259.7 827L258.7 829.8L257.1 832.6L254.6 835.3L252 837.6L249.5 840.9L248.1 845.1L248 850.3M202.4 852.8L202.4 847.7L203.7 843.9L206.2 840.5L207.8 837.5L207 832.3L205.9 829.8L203.7 825.4L202.3 822.1L201.1 819.4L198.6 816.8L193.5 816.8M237.1 852.8L237.1 847.7L234.2 846.6L229.1 846.5L226 847.7L226 852.8" fill="none" stroke="#e8a070" stroke-width="0.55" opacity="0.5"/>
<g fill="#0a0418" opacity="0.9" filter="url(#hb2)"><path d="M205.6 769.6 195.5 781.7 192.2 787.3 192.2 807.1 200 815.9 205.6 824.8 211.2 833.6 212.3 842.4 207.8 854.5 243.5 854.5 245.7 835.8 256.9 831.4 268 824.8 277 822.6 281.4 833.6 290.3 840.2 303.7 842.4 314.9 835.8 320.5 827 319.3 820.3 316 809.3 314.9 787.3 310.4 779.5 301.5 781.7 299.3 789.5 306 796.1 308.2 802.7 301.5 812.6 290.3 813.7 283.7 807.1 283.7 798.3 277 789.5 256.9 785 245.7 776.2 227.9 772.9 221.2 769.6Z" stroke="#36106a" stroke-width="11" stroke-linejoin="round"/><ellipse cx="301.5" cy="825.9" rx="4.5" ry="3.5"/></g>
<path d="M205.6 769.6L195.5 781.7L192.2 787.3M192.2 807.1L200 815.9L205.6 824.8L211.2 833.6L212.3 842.4L207.8 854.5M221.2 769.6L227.9 772.9L245.7 776.2L256.9 785L277 789.5L283.7 798.3L283.7 807.1L290.3 813.7L301.5 812.6L308.2 802.7L306 796.1L299.3 789.5L301.5 781.7L310.4 779.5L314.9 787.3L316 809.3L319.3 820.3L320.5 827L314.9 835.8L303.7 842.4L290.3 840.2L281.4 833.6L277 822.6L268 824.8L256.9 831.4L245.7 835.8L243.5 854.5" fill="none" stroke="#fff" stroke-width="2.7" stroke-linecap="round" stroke-linejoin="round" stroke-dasharray="0 4.2"/>
</g>
<text x="195.7" y="787.6" font-size="14" text-anchor="start" fill="#fff">(VII)</text>
<text x="336" y="787.6" font-size="13" text-anchor="end" fill="#fff">t = 27 min</text>
<rect x="205.2" y="845.1" width="36" height="4" fill="#fff"/>
<clipPath id="cl6"><rect x="348.1" y="769.6" width="152.8" height="84.5"/></clipPath>
<g clip-path="url(#cl6)"><g filter="url(#hb)"><path fill="#5a157e" d="M340.5 761.9h8.1v8.2h-8.1z"/><path fill="#5a157e" d="M348.1 761.9h8.1v8.2h-8.1z"/><path fill="#3e0f72" d="M355.7 761.9h8.1v8.2h-8.1z"/><path fill="#261157" d="M363.4 761.9h8.1v8.2h-8.1z"/><path fill="#2f1062" d="M371 761.9h8.1v8.2h-8.1z"/><path fill="#450f76" d="M378.7 761.9h8.1v8.2h-8.1z"/><path fill="#53137c" d="M386.3 761.9h8.1v8.2h-8.1z"/><path fill="#58157e" d="M393.9 761.9h8.1v8.2h-8.1z"/><path fill="#5e177f" d="M401.6 761.9h8.1v8.2h-8.1z"/><path fill="#651a80" d="M409.2 761.9h8.1v8.2h-8.1z"/><path fill="#661a80" d="M416.9 761.9h8.1v8.2h-8.1z"/><path fill="#681b80" d="M424.5 761.9h8.1v8.2h-8.1z"/><path fill="#822581" d="M432.1 761.9h8.1v8.2h-8.1z"/><path fill="#b63679" d="M439.8 761.9h8.1v8.2h-8.1z"/><path fill="#eb5660" d="M447.4 761.9h8.1v8.2h-8.1z"/><path fill="#f97d5d" d="M455.1 761.9h8.1v8.2h-8.1z"/><path fill="#ef5e5d" d="M462.7 761.9h8.1v8.2h-8.1z"/><path fill="#ab337c" d="M470.3 761.9h8.1v8.2h-8.1z"/><path fill="#792281" d="M478 761.9h8.1v8.2h-8.1z"/><path fill="#c23a75" d="M485.6 761.9h8.1v8.2h-8.1z"/><path fill="#fc8e63" d="M493.3 761.9h8.1v8.2h-8.1z"/><path fill="#fc8e63" d="M500.9 761.9h8.1v8.2h-8.1z"/><path fill="#5a157e" d="M340.5 769.6h8.1v8.2h-8.1z"/><path fill="#5a157e" d="M348.1 769.6h8.1v8.2h-8.1z"/><path fill="#3e0f72" d="M355.7 769.6h8.1v8.2h-8.1z"/><path fill="#261157" d="M363.4 769.6h8.1v8.2h-8.1z"/><path fill="#2f1062" d="M371 769.6h8.1v8.2h-8.1z"/><path fill="#450f76" d="M378.7 769.6h8.1v8.2h-8.1z"/><path fill="#53137c" d="M386.3 769.6h8.1v8.2h-8.1z"/><path fill="#58157e" d="M393.9 769.6h8.1v8.2h-8.1z"/><path fill="#5e177f" d="M401.6 769.6h8.1v8.2h-8.1z"/><path fill="#651a80" d="M409.2 769.6h8.1v8.2h-8.1z"/><path fill="#661a80" d="M416.9 769.6h8.1v8.2h-8.1z"/><path fill="#681b80" d="M424.5 769.6h8.1v8.2h-8.1z"/><path fill="#822581" d="M432.1 769.6h8.1v8.2h-8.1z"/><path fill="#b63679" d="M439.8 769.6h8.1v8.2h-8.1z"/><path fill="#eb5660" d="M447.4 769.6h8.1v8.2h-8.1z"/><path fill="#f97d5d" d="M455.1 769.6h8.1v8.2h-8.1z"/><path fill="#ef5e5d" d="M462.7 769.6h8.1v8.2h-8.1z"/><path fill="#ab337c" d="M470.3 769.6h8.1v8.2h-8.1z"/><path fill="#792281" d="M478 769.6h8.1v8.2h-8.1z"/><path fill="#c23a75" d="M485.6 769.6h8.1v8.2h-8.1z"/><path fill="#fc8e63" d="M493.3 769.6h8.1v8.2h-8.1z"/><path fill="#fc8e63" d="M500.9 769.6h8.1v8.2h-8.1z"/><path fill="#57147d" d="M340.5 777.3h8.1v8.2h-8.1z"/><path fill="#57147d" d="M348.1 777.3h8.1v8.2h-8.1z"/><path fill="#3b0f6f" d="M355.7 777.3h8.1v8.2h-8.1z"/><path fill="#1a1041" d="M363.4 777.3h8.1v8.2h-8.1z"/><path fill="#120d33" d="M371 777.3h8.1v8.2h-8.1z"/><path fill="#180f3f" d="M378.7 777.3h8.1v8.2h-8.1z"/><path fill="#251155" d="M386.3 777.3h8.1v8.2h-8.1z"/><path fill="#341068" d="M393.9 777.3h8.1v8.2h-8.1z"/><path fill="#420f74" d="M401.6 777.3h8.1v8.2h-8.1z"/><path fill="#481078" d="M409.2 777.3h8.1v8.2h-8.1z"/><path fill="#4a1079" d="M416.9 777.3h8.1v8.2h-8.1z"/><path fill="#50127b" d="M424.5 777.3h8.1v8.2h-8.1z"/><path fill="#6c1d80" d="M432.1 777.3h8.1v8.2h-8.1z"/><path fill="#a4307d" d="M439.8 777.3h8.1v8.2h-8.1z"/><path fill="#eb5660" d="M447.4 777.3h8.1v8.2h-8.1z"/><path fill="#fc9064" d="M455.1 777.3h8.1v8.2h-8.1z"/><path fill="#f3655c" d="M462.7 777.3h8.1v8.2h-8.1z"/><path fill="#842681" d="M470.3 777.3h8.1v8.2h-8.1z"/><path fill="#261157" d="M478 777.3h8.1v8.2h-8.1z"/><path fill="#852681" d="M485.6 777.3h8.1v8.2h-8.1z"/><path fill="#f97b5d" d="M493.3 777.3h8.1v8.2h-8.1z"/><path fill="#f97b5d" d="M500.9 777.3h8.1v8.2h-8.1z"/><path fill="#691c80" d="M340.5 785h8.1v8.2h-8.1z"/><path fill="#691c80" d="M348.1 785h8.1v8.2h-8.1z"/><path fill="#420f74" d="M355.7 785h8.1v8.2h-8.1z"/><path fill="#0a0722" d="M363.4 785h8.1v8.2h-8.1z"/><path fill="#010007" d="M371 785h8.1v8.2h-8.1z"/><path fill="#000006" d="M378.7 785h8.1v8.2h-8.1z"/><path fill="#02020f" d="M386.3 785h8.1v8.2h-8.1z"/><path fill="#08061d" d="M393.9 785h8.1v8.2h-8.1z"/><path fill="#140d35" d="M401.6 785h8.1v8.2h-8.1z"/><path fill="#180f3f" d="M409.2 785h8.1v8.2h-8.1z"/><path fill="#1c1046" d="M416.9 785h8.1v8.2h-8.1z"/><path fill="#281159" d="M424.5 785h8.1v8.2h-8.1z"/><path fill="#420f74" d="M432.1 785h8.1v8.2h-8.1z"/><path fill="#6e1e81" d="M439.8 785h8.1v8.2h-8.1z"/><path fill="#b83778" d="M447.4 785h8.1v8.2h-8.1z"/><path fill="#eb5660" d="M455.1 785h8.1v8.2h-8.1z"/><path fill="#c83d72" d="M462.7 785h8.1v8.2h-8.1z"/><path fill="#481078" d="M470.3 785h8.1v8.2h-8.1z"/><path fill="#000006" d="M478 785h8.1v8.2h-8.1z"/><path fill="#6c1d80" d="M485.6 785h8.1v8.2h-8.1z"/><path fill="#f8775c" d="M493.3 785h8.1v8.2h-8.1z"/><path fill="#f8775c" d="M500.9 785h8.1v8.2h-8.1z"/><path fill="#8c2980" d="M340.5 792.6h8.1v8.2h-8.1z"/><path fill="#8c2980" d="M348.1 792.6h8.1v8.2h-8.1z"/><path fill="#50127b" d="M355.7 792.6h8.1v8.2h-8.1z"/><path fill="#060519" d="M363.4 792.6h8.1v8.2h-8.1z"/><path fill="#000003" d="M371 792.6h8.1v8.2h-8.1z"/><path fill="#000003" d="M378.7 792.6h8.1v8.2h-8.1z"/><path fill="#000004" d="M386.3 792.6h8.1v8.2h-8.1z"/><path fill="#000006" d="M393.9 792.6h8.1v8.2h-8.1z"/><path fill="#010007" d="M401.6 792.6h8.1v8.2h-8.1z"/><path fill="#01010b" d="M409.2 792.6h8.1v8.2h-8.1z"/><path fill="#040313" d="M416.9 792.6h8.1v8.2h-8.1z"/><path fill="#09071f" d="M424.5 792.6h8.1v8.2h-8.1z"/><path fill="#170f3c" d="M432.1 792.6h8.1v8.2h-8.1z"/><path fill="#2b115e" d="M439.8 792.6h8.1v8.2h-8.1z"/><path fill="#58157e" d="M447.4 792.6h8.1v8.2h-8.1z"/><path fill="#7e2481" d="M455.1 792.6h8.1v8.2h-8.1z"/><path fill="#63197f" d="M462.7 792.6h8.1v8.2h-8.1z"/><path fill="#150e38" d="M470.3 792.6h8.1v8.2h-8.1z"/><path fill="#030311" d="M478 792.6h8.1v8.2h-8.1z"/><path fill="#842681" d="M485.6 792.6h8.1v8.2h-8.1z"/><path fill="#f9795c" d="M493.3 792.6h8.1v8.2h-8.1z"/><path fill="#f9795c" d="M500.9 792.6h8.1v8.2h-8.1z"/><path fill="#a7317d" d="M340.5 800.3h8.1v8.2h-8.1z"/><path fill="#a7317d" d="M348.1 800.3h8.1v8.2h-8.1z"/><path fill="#60187f" d="M355.7 800.3h8.1v8.2h-8.1z"/><path fill="#07051b" d="M363.4 800.3h8.1v8.2h-8.1z"/><path fill="#000003" d="M371 800.3h8.1v8.2h-8.1z"/><path fill="#000003" d="M378.7 800.3h8.1v8.2h-8.1z"/><path fill="#010007" d="M386.3 800.3h8.1v8.2h-8.1z"/><path fill="#000006" d="M393.9 800.3h8.1v8.2h-8.1z"/><path fill="#000004" d="M401.6 800.3h8.1v8.2h-8.1z"/><path fill="#000004" d="M409.2 800.3h8.1v8.2h-8.1z"/><path fill="#010007" d="M416.9 800.3h8.1v8.2h-8.1z"/><path fill="#02020d" d="M424.5 800.3h8.1v8.2h-8.1z"/><path fill="#02020d" d="M432.1 800.3h8.1v8.2h-8.1z"/><path fill="#02020d" d="M439.8 800.3h8.1v8.2h-8.1z"/><path fill="#050417" d="M447.4 800.3h8.1v8.2h-8.1z"/><path fill="#0b0824" d="M455.1 800.3h8.1v8.2h-8.1z"/><path fill="#050417" d="M462.7 800.3h8.1v8.2h-8.1z"/><path fill="#010007" d="M470.3 800.3h8.1v8.2h-8.1z"/><path fill="#140d35" d="M478 800.3h8.1v8.2h-8.1z"/><path fill="#952c80" d="M485.6 800.3h8.1v8.2h-8.1z"/><path fill="#f3655c" d="M493.3 800.3h8.1v8.2h-8.1z"/><path fill="#f3655c" d="M500.9 800.3h8.1v8.2h-8.1z"/><path fill="#b1357a" d="M340.5 808h8.1v8.2h-8.1z"/><path fill="#b1357a" d="M348.1 808h8.1v8.2h-8.1z"/><path fill="#6b1c80" d="M355.7 808h8.1v8.2h-8.1z"/><path fill="#0a0722" d="M363.4 808h8.1v8.2h-8.1z"/><path fill="#000003" d="M371 808h8.1v8.2h-8.1z"/><path fill="#000003" d="M378.7 808h8.1v8.2h-8.1z"/><path fill="#02020f" d="M386.3 808h8.1v8.2h-8.1z"/><path fill="#09071f" d="M393.9 808h8.1v8.2h-8.1z"/><path fill="#0c0926" d="M401.6 808h8.1v8.2h-8.1z"/><path fill="#09071f" d="M409.2 808h8.1v8.2h-8.1z"/><path fill="#040415" d="M416.9 808h8.1v8.2h-8.1z"/><path fill="#02020d" d="M424.5 808h8.1v8.2h-8.1z"/><path fill="#000006" d="M432.1 808h8.1v8.2h-8.1z"/><path fill="#000003" d="M439.8 808h8.1v8.2h-8.1z"/><path fill="#000003" d="M447.4 808h8.1v8.2h-8.1z"/><path fill="#000003" d="M455.1 808h8.1v8.2h-8.1z"/><path fill="#000003" d="M462.7 808h8.1v8.2h-8.1z"/><path fill="#000003" d="M470.3 808h8.1v8.2h-8.1z"/><path fill="#0b0824" d="M478 808h8.1v8.2h-8.1z"/><path fill="#7a2281" d="M485.6 808h8.1v8.2h-8.1z"/><path fill="#cb3e71" d="M493.3 808h8.1v8.2h-8.1z"/><path fill="#cb3e71" d="M500.9 808h8.1v8.2h-8.1z"/><path fill="#c23a75" d="M340.5 815.7h8.1v8.2h-8.1z"/><path fill="#c23a75" d="M348.1 815.7h8.1v8.2h-8.1z"/><path fill="#742081" d="M355.7 815.7h8.1v8.2h-8.1z"/><path fill="#0c0926" d="M363.4 815.7h8.1v8.2h-8.1z"/><path fill="#000004" d="M371 815.7h8.1v8.2h-8.1z"/><path fill="#02020f" d="M378.7 815.7h8.1v8.2h-8.1z"/><path fill="#170f3c" d="M386.3 815.7h8.1v8.2h-8.1z"/><path fill="#301065" d="M393.9 815.7h8.1v8.2h-8.1z"/><path fill="#3b0f6f" d="M401.6 815.7h8.1v8.2h-8.1z"/><path fill="#341068" d="M409.2 815.7h8.1v8.2h-8.1z"/><path fill="#251155" d="M416.9 815.7h8.1v8.2h-8.1z"/><path fill="#1a1041" d="M424.5 815.7h8.1v8.2h-8.1z"/><path fill="#120d33" d="M432.1 815.7h8.1v8.2h-8.1z"/><path fill="#0a0722" d="M439.8 815.7h8.1v8.2h-8.1z"/><path fill="#07051b" d="M447.4 815.7h8.1v8.2h-8.1z"/><path fill="#040313" d="M455.1 815.7h8.1v8.2h-8.1z"/><path fill="#02020d" d="M462.7 815.7h8.1v8.2h-8.1z"/><path fill="#030311" d="M470.3 815.7h8.1v8.2h-8.1z"/><path fill="#1e1049" d="M478 815.7h8.1v8.2h-8.1z"/><path fill="#6e1e81" d="M485.6 815.7h8.1v8.2h-8.1z"/><path fill="#a9327c" d="M493.3 815.7h8.1v8.2h-8.1z"/><path fill="#a9327c" d="M500.9 815.7h8.1v8.2h-8.1z"/><path fill="#ea5560" d="M340.5 823.4h8.1v8.2h-8.1z"/><path fill="#ea5560" d="M348.1 823.4h8.1v8.2h-8.1z"/><path fill="#842681" d="M355.7 823.4h8.1v8.2h-8.1z"/><path fill="#0b0824" d="M363.4 823.4h8.1v8.2h-8.1z"/><path fill="#07051b" d="M371 823.4h8.1v8.2h-8.1z"/><path fill="#321067" d="M378.7 823.4h8.1v8.2h-8.1z"/><path fill="#55137d" d="M386.3 823.4h8.1v8.2h-8.1z"/><path fill="#5b167e" d="M393.9 823.4h8.1v8.2h-8.1z"/><path fill="#5a157e" d="M401.6 823.4h8.1v8.2h-8.1z"/><path fill="#5d177e" d="M409.2 823.4h8.1v8.2h-8.1z"/><path fill="#5e177f" d="M416.9 823.4h8.1v8.2h-8.1z"/><path fill="#60187f" d="M424.5 823.4h8.1v8.2h-8.1z"/><path fill="#5d177e" d="M432.1 823.4h8.1v8.2h-8.1z"/><path fill="#53137c" d="M439.8 823.4h8.1v8.2h-8.1z"/><path fill="#430f75" d="M447.4 823.4h8.1v8.2h-8.1z"/><path fill="#301065" d="M455.1 823.4h8.1v8.2h-8.1z"/><path fill="#2f1062" d="M462.7 823.4h8.1v8.2h-8.1z"/><path fill="#430f75" d="M470.3 823.4h8.1v8.2h-8.1z"/><path fill="#6c1d80" d="M478 823.4h8.1v8.2h-8.1z"/><path fill="#ab337c" d="M485.6 823.4h8.1v8.2h-8.1z"/><path fill="#d0416f" d="M493.3 823.4h8.1v8.2h-8.1z"/><path fill="#d0416f" d="M500.9 823.4h8.1v8.2h-8.1z"/><path fill="#fa805e" d="M340.5 831.1h8.1v8.2h-8.1z"/><path fill="#fa805e" d="M348.1 831.1h8.1v8.2h-8.1z"/><path fill="#8f2a80" d="M355.7 831.1h8.1v8.2h-8.1z"/><path fill="#08061d" d="M363.4 831.1h8.1v8.2h-8.1z"/><path fill="#1e1049" d="M371 831.1h8.1v8.2h-8.1z"/><path fill="#6f1e81" d="M378.7 831.1h8.1v8.2h-8.1z"/><path fill="#952c80" d="M386.3 831.1h8.1v8.2h-8.1z"/><path fill="#852681" d="M393.9 831.1h8.1v8.2h-8.1z"/><path fill="#762181" d="M401.6 831.1h8.1v8.2h-8.1z"/><path fill="#7e2481" d="M409.2 831.1h8.1v8.2h-8.1z"/><path fill="#8f2a80" d="M416.9 831.1h8.1v8.2h-8.1z"/><path fill="#9e2e7e" d="M424.5 831.1h8.1v8.2h-8.1z"/><path fill="#9f2f7e" d="M432.1 831.1h8.1v8.2h-8.1z"/><path fill="#942b80" d="M439.8 831.1h8.1v8.2h-8.1z"/><path fill="#7e2481" d="M447.4 831.1h8.1v8.2h-8.1z"/><path fill="#6b1c80" d="M455.1 831.1h8.1v8.2h-8.1z"/><path fill="#6e1e81" d="M462.7 831.1h8.1v8.2h-8.1z"/><path fill="#8d2980" d="M470.3 831.1h8.1v8.2h-8.1z"/><path fill="#be3976" d="M478 831.1h8.1v8.2h-8.1z"/><path fill="#ec585f" d="M485.6 831.1h8.1v8.2h-8.1z"/><path fill="#f6705b" d="M493.3 831.1h8.1v8.2h-8.1z"/><path fill="#f6705b" d="M500.9 831.1h8.1v8.2h-8.1z"/><path fill="#fb8460" d="M340.5 838.7h8.1v8.2h-8.1z"/><path fill="#fb8460" d="M348.1 838.7h8.1v8.2h-8.1z"/><path fill="#8c2980" d="M355.7 838.7h8.1v8.2h-8.1z"/><path fill="#060519" d="M363.4 838.7h8.1v8.2h-8.1z"/><path fill="#261157" d="M371 838.7h8.1v8.2h-8.1z"/><path fill="#872781" d="M378.7 838.7h8.1v8.2h-8.1z"/><path fill="#bb3877" d="M386.3 838.7h8.1v8.2h-8.1z"/><path fill="#b1357a" d="M393.9 838.7h8.1v8.2h-8.1z"/><path fill="#9e2e7e" d="M401.6 838.7h8.1v8.2h-8.1z"/><path fill="#9a2d7f" d="M409.2 838.7h8.1v8.2h-8.1z"/><path fill="#a12f7e" d="M416.9 838.7h8.1v8.2h-8.1z"/><path fill="#ab337c" d="M424.5 838.7h8.1v8.2h-8.1z"/><path fill="#ae347b" d="M432.1 838.7h8.1v8.2h-8.1z"/><path fill="#a7317d" d="M439.8 838.7h8.1v8.2h-8.1z"/><path fill="#9e2e7e" d="M447.4 838.7h8.1v8.2h-8.1z"/><path fill="#952c80" d="M455.1 838.7h8.1v8.2h-8.1z"/><path fill="#9e2e7e" d="M462.7 838.7h8.1v8.2h-8.1z"/><path fill="#b63679" d="M470.3 838.7h8.1v8.2h-8.1z"/><path fill="#d9466a" d="M478 838.7h8.1v8.2h-8.1z"/><path fill="#f3655c" d="M485.6 838.7h8.1v8.2h-8.1z"/><path fill="#f97b5d" d="M493.3 838.7h8.1v8.2h-8.1z"/><path fill="#f97b5d" d="M500.9 838.7h8.1v8.2h-8.1z"/><path fill="#f2635c" d="M340.5 846.4h8.1v8.2h-8.1z"/><path fill="#f2635c" d="M348.1 846.4h8.1v8.2h-8.1z"/><path fill="#7f2481" d="M355.7 846.4h8.1v8.2h-8.1z"/><path fill="#07051b" d="M363.4 846.4h8.1v8.2h-8.1z"/><path fill="#1e1049" d="M371 846.4h8.1v8.2h-8.1z"/><path fill="#772181" d="M378.7 846.4h8.1v8.2h-8.1z"/><path fill="#b93778" d="M386.3 846.4h8.1v8.2h-8.1z"/><path fill="#cd3f70" d="M393.9 846.4h8.1v8.2h-8.1z"/><path fill="#c23a75" d="M401.6 846.4h8.1v8.2h-8.1z"/><path fill="#ab337c" d="M409.2 846.4h8.1v8.2h-8.1z"/><path fill="#952c80" d="M416.9 846.4h8.1v8.2h-8.1z"/><path fill="#8a2881" d="M424.5 846.4h8.1v8.2h-8.1z"/><path fill="#892881" d="M432.1 846.4h8.1v8.2h-8.1z"/><path fill="#8d2980" d="M439.8 846.4h8.1v8.2h-8.1z"/><path fill="#992d7f" d="M447.4 846.4h8.1v8.2h-8.1z"/><path fill="#a6317d" d="M455.1 846.4h8.1v8.2h-8.1z"/><path fill="#ac337b" d="M462.7 846.4h8.1v8.2h-8.1z"/><path fill="#b1357a" d="M470.3 846.4h8.1v8.2h-8.1z"/><path fill="#bb3877" d="M478 846.4h8.1v8.2h-8.1z"/><path fill="#d4436d" d="M485.6 846.4h8.1v8.2h-8.1z"/><path fill="#e55063" d="M493.3 846.4h8.1v8.2h-8.1z"/><path fill="#e55063" d="M500.9 846.4h8.1v8.2h-8.1z"/><path fill="#f2635c" d="M340.5 854.1h8.1v8.2h-8.1z"/><path fill="#f2635c" d="M348.1 854.1h8.1v8.2h-8.1z"/><path fill="#7f2481" d="M355.7 854.1h8.1v8.2h-8.1z"/><path fill="#07051b" d="M363.4 854.1h8.1v8.2h-8.1z"/><path fill="#1e1049" d="M371 854.1h8.1v8.2h-8.1z"/><path fill="#772181" d="M378.7 854.1h8.1v8.2h-8.1z"/><path fill="#b93778" d="M386.3 854.1h8.1v8.2h-8.1z"/><path fill="#cd3f70" d="M393.9 854.1h8.1v8.2h-8.1z"/><path fill="#c23a75" d="M401.6 854.1h8.1v8.2h-8.1z"/><path fill="#ab337c" d="M409.2 854.1h8.1v8.2h-8.1z"/><path fill="#952c80" d="M416.9 854.1h8.1v8.2h-8.1z"/><path fill="#8a2881" d="M424.5 854.1h8.1v8.2h-8.1z"/><path fill="#892881" d="M432.1 854.1h8.1v8.2h-8.1z"/><path fill="#8d2980" d="M439.8 854.1h8.1v8.2h-8.1z"/><path fill="#992d7f" d="M447.4 854.1h8.1v8.2h-8.1z"/><path fill="#a6317d" d="M455.1 854.1h8.1v8.2h-8.1z"/><path fill="#ac337b" d="M462.7 854.1h8.1v8.2h-8.1z"/><path fill="#b1357a" d="M470.3 854.1h8.1v8.2h-8.1z"/><path fill="#bb3877" d="M478 854.1h8.1v8.2h-8.1z"/><path fill="#d4436d" d="M485.6 854.1h8.1v8.2h-8.1z"/><path fill="#e55063" d="M493.3 854.1h8.1v8.2h-8.1z"/><path fill="#e55063" d="M500.9 854.1h8.1v8.2h-8.1z"/></g>
<path d="M458.5 770.9L458.5 776L455.5 778.6L456.3 783.3L458.9 785.1L463.4 783.7L464.5 781.1L464 778L461.6 773.4M493.4 770.9L493.4 776L494.5 781.1L497.1 781.5M349.4 844.1L354.5 844.1L355.1 840L354.7 834.9L351.9 833.7M499.6 837.3L494.5 837.3L492.5 840L497.1 842.1" fill="none" stroke="#3a2a30" stroke-width="0.55" opacity="0.5"/>
<path d="M447.4 770.9L447.4 776L448.5 781.1L449.8 783.7L451.6 786.2L454.2 788.8L458.9 791L464 790L466.5 787.6L468.6 783.7L469.5 781.1L470.3 776L470.3 770.9M490.3 770.9L490.3 776L491.7 781.1L492 784.7L492 788.8L491.9 791.4L491.7 796.5L491.6 801.6L492 805.5L493.7 809.3L497.1 810.7M356.7 852.8L356.7 847.7L357.2 845.1L357.7 840L357.5 834.9L357 829.9L356.2 827.2L354.5 823L349.4 823M499.6 827.7L494.5 827.7L491.3 829.8L488.2 832.3L485.1 834.9L482.5 837.5L480.8 840L481.8 843.7L484.3 845.5L489.4 847.7L489.4 850.3" fill="none" stroke="#4a2a40" stroke-width="0.55" opacity="0.45"/>
<path d="M439.1 770.9L439.1 776L441.1 779.6L443.6 783.4L445.7 786.2L448 788.8L450.8 791.4L453.8 793.3L456.3 794.4L461.4 795.1L464.8 793.9L467.9 791.4L469.7 788.8L471.6 784.9L473.1 781.1L474.4 778.6L476.3 773.4M486.9 770.9L486.9 776L488.8 778.6L489.9 781.1L490.5 786.2L490.4 791.4L489.9 796.5L489.5 801.6L489.7 806.7L490.8 811.9L492 816.8L492.2 819.5L491.4 822.1L489.4 825.2L486.9 827.5L483.5 829.8L479.4 832.3L476.7 834.2L474.2 836L471.6 837.8L468.3 840L464 842L458.9 842.6L453.8 841.3L451.2 839.6L448.1 837.5L443.6 835.3L441.1 834.4L436 833.6L430.9 833.5L425.8 834.4L423.2 835.3L419.4 837.5L416 840L413 841.4L407.9 841.6L402.9 840.6L400.3 839.5L397 837.5L392.7 835.3L387.6 835.7L385 838.1L383.9 842.6L385 846.8L385.4 850.3M358.8 852.8L358.8 847.7L359.3 842.6L359.4 837.5L359.3 832.3L358.9 827.2L358.2 822.1L357.5 817L357.1 811.9L356.9 809.3L356.2 804.2L354.6 799L351.9 798.8M420.2 852.8L420.2 847.7L423.2 846.4L428.3 846L433.4 846L438.5 846.1L443.6 846.4L448.7 847.4L449.2 850.3" fill="none" stroke="#f0a878" stroke-width="0.55" opacity="0.5"/>
<path d="M349.4 776.6L354.5 776.6L354.7 773.4M399.9 770.9L399.9 776L402.9 776.4L407.9 777.5L413 778.4L415.6 778.6L420.7 778.6L425.8 778.8L430.9 780.6L433.4 782.3L436 784.6L438.5 786.9L441.1 789.2L443.7 791.4L447.1 793.9L451.2 796.4L453.8 797.6L458.9 798.8L464 798.3L467.5 796.5L470.2 793.9L471.9 791.4L474.2 786.4L475.4 783.7L476.8 781.1L480.3 778.6L484.3 778.4L486.9 780.1L488.4 783.7L488.8 788.8L488.2 793.9L487.4 799L486.9 802.2L486.7 806.7L487.1 809.3L488 814.4L487.8 819.5L486.3 822.1L483.3 824.7L479.3 827L476.7 828.2L473.1 829.8L469.1 831.4L466 832.3L461.4 832.8L458.5 832.3L453.8 830.9L450.9 829.8L446.1 828.4L441.1 827.5L438.5 827.1L433.4 826.7L428.3 826.5L423.2 826.5L418.1 826.5L413 826.7L407.9 826.9L402.9 827L397.8 826.9L392.8 827.2L390.1 827.7L385 829.7L382.5 831.8L380.3 834.9L379.3 837.5L378.8 842.6L379.9 847.6L380 850.3M361.2 852.8L361.2 847.7L361.4 842.6L361.6 837.5L361.6 832.3L361.6 827.2L361.4 822.1L361.1 817L360.7 811.9L360.2 806.7L359.7 801.6L359.3 799L358.5 793.9L357.2 788.8L355.8 786.2L351.9 783.8" fill="none" stroke="#e8a070" stroke-width="0.55" opacity="0.5"/>
<g fill="#0a0418" opacity="0.9" filter="url(#hb2)"><path d="M351.4 791.7 354.8 778.4 370.4 779.5 392.7 777.3 412.8 781.7 423.9 793.9 441.8 802.7 450.7 804.9 457.4 793.9 461.9 782.8 467.4 776.2 472.6 778.4 473 802.7 474.1 822.6 473 835.8 466.3 843.5 459.6 838 448.5 827 432.9 825.9 417.3 832.5 399.4 828.1 381.6 828.1 370.4 835.8 365.9 844.6 363.7 854.5 357 854.5 360.4 842.4 357 824.8 351.4 802.7 351.4 791.7Z" stroke="#36106a" stroke-width="11" stroke-linejoin="round"/><ellipse cx="468.6" cy="820.3" rx="1.3" ry="3.1"/></g>
<path d="M351.4 791.7L354.8 778.4L370.4 779.5L392.7 777.3L412.8 781.7L423.9 793.9L441.8 802.7L450.7 804.9L457.4 793.9L461.9 782.8L467.4 776.2L472.6 778.4L473 802.7L474.1 822.6L473 835.8L466.3 843.5L459.6 838L448.5 827L432.9 825.9L417.3 832.5L399.4 828.1L381.6 828.1L370.4 835.8L365.9 844.6L363.7 854.5M357 854.5L360.4 842.4L357 824.8L351.4 802.7L351.4 791.7" fill="none" stroke="#fff" stroke-width="2.7" stroke-linecap="round" stroke-linejoin="round" stroke-dasharray="0 4.2"/>
</g>
<text x="351.6" y="787.6" font-size="14" text-anchor="start" fill="#fff">(VI)</text>
<text x="491.9" y="787.6" font-size="13" text-anchor="end" fill="#fff">t = 24 min</text>
<rect x="363.6" y="845.1" width="36" height="4" fill="#fff"/>
<clipPath id="cl7"><rect x="504.2" y="769.6" width="152.8" height="84.5"/></clipPath>
<g clip-path="url(#cl7)"><g filter="url(#hb)"><path fill="#060519" d="M496.6 761.9h8.1v8.2h-8.1z"/><path fill="#060519" d="M504.2 761.9h8.1v8.2h-8.1z"/><path fill="#02020f" d="M511.8 761.9h8.1v8.2h-8.1z"/><path fill="#050417" d="M519.5 761.9h8.1v8.2h-8.1z"/><path fill="#221150" d="M527.1 761.9h8.1v8.2h-8.1z"/><path fill="#50127b" d="M534.8 761.9h8.1v8.2h-8.1z"/><path fill="#772181" d="M542.4 761.9h8.1v8.2h-8.1z"/><path fill="#8c2980" d="M550 761.9h8.1v8.2h-8.1z"/><path fill="#7a2281" d="M557.7 761.9h8.1v8.2h-8.1z"/><path fill="#52127c" d="M565.3 761.9h8.1v8.2h-8.1z"/><path fill="#3e0f72" d="M573 761.9h8.1v8.2h-8.1z"/><path fill="#53137c" d="M580.6 761.9h8.1v8.2h-8.1z"/><path fill="#7a2281" d="M588.2 761.9h8.1v8.2h-8.1z"/><path fill="#9f2f7e" d="M595.9 761.9h8.1v8.2h-8.1z"/><path fill="#ac337b" d="M603.5 761.9h8.1v8.2h-8.1z"/><path fill="#9f2f7e" d="M611.2 761.9h8.1v8.2h-8.1z"/><path fill="#872781" d="M618.8 761.9h8.1v8.2h-8.1z"/><path fill="#7a2281" d="M626.4 761.9h8.1v8.2h-8.1z"/><path fill="#892881" d="M634.1 761.9h8.1v8.2h-8.1z"/><path fill="#ca3e72" d="M641.7 761.9h8.1v8.2h-8.1z"/><path fill="#f2635c" d="M649.4 761.9h8.1v8.2h-8.1z"/><path fill="#f2635c" d="M657 761.9h8.1v8.2h-8.1z"/><path fill="#060519" d="M496.6 769.6h8.1v8.2h-8.1z"/><path fill="#060519" d="M504.2 769.6h8.1v8.2h-8.1z"/><path fill="#02020f" d="M511.8 769.6h8.1v8.2h-8.1z"/><path fill="#050417" d="M519.5 769.6h8.1v8.2h-8.1z"/><path fill="#221150" d="M527.1 769.6h8.1v8.2h-8.1z"/><path fill="#50127b" d="M534.8 769.6h8.1v8.2h-8.1z"/><path fill="#772181" d="M542.4 769.6h8.1v8.2h-8.1z"/><path fill="#8c2980" d="M550 769.6h8.1v8.2h-8.1z"/><path fill="#7a2281" d="M557.7 769.6h8.1v8.2h-8.1z"/><path fill="#52127c" d="M565.3 769.6h8.1v8.2h-8.1z"/><path fill="#3e0f72" d="M573 769.6h8.1v8.2h-8.1z"/><path fill="#53137c" d="M580.6 769.6h8.1v8.2h-8.1z"/><path fill="#7a2281" d="M588.2 769.6h8.1v8.2h-8.1z"/><path fill="#9f2f7e" d="M595.9 769.6h8.1v8.2h-8.1z"/><path fill="#ac337b" d="M603.5 769.6h8.1v8.2h-8.1z"/><path fill="#9f2f7e" d="M611.2 769.6h8.1v8.2h-8.1z"/><path fill="#872781" d="M618.8 769.6h8.1v8.2h-8.1z"/><path fill="#7a2281" d="M626.4 769.6h8.1v8.2h-8.1z"/><path fill="#892881" d="M634.1 769.6h8.1v8.2h-8.1z"/><path fill="#ca3e72" d="M641.7 769.6h8.1v8.2h-8.1z"/><path fill="#f2635c" d="M649.4 769.6h8.1v8.2h-8.1z"/><path fill="#f2635c" d="M657 769.6h8.1v8.2h-8.1z"/><path fill="#08061d" d="M496.6 777.3h8.1v8.2h-8.1z"/><path fill="#08061d" d="M504.2 777.3h8.1v8.2h-8.1z"/><path fill="#08061d" d="M511.8 777.3h8.1v8.2h-8.1z"/><path fill="#09071f" d="M519.5 777.3h8.1v8.2h-8.1z"/><path fill="#0d0a28" d="M527.1 777.3h8.1v8.2h-8.1z"/><path fill="#1f114b" d="M534.8 777.3h8.1v8.2h-8.1z"/><path fill="#3c0f71" d="M542.4 777.3h8.1v8.2h-8.1z"/><path fill="#5b167e" d="M550 777.3h8.1v8.2h-8.1z"/><path fill="#63197f" d="M557.7 777.3h8.1v8.2h-8.1z"/><path fill="#5b167e" d="M565.3 777.3h8.1v8.2h-8.1z"/><path fill="#6b1c80" d="M573 777.3h8.1v8.2h-8.1z"/><path fill="#922b80" d="M580.6 777.3h8.1v8.2h-8.1z"/><path fill="#a4307d" d="M588.2 777.3h8.1v8.2h-8.1z"/><path fill="#9e2e7e" d="M595.9 777.3h8.1v8.2h-8.1z"/><path fill="#922b80" d="M603.5 777.3h8.1v8.2h-8.1z"/><path fill="#922b80" d="M611.2 777.3h8.1v8.2h-8.1z"/><path fill="#992d7f" d="M618.8 777.3h8.1v8.2h-8.1z"/><path fill="#a7317d" d="M626.4 777.3h8.1v8.2h-8.1z"/><path fill="#c33b74" d="M634.1 777.3h8.1v8.2h-8.1z"/><path fill="#ea5560" d="M641.7 777.3h8.1v8.2h-8.1z"/><path fill="#f7715b" d="M649.4 777.3h8.1v8.2h-8.1z"/><path fill="#f7715b" d="M657 777.3h8.1v8.2h-8.1z"/><path fill="#060519" d="M496.6 785h8.1v8.2h-8.1z"/><path fill="#060519" d="M504.2 785h8.1v8.2h-8.1z"/><path fill="#0a0722" d="M511.8 785h8.1v8.2h-8.1z"/><path fill="#0a0722" d="M519.5 785h8.1v8.2h-8.1z"/><path fill="#040415" d="M527.1 785h8.1v8.2h-8.1z"/><path fill="#02020f" d="M534.8 785h8.1v8.2h-8.1z"/><path fill="#07051b" d="M542.4 785h8.1v8.2h-8.1z"/><path fill="#221150" d="M550 785h8.1v8.2h-8.1z"/><path fill="#400f73" d="M557.7 785h8.1v8.2h-8.1z"/><path fill="#5a157e" d="M565.3 785h8.1v8.2h-8.1z"/><path fill="#7c2381" d="M573 785h8.1v8.2h-8.1z"/><path fill="#9c2e7f" d="M580.6 785h8.1v8.2h-8.1z"/><path fill="#992d7f" d="M588.2 785h8.1v8.2h-8.1z"/><path fill="#7c2381" d="M595.9 785h8.1v8.2h-8.1z"/><path fill="#6f1e81" d="M603.5 785h8.1v8.2h-8.1z"/><path fill="#852681" d="M611.2 785h8.1v8.2h-8.1z"/><path fill="#a4307d" d="M618.8 785h8.1v8.2h-8.1z"/><path fill="#c53c74" d="M626.4 785h8.1v8.2h-8.1z"/><path fill="#e24d65" d="M634.1 785h8.1v8.2h-8.1z"/><path fill="#f7715b" d="M641.7 785h8.1v8.2h-8.1z"/><path fill="#fb8861" d="M649.4 785h8.1v8.2h-8.1z"/><path fill="#fb8861" d="M657 785h8.1v8.2h-8.1z"/><path fill="#09071f" d="M496.6 792.6h8.1v8.2h-8.1z"/><path fill="#09071f" d="M504.2 792.6h8.1v8.2h-8.1z"/><path fill="#09071f" d="M511.8 792.6h8.1v8.2h-8.1z"/><path fill="#050417" d="M519.5 792.6h8.1v8.2h-8.1z"/><path fill="#02020f" d="M527.1 792.6h8.1v8.2h-8.1z"/><path fill="#010007" d="M534.8 792.6h8.1v8.2h-8.1z"/><path fill="#01010b" d="M542.4 792.6h8.1v8.2h-8.1z"/><path fill="#07051b" d="M550 792.6h8.1v8.2h-8.1z"/><path fill="#221150" d="M557.7 792.6h8.1v8.2h-8.1z"/><path fill="#470f77" d="M565.3 792.6h8.1v8.2h-8.1z"/><path fill="#5d177e" d="M573 792.6h8.1v8.2h-8.1z"/><path fill="#5e177f" d="M580.6 792.6h8.1v8.2h-8.1z"/><path fill="#50127b" d="M588.2 792.6h8.1v8.2h-8.1z"/><path fill="#420f74" d="M595.9 792.6h8.1v8.2h-8.1z"/><path fill="#4d117a" d="M603.5 792.6h8.1v8.2h-8.1z"/><path fill="#711f81" d="M611.2 792.6h8.1v8.2h-8.1z"/><path fill="#972c7f" d="M618.8 792.6h8.1v8.2h-8.1z"/><path fill="#b93778" d="M626.4 792.6h8.1v8.2h-8.1z"/><path fill="#dc4869" d="M634.1 792.6h8.1v8.2h-8.1z"/><path fill="#f8755c" d="M641.7 792.6h8.1v8.2h-8.1z"/><path fill="#fd9969" d="M649.4 792.6h8.1v8.2h-8.1z"/><path fill="#fd9969" d="M657 792.6h8.1v8.2h-8.1z"/><path fill="#231152" d="M496.6 800.3h8.1v8.2h-8.1z"/><path fill="#231152" d="M504.2 800.3h8.1v8.2h-8.1z"/><path fill="#0c0926" d="M511.8 800.3h8.1v8.2h-8.1z"/><path fill="#01010b" d="M519.5 800.3h8.1v8.2h-8.1z"/><path fill="#000006" d="M527.1 800.3h8.1v8.2h-8.1z"/><path fill="#000006" d="M534.8 800.3h8.1v8.2h-8.1z"/><path fill="#000006" d="M542.4 800.3h8.1v8.2h-8.1z"/><path fill="#010007" d="M550 800.3h8.1v8.2h-8.1z"/><path fill="#08061d" d="M557.7 800.3h8.1v8.2h-8.1z"/><path fill="#251155" d="M565.3 800.3h8.1v8.2h-8.1z"/><path fill="#261157" d="M573 800.3h8.1v8.2h-8.1z"/><path fill="#0a0722" d="M580.6 800.3h8.1v8.2h-8.1z"/><path fill="#02020d" d="M588.2 800.3h8.1v8.2h-8.1z"/><path fill="#040313" d="M595.9 800.3h8.1v8.2h-8.1z"/><path fill="#180f3f" d="M603.5 800.3h8.1v8.2h-8.1z"/><path fill="#3e0f72" d="M611.2 800.3h8.1v8.2h-8.1z"/><path fill="#6b1c80" d="M618.8 800.3h8.1v8.2h-8.1z"/><path fill="#9a2d7f" d="M626.4 800.3h8.1v8.2h-8.1z"/><path fill="#d1426e" d="M634.1 800.3h8.1v8.2h-8.1z"/><path fill="#f9795c" d="M641.7 800.3h8.1v8.2h-8.1z"/><path fill="#fda26f" d="M649.4 800.3h8.1v8.2h-8.1z"/><path fill="#fda26f" d="M657 800.3h8.1v8.2h-8.1z"/><path fill="#651a80" d="M496.6 808h8.1v8.2h-8.1z"/><path fill="#651a80" d="M504.2 808h8.1v8.2h-8.1z"/><path fill="#2f1062" d="M511.8 808h8.1v8.2h-8.1z"/><path fill="#010007" d="M519.5 808h8.1v8.2h-8.1z"/><path fill="#000003" d="M527.1 808h8.1v8.2h-8.1z"/><path fill="#000003" d="M534.8 808h8.1v8.2h-8.1z"/><path fill="#000003" d="M542.4 808h8.1v8.2h-8.1z"/><path fill="#000003" d="M550 808h8.1v8.2h-8.1z"/><path fill="#000006" d="M557.7 808h8.1v8.2h-8.1z"/><path fill="#07051b" d="M565.3 808h8.1v8.2h-8.1z"/><path fill="#040415" d="M573 808h8.1v8.2h-8.1z"/><path fill="#000003" d="M580.6 808h8.1v8.2h-8.1z"/><path fill="#000003" d="M588.2 808h8.1v8.2h-8.1z"/><path fill="#000003" d="M595.9 808h8.1v8.2h-8.1z"/><path fill="#000003" d="M603.5 808h8.1v8.2h-8.1z"/><path fill="#000003" d="M611.2 808h8.1v8.2h-8.1z"/><path fill="#231152" d="M618.8 808h8.1v8.2h-8.1z"/><path fill="#842681" d="M626.4 808h8.1v8.2h-8.1z"/><path fill="#e04b66" d="M634.1 808h8.1v8.2h-8.1z"/><path fill="#fc9064" d="M641.7 808h8.1v8.2h-8.1z"/><path fill="#fda16e" d="M649.4 808h8.1v8.2h-8.1z"/><path fill="#fda16e" d="M657 808h8.1v8.2h-8.1z"/><path fill="#b0347b" d="M496.6 815.7h8.1v8.2h-8.1z"/><path fill="#b0347b" d="M504.2 815.7h8.1v8.2h-8.1z"/><path fill="#6c1d80" d="M511.8 815.7h8.1v8.2h-8.1z"/><path fill="#140d35" d="M519.5 815.7h8.1v8.2h-8.1z"/><path fill="#010007" d="M527.1 815.7h8.1v8.2h-8.1z"/><path fill="#000006" d="M534.8 815.7h8.1v8.2h-8.1z"/><path fill="#01010b" d="M542.4 815.7h8.1v8.2h-8.1z"/><path fill="#02020f" d="M550 815.7h8.1v8.2h-8.1z"/><path fill="#040415" d="M557.7 815.7h8.1v8.2h-8.1z"/><path fill="#07051b" d="M565.3 815.7h8.1v8.2h-8.1z"/><path fill="#07051b" d="M573 815.7h8.1v8.2h-8.1z"/><path fill="#040415" d="M580.6 815.7h8.1v8.2h-8.1z"/><path fill="#050417" d="M588.2 815.7h8.1v8.2h-8.1z"/><path fill="#060519" d="M595.9 815.7h8.1v8.2h-8.1z"/><path fill="#030311" d="M603.5 815.7h8.1v8.2h-8.1z"/><path fill="#030311" d="M611.2 815.7h8.1v8.2h-8.1z"/><path fill="#301065" d="M618.8 815.7h8.1v8.2h-8.1z"/><path fill="#972c7f" d="M626.4 815.7h8.1v8.2h-8.1z"/><path fill="#f0605d" d="M634.1 815.7h8.1v8.2h-8.1z"/><path fill="#fd9f6c" d="M641.7 815.7h8.1v8.2h-8.1z"/><path fill="#fda26f" d="M649.4 815.7h8.1v8.2h-8.1z"/><path fill="#fda26f" d="M657 815.7h8.1v8.2h-8.1z"/><path fill="#ec585f" d="M496.6 823.4h8.1v8.2h-8.1z"/><path fill="#ec585f" d="M504.2 823.4h8.1v8.2h-8.1z"/><path fill="#b63679" d="M511.8 823.4h8.1v8.2h-8.1z"/><path fill="#661a80" d="M519.5 823.4h8.1v8.2h-8.1z"/><path fill="#430f75" d="M527.1 823.4h8.1v8.2h-8.1z"/><path fill="#400f73" d="M534.8 823.4h8.1v8.2h-8.1z"/><path fill="#4a1079" d="M542.4 823.4h8.1v8.2h-8.1z"/><path fill="#53137c" d="M550 823.4h8.1v8.2h-8.1z"/><path fill="#4a1079" d="M557.7 823.4h8.1v8.2h-8.1z"/><path fill="#3b0f6f" d="M565.3 823.4h8.1v8.2h-8.1z"/><path fill="#470f77" d="M573 823.4h8.1v8.2h-8.1z"/><path fill="#6e1e81" d="M580.6 823.4h8.1v8.2h-8.1z"/><path fill="#922b80" d="M588.2 823.4h8.1v8.2h-8.1z"/><path fill="#a9327c" d="M595.9 823.4h8.1v8.2h-8.1z"/><path fill="#b63679" d="M603.5 823.4h8.1v8.2h-8.1z"/><path fill="#c03a75" d="M611.2 823.4h8.1v8.2h-8.1z"/><path fill="#ce4070" d="M618.8 823.4h8.1v8.2h-8.1z"/><path fill="#e24d65" d="M626.4 823.4h8.1v8.2h-8.1z"/><path fill="#f56a5b" d="M634.1 823.4h8.1v8.2h-8.1z"/><path fill="#fd9567" d="M641.7 823.4h8.1v8.2h-8.1z"/><path fill="#feae76" d="M649.4 823.4h8.1v8.2h-8.1z"/><path fill="#feae76" d="M657 823.4h8.1v8.2h-8.1z"/><path fill="#fa7f5e" d="M496.6 831.1h8.1v8.2h-8.1z"/><path fill="#fa7f5e" d="M504.2 831.1h8.1v8.2h-8.1z"/><path fill="#ea5560" d="M511.8 831.1h8.1v8.2h-8.1z"/><path fill="#b83778" d="M519.5 831.1h8.1v8.2h-8.1z"/><path fill="#9c2e7f" d="M527.1 831.1h8.1v8.2h-8.1z"/><path fill="#972c7f" d="M534.8 831.1h8.1v8.2h-8.1z"/><path fill="#a3307e" d="M542.4 831.1h8.1v8.2h-8.1z"/><path fill="#ab337c" d="M550 831.1h8.1v8.2h-8.1z"/><path fill="#942b80" d="M557.7 831.1h8.1v8.2h-8.1z"/><path fill="#6f1e81" d="M565.3 831.1h8.1v8.2h-8.1z"/><path fill="#842681" d="M573 831.1h8.1v8.2h-8.1z"/><path fill="#d0416f" d="M580.6 831.1h8.1v8.2h-8.1z"/><path fill="#f9795c" d="M588.2 831.1h8.1v8.2h-8.1z"/><path fill="#fea671" d="M595.9 831.1h8.1v8.2h-8.1z"/><path fill="#fecb8e" d="M603.5 831.1h8.1v8.2h-8.1z"/><path fill="#fce5a6" d="M611.2 831.1h8.1v8.2h-8.1z"/><path fill="#fdd497" d="M618.8 831.1h8.1v8.2h-8.1z"/><path fill="#fd9f6c" d="M626.4 831.1h8.1v8.2h-8.1z"/><path fill="#f66e5b" d="M634.1 831.1h8.1v8.2h-8.1z"/><path fill="#fa825f" d="M641.7 831.1h8.1v8.2h-8.1z"/><path fill="#feb77d" d="M649.4 831.1h8.1v8.2h-8.1z"/><path fill="#feb77d" d="M657 831.1h8.1v8.2h-8.1z"/><path fill="#f7735c" d="M496.6 838.7h8.1v8.2h-8.1z"/><path fill="#f7735c" d="M504.2 838.7h8.1v8.2h-8.1z"/><path fill="#ee5d5d" d="M511.8 838.7h8.1v8.2h-8.1z"/><path fill="#d6446c" d="M519.5 838.7h8.1v8.2h-8.1z"/><path fill="#c33b74" d="M527.1 838.7h8.1v8.2h-8.1z"/><path fill="#bd3977" d="M534.8 838.7h8.1v8.2h-8.1z"/><path fill="#c63c73" d="M542.4 838.7h8.1v8.2h-8.1z"/><path fill="#c83d72" d="M550 838.7h8.1v8.2h-8.1z"/><path fill="#9f2f7e" d="M557.7 838.7h8.1v8.2h-8.1z"/><path fill="#651a80" d="M565.3 838.7h8.1v8.2h-8.1z"/><path fill="#7a2281" d="M573 838.7h8.1v8.2h-8.1z"/><path fill="#dc4869" d="M580.6 838.7h8.1v8.2h-8.1z"/><path fill="#fc9366" d="M588.2 838.7h8.1v8.2h-8.1z"/><path fill="#febe83" d="M595.9 838.7h8.1v8.2h-8.1z"/><path fill="#fce6a8" d="M603.5 838.7h8.1v8.2h-8.1z"/><path fill="#fbfcbf" d="M611.2 838.7h8.1v8.2h-8.1z"/><path fill="#fbf9bb" d="M618.8 838.7h8.1v8.2h-8.1z"/><path fill="#feb97f" d="M626.4 838.7h8.1v8.2h-8.1z"/><path fill="#f8775c" d="M634.1 838.7h8.1v8.2h-8.1z"/><path fill="#fa7f5e" d="M641.7 838.7h8.1v8.2h-8.1z"/><path fill="#feb37b" d="M649.4 838.7h8.1v8.2h-8.1z"/><path fill="#feb37b" d="M657 838.7h8.1v8.2h-8.1z"/><path fill="#e55063" d="M496.6 846.4h8.1v8.2h-8.1z"/><path fill="#e55063" d="M504.2 846.4h8.1v8.2h-8.1z"/><path fill="#d7456b" d="M511.8 846.4h8.1v8.2h-8.1z"/><path fill="#be3976" d="M519.5 846.4h8.1v8.2h-8.1z"/><path fill="#ae347b" d="M527.1 846.4h8.1v8.2h-8.1z"/><path fill="#a9327c" d="M534.8 846.4h8.1v8.2h-8.1z"/><path fill="#ac337b" d="M542.4 846.4h8.1v8.2h-8.1z"/><path fill="#a7317d" d="M550 846.4h8.1v8.2h-8.1z"/><path fill="#711f81" d="M557.7 846.4h8.1v8.2h-8.1z"/><path fill="#251155" d="M565.3 846.4h8.1v8.2h-8.1z"/><path fill="#350f6a" d="M573 846.4h8.1v8.2h-8.1z"/><path fill="#9c2e7f" d="M580.6 846.4h8.1v8.2h-8.1z"/><path fill="#e24d65" d="M588.2 846.4h8.1v8.2h-8.1z"/><path fill="#f2635c" d="M595.9 846.4h8.1v8.2h-8.1z"/><path fill="#fa7f5e" d="M603.5 846.4h8.1v8.2h-8.1z"/><path fill="#fda26f" d="M611.2 846.4h8.1v8.2h-8.1z"/><path fill="#feac75" d="M618.8 846.4h8.1v8.2h-8.1z"/><path fill="#fd9969" d="M626.4 846.4h8.1v8.2h-8.1z"/><path fill="#fb8460" d="M634.1 846.4h8.1v8.2h-8.1z"/><path fill="#fc8c63" d="M641.7 846.4h8.1v8.2h-8.1z"/><path fill="#fda26f" d="M649.4 846.4h8.1v8.2h-8.1z"/><path fill="#fda26f" d="M657 846.4h8.1v8.2h-8.1z"/><path fill="#e55063" d="M496.6 854.1h8.1v8.2h-8.1z"/><path fill="#e55063" d="M504.2 854.1h8.1v8.2h-8.1z"/><path fill="#d7456b" d="M511.8 854.1h8.1v8.2h-8.1z"/><path fill="#be3976" d="M519.5 854.1h8.1v8.2h-8.1z"/><path fill="#ae347b" d="M527.1 854.1h8.1v8.2h-8.1z"/><path fill="#a9327c" d="M534.8 854.1h8.1v8.2h-8.1z"/><path fill="#ac337b" d="M542.4 854.1h8.1v8.2h-8.1z"/><path fill="#a7317d" d="M550 854.1h8.1v8.2h-8.1z"/><path fill="#711f81" d="M557.7 854.1h8.1v8.2h-8.1z"/><path fill="#251155" d="M565.3 854.1h8.1v8.2h-8.1z"/><path fill="#350f6a" d="M573 854.1h8.1v8.2h-8.1z"/><path fill="#9c2e7f" d="M580.6 854.1h8.1v8.2h-8.1z"/><path fill="#e24d65" d="M588.2 854.1h8.1v8.2h-8.1z"/><path fill="#f2635c" d="M595.9 854.1h8.1v8.2h-8.1z"/><path fill="#fa7f5e" d="M603.5 854.1h8.1v8.2h-8.1z"/><path fill="#fda26f" d="M611.2 854.1h8.1v8.2h-8.1z"/><path fill="#feac75" d="M618.8 854.1h8.1v8.2h-8.1z"/><path fill="#fd9969" d="M626.4 854.1h8.1v8.2h-8.1z"/><path fill="#fb8460" d="M634.1 854.1h8.1v8.2h-8.1z"/><path fill="#fc8c63" d="M641.7 854.1h8.1v8.2h-8.1z"/><path fill="#fda26f" d="M649.4 854.1h8.1v8.2h-8.1z"/><path fill="#fda26f" d="M657 854.1h8.1v8.2h-8.1z"/></g>
<path d="M627 845.1L629.2 842.6L628.3 837.5L625.5 834.9L622.6 833.9L617.5 833.2L612.4 833.5L607.3 834.4L604.8 835.3L600.2 837.5L598.4 840L600.7 842.6L604.8 843.9L608.7 845.1L612.4 845.9L617.5 846.6L622.6 846.5L627 845.1" fill="none" stroke="#3a2a30" stroke-width="0.55" opacity="0.55"/>
<path d="M655.7 784.2L650.6 784.2L648.1 786.8L646.5 791.4L646.1 796.5L645.9 801.6L645.5 804.7L644.2 809.3L643 812L641.1 817L640.4 819.5L640.4 824.7L641 827.2L643 831.1L644.4 834.9L645.3 840L643.6 845.1L640.4 846.1L637.9 844.2L636.7 840L635.4 835.7L632.8 832.6L630.3 831.5L625.2 830.6L620.1 830.2L615 830.3L609.9 830.7L604.8 831.4L599.8 832.3L597.2 833.1L592.4 834.9L589.5 837.3L588.5 840L589.5 842.8L593.4 845.1L597.2 846.1L602.2 846.9L606.8 847.7L606.8 852.8M505.5 840.7L510.6 840.7L511.8 837.5L510.6 834L505.5 834" fill="none" stroke="#3a2a30" stroke-width="0.55" opacity="0.5"/>
<path d="M646.4 770.9L646.4 776L644.7 778.6L641.2 781.1L637.9 783.5L635.4 786L634.1 788.8L635 793.9L636.2 796.5L637.9 801.2L638.2 804.2L637.9 806.7L636.7 811.9L635.4 817L634.7 819.5L632.8 823.5L630.3 825.7L625.2 827.2L622.6 827.5L617.5 827.8L612.4 828.1L607.3 828.4L602.2 828.9L597.2 829.5L594.6 830L589.5 831.6L587 833.1L584.4 835.6L583.1 840L584.4 843.3L587 846L589.5 850.3M516.7 852.8L516.7 847.7L520.8 845.3L523.3 843.1L523.3 840L521.3 837.5L519 834.9L516.9 832.3L515.1 829.8L513.1 826.2L510.6 823.5L505.5 823.5" fill="none" stroke="#4a2a40" stroke-width="0.55" opacity="0.45"/>
<path d="M597.5 770.9L597.5 776L594.6 778.2L592.1 779.1L587 780.6L584.4 781.9L581.9 784.9L581.9 787.4L584.4 789.8L589.5 790L593 788.8L596.7 786.2L599.5 783.7L602.2 781.7L604.8 780.9L609.9 780.2L615 779.4L617.5 777.3L617.9 773.4M640 770.9L640 776L635.4 778L632.8 778.7L627.7 779.6L622.6 780.5L620.1 781.7L618.9 786.2L619.6 791.4L620.6 793.9L622.6 796.9L625.2 799.5L627.7 801.9L630.3 805.4L631.5 809.3L631.5 814.4L630.3 819.2L628.2 822.1L625.2 824L622.6 824.8L617.5 825.6L612.4 825.9L607.3 826L602.2 826.2L597.2 826.6L593.1 827.2L589.5 828L584.8 829.8L581.9 831.7L579.3 834.4L577.9 837.5L579.2 842.6L581.4 845.1L583.9 847.7L583.9 852.8M557.2 852.8L557.2 847.7L560.2 845.1L562.5 842.6L563.2 837.5L561 834.9L556.4 833L551.3 832.9L546.2 833.7L541.1 834.6L536.4 834.9L535.9 834.9L530.9 834.4L525.8 832.8L523.3 831.4L520.8 829.6L518.2 827.2L515.7 823.9L513.2 819.5L510.6 817L508 816.9" fill="none" stroke="#f0a878" stroke-width="0.55" opacity="0.5"/>
<path d="M540.1 770.9L540.1 776L543.7 777.8L546.2 778.8L551.3 780.6L553.9 781.4L559 782.7L564 783.1L566.6 783.7L569.1 788.6L570.3 791.4L571.9 793.9L575.3 796.5L579.3 797.2L584.4 796.9L587.8 796.5L592.1 795.7L597.2 794.3L599.7 793.5L604.8 792.9L607.4 793.9L610.3 796.5L612.8 799L615.7 801.6L619.6 804.2L622.6 806.1L625.2 808.5L627 811.9L627 817L625.2 820.1L622.3 822.1L617.5 823.3L612.4 823.7L607.3 823.7L602.2 823.7L597.2 823.9L592.1 824.4L589.5 824.8L584.4 825.9L580.7 827.2L576.8 829.2L574.2 830.5L569.1 831.1L565.4 829.8L561.5 828.6L556.4 827.8L551.3 827.9L546.2 828.4L541.1 829.1L536 829.4L530.9 829L525.8 827.5L523.3 826.1L520.8 824.2L518.2 821.4L515.7 817.5L514 814.4L512 811.9L508 810.7M585.7 770.9L585.7 776L581.9 777.3L577.9 778.6L574.2 779.9L569.1 780.4L567.6 776L567.6 770.9M563.6 852.8L563.6 847.7L566.6 845.2L569.1 843.6L574.2 843.6L576.8 845.3L579.6 847.7L579.6 852.8" fill="none" stroke="#e8a070" stroke-width="0.55" opacity="0.5"/>
<g fill="#0a0418" opacity="0.9" filter="url(#hb2)"><path d="M504.2 769.6 533.2 769.6 537.7 777.3 548.8 783.9 557.7 786.8 566.7 781.7 571.1 774 570 769.6 572.2 772.9 575.6 782.8 580 790.6 589 791.7 597.9 798.3 602.3 806 613.5 810.4 629.1 813.7 638 818.1 635.8 820.8 620.2 822.1 602.3 822.6 584.5 824.8 571.1 828.1 553.3 827.4 533.2 825.9 520.9 821.4 515.4 809.3 508.7 800.5 504.2 796.1Z" stroke="#36106a" stroke-width="11" stroke-linejoin="round"/><ellipse cx="568.9" cy="851.2" rx="2.2" ry="2.6"/><ellipse cx="555.5" cy="774" rx="3.6" ry="2.2"/></g>
<path d="M533.2 769.6L537.7 777.3L548.8 783.9L557.7 786.8L566.7 781.7L571.1 774L570 769.6M572.2 772.9L575.6 782.8L580 790.6L589 791.7L597.9 798.3L602.3 806L613.5 810.4L629.1 813.7L638 818.1L635.8 820.8L620.2 822.1L602.3 822.6L584.5 824.8L571.1 828.1L553.3 827.4L533.2 825.9L520.9 821.4L515.4 809.3L508.7 800.5L504.2 796.1" fill="none" stroke="#fff" stroke-width="2.7" stroke-linecap="round" stroke-linejoin="round" stroke-dasharray="0 4.2"/>
</g>
<text x="507.7" y="787.6" font-size="14" text-anchor="start" fill="#fff">(V)</text>
<text x="648" y="787.6" font-size="13" text-anchor="end" fill="#fff">t = 21 min</text>
<rect x="520.8" y="845.1" width="36" height="4" fill="#fff"/>
<text x="49.2" y="742.3" font-size="12" fill="#fff">20 <tspan font-family='"Liberation Serif", serif' font-style="italic">&#956;m</tspan></text>
<linearGradient id="mg1" x1="0" y1="0" x2="0" y2="1"><stop offset="0.00" stop-color="#000003"/><stop offset="0.10" stop-color="#140d35"/><stop offset="0.20" stop-color="#3b0f6f"/><stop offset="0.30" stop-color="#63197f"/><stop offset="0.40" stop-color="#8c2980"/><stop offset="0.50" stop-color="#b63679"/><stop offset="0.60" stop-color="#dd4968"/><stop offset="0.70" stop-color="#f6705b"/><stop offset="0.80" stop-color="#fd9f6c"/><stop offset="0.90" stop-color="#fdcf92"/><stop offset="1.00" stop-color="#fbfcbf"/></linearGradient>
<rect x="658.5" y="676.2" width="5.7" height="84" fill="url(#mg1)" stroke="#333" stroke-width="0.4"/>
<path d="M664.2 676.2h1.5" stroke="#222" stroke-width="0.5"/>
<text x="666.5" y="678.4" font-size="6" text-anchor="start" fill="#222">1.0</text>
<path d="M664.2 697.2h1.5" stroke="#222" stroke-width="0.5"/>
<text x="666.5" y="699.4" font-size="6" text-anchor="start" fill="#222">0.5</text>
<path d="M664.2 718.2h1.5" stroke="#222" stroke-width="0.5"/>
<text x="666.5" y="720.4" font-size="6" text-anchor="start" fill="#222">0.0</text>
<path d="M664.2 739.2h1.5" stroke="#222" stroke-width="0.5"/>
<text x="666.5" y="741.4" font-size="6" text-anchor="start" fill="#222">−0.5</text>
<path d="M664.2 760.2h1.5" stroke="#222" stroke-width="0.5"/>
<text x="666.5" y="762.4" font-size="6" text-anchor="start" fill="#222">−1.0</text>
<text x="671.5" y="709" font-size="10" text-anchor="middle" fill="#222" font-style="italic">s</text>
<linearGradient id="mg2" x1="0" y1="0" x2="0" y2="1"><stop offset="0.00" stop-color="#000003"/><stop offset="0.10" stop-color="#140d35"/><stop offset="0.20" stop-color="#3b0f6f"/><stop offset="0.30" stop-color="#63197f"/><stop offset="0.40" stop-color="#8c2980"/><stop offset="0.50" stop-color="#b63679"/><stop offset="0.60" stop-color="#dd4968"/><stop offset="0.70" stop-color="#f6705b"/><stop offset="0.80" stop-color="#fd9f6c"/><stop offset="0.90" stop-color="#fdcf92"/><stop offset="1.00" stop-color="#fbfcbf"/></linearGradient>
<rect x="658.5" y="770.2" width="5.7" height="84" fill="url(#mg2)" stroke="#333" stroke-width="0.4"/>
<path d="M664.2 770.2h1.5" stroke="#222" stroke-width="0.5"/>
<text x="666.5" y="772.4" font-size="6" text-anchor="start" fill="#222">1.0</text>
<path d="M664.2 791.2h1.5" stroke="#222" stroke-width="0.5"/>
<text x="666.5" y="793.4" font-size="6" text-anchor="start" fill="#222">0.5</text>
<path d="M664.2 812.2h1.5" stroke="#222" stroke-width="0.5"/>
<text x="666.5" y="814.4" font-size="6" text-anchor="start" fill="#222">0.0</text>
<path d="M664.2 833.2h1.5" stroke="#222" stroke-width="0.5"/>
<text x="666.5" y="835.4" font-size="6" text-anchor="start" fill="#222">−0.5</text>
<path d="M664.2 854.2h1.5" stroke="#222" stroke-width="0.5"/>
<text x="666.5" y="856.4" font-size="6" text-anchor="start" fill="#222">−1.0</text>
<text x="671.5" y="803" font-size="10" text-anchor="middle" fill="#222" font-style="italic">s</text>
<path d="M179 753.3L194.7 753.3" stroke="#5fe3e3" stroke-width="2.6"/><path d="M201.2 753.3L193.7 758.3L195.5 753.3L193.7 748.3Z" fill="#5fe3e3"/>
<path d="M201.2 847.6L185.5 847.6" stroke="#5fe3e3" stroke-width="2.6"/><path d="M179 847.6L186.5 842.6L184.7 847.6L186.5 852.6Z" fill="#5fe3e3"/>
<path d="M335 753.3L350.6 753.3" stroke="#5fe3e3" stroke-width="2.6"/><path d="M357.1 753.3L349.6 758.3L351.4 753.3L349.6 748.3Z" fill="#5fe3e3"/>
<path d="M357.1 847.6L341.5 847.6" stroke="#5fe3e3" stroke-width="2.6"/><path d="M335 847.6L342.5 842.6L340.7 847.6L342.5 852.6Z" fill="#5fe3e3"/>
<path d="M490.9 753.3L506.7 753.3" stroke="#5fe3e3" stroke-width="2.6"/><path d="M513.2 753.3L505.7 758.3L507.5 753.3L505.7 748.3Z" fill="#5fe3e3"/>
<path d="M513.2 847.6L497.4 847.6" stroke="#5fe3e3" stroke-width="2.6"/><path d="M490.9 847.6L498.4 842.6L496.6 847.6L498.4 852.6Z" fill="#5fe3e3"/>
<path d="M567.7 756L567.7 771.5" stroke="#5fe3e3" stroke-width="2.6"/><path d="M567.7 778L562.7 770.5L567.7 772.3L572.7 770.5Z" fill="#5fe3e3"/>
<text x="6" y="677.5" font-size="26" text-anchor="start" fill="#000">(l)</text>
<text x="26.5" y="767" font-size="13.8" text-anchor="middle" fill="#262626" transform="rotate(-90 26.5 767)">Dorsal-ventral</text>
<text x="353" y="871" font-size="13" text-anchor="middle" fill="#262626">Anteroposterior</text>
<path d="M69.6 1036.8L344.2 888.7" stroke="#6aa82b" stroke-width="3.8"/>
<g fill="#f2ad1d" stroke="#9a7a30" stroke-width="0.5"><circle cx="263.7" cy="915" r="4.6"/><circle cx="272.4" cy="917.2" r="4.6"/><circle cx="279" cy="915" r="4.6"/><circle cx="265.9" cy="926" r="4.6"/><circle cx="274.6" cy="923.8" r="4.6"/><circle cx="283.4" cy="923.8" r="4.6"/><circle cx="292.2" cy="917.2" r="4.6"/><circle cx="294.3" cy="908.5" r="4.6"/><circle cx="300.9" cy="915" r="4.6"/><circle cx="305.3" cy="906.3" r="4.6"/><circle cx="311.9" cy="911.5" r="4.6"/><circle cx="316.2" cy="901.9" r="4.6"/><circle cx="327.2" cy="898.4" r="4.6"/><circle cx="263.7" cy="941.3" r="4.6"/><circle cx="268.1" cy="934.8" r="4.6"/><circle cx="279" cy="939.1" r="4.6"/><circle cx="285.6" cy="941.3" r="4.6"/><circle cx="263.7" cy="950.1" r="4.6"/><circle cx="270.2" cy="955.3" r="4.6"/><circle cx="263.7" cy="967.6" r="4.6"/><circle cx="274.6" cy="917.2" r="4.6"/><circle cx="287.8" cy="932.6" r="4.6"/><circle cx="270.2" cy="919.4" r="4.6"/><circle cx="276.8" cy="928.2" r="4.6"/><circle cx="281.2" cy="930.4" r="4.6"/><circle cx="268.1" cy="921.6" r="4.6"/><circle cx="261.5" cy="923.8" r="4.6"/><circle cx="296.5" cy="912.9" r="4.6"/></g>
<g fill="#f47a62" stroke="#e0604a" stroke-width="0.4" opacity="0.95"><path d="M143.9 992l3 4.2l-3 4.2l-3 -4.2z"/><path d="M144 990.1l3 4.2l-3 4.2l-3 -4.2z"/><path d="M143.5 988.4l3 4.2l-3 4.2l-3 -4.2z"/><path d="M145.9 992.4l3 4.2l-3 4.2l-3 -4.2z"/><path d="M148 984.4l3 4.2l-3 4.2l-3 -4.2z"/><path d="M149.2 987.4l3 4.2l-3 4.2l-3 -4.2z"/><path d="M149.1 989.4l3 4.2l-3 4.2l-3 -4.2z"/><path d="M152.3 989.6l3 4.2l-3 4.2l-3 -4.2z"/><path d="M151.2 985.7l3 4.2l-3 4.2l-3 -4.2z"/><path d="M153.8 988.5l3 4.2l-3 4.2l-3 -4.2z"/><path d="M154 984.8l3 4.2l-3 4.2l-3 -4.2z"/><path d="M154.4 981.6l3 4.2l-3 4.2l-3 -4.2z"/><path d="M157.8 987.6l3 4.2l-3 4.2l-3 -4.2z"/><path d="M157.9 986l3 4.2l-3 4.2l-3 -4.2z"/><path d="M159.6 981.1l3 4.2l-3 4.2l-3 -4.2z"/><path d="M160.7 986.2l3 4.2l-3 4.2l-3 -4.2z"/><path d="M161.4 985.6l3 4.2l-3 4.2l-3 -4.2z"/><path d="M159.4 983.1l3 4.2l-3 4.2l-3 -4.2z"/><path d="M163.9 979.5l3 4.2l-3 4.2l-3 -4.2z"/><path d="M165 974.5l3 4.2l-3 4.2l-3 -4.2z"/><path d="M165.8 980l3 4.2l-3 4.2l-3 -4.2z"/><path d="M169 977.1l3 4.2l-3 4.2l-3 -4.2z"/><path d="M167.4 976.5l3 4.2l-3 4.2l-3 -4.2z"/><path d="M170.6 978.1l3 4.2l-3 4.2l-3 -4.2z"/><path d="M170 977.9l3 4.2l-3 4.2l-3 -4.2z"/><path d="M171.9 978.5l3 4.2l-3 4.2l-3 -4.2z"/><path d="M172.1 974.5l3 4.2l-3 4.2l-3 -4.2z"/><path d="M173.6 970.9l3 4.2l-3 4.2l-3 -4.2z"/><path d="M175.6 974.8l3 4.2l-3 4.2l-3 -4.2z"/><path d="M176.4 972.9l3 4.2l-3 4.2l-3 -4.2z"/><path d="M175.9 971.8l3 4.2l-3 4.2l-3 -4.2z"/><path d="M178.3 970.2l3 4.2l-3 4.2l-3 -4.2z"/><path d="M179.7 972.7l3 4.2l-3 4.2l-3 -4.2z"/><path d="M183.3 971.5l3 4.2l-3 4.2l-3 -4.2z"/><path d="M182.5 970.2l3 4.2l-3 4.2l-3 -4.2z"/><path d="M181 969.7l3 4.2l-3 4.2l-3 -4.2z"/><path d="M184.6 975.5l3 4.2l-3 4.2l-3 -4.2z"/><path d="M185.4 969.3l3 4.2l-3 4.2l-3 -4.2z"/><path d="M186.8 964.9l3 4.2l-3 4.2l-3 -4.2z"/><path d="M189.3 969.2l3 4.2l-3 4.2l-3 -4.2z"/><path d="M190.1 964.3l3 4.2l-3 4.2l-3 -4.2z"/><path d="M191.9 962.4l3 4.2l-3 4.2l-3 -4.2z"/><path d="M192.1 971.1l3 4.2l-3 4.2l-3 -4.2z"/><path d="M191.4 963.3l3 4.2l-3 4.2l-3 -4.2z"/><path d="M193.8 962.9l3 4.2l-3 4.2l-3 -4.2z"/><path d="M193 963.7l3 4.2l-3 4.2l-3 -4.2z"/><path d="M194.7 964.2l3 4.2l-3 4.2l-3 -4.2z"/><path d="M196.1 966.3l3 4.2l-3 4.2l-3 -4.2z"/><path d="M197.4 960.8l3 4.2l-3 4.2l-3 -4.2z"/><path d="M200.5 957.9l3 4.2l-3 4.2l-3 -4.2z"/><path d="M200.9 963.8l3 4.2l-3 4.2l-3 -4.2z"/><path d="M199.9 960.3l3 4.2l-3 4.2l-3 -4.2z"/><path d="M203.2 961.2l3 4.2l-3 4.2l-3 -4.2z"/><path d="M202.6 955.1l3 4.2l-3 4.2l-3 -4.2z"/><path d="M205.9 958.7l3 4.2l-3 4.2l-3 -4.2z"/><path d="M206.7 958.2l3 4.2l-3 4.2l-3 -4.2z"/><path d="M206.7 957.3l3 4.2l-3 4.2l-3 -4.2z"/><path d="M209 954.2l3 4.2l-3 4.2l-3 -4.2z"/><path d="M212.1 956.7l3 4.2l-3 4.2l-3 -4.2z"/><path d="M209.6 956.6l3 4.2l-3 4.2l-3 -4.2z"/></g>
<g fill="#3a66a6" stroke="#b8c8e0" stroke-width="0.5"><rect x="88.5" y="1013.5" width="7" height="7"/><rect x="90.7" y="1010.7" width="7" height="7"/><rect x="92.9" y="1011.5" width="7" height="7"/><rect x="95.1" y="1012.5" width="7" height="7"/><rect x="97.3" y="1006.9" width="7" height="7"/><rect x="99.5" y="1005.7" width="7" height="7"/><rect x="101.7" y="1009" width="7" height="7"/><rect x="103.9" y="1005.8" width="7" height="7"/><rect x="106.1" y="1010.5" width="7" height="7"/><rect x="108.3" y="1011.9" width="7" height="7"/><rect x="110.6" y="1008.2" width="7" height="7"/><rect x="112.8" y="1007" width="7" height="7"/><rect x="115" y="1007.6" width="7" height="7"/><rect x="117.2" y="1001" width="7" height="7"/><rect x="119.4" y="1000.3" width="7" height="7"/><rect x="121.6" y="1002" width="7" height="7"/><rect x="123.8" y="999.7" width="7" height="7"/><rect x="126" y="1001.8" width="7" height="7"/><rect x="128.2" y="997.5" width="7" height="7"/><rect x="130.4" y="995.1" width="7" height="7"/><rect x="132.6" y="1001.1" width="7" height="7"/><rect x="134.8" y="995.7" width="7" height="7"/><rect x="137" y="995.2" width="7" height="7"/><rect x="139.2" y="990.3" width="7" height="7"/><rect x="141.4" y="991.3" width="7" height="7"/><rect x="143.6" y="991.8" width="7" height="7"/><rect x="145.8" y="987.4" width="7" height="7"/><rect x="148" y="990" width="7" height="7"/><rect x="150.2" y="986.4" width="7" height="7"/><rect x="152.4" y="986" width="7" height="7"/><rect x="154.7" y="984" width="7" height="7"/><rect x="156.9" y="989" width="7" height="7"/><rect x="159.1" y="983.1" width="7" height="7"/><rect x="161.3" y="979.3" width="7" height="7"/><rect x="163.5" y="982.8" width="7" height="7"/><rect x="165.7" y="976.5" width="7" height="7"/><rect x="167.9" y="978.9" width="7" height="7"/><rect x="170.1" y="972.3" width="7" height="7"/><rect x="172.3" y="972.7" width="7" height="7"/><rect x="174.5" y="975.3" width="7" height="7"/><rect x="112.5" y="1020.5" width="7" height="7"/><rect x="117.5" y="1026.5" width="7" height="7"/><rect x="108.5" y="1016.5" width="7" height="7"/><rect x="113.5" y="1042" width="7" height="7"/><rect x="116.5" y="1043" width="7" height="7"/><rect x="112.5" y="1051.5" width="7" height="7"/><rect x="111.5" y="1059.5" width="7" height="7"/><rect x="95.5" y="1023.5" width="7" height="7"/></g>
<circle cx="272" cy="1026" r="3.9" fill="#f2ad1d" stroke="#8a7a50" stroke-width="0.5"/>
<path d="M272 1040l3.8 4.3l-3.8 4.3l-3.8 -4.3z" fill="#f47a62" stroke="#c86a5a" stroke-width="0.4"/>
<rect x="268.7" y="1058.6" width="6.8" height="6.8" fill="#1f4e8c"/>
<text x="285" y="1030" font-size="10.5" text-anchor="start" fill="#262626">zebrafish</text>
<text x="285" y="1048.5" font-size="10.5" text-anchor="start" fill="#262626" font-style="italic">Xenopus</text>
<text x="281" y="1066" font-size="10.5" text-anchor="start" fill="#262626" font-style="italic">Drosophila</text>
<rect x="69.6" y="888.7" width="274.6" height="186.3" fill="none" stroke="#262626" stroke-width="1.1"/><path d="M69.6 1075v-3M69.6 888.7v3M206.9 1075v-3M206.9 888.7v3M344.2 1075v-3M344.2 888.7v3M90.3 1075v-2.5M90.3 888.7v2.5M102.4 1075v-2.5M102.4 888.7v2.5M110.9 1075v-2.5M110.9 888.7v2.5M117.6 1075v-2.5M117.6 888.7v2.5M123 1075v-2.5M123 888.7v2.5M127.6 1075v-2.5M127.6 888.7v2.5M131.6 1075v-2.5M131.6 888.7v2.5M135.1 1075v-2.5M135.1 888.7v2.5M158.9 1075v-2.5M158.9 888.7v2.5M171 1075v-2.5M171 888.7v2.5M179.6 1075v-2.5M179.6 888.7v2.5M186.2 1075v-2.5M186.2 888.7v2.5M191.7 1075v-2.5M191.7 888.7v2.5M196.3 1075v-2.5M196.3 888.7v2.5M200.2 1075v-2.5M200.2 888.7v2.5M203.8 1075v-2.5M203.8 888.7v2.5M227.6 1075v-2.5M227.6 888.7v2.5M239.7 1075v-2.5M239.7 888.7v2.5M248.2 1075v-2.5M248.2 888.7v2.5M254.9 1075v-2.5M254.9 888.7v2.5M260.3 1075v-2.5M260.3 888.7v2.5M264.9 1075v-2.5M264.9 888.7v2.5M268.9 1075v-2.5M268.9 888.7v2.5M272.4 1075v-2.5M272.4 888.7v2.5M296.2 1075v-2.5M296.2 888.7v2.5M308.3 1075v-2.5M308.3 888.7v2.5M316.9 1075v-2.5M316.9 888.7v2.5M323.5 1075v-2.5M323.5 888.7v2.5M329 1075v-2.5M329 888.7v2.5M333.6 1075v-2.5M333.6 888.7v2.5M337.5 1075v-2.5M337.5 888.7v2.5M341.1 1075v-2.5M341.1 888.7v2.5M69.6 926h2.5M344.2 926h-2.5M69.6 963.2h2.5M344.2 963.2h-2.5M69.6 1000.5h2.5M344.2 1000.5h-2.5M69.6 1037.7h2.5M344.2 1037.7h-2.5" stroke="#262626" stroke-width="1.1" fill="none"/>
<text x="70.1" y="1099" font-size="14" text-anchor="middle" fill="#262626">10<tspan dy="-6" font-size="11">-4</tspan></text>
<text x="207.4" y="1099" font-size="14" text-anchor="middle" fill="#262626">10<tspan dy="-6" font-size="11">-2</tspan></text>
<text x="344.7" y="1099" font-size="14" text-anchor="middle" fill="#262626">10<tspan dy="-6" font-size="11">0</tspan></text>
<text x="64" y="895" font-size="14" text-anchor="end" fill="#262626">10<tspan dy="-6" font-size="11">0</tspan></text>
<text x="64" y="1081" font-size="14" text-anchor="end" fill="#262626">10<tspan dy="-6" font-size="11">-5</tspan></text>
<text x="207" y="1125.5" font-size="16.5" text-anchor="middle" fill="#262626">(t/t<tspan dy="5" font-size="13.5">0</tspan><tspan dy="-5">)</tspan><tspan dy="-9" font-size="12">-</tspan><tspan font-size="14" font-style="italic" font-family='"Liberation Serif", serif'>&#946;</tspan></text>
<text x="0" y="0" font-size="16" text-anchor="middle" fill="#262626" transform="translate(44.5 975) rotate(-90)"><tspan font-family='"Liberation Serif", serif'>(&#931;-</tspan>S(t))/<tspan font-family='"Liberation Serif", serif' font-style="italic">&#915;</tspan></text>
<text x="1.5" y="895" font-size="25" text-anchor="start" fill="#000">(m)</text>
<path fill="#6ccdf2" stroke="#40b0e0" stroke-width="0.4" d="M448.9 1046.9l3.3 4.2l-3.3 4.2l-3.3 -4.2z"/><path fill="#6ccdf2" stroke="#40b0e0" stroke-width="0.4" d="M451.5 1043.4l3.3 4.2l-3.3 4.2l-3.3 -4.2z"/><path fill="#6ccdf2" stroke="#40b0e0" stroke-width="0.4" d="M455 1039.9l3.3 4.2l-3.3 4.2l-3.3 -4.2z"/><path fill="#6ccdf2" stroke="#40b0e0" stroke-width="0.4" d="M457.7 1038.1l3.3 4.2l-3.3 4.2l-3.3 -4.2z"/><path fill="#6ccdf2" stroke="#40b0e0" stroke-width="0.4" d="M461.2 1043.4l3.3 4.2l-3.3 4.2l-3.3 -4.2z"/><path fill="#6ccdf2" stroke="#40b0e0" stroke-width="0.4" d="M463.8 1041.6l3.3 4.2l-3.3 4.2l-3.3 -4.2z"/><path fill="#6ccdf2" stroke="#40b0e0" stroke-width="0.4" d="M472.6 1037.2l3.3 4.2l-3.3 4.2l-3.3 -4.2z"/><path fill="#6ccdf2" stroke="#40b0e0" stroke-width="0.4" d="M476.1 1034.6l3.3 4.2l-3.3 4.2l-3.3 -4.2z"/><path fill="#6ccdf2" stroke="#40b0e0" stroke-width="0.4" d="M479.6 1033.7l3.3 4.2l-3.3 4.2l-3.3 -4.2z"/><path fill="#6ccdf2" stroke="#40b0e0" stroke-width="0.4" d="M482.2 1031.1l3.3 4.2l-3.3 4.2l-3.3 -4.2z"/><path fill="#6ccdf2" stroke="#40b0e0" stroke-width="0.4" d="M484.8 1028.5l3.3 4.2l-3.3 4.2l-3.3 -4.2z"/><path fill="#6ccdf2" stroke="#40b0e0" stroke-width="0.4" d="M491.8 1029.3l3.3 4.2l-3.3 4.2l-3.3 -4.2z"/><path fill="#6ccdf2" stroke="#40b0e0" stroke-width="0.4" d="M495.3 1025l3.3 4.2l-3.3 4.2l-3.3 -4.2z"/><path fill="#6ccdf2" stroke="#40b0e0" stroke-width="0.4" d="M499.7 1008.3l3.3 4.2l-3.3 4.2l-3.3 -4.2z"/><path fill="#6ccdf2" stroke="#40b0e0" stroke-width="0.4" d="M511.1 1002.2l3.3 4.2l-3.3 4.2l-3.3 -4.2z"/><path fill="#6ccdf2" stroke="#40b0e0" stroke-width="0.4" d="M509.3 1004.8l3.3 4.2l-3.3 4.2l-3.3 -4.2z"/><path fill="#6ccdf2" stroke="#40b0e0" stroke-width="0.4" d="M480.4 1024.1l3.3 4.2l-3.3 4.2l-3.3 -4.2z"/><path fill="#6ccdf2" stroke="#40b0e0" stroke-width="0.4" d="M453.3 1048.6l3.3 4.2l-3.3 4.2l-3.3 -4.2z"/><path fill="#6ccdf2" stroke="#40b0e0" stroke-width="0.4" d="M469.1 1039.9l3.3 4.2l-3.3 4.2l-3.3 -4.2z"/><rect x="428.3" y="1048.8" width="6.2" height="6.2" fill="#f598cf" stroke="#e0409f" stroke-width="0.7"/><rect x="433.5" y="1052.3" width="6.2" height="6.2" fill="#f598cf" stroke="#e0409f" stroke-width="0.7"/><rect x="427.4" y="1062.9" width="6.2" height="6.2" fill="#f598cf" stroke="#e0409f" stroke-width="0.7"/><rect x="431.8" y="1068.1" width="6.2" height="6.2" fill="#f598cf" stroke="#e0409f" stroke-width="0.7"/><rect x="436.2" y="1064.6" width="6.2" height="6.2" fill="#f598cf" stroke="#e0409f" stroke-width="0.7"/><rect x="441.4" y="1063.7" width="6.2" height="6.2" fill="#f598cf" stroke="#e0409f" stroke-width="0.7"/><rect x="445.8" y="1062" width="6.2" height="6.2" fill="#f598cf" stroke="#e0409f" stroke-width="0.7"/><rect x="430" y="1073.4" width="6.2" height="6.2" fill="#f598cf" stroke="#e0409f" stroke-width="0.7"/><rect x="453.7" y="1044.5" width="6.2" height="6.2" fill="#f598cf" stroke="#e0409f" stroke-width="0.7"/><rect x="502.7" y="1013.8" width="6.2" height="6.2" fill="#f598cf" stroke="#e0409f" stroke-width="0.7"/><rect x="463.6" y="1048.3" width="5.6" height="5.6" fill="#f03ca0" stroke="#d02080" stroke-width="0.5"/><rect x="466.3" y="1034.2" width="5.6" height="5.6" fill="#f03ca0" stroke="#d02080" stroke-width="0.5"/><rect x="468.9" y="1031.6" width="5.6" height="5.6" fill="#f03ca0" stroke="#d02080" stroke-width="0.5"/><rect x="469.8" y="1029" width="5.6" height="5.6" fill="#f03ca0" stroke="#d02080" stroke-width="0.5"/><rect x="473.3" y="1028.1" width="5.6" height="5.6" fill="#f03ca0" stroke="#d02080" stroke-width="0.5"/><rect x="475.9" y="1029.9" width="5.6" height="5.6" fill="#f03ca0" stroke="#d02080" stroke-width="0.5"/><rect x="467.1" y="1038.6" width="5.6" height="5.6" fill="#f03ca0" stroke="#d02080" stroke-width="0.5"/><rect x="471.5" y="1034.2" width="5.6" height="5.6" fill="#f03ca0" stroke="#d02080" stroke-width="0.5"/><rect x="478.5" y="1027.2" width="5.6" height="5.6" fill="#f03ca0" stroke="#d02080" stroke-width="0.5"/><rect x="517.9" y="1002.7" width="5.6" height="5.6" fill="#f03ca0" stroke="#d02080" stroke-width="0.5"/><rect x="464.5" y="1044.8" width="5.6" height="5.6" fill="#f03ca0" stroke="#d02080" stroke-width="0.5"/><rect x="484" y="1023.9" width="5.2" height="5.2" fill="#8b1a3a"/><rect x="487.5" y="1025.7" width="5.2" height="5.2" fill="#8b1a3a"/><rect x="491" y="1022.2" width="5.2" height="5.2" fill="#8b1a3a"/><rect x="494.5" y="1020.4" width="5.2" height="5.2" fill="#8b1a3a"/><rect x="498" y="1015.2" width="5.2" height="5.2" fill="#8b1a3a"/><rect x="486.6" y="1030.9" width="5.2" height="5.2" fill="#8b1a3a"/><rect x="484" y="1030.1" width="5.2" height="5.2" fill="#8b1a3a"/><rect x="498.9" y="1014.3" width="5.2" height="5.2" fill="#8b1a3a"/><path fill="#1d5a80" d="M500.6 1007.8l3 3.8l-3 3.8l-3 -3.8z"/><path fill="#1d5a80" d="M495.3 1028.9l3 3.8l-3 3.8l-3 -3.8z"/><path fill="#1d5a80" d="M491.8 1026.2l3 3.8l-3 3.8l-3 -3.8z"/><path fill="#1d5a80" d="M498.8 1010.5l3 3.8l-3 3.8l-3 -3.8z"/><rect x="485.8" y="1022.3" width="5" height="5" fill="#2a1020"/><rect x="491.1" y="1024.9" width="5" height="5" fill="#2a1020"/><rect x="488.5" y="1023.2" width="5" height="5" fill="#2a1020"/><path fill="#8fd5f5" stroke="#5ab8e8" stroke-width="0.5" d="M559 966.5l3.8 5l-3.8 5l-3.8 -5z"/><rect x="665.5" y="894.5" width="7" height="7" fill="#f598cf" stroke="#e0409f" stroke-width="0.8"/>
<path d="M417.5 1077.8L681.2 890.2" stroke="#7f7f7f" stroke-width="3.5"/>
<rect x="447.9" y="1008.6" width="74" height="54.9" fill="none" stroke="#444" stroke-width="1.1" stroke-dasharray="3 2.2"/>
<rect x="424" y="896.4" width="124.3" height="90.3" fill="#fff" stroke="#6a6a6a" stroke-width="1"/>
<path d="M424 986.7L548.3 896.4" stroke="#7f7f7f" stroke-width="1.3"/>
<g><path fill="#55c3ee" d="M427.9 973.5l2.6 3.2l-2.6 3.2l-2.6 -3.2z"/><path fill="#55c3ee" d="M429.9 971.5l2.6 3.2l-2.6 3.2l-2.6 -3.2z"/><path fill="#55c3ee" d="M431.8 969.6l2.6 3.2l-2.6 3.2l-2.6 -3.2z"/><path fill="#55c3ee" d="M434.8 964.6l2.6 3.2l-2.6 3.2l-2.6 -3.2z"/><path fill="#55c3ee" d="M436.8 961.7l2.6 3.2l-2.6 3.2l-2.6 -3.2z"/><path fill="#55c3ee" d="M438.7 962.7l2.6 3.2l-2.6 3.2l-2.6 -3.2z"/><path fill="#55c3ee" d="M439.7 964.6l2.6 3.2l-2.6 3.2l-2.6 -3.2z"/><path fill="#55c3ee" d="M433.8 967.6l2.6 3.2l-2.6 3.2l-2.6 -3.2z"/><path fill="#55c3ee" d="M428.9 976.5l2.6 3.2l-2.6 3.2l-2.6 -3.2z"/><path fill="#55c3ee" d="M426.9 978.4l2.6 3.2l-2.6 3.2l-2.6 -3.2z"/><path fill="#55c3ee" d="M444.6 971.5l2.6 3.2l-2.6 3.2l-2.6 -3.2z"/><path fill="#55c3ee" d="M447.6 966.6l2.6 3.2l-2.6 3.2l-2.6 -3.2z"/><path fill="#55c3ee" d="M450.5 970.6l2.6 3.2l-2.6 3.2l-2.6 -3.2z"/><path fill="#55c3ee" d="M453.5 967.6l2.6 3.2l-2.6 3.2l-2.6 -3.2z"/><path fill="#55c3ee" d="M457.4 967.6l2.6 3.2l-2.6 3.2l-2.6 -3.2z"/><path fill="#55c3ee" d="M461.4 959.7l2.6 3.2l-2.6 3.2l-2.6 -3.2z"/><path fill="#55c3ee" d="M467.3 956.8l2.6 3.2l-2.6 3.2l-2.6 -3.2z"/><path fill="#55c3ee" d="M473.2 955.8l2.6 3.2l-2.6 3.2l-2.6 -3.2z"/><path fill="#55c3ee" d="M475.2 949.9l2.6 3.2l-2.6 3.2l-2.6 -3.2z"/><path fill="#55c3ee" d="M481.1 949.5l2.6 3.2l-2.6 3.2l-2.6 -3.2z"/><path fill="#55c3ee" d="M479.1 941l2.6 3.2l-2.6 3.2l-2.6 -3.2z"/><path fill="#55c3ee" d="M483.1 939l2.6 3.2l-2.6 3.2l-2.6 -3.2z"/><path fill="#55c3ee" d="M487 942l2.6 3.2l-2.6 3.2l-2.6 -3.2z"/><path fill="#55c3ee" d="M489 937.1l2.6 3.2l-2.6 3.2l-2.6 -3.2z"/><path fill="#55c3ee" d="M477.2 944l2.6 3.2l-2.6 3.2l-2.6 -3.2z"/><path fill="#55c3ee" d="M502.8 939l2.6 3.2l-2.6 3.2l-2.6 -3.2z"/><path fill="#55c3ee" d="M507.7 929.2l2.6 3.2l-2.6 3.2l-2.6 -3.2z"/><path fill="#55c3ee" d="M537.3 895.7l2.6 3.2l-2.6 3.2l-2.6 -3.2z"/><path fill="#55c3ee" d="M515.6 907.5l2.6 3.2l-2.6 3.2l-2.6 -3.2z"/><path fill="#55c3ee" d="M485 940l2.6 3.2l-2.6 3.2l-2.6 -3.2z"/><path fill="#55c3ee" d="M490 939l2.6 3.2l-2.6 3.2l-2.6 -3.2z"/><path fill="#55c3ee" d="M480.1 937.1l2.6 3.2l-2.6 3.2l-2.6 -3.2z"/><circle cx="469.3" cy="956" r="2.4" fill="#b8862a"/><circle cx="478.1" cy="951.1" r="2.4" fill="#b8862a"/><circle cx="483.1" cy="938.3" r="2.4" fill="#b8862a"/><circle cx="487" cy="939.3" r="2.4" fill="#b8862a"/><circle cx="493.9" cy="932.4" r="2.4" fill="#b8862a"/><circle cx="510.7" cy="926.5" r="2.4" fill="#b8862a"/><path fill="#8b1a3a" d="M491.9 944l2.6 3.2l-2.6 3.2l-2.6 -3.2z"/><path fill="#8b1a3a" d="M492.9 939l2.6 3.2l-2.6 3.2l-2.6 -3.2z"/><path fill="#8b1a3a" d="M517.6 913.4l2.6 3.2l-2.6 3.2l-2.6 -3.2z"/><path fill="#8b1a3a" d="M504.7 928.2l2.6 3.2l-2.6 3.2l-2.6 -3.2z"/><path fill="#8b1a3a" d="M490.9 934.1l2.6 3.2l-2.6 3.2l-2.6 -3.2z"/><path fill="#8b1a3a" d="M495.9 931.1l2.6 3.2l-2.6 3.2l-2.6 -3.2z"/><path fill="#1d5a80" d="M498.8 933.1l2.6 3.2l-2.6 3.2l-2.6 -3.2z"/><path fill="#1d5a80" d="M500.8 926.2l2.6 3.2l-2.6 3.2l-2.6 -3.2z"/><path fill="#1d5a80" d="M506.7 927.2l2.6 3.2l-2.6 3.2l-2.6 -3.2z"/><path fill="#1d5a80" d="M510.7 921.3l2.6 3.2l-2.6 3.2l-2.6 -3.2z"/><path fill="#1d5a80" d="M516.6 908.5l2.6 3.2l-2.6 3.2l-2.6 -3.2z"/><path fill="#1d5a80" d="M502.8 930.2l2.6 3.2l-2.6 3.2l-2.6 -3.2z"/><rect x="454.7" y="976.9" width="3.6" height="3.6" fill="#e8259a"/><rect x="456.6" y="965.1" width="3.6" height="3.6" fill="#e8259a"/><rect x="458.6" y="956.8" width="3.6" height="3.6" fill="#e8259a"/><rect x="461.2" y="953.2" width="3.6" height="3.6" fill="#e8259a"/><rect x="467.5" y="946.3" width="3.6" height="3.6" fill="#e8259a"/><rect x="471.4" y="944" width="3.6" height="3.6" fill="#e8259a"/><rect x="476.3" y="941" width="3.6" height="3.6" fill="#e8259a"/><rect x="483.2" y="939" width="3.6" height="3.6" fill="#e8259a"/><rect x="493.1" y="929.6" width="3.6" height="3.6" fill="#e8259a"/><rect x="509.8" y="923.7" width="3.6" height="3.6" fill="#e8259a"/><rect x="464" y="941.1" width="3.4" height="3.4" fill="#f6c0de" stroke="#e860b0" stroke-width="0.6"/><rect x="437.4" y="970.1" width="3.4" height="3.4" fill="#f6c0de" stroke="#e860b0" stroke-width="0.6"/><rect x="524.7" y="912.9" width="3.4" height="3.4" fill="#f6c0de" stroke="#e860b0" stroke-width="0.6"/></g>
<rect x="424" y="896.4" width="124.3" height="90.3" fill="none" stroke="#6a6a6a" stroke-width="0.6"/><path d="M451.6 986.7v-1.5M451.6 896.4v1.5M479.2 986.7v-1.5M479.2 896.4v1.5M506.9 986.7v-1.5M506.9 896.4v1.5M534.5 986.7v-1.5M534.5 896.4v1.5M424 916.5h1.5M548.3 916.5h-1.5M424 936.5h1.5M548.3 936.5h-1.5M424 956.6h1.5M548.3 956.6h-1.5M424 976.7h1.5M548.3 976.7h-1.5" stroke="#6a6a6a" stroke-width="0.6" fill="none"/>
<rect x="417.5" y="890.2" width="263.7" height="187.8" fill="none" stroke="#262626" stroke-width="1.1"/><path d="M417.5 1078v-3M417.5 890.2v3M494.7 1078v-3M494.7 890.2v3M571.9 1078v-3M571.9 890.2v3M649.1 1078v-3M649.1 890.2v3M417.5 1078h3M681.2 1078h-3M417.5 1023.2h3M681.2 1023.2h-3M417.5 968.4h3M681.2 968.4h-3M417.5 913.6h3M681.2 913.6h-3" stroke="#262626" stroke-width="1.1" fill="none"/>
<text x="417.5" y="1097" font-size="14" text-anchor="middle" fill="#262626">0</text>
<text x="410.5" y="1083" font-size="14" text-anchor="end" fill="#262626">0</text>
<text x="494.7" y="1097" font-size="14" text-anchor="middle" fill="#262626">1</text>
<text x="410.5" y="1028.2" font-size="14" text-anchor="end" fill="#262626">1</text>
<text x="571.9" y="1097" font-size="14" text-anchor="middle" fill="#262626">2</text>
<text x="410.5" y="973.4" font-size="14" text-anchor="end" fill="#262626">2</text>
<text x="649.1" y="1097" font-size="14" text-anchor="middle" fill="#262626">3</text>
<text x="410.5" y="918.6" font-size="14" text-anchor="end" fill="#262626">3</text>
<text x="550" y="1123" font-size="16.5" text-anchor="middle" fill="#262626">(r/r<tspan dy="5" font-size="13.5">0</tspan><tspan dy="-5">)</tspan><tspan dy="-9" font-size="12">-</tspan><tspan font-size="14" font-style="italic" font-family='"Liberation Serif", serif'>&#945;</tspan></text>
<text x="0" y="0" font-size="16" text-anchor="middle" fill="#262626" transform="translate(391 985) rotate(-90)">C<tspan dy="5" font-size="12">S</tspan><tspan dy="-5">(r)/</tspan><tspan font-family='"Liberation Serif", serif' font-style="italic">&#915;</tspan><tspan dy="5" font-size="12">0</tspan></text>
<text x="365.5" y="897" font-size="25" text-anchor="start" fill="#000">(n)</text>
<circle cx="605.8" cy="1033.4" r="4.3" fill="#f5a21f" stroke="#e07b00" stroke-width="0.6"/>
<path d="M605.8 1047.3l4.5 4.5l-4.5 4.5l-4.5 -4.5z" fill="#1b8fe0"/>
<rect x="602" y="1066" width="7.5" height="7.5" fill="#f03ca0"/>
<text x="618.5" y="1037" font-size="10.5" text-anchor="start" fill="#262626">zebrafish</text>
<text x="619.5" y="1055.5" font-size="10.5" text-anchor="start" fill="#262626" font-style="italic">Xenopus</text>
<text x="615" y="1073.5" font-size="10.5" text-anchor="start" fill="#262626" font-style="italic">Drosophila</text>
</svg>
</body></html>
